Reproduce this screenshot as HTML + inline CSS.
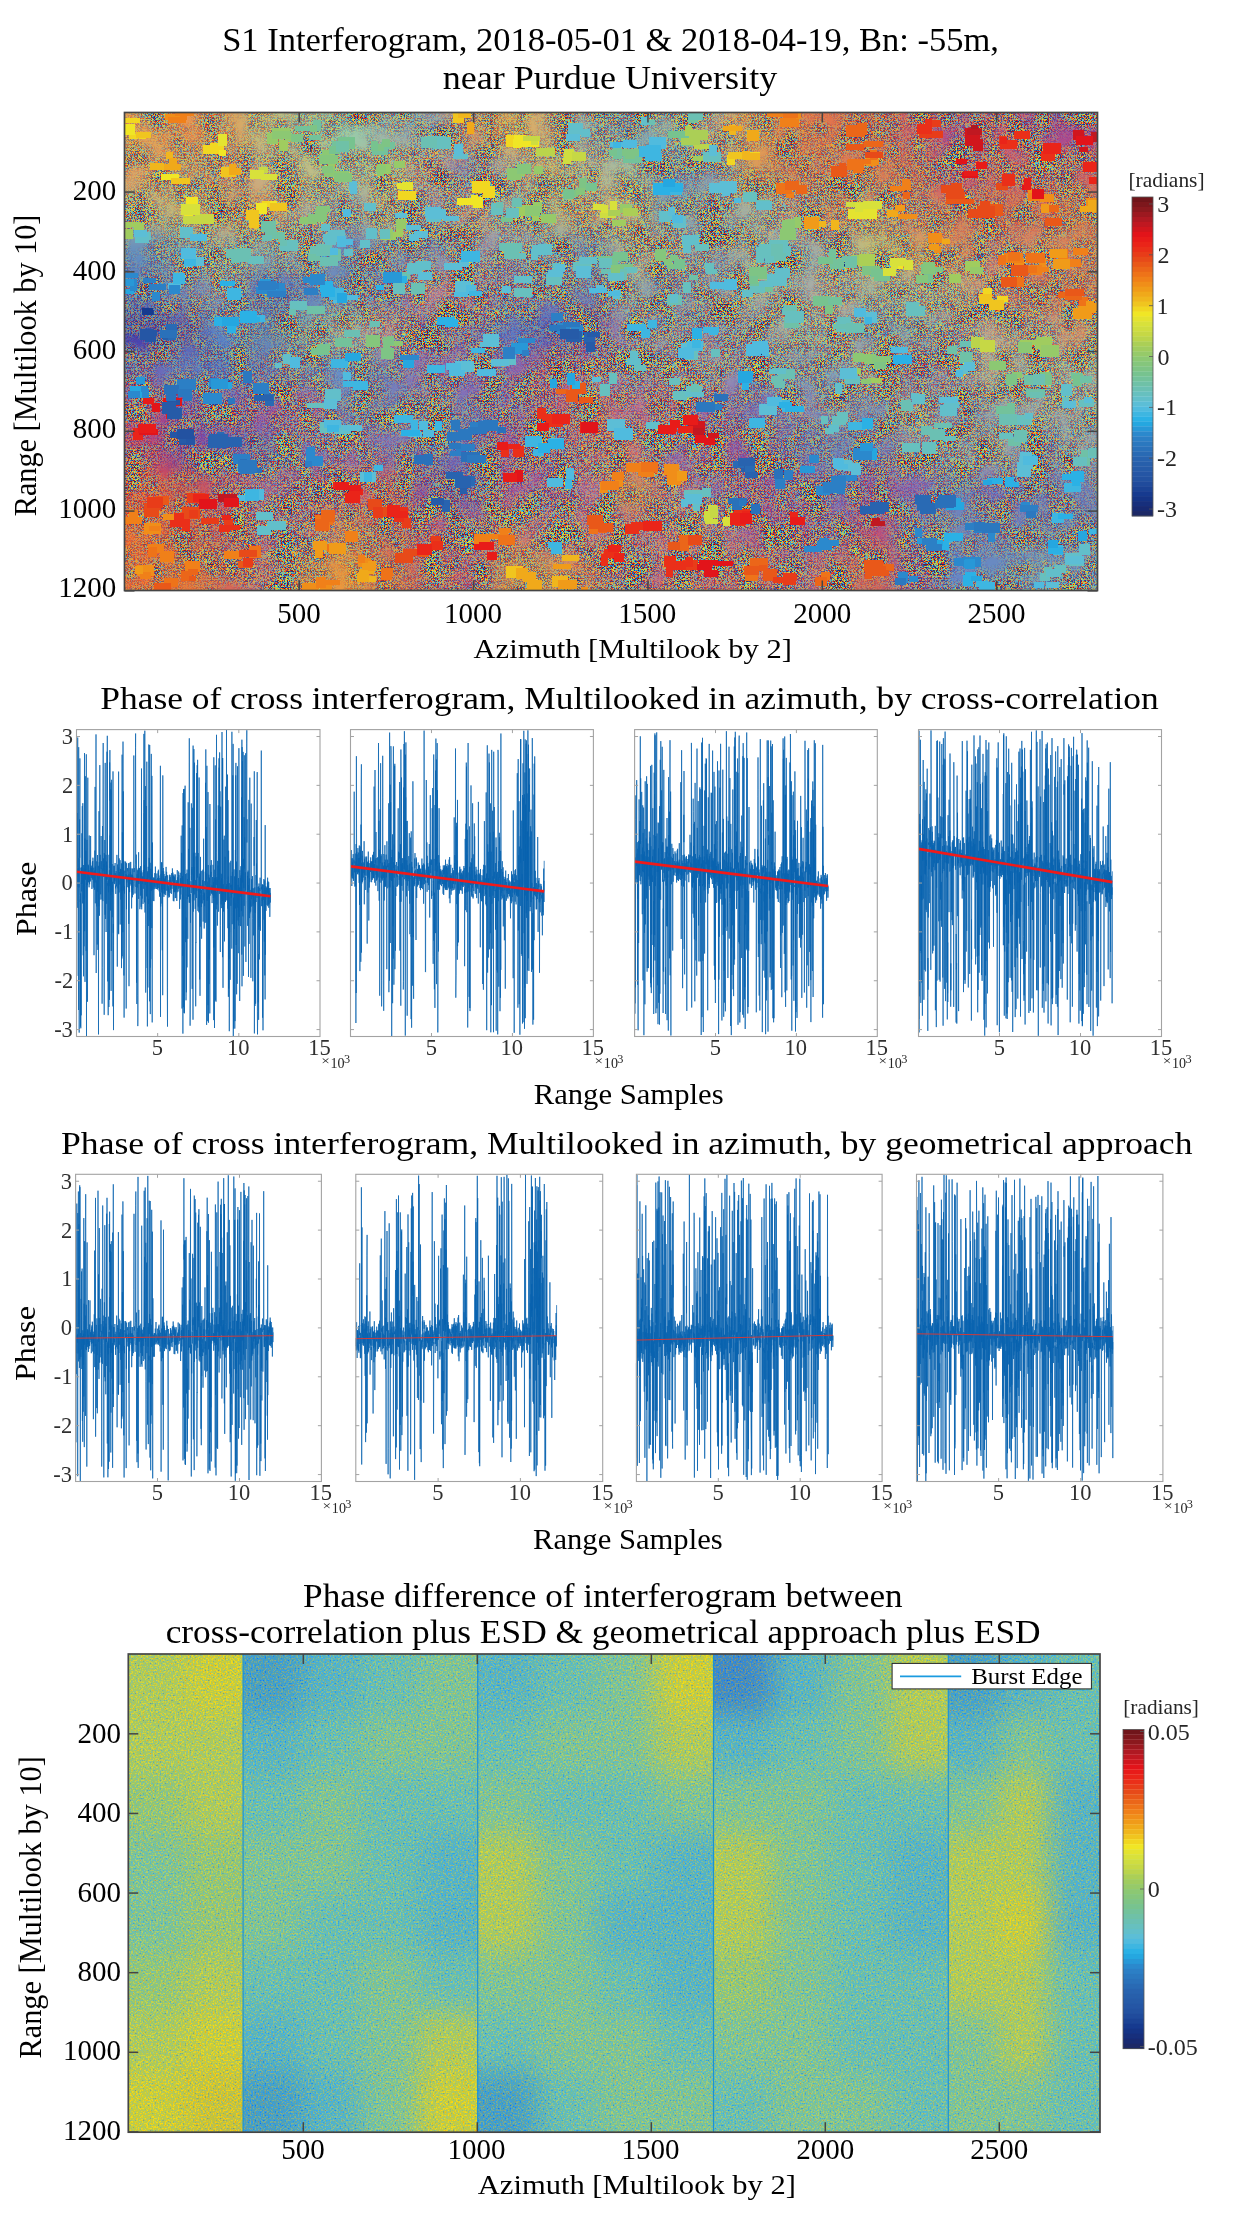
<!DOCTYPE html>
<html><head><meta charset="utf-8"><title>Interferogram figure</title>
<style>
html,body{margin:0;padding:0;background:#fff;width:1233px;height:2224px;overflow:hidden}
svg{display:block;will-change:transform}
text{font-family:"Liberation Serif",serif;font-kerning:none;white-space:pre}
</style></head><body>
<svg width="1233" height="2224" viewBox="0 0 1233 2224">
<defs>
<filter id="ftop" filterUnits="userSpaceOnUse" x="3.5" y="-6.25" width="1215.0" height="715.5" color-interpolation-filters="sRGB"><feGaussianBlur stdDeviation="11"/></filter>
<clipPath id="ftopc"><rect x="125.0" y="113.0" width="972.0" height="477.0"/></clipPath>
<filter id="ftopm" filterUnits="userSpaceOnUse" x="3.5" y="-6.25" width="1215.0" height="715.5" color-interpolation-filters="sRGB"><feGaussianBlur stdDeviation="11"/></filter>
<clipPath id="ftopmc"><rect x="125.0" y="113.0" width="972.0" height="477.0"/></clipPath>
<filter id="modTop" filterUnits="userSpaceOnUse" x="125" y="113" width="972" height="477" color-interpolation-filters="sRGB"><feTurbulence type="fractalNoise" baseFrequency="0.04" numOctaves="3" seed="4" result="t"/><feColorMatrix in="t" type="matrix" values="1 0 0 0 0  1 0 0 0 0  1 0 0 0 0  0 0 0 0 1" result="tg"/><feComposite in="SourceGraphic" in2="tg" operator="arithmetic" k1="0" k2="1" k3="1.6" k4="-0.8"/></filter>
<mask id="mTop" maskUnits="userSpaceOnUse" x="125" y="113" width="972" height="477"><g filter="url(#modTop)"><g clip-path="url(#ftopmc)"><g filter="url(#ftopm)">
<rect x="84.50" y="73.25" width="41.00" height="40.25" fill="#737373"/>
<rect x="125.00" y="73.25" width="41.00" height="40.25" fill="#737373"/>
<rect x="165.50" y="73.25" width="41.00" height="40.25" fill="#737373"/>
<rect x="206.00" y="73.25" width="41.00" height="40.25" fill="#737373"/>
<rect x="246.50" y="73.25" width="41.00" height="40.25" fill="#787878"/>
<rect x="287.00" y="73.25" width="41.00" height="40.25" fill="#777777"/>
<rect x="327.50" y="73.25" width="41.00" height="40.25" fill="#737373"/>
<rect x="368.00" y="73.25" width="41.00" height="40.25" fill="#7e7e7e"/>
<rect x="408.50" y="73.25" width="41.00" height="40.25" fill="#8f8f8f"/>
<rect x="449.00" y="73.25" width="41.00" height="40.25" fill="#8b8b8b"/>
<rect x="489.50" y="73.25" width="41.00" height="40.25" fill="#737373"/>
<rect x="530.00" y="73.25" width="41.00" height="40.25" fill="#868686"/>
<rect x="570.50" y="73.25" width="41.00" height="40.25" fill="#8e8e8e"/>
<rect x="611.00" y="73.25" width="41.00" height="40.25" fill="#878787"/>
<rect x="651.50" y="73.25" width="41.00" height="40.25" fill="#898989"/>
<rect x="692.00" y="73.25" width="41.00" height="40.25" fill="#989898"/>
<rect x="732.50" y="73.25" width="41.00" height="40.25" fill="#737373"/>
<rect x="773.00" y="73.25" width="41.00" height="40.25" fill="#737373"/>
<rect x="813.50" y="73.25" width="41.00" height="40.25" fill="#737373"/>
<rect x="854.00" y="73.25" width="41.00" height="40.25" fill="#878787"/>
<rect x="894.50" y="73.25" width="41.00" height="40.25" fill="#969696"/>
<rect x="935.00" y="73.25" width="41.00" height="40.25" fill="#b2b2b2"/>
<rect x="975.50" y="73.25" width="41.00" height="40.25" fill="#a3a3a3"/>
<rect x="1016.00" y="73.25" width="41.00" height="40.25" fill="#a8a8a8"/>
<rect x="1056.50" y="73.25" width="41.00" height="40.25" fill="#a7a7a7"/>
<rect x="1097.00" y="73.25" width="41.00" height="40.25" fill="#a7a7a7"/>
<rect x="84.50" y="113.00" width="41.00" height="40.25" fill="#737373"/>
<rect x="125.00" y="113.00" width="41.00" height="40.25" fill="#737373"/>
<rect x="165.50" y="113.00" width="41.00" height="40.25" fill="#737373"/>
<rect x="206.00" y="113.00" width="41.00" height="40.25" fill="#737373"/>
<rect x="246.50" y="113.00" width="41.00" height="40.25" fill="#787878"/>
<rect x="287.00" y="113.00" width="41.00" height="40.25" fill="#777777"/>
<rect x="327.50" y="113.00" width="41.00" height="40.25" fill="#737373"/>
<rect x="368.00" y="113.00" width="41.00" height="40.25" fill="#7e7e7e"/>
<rect x="408.50" y="113.00" width="41.00" height="40.25" fill="#8f8f8f"/>
<rect x="449.00" y="113.00" width="41.00" height="40.25" fill="#8b8b8b"/>
<rect x="489.50" y="113.00" width="41.00" height="40.25" fill="#737373"/>
<rect x="530.00" y="113.00" width="41.00" height="40.25" fill="#868686"/>
<rect x="570.50" y="113.00" width="41.00" height="40.25" fill="#8e8e8e"/>
<rect x="611.00" y="113.00" width="41.00" height="40.25" fill="#878787"/>
<rect x="651.50" y="113.00" width="41.00" height="40.25" fill="#898989"/>
<rect x="692.00" y="113.00" width="41.00" height="40.25" fill="#989898"/>
<rect x="732.50" y="113.00" width="41.00" height="40.25" fill="#737373"/>
<rect x="773.00" y="113.00" width="41.00" height="40.25" fill="#737373"/>
<rect x="813.50" y="113.00" width="41.00" height="40.25" fill="#737373"/>
<rect x="854.00" y="113.00" width="41.00" height="40.25" fill="#878787"/>
<rect x="894.50" y="113.00" width="41.00" height="40.25" fill="#969696"/>
<rect x="935.00" y="113.00" width="41.00" height="40.25" fill="#b2b2b2"/>
<rect x="975.50" y="113.00" width="41.00" height="40.25" fill="#a3a3a3"/>
<rect x="1016.00" y="113.00" width="41.00" height="40.25" fill="#a8a8a8"/>
<rect x="1056.50" y="113.00" width="41.00" height="40.25" fill="#a7a7a7"/>
<rect x="1097.00" y="113.00" width="41.00" height="40.25" fill="#a7a7a7"/>
<rect x="84.50" y="152.75" width="41.00" height="40.25" fill="#737373"/>
<rect x="125.00" y="152.75" width="41.00" height="40.25" fill="#737373"/>
<rect x="165.50" y="152.75" width="41.00" height="40.25" fill="#777777"/>
<rect x="206.00" y="152.75" width="41.00" height="40.25" fill="#898989"/>
<rect x="246.50" y="152.75" width="41.00" height="40.25" fill="#8f8f8f"/>
<rect x="287.00" y="152.75" width="41.00" height="40.25" fill="#7b7b7b"/>
<rect x="327.50" y="152.75" width="41.00" height="40.25" fill="#7e7e7e"/>
<rect x="368.00" y="152.75" width="41.00" height="40.25" fill="#818181"/>
<rect x="408.50" y="152.75" width="41.00" height="40.25" fill="#9a9a9a"/>
<rect x="449.00" y="152.75" width="41.00" height="40.25" fill="#a0a0a0"/>
<rect x="489.50" y="152.75" width="41.00" height="40.25" fill="#999999"/>
<rect x="530.00" y="152.75" width="41.00" height="40.25" fill="#7b7b7b"/>
<rect x="570.50" y="152.75" width="41.00" height="40.25" fill="#888888"/>
<rect x="611.00" y="152.75" width="41.00" height="40.25" fill="#828282"/>
<rect x="651.50" y="152.75" width="41.00" height="40.25" fill="#8f8f8f"/>
<rect x="692.00" y="152.75" width="41.00" height="40.25" fill="#9e9e9e"/>
<rect x="732.50" y="152.75" width="41.00" height="40.25" fill="#777777"/>
<rect x="773.00" y="152.75" width="41.00" height="40.25" fill="#858585"/>
<rect x="813.50" y="152.75" width="41.00" height="40.25" fill="#848484"/>
<rect x="854.00" y="152.75" width="41.00" height="40.25" fill="#7d7d7d"/>
<rect x="894.50" y="152.75" width="41.00" height="40.25" fill="#898989"/>
<rect x="935.00" y="152.75" width="41.00" height="40.25" fill="#aaaaaa"/>
<rect x="975.50" y="152.75" width="41.00" height="40.25" fill="#989898"/>
<rect x="1016.00" y="152.75" width="41.00" height="40.25" fill="#a7a7a7"/>
<rect x="1056.50" y="152.75" width="41.00" height="40.25" fill="#9a9a9a"/>
<rect x="1097.00" y="152.75" width="41.00" height="40.25" fill="#9a9a9a"/>
<rect x="84.50" y="192.50" width="41.00" height="40.25" fill="#858585"/>
<rect x="125.00" y="192.50" width="41.00" height="40.25" fill="#858585"/>
<rect x="165.50" y="192.50" width="41.00" height="40.25" fill="#828282"/>
<rect x="206.00" y="192.50" width="41.00" height="40.25" fill="#8c8c8c"/>
<rect x="246.50" y="192.50" width="41.00" height="40.25" fill="#868686"/>
<rect x="287.00" y="192.50" width="41.00" height="40.25" fill="#969696"/>
<rect x="327.50" y="192.50" width="41.00" height="40.25" fill="#979797"/>
<rect x="368.00" y="192.50" width="41.00" height="40.25" fill="#808080"/>
<rect x="408.50" y="192.50" width="41.00" height="40.25" fill="#a7a7a7"/>
<rect x="449.00" y="192.50" width="41.00" height="40.25" fill="#9d9d9d"/>
<rect x="489.50" y="192.50" width="41.00" height="40.25" fill="#969696"/>
<rect x="530.00" y="192.50" width="41.00" height="40.25" fill="#7b7b7b"/>
<rect x="570.50" y="192.50" width="41.00" height="40.25" fill="#8e8e8e"/>
<rect x="611.00" y="192.50" width="41.00" height="40.25" fill="#797979"/>
<rect x="651.50" y="192.50" width="41.00" height="40.25" fill="#8d8d8d"/>
<rect x="692.00" y="192.50" width="41.00" height="40.25" fill="#949494"/>
<rect x="732.50" y="192.50" width="41.00" height="40.25" fill="#939393"/>
<rect x="773.00" y="192.50" width="41.00" height="40.25" fill="#a4a4a4"/>
<rect x="813.50" y="192.50" width="41.00" height="40.25" fill="#8f8f8f"/>
<rect x="854.00" y="192.50" width="41.00" height="40.25" fill="#939393"/>
<rect x="894.50" y="192.50" width="41.00" height="40.25" fill="#9b9b9b"/>
<rect x="935.00" y="192.50" width="41.00" height="40.25" fill="#868686"/>
<rect x="975.50" y="192.50" width="41.00" height="40.25" fill="#7c7c7c"/>
<rect x="1016.00" y="192.50" width="41.00" height="40.25" fill="#838383"/>
<rect x="1056.50" y="192.50" width="41.00" height="40.25" fill="#7b7b7b"/>
<rect x="1097.00" y="192.50" width="41.00" height="40.25" fill="#7b7b7b"/>
<rect x="84.50" y="232.25" width="41.00" height="40.25" fill="#737373"/>
<rect x="125.00" y="232.25" width="41.00" height="40.25" fill="#737373"/>
<rect x="165.50" y="232.25" width="41.00" height="40.25" fill="#878787"/>
<rect x="206.00" y="232.25" width="41.00" height="40.25" fill="#919191"/>
<rect x="246.50" y="232.25" width="41.00" height="40.25" fill="#8c8c8c"/>
<rect x="287.00" y="232.25" width="41.00" height="40.25" fill="#929292"/>
<rect x="327.50" y="232.25" width="41.00" height="40.25" fill="#787878"/>
<rect x="368.00" y="232.25" width="41.00" height="40.25" fill="#949494"/>
<rect x="408.50" y="232.25" width="41.00" height="40.25" fill="#969696"/>
<rect x="449.00" y="232.25" width="41.00" height="40.25" fill="#a6a6a6"/>
<rect x="489.50" y="232.25" width="41.00" height="40.25" fill="#9f9f9f"/>
<rect x="530.00" y="232.25" width="41.00" height="40.25" fill="#919191"/>
<rect x="570.50" y="232.25" width="41.00" height="40.25" fill="#838383"/>
<rect x="611.00" y="232.25" width="41.00" height="40.25" fill="#8b8b8b"/>
<rect x="651.50" y="232.25" width="41.00" height="40.25" fill="#9e9e9e"/>
<rect x="692.00" y="232.25" width="41.00" height="40.25" fill="#999999"/>
<rect x="732.50" y="232.25" width="41.00" height="40.25" fill="#8a8a8a"/>
<rect x="773.00" y="232.25" width="41.00" height="40.25" fill="#8f8f8f"/>
<rect x="813.50" y="232.25" width="41.00" height="40.25" fill="#8f8f8f"/>
<rect x="854.00" y="232.25" width="41.00" height="40.25" fill="#7b7b7b"/>
<rect x="894.50" y="232.25" width="41.00" height="40.25" fill="#848484"/>
<rect x="935.00" y="232.25" width="41.00" height="40.25" fill="#8f8f8f"/>
<rect x="975.50" y="232.25" width="41.00" height="40.25" fill="#a8a8a8"/>
<rect x="1016.00" y="232.25" width="41.00" height="40.25" fill="#999999"/>
<rect x="1056.50" y="232.25" width="41.00" height="40.25" fill="#909090"/>
<rect x="1097.00" y="232.25" width="41.00" height="40.25" fill="#909090"/>
<rect x="84.50" y="272.00" width="41.00" height="40.25" fill="#737373"/>
<rect x="125.00" y="272.00" width="41.00" height="40.25" fill="#737373"/>
<rect x="165.50" y="272.00" width="41.00" height="40.25" fill="#969696"/>
<rect x="206.00" y="272.00" width="41.00" height="40.25" fill="#989898"/>
<rect x="246.50" y="272.00" width="41.00" height="40.25" fill="#737373"/>
<rect x="287.00" y="272.00" width="41.00" height="40.25" fill="#737373"/>
<rect x="327.50" y="272.00" width="41.00" height="40.25" fill="#808080"/>
<rect x="368.00" y="272.00" width="41.00" height="40.25" fill="#9b9b9b"/>
<rect x="408.50" y="272.00" width="41.00" height="40.25" fill="#ababab"/>
<rect x="449.00" y="272.00" width="41.00" height="40.25" fill="#b9b9b9"/>
<rect x="489.50" y="272.00" width="41.00" height="40.25" fill="#9a9a9a"/>
<rect x="530.00" y="272.00" width="41.00" height="40.25" fill="#929292"/>
<rect x="570.50" y="272.00" width="41.00" height="40.25" fill="#929292"/>
<rect x="611.00" y="272.00" width="41.00" height="40.25" fill="#949494"/>
<rect x="651.50" y="272.00" width="41.00" height="40.25" fill="#999999"/>
<rect x="692.00" y="272.00" width="41.00" height="40.25" fill="#a4a4a4"/>
<rect x="732.50" y="272.00" width="41.00" height="40.25" fill="#909090"/>
<rect x="773.00" y="272.00" width="41.00" height="40.25" fill="#959595"/>
<rect x="813.50" y="272.00" width="41.00" height="40.25" fill="#949494"/>
<rect x="854.00" y="272.00" width="41.00" height="40.25" fill="#8a8a8a"/>
<rect x="894.50" y="272.00" width="41.00" height="40.25" fill="#8c8c8c"/>
<rect x="935.00" y="272.00" width="41.00" height="40.25" fill="#8f8f8f"/>
<rect x="975.50" y="272.00" width="41.00" height="40.25" fill="#a2a2a2"/>
<rect x="1016.00" y="272.00" width="41.00" height="40.25" fill="#8f8f8f"/>
<rect x="1056.50" y="272.00" width="41.00" height="40.25" fill="#909090"/>
<rect x="1097.00" y="272.00" width="41.00" height="40.25" fill="#909090"/>
<rect x="84.50" y="311.75" width="41.00" height="40.25" fill="#737373"/>
<rect x="125.00" y="311.75" width="41.00" height="40.25" fill="#737373"/>
<rect x="165.50" y="311.75" width="41.00" height="40.25" fill="#737373"/>
<rect x="206.00" y="311.75" width="41.00" height="40.25" fill="#737373"/>
<rect x="246.50" y="311.75" width="41.00" height="40.25" fill="#848484"/>
<rect x="287.00" y="311.75" width="41.00" height="40.25" fill="#9a9a9a"/>
<rect x="327.50" y="311.75" width="41.00" height="40.25" fill="#989898"/>
<rect x="368.00" y="311.75" width="41.00" height="40.25" fill="#a5a5a5"/>
<rect x="408.50" y="311.75" width="41.00" height="40.25" fill="#adadad"/>
<rect x="449.00" y="311.75" width="41.00" height="40.25" fill="#a8a8a8"/>
<rect x="489.50" y="311.75" width="41.00" height="40.25" fill="#737373"/>
<rect x="530.00" y="311.75" width="41.00" height="40.25" fill="#737373"/>
<rect x="570.50" y="311.75" width="41.00" height="40.25" fill="#a2a2a2"/>
<rect x="611.00" y="311.75" width="41.00" height="40.25" fill="#a9a9a9"/>
<rect x="651.50" y="311.75" width="41.00" height="40.25" fill="#9f9f9f"/>
<rect x="692.00" y="311.75" width="41.00" height="40.25" fill="#b3b3b3"/>
<rect x="732.50" y="311.75" width="41.00" height="40.25" fill="#a2a2a2"/>
<rect x="773.00" y="311.75" width="41.00" height="40.25" fill="#919191"/>
<rect x="813.50" y="311.75" width="41.00" height="40.25" fill="#a3a3a3"/>
<rect x="854.00" y="311.75" width="41.00" height="40.25" fill="#8e8e8e"/>
<rect x="894.50" y="311.75" width="41.00" height="40.25" fill="#939393"/>
<rect x="935.00" y="311.75" width="41.00" height="40.25" fill="#a4a4a4"/>
<rect x="975.50" y="311.75" width="41.00" height="40.25" fill="#999999"/>
<rect x="1016.00" y="311.75" width="41.00" height="40.25" fill="#9c9c9c"/>
<rect x="1056.50" y="311.75" width="41.00" height="40.25" fill="#989898"/>
<rect x="1097.00" y="311.75" width="41.00" height="40.25" fill="#989898"/>
<rect x="84.50" y="351.50" width="41.00" height="40.25" fill="#888888"/>
<rect x="125.00" y="351.50" width="41.00" height="40.25" fill="#888888"/>
<rect x="165.50" y="351.50" width="41.00" height="40.25" fill="#737373"/>
<rect x="206.00" y="351.50" width="41.00" height="40.25" fill="#737373"/>
<rect x="246.50" y="351.50" width="41.00" height="40.25" fill="#757575"/>
<rect x="287.00" y="351.50" width="41.00" height="40.25" fill="#8d8d8d"/>
<rect x="327.50" y="351.50" width="41.00" height="40.25" fill="#737373"/>
<rect x="368.00" y="351.50" width="41.00" height="40.25" fill="#838383"/>
<rect x="408.50" y="351.50" width="41.00" height="40.25" fill="#a0a0a0"/>
<rect x="449.00" y="351.50" width="41.00" height="40.25" fill="#9c9c9c"/>
<rect x="489.50" y="351.50" width="41.00" height="40.25" fill="#a4a4a4"/>
<rect x="530.00" y="351.50" width="41.00" height="40.25" fill="#b1b1b1"/>
<rect x="570.50" y="351.50" width="41.00" height="40.25" fill="#b3b3b3"/>
<rect x="611.00" y="351.50" width="41.00" height="40.25" fill="#a8a8a8"/>
<rect x="651.50" y="351.50" width="41.00" height="40.25" fill="#b1b1b1"/>
<rect x="692.00" y="351.50" width="41.00" height="40.25" fill="#a6a6a6"/>
<rect x="732.50" y="351.50" width="41.00" height="40.25" fill="#959595"/>
<rect x="773.00" y="351.50" width="41.00" height="40.25" fill="#8e8e8e"/>
<rect x="813.50" y="351.50" width="41.00" height="40.25" fill="#7f7f7f"/>
<rect x="854.00" y="351.50" width="41.00" height="40.25" fill="#9f9f9f"/>
<rect x="894.50" y="351.50" width="41.00" height="40.25" fill="#adadad"/>
<rect x="935.00" y="351.50" width="41.00" height="40.25" fill="#a7a7a7"/>
<rect x="975.50" y="351.50" width="41.00" height="40.25" fill="#8a8a8a"/>
<rect x="1016.00" y="351.50" width="41.00" height="40.25" fill="#8f8f8f"/>
<rect x="1056.50" y="351.50" width="41.00" height="40.25" fill="#838383"/>
<rect x="1097.00" y="351.50" width="41.00" height="40.25" fill="#838383"/>
<rect x="84.50" y="391.25" width="41.00" height="40.25" fill="#9c9c9c"/>
<rect x="125.00" y="391.25" width="41.00" height="40.25" fill="#9c9c9c"/>
<rect x="165.50" y="391.25" width="41.00" height="40.25" fill="#919191"/>
<rect x="206.00" y="391.25" width="41.00" height="40.25" fill="#a1a1a1"/>
<rect x="246.50" y="391.25" width="41.00" height="40.25" fill="#a7a7a7"/>
<rect x="287.00" y="391.25" width="41.00" height="40.25" fill="#acacac"/>
<rect x="327.50" y="391.25" width="41.00" height="40.25" fill="#8c8c8c"/>
<rect x="368.00" y="391.25" width="41.00" height="40.25" fill="#939393"/>
<rect x="408.50" y="391.25" width="41.00" height="40.25" fill="#a6a6a6"/>
<rect x="449.00" y="391.25" width="41.00" height="40.25" fill="#8c8c8c"/>
<rect x="489.50" y="391.25" width="41.00" height="40.25" fill="#a4a4a4"/>
<rect x="530.00" y="391.25" width="41.00" height="40.25" fill="#aaaaaa"/>
<rect x="570.50" y="391.25" width="41.00" height="40.25" fill="#a1a1a1"/>
<rect x="611.00" y="391.25" width="41.00" height="40.25" fill="#b3b3b3"/>
<rect x="651.50" y="391.25" width="41.00" height="40.25" fill="#b0b0b0"/>
<rect x="692.00" y="391.25" width="41.00" height="40.25" fill="#a4a4a4"/>
<rect x="732.50" y="391.25" width="41.00" height="40.25" fill="#949494"/>
<rect x="773.00" y="391.25" width="41.00" height="40.25" fill="#a4a4a4"/>
<rect x="813.50" y="391.25" width="41.00" height="40.25" fill="#919191"/>
<rect x="854.00" y="391.25" width="41.00" height="40.25" fill="#929292"/>
<rect x="894.50" y="391.25" width="41.00" height="40.25" fill="#a2a2a2"/>
<rect x="935.00" y="391.25" width="41.00" height="40.25" fill="#a4a4a4"/>
<rect x="975.50" y="391.25" width="41.00" height="40.25" fill="#969696"/>
<rect x="1016.00" y="391.25" width="41.00" height="40.25" fill="#989898"/>
<rect x="1056.50" y="391.25" width="41.00" height="40.25" fill="#8d8d8d"/>
<rect x="1097.00" y="391.25" width="41.00" height="40.25" fill="#8d8d8d"/>
<rect x="84.50" y="431.00" width="41.00" height="40.25" fill="#8b8b8b"/>
<rect x="125.00" y="431.00" width="41.00" height="40.25" fill="#8b8b8b"/>
<rect x="165.50" y="431.00" width="41.00" height="40.25" fill="#8e8e8e"/>
<rect x="206.00" y="431.00" width="41.00" height="40.25" fill="#858585"/>
<rect x="246.50" y="431.00" width="41.00" height="40.25" fill="#838383"/>
<rect x="287.00" y="431.00" width="41.00" height="40.25" fill="#9d9d9d"/>
<rect x="327.50" y="431.00" width="41.00" height="40.25" fill="#ababab"/>
<rect x="368.00" y="431.00" width="41.00" height="40.25" fill="#9f9f9f"/>
<rect x="408.50" y="431.00" width="41.00" height="40.25" fill="#888888"/>
<rect x="449.00" y="431.00" width="41.00" height="40.25" fill="#858585"/>
<rect x="489.50" y="431.00" width="41.00" height="40.25" fill="#a4a4a4"/>
<rect x="530.00" y="431.00" width="41.00" height="40.25" fill="#adadad"/>
<rect x="570.50" y="431.00" width="41.00" height="40.25" fill="#ababab"/>
<rect x="611.00" y="431.00" width="41.00" height="40.25" fill="#aaaaaa"/>
<rect x="651.50" y="431.00" width="41.00" height="40.25" fill="#a9a9a9"/>
<rect x="692.00" y="431.00" width="41.00" height="40.25" fill="#b2b2b2"/>
<rect x="732.50" y="431.00" width="41.00" height="40.25" fill="#9d9d9d"/>
<rect x="773.00" y="431.00" width="41.00" height="40.25" fill="#8e8e8e"/>
<rect x="813.50" y="431.00" width="41.00" height="40.25" fill="#7b7b7b"/>
<rect x="854.00" y="431.00" width="41.00" height="40.25" fill="#8d8d8d"/>
<rect x="894.50" y="431.00" width="41.00" height="40.25" fill="#a8a8a8"/>
<rect x="935.00" y="431.00" width="41.00" height="40.25" fill="#9d9d9d"/>
<rect x="975.50" y="431.00" width="41.00" height="40.25" fill="#949494"/>
<rect x="1016.00" y="431.00" width="41.00" height="40.25" fill="#939393"/>
<rect x="1056.50" y="431.00" width="41.00" height="40.25" fill="#989898"/>
<rect x="1097.00" y="431.00" width="41.00" height="40.25" fill="#989898"/>
<rect x="84.50" y="470.75" width="41.00" height="40.25" fill="#737373"/>
<rect x="125.00" y="470.75" width="41.00" height="40.25" fill="#737373"/>
<rect x="165.50" y="470.75" width="41.00" height="40.25" fill="#797979"/>
<rect x="206.00" y="470.75" width="41.00" height="40.25" fill="#9d9d9d"/>
<rect x="246.50" y="470.75" width="41.00" height="40.25" fill="#c0c0c0"/>
<rect x="287.00" y="470.75" width="41.00" height="40.25" fill="#bababa"/>
<rect x="327.50" y="470.75" width="41.00" height="40.25" fill="#a9a9a9"/>
<rect x="368.00" y="470.75" width="41.00" height="40.25" fill="#999999"/>
<rect x="408.50" y="470.75" width="41.00" height="40.25" fill="#9a9a9a"/>
<rect x="449.00" y="470.75" width="41.00" height="40.25" fill="#8e8e8e"/>
<rect x="489.50" y="470.75" width="41.00" height="40.25" fill="#aeaeae"/>
<rect x="530.00" y="470.75" width="41.00" height="40.25" fill="#afafaf"/>
<rect x="570.50" y="470.75" width="41.00" height="40.25" fill="#b2b2b2"/>
<rect x="611.00" y="470.75" width="41.00" height="40.25" fill="#7c7c7c"/>
<rect x="651.50" y="470.75" width="41.00" height="40.25" fill="#b5b5b5"/>
<rect x="692.00" y="470.75" width="41.00" height="40.25" fill="#afafaf"/>
<rect x="732.50" y="470.75" width="41.00" height="40.25" fill="#a7a7a7"/>
<rect x="773.00" y="470.75" width="41.00" height="40.25" fill="#a7a7a7"/>
<rect x="813.50" y="470.75" width="41.00" height="40.25" fill="#949494"/>
<rect x="854.00" y="470.75" width="41.00" height="40.25" fill="#9b9b9b"/>
<rect x="894.50" y="470.75" width="41.00" height="40.25" fill="#949494"/>
<rect x="935.00" y="470.75" width="41.00" height="40.25" fill="#838383"/>
<rect x="975.50" y="470.75" width="41.00" height="40.25" fill="#8c8c8c"/>
<rect x="1016.00" y="470.75" width="41.00" height="40.25" fill="#848484"/>
<rect x="1056.50" y="470.75" width="41.00" height="40.25" fill="#848484"/>
<rect x="1097.00" y="470.75" width="41.00" height="40.25" fill="#848484"/>
<rect x="84.50" y="510.50" width="41.00" height="40.25" fill="#737373"/>
<rect x="125.00" y="510.50" width="41.00" height="40.25" fill="#737373"/>
<rect x="165.50" y="510.50" width="41.00" height="40.25" fill="#737373"/>
<rect x="206.00" y="510.50" width="41.00" height="40.25" fill="#969696"/>
<rect x="246.50" y="510.50" width="41.00" height="40.25" fill="#bebebe"/>
<rect x="287.00" y="510.50" width="41.00" height="40.25" fill="#bababa"/>
<rect x="327.50" y="510.50" width="41.00" height="40.25" fill="#909090"/>
<rect x="368.00" y="510.50" width="41.00" height="40.25" fill="#9d9d9d"/>
<rect x="408.50" y="510.50" width="41.00" height="40.25" fill="#b4b4b4"/>
<rect x="449.00" y="510.50" width="41.00" height="40.25" fill="#bbbbbb"/>
<rect x="489.50" y="510.50" width="41.00" height="40.25" fill="#a8a8a8"/>
<rect x="530.00" y="510.50" width="41.00" height="40.25" fill="#b6b6b6"/>
<rect x="570.50" y="510.50" width="41.00" height="40.25" fill="#b7b7b7"/>
<rect x="611.00" y="510.50" width="41.00" height="40.25" fill="#b6b6b6"/>
<rect x="651.50" y="510.50" width="41.00" height="40.25" fill="#b1b1b1"/>
<rect x="692.00" y="510.50" width="41.00" height="40.25" fill="#bcbcbc"/>
<rect x="732.50" y="510.50" width="41.00" height="40.25" fill="#b4b4b4"/>
<rect x="773.00" y="510.50" width="41.00" height="40.25" fill="#adadad"/>
<rect x="813.50" y="510.50" width="41.00" height="40.25" fill="#afafaf"/>
<rect x="854.00" y="510.50" width="41.00" height="40.25" fill="#a0a0a0"/>
<rect x="894.50" y="510.50" width="41.00" height="40.25" fill="#909090"/>
<rect x="935.00" y="510.50" width="41.00" height="40.25" fill="#848484"/>
<rect x="975.50" y="510.50" width="41.00" height="40.25" fill="#787878"/>
<rect x="1016.00" y="510.50" width="41.00" height="40.25" fill="#7f7f7f"/>
<rect x="1056.50" y="510.50" width="41.00" height="40.25" fill="#7b7b7b"/>
<rect x="1097.00" y="510.50" width="41.00" height="40.25" fill="#7b7b7b"/>
<rect x="84.50" y="550.25" width="41.00" height="40.25" fill="#737373"/>
<rect x="125.00" y="550.25" width="41.00" height="40.25" fill="#737373"/>
<rect x="165.50" y="550.25" width="41.00" height="40.25" fill="#737373"/>
<rect x="206.00" y="550.25" width="41.00" height="40.25" fill="#8c8c8c"/>
<rect x="246.50" y="550.25" width="41.00" height="40.25" fill="#b9b9b9"/>
<rect x="287.00" y="550.25" width="41.00" height="40.25" fill="#909090"/>
<rect x="327.50" y="550.25" width="41.00" height="40.25" fill="#737373"/>
<rect x="368.00" y="550.25" width="41.00" height="40.25" fill="#797979"/>
<rect x="408.50" y="550.25" width="41.00" height="40.25" fill="#9f9f9f"/>
<rect x="449.00" y="550.25" width="41.00" height="40.25" fill="#b6b6b6"/>
<rect x="489.50" y="550.25" width="41.00" height="40.25" fill="#7d7d7d"/>
<rect x="530.00" y="550.25" width="41.00" height="40.25" fill="#7e7e7e"/>
<rect x="570.50" y="550.25" width="41.00" height="40.25" fill="#999999"/>
<rect x="611.00" y="550.25" width="41.00" height="40.25" fill="#b3b3b3"/>
<rect x="651.50" y="550.25" width="41.00" height="40.25" fill="#aaaaaa"/>
<rect x="692.00" y="550.25" width="41.00" height="40.25" fill="#b3b3b3"/>
<rect x="732.50" y="550.25" width="41.00" height="40.25" fill="#a7a7a7"/>
<rect x="773.00" y="550.25" width="41.00" height="40.25" fill="#b8b8b8"/>
<rect x="813.50" y="550.25" width="41.00" height="40.25" fill="#a9a9a9"/>
<rect x="854.00" y="550.25" width="41.00" height="40.25" fill="#898989"/>
<rect x="894.50" y="550.25" width="41.00" height="40.25" fill="#a3a3a3"/>
<rect x="935.00" y="550.25" width="41.00" height="40.25" fill="#737373"/>
<rect x="975.50" y="550.25" width="41.00" height="40.25" fill="#737373"/>
<rect x="1016.00" y="550.25" width="41.00" height="40.25" fill="#828282"/>
<rect x="1056.50" y="550.25" width="41.00" height="40.25" fill="#818181"/>
<rect x="1097.00" y="550.25" width="41.00" height="40.25" fill="#818181"/>
<rect x="84.50" y="590.00" width="41.00" height="40.25" fill="#737373"/>
<rect x="125.00" y="590.00" width="41.00" height="40.25" fill="#737373"/>
<rect x="165.50" y="590.00" width="41.00" height="40.25" fill="#737373"/>
<rect x="206.00" y="590.00" width="41.00" height="40.25" fill="#8c8c8c"/>
<rect x="246.50" y="590.00" width="41.00" height="40.25" fill="#b9b9b9"/>
<rect x="287.00" y="590.00" width="41.00" height="40.25" fill="#909090"/>
<rect x="327.50" y="590.00" width="41.00" height="40.25" fill="#737373"/>
<rect x="368.00" y="590.00" width="41.00" height="40.25" fill="#797979"/>
<rect x="408.50" y="590.00" width="41.00" height="40.25" fill="#9f9f9f"/>
<rect x="449.00" y="590.00" width="41.00" height="40.25" fill="#b6b6b6"/>
<rect x="489.50" y="590.00" width="41.00" height="40.25" fill="#7d7d7d"/>
<rect x="530.00" y="590.00" width="41.00" height="40.25" fill="#7e7e7e"/>
<rect x="570.50" y="590.00" width="41.00" height="40.25" fill="#999999"/>
<rect x="611.00" y="590.00" width="41.00" height="40.25" fill="#b3b3b3"/>
<rect x="651.50" y="590.00" width="41.00" height="40.25" fill="#aaaaaa"/>
<rect x="692.00" y="590.00" width="41.00" height="40.25" fill="#b3b3b3"/>
<rect x="732.50" y="590.00" width="41.00" height="40.25" fill="#a7a7a7"/>
<rect x="773.00" y="590.00" width="41.00" height="40.25" fill="#b8b8b8"/>
<rect x="813.50" y="590.00" width="41.00" height="40.25" fill="#a9a9a9"/>
<rect x="854.00" y="590.00" width="41.00" height="40.25" fill="#898989"/>
<rect x="894.50" y="590.00" width="41.00" height="40.25" fill="#a3a3a3"/>
<rect x="935.00" y="590.00" width="41.00" height="40.25" fill="#737373"/>
<rect x="975.50" y="590.00" width="41.00" height="40.25" fill="#737373"/>
<rect x="1016.00" y="590.00" width="41.00" height="40.25" fill="#828282"/>
<rect x="1056.50" y="590.00" width="41.00" height="40.25" fill="#818181"/>
<rect x="1097.00" y="590.00" width="41.00" height="40.25" fill="#818181"/>
</g></g></g></mask>
<filter id="spkTop" filterUnits="userSpaceOnUse" x="125.0" y="113.0" width="972.0" height="477.0" color-interpolation-filters="sRGB"><feTurbulence type="fractalNoise" baseFrequency="0.7" numOctaves="1" seed="11"/><feColorMatrix type="matrix" values="1 0 0 0 0  1 0 0 0 0  1 0 0 0 0  0 0 0 0 1"/><feComponentTransfer><feFuncR type="table" tableValues="0.118 0.118 0.118 0.118 0.118 0.118 0.118 0.118 0.118 0.118 0.118 0.118 0.118 0.118 0.118 0.118 0.118 0.118 0.118 0.114 0.114 0.114 0.110 0.110 0.106 0.102 0.098 0.098 0.094 0.090 0.086 0.082 0.078 0.090 0.110 0.133 0.141 0.149 0.153 0.161 0.169 0.169 0.141 0.275 0.376 0.424 0.463 0.525 0.616 0.745 0.839 0.949 0.941 0.941 0.941 0.922 0.906 0.914 0.918 0.906 0.843 0.769 0.706 0.647 0.596 0.553 0.525 0.502 0.482 0.467 0.455 0.447 0.435 0.431 0.427 0.424 0.420 0.416 0.416 0.416 0.416 0.412 0.412 0.412 0.412 0.412 0.412 0.412 0.412 0.412 0.412 0.412 0.412 0.412 0.412 0.412"/><feFuncG type="table" tableValues="0.157 0.157 0.157 0.157 0.157 0.157 0.157 0.157 0.157 0.157 0.157 0.157 0.157 0.157 0.157 0.157 0.157 0.157 0.157 0.157 0.157 0.157 0.157 0.157 0.157 0.157 0.157 0.161 0.169 0.176 0.188 0.200 0.212 0.239 0.271 0.306 0.329 0.353 0.380 0.424 0.471 0.541 0.667 0.725 0.749 0.757 0.765 0.780 0.796 0.835 0.878 0.898 0.737 0.620 0.506 0.404 0.302 0.212 0.137 0.090 0.086 0.090 0.098 0.098 0.098 0.098 0.094 0.090 0.090 0.086 0.086 0.082 0.082 0.082 0.082 0.078 0.078 0.078 0.078 0.078 0.078 0.078 0.078 0.078 0.078 0.078 0.078 0.078 0.078 0.078 0.078 0.078 0.078 0.078 0.078 0.078"/><feFuncB type="table" tableValues="0.373 0.373 0.373 0.373 0.373 0.373 0.373 0.373 0.373 0.373 0.373 0.373 0.373 0.373 0.373 0.376 0.376 0.376 0.376 0.380 0.384 0.388 0.392 0.396 0.404 0.416 0.427 0.439 0.455 0.471 0.490 0.514 0.545 0.569 0.592 0.620 0.639 0.659 0.678 0.710 0.753 0.808 0.886 0.878 0.804 0.690 0.573 0.478 0.384 0.290 0.239 0.137 0.118 0.098 0.098 0.098 0.098 0.098 0.098 0.098 0.110 0.125 0.137 0.129 0.122 0.118 0.114 0.110 0.110 0.106 0.106 0.102 0.102 0.102 0.102 0.098 0.098 0.098 0.098 0.098 0.098 0.098 0.098 0.098 0.098 0.098 0.098 0.098 0.098 0.098 0.098 0.098 0.098 0.098 0.098 0.098"/></feComponentTransfer></filter>
<clipPath id="clipTopImg"><rect x="125" y="113" width="972" height="477"/></clipPath>
<filter id="fb0" filterUnits="userSpaceOnUse" x="-43.89999999999998" y="1474.6750000000002" width="459.19999999999993" height="836.8499999999997" color-interpolation-filters="sRGB"><feGaussianBlur stdDeviation="14"/></filter>
<clipPath id="fb0c"><rect x="128.3" y="1654.0" width="114.79999999999998" height="478.1999999999998"/></clipPath>
<filter id="fb1" filterUnits="userSpaceOnUse" x="67.15" y="1474.6750000000002" width="586.5" height="836.8499999999997" color-interpolation-filters="sRGB"><feGaussianBlur stdDeviation="14"/></filter>
<clipPath id="fb1c"><rect x="243.1" y="1654.0" width="234.6" height="478.1999999999998"/></clipPath>
<filter id="fb2" filterUnits="userSpaceOnUse" x="300.84999999999997" y="1474.6750000000002" width="589.5" height="836.8499999999997" color-interpolation-filters="sRGB"><feGaussianBlur stdDeviation="14"/></filter>
<clipPath id="fb2c"><rect x="477.7" y="1654.0" width="235.8" height="478.1999999999998"/></clipPath>
<filter id="fb3" filterUnits="userSpaceOnUse" x="537.4000000000001" y="1474.6750000000002" width="586.9999999999999" height="836.8499999999997" color-interpolation-filters="sRGB"><feGaussianBlur stdDeviation="14"/></filter>
<clipPath id="fb3c"><rect x="713.5" y="1654.0" width="234.79999999999995" height="478.1999999999998"/></clipPath>
<filter id="fb4" filterUnits="userSpaceOnUse" x="796.5999999999999" y="1474.6750000000002" width="455.10000000000014" height="836.8499999999997" color-interpolation-filters="sRGB"><feGaussianBlur stdDeviation="14"/></filter>
<clipPath id="fb4c"><rect x="948.3" y="1654.0" width="151.70000000000005" height="478.1999999999998"/></clipPath>
<filter id="spkBot" filterUnits="userSpaceOnUse" x="128.3" y="1654.0" width="971.7" height="478.1999999999998" color-interpolation-filters="sRGB"><feTurbulence type="fractalNoise" baseFrequency="0.6" numOctaves="1" seed="5"/><feColorMatrix type="matrix" values="1 0 0 0 0  1 0 0 0 0  1 0 0 0 0  0 0 0 0 1"/><feComponentTransfer><feFuncR type="table" tableValues="0.090 0.086 0.082 0.078 0.086 0.098 0.110 0.122 0.133 0.137 0.141 0.145 0.149 0.149 0.153 0.157 0.157 0.161 0.165 0.165 0.169 0.173 0.173 0.176 0.169 0.161 0.153 0.145 0.141 0.188 0.231 0.275 0.322 0.357 0.369 0.380 0.392 0.404 0.416 0.424 0.435 0.443 0.455 0.463 0.475 0.490 0.510 0.525 0.545 0.565 0.588 0.612 0.635 0.663 0.698 0.729 0.765 0.784 0.808 0.827 0.851 0.878 0.910 0.937 0.949 0.945 0.945 0.941 0.941 0.941 0.941 0.941 0.941 0.941 0.941 0.937 0.933 0.929 0.922 0.918 0.910 0.906 0.902 0.910 0.914 0.918 0.918 0.914 0.906 0.902 0.867 0.824 0.784 0.745 0.702 0.659"/><feFuncG type="table" tableValues="0.176 0.188 0.200 0.212 0.231 0.251 0.271 0.290 0.310 0.322 0.333 0.341 0.353 0.365 0.376 0.384 0.396 0.416 0.431 0.447 0.463 0.478 0.494 0.514 0.549 0.584 0.620 0.655 0.686 0.698 0.714 0.725 0.737 0.745 0.749 0.749 0.749 0.753 0.753 0.757 0.757 0.761 0.761 0.765 0.765 0.769 0.773 0.780 0.784 0.788 0.792 0.796 0.800 0.808 0.820 0.831 0.843 0.855 0.863 0.875 0.882 0.890 0.894 0.898 0.878 0.835 0.792 0.749 0.718 0.686 0.655 0.620 0.588 0.557 0.525 0.494 0.463 0.431 0.396 0.365 0.329 0.298 0.267 0.231 0.200 0.169 0.145 0.122 0.102 0.078 0.082 0.086 0.090 0.094 0.098 0.098"/><feFuncB type="table" tableValues="0.471 0.494 0.518 0.545 0.561 0.576 0.592 0.608 0.624 0.631 0.643 0.651 0.659 0.667 0.675 0.682 0.690 0.706 0.718 0.733 0.745 0.761 0.773 0.788 0.812 0.835 0.859 0.882 0.902 0.894 0.886 0.878 0.871 0.855 0.827 0.800 0.773 0.741 0.714 0.686 0.659 0.627 0.600 0.573 0.545 0.522 0.502 0.478 0.459 0.435 0.412 0.388 0.365 0.341 0.322 0.298 0.275 0.263 0.255 0.243 0.227 0.200 0.176 0.149 0.133 0.129 0.125 0.118 0.114 0.106 0.102 0.098 0.098 0.098 0.098 0.098 0.098 0.098 0.098 0.098 0.098 0.098 0.098 0.098 0.098 0.098 0.098 0.098 0.098 0.098 0.106 0.114 0.122 0.129 0.137 0.133"/></feComponentTransfer></filter>
</defs>
<rect x="0" y="0" width="1233" height="2224" fill="#fff"/>
<text x="222.19" y="50.90" font-size="33.60" textLength="776.78" lengthAdjust="spacingAndGlyphs" fill="#000">S1 Interferogram, 2018-05-01 &amp; 2018-04-19, Bn: -55m,</text>
<text x="442.67" y="89.00" font-size="33.60" textLength="334.57" lengthAdjust="spacingAndGlyphs" fill="#000">near Purdue University</text>
<g clip-path="url(#ftopc)"><g filter="url(#ftop)">
<rect x="84.50" y="73.25" width="41.00" height="40.25" fill="#e5a157"/>
<rect x="125.00" y="73.25" width="41.00" height="40.25" fill="#e5a157"/>
<rect x="165.50" y="73.25" width="41.00" height="40.25" fill="#ec9550"/>
<rect x="206.00" y="73.25" width="41.00" height="40.25" fill="#dea15d"/>
<rect x="246.50" y="73.25" width="41.00" height="40.25" fill="#c2bd80"/>
<rect x="287.00" y="73.25" width="41.00" height="40.25" fill="#adc295"/>
<rect x="327.50" y="73.25" width="41.00" height="40.25" fill="#99cbaa"/>
<rect x="368.00" y="73.25" width="41.00" height="40.25" fill="#9bb5ac"/>
<rect x="408.50" y="73.25" width="41.00" height="40.25" fill="#94a7b3"/>
<rect x="449.00" y="73.25" width="41.00" height="40.25" fill="#d8996a"/>
<rect x="489.50" y="73.25" width="41.00" height="40.25" fill="#dfae5b"/>
<rect x="530.00" y="73.25" width="41.00" height="40.25" fill="#cfad76"/>
<rect x="570.50" y="73.25" width="41.00" height="40.25" fill="#99aead"/>
<rect x="611.00" y="73.25" width="41.00" height="40.25" fill="#7ca3b7"/>
<rect x="651.50" y="73.25" width="41.00" height="40.25" fill="#9ab6a8"/>
<rect x="692.00" y="73.25" width="41.00" height="40.25" fill="#c3ac8b"/>
<rect x="732.50" y="73.25" width="41.00" height="40.25" fill="#e2a056"/>
<rect x="773.00" y="73.25" width="41.00" height="40.25" fill="#e67d4b"/>
<rect x="813.50" y="73.25" width="41.00" height="40.25" fill="#e1744e"/>
<rect x="854.00" y="73.25" width="41.00" height="40.25" fill="#d86956"/>
<rect x="894.50" y="73.25" width="41.00" height="40.25" fill="#d35d68"/>
<rect x="935.00" y="73.25" width="41.00" height="40.25" fill="#b14d8c"/>
<rect x="975.50" y="73.25" width="41.00" height="40.25" fill="#cb5b7a"/>
<rect x="1016.00" y="73.25" width="41.00" height="40.25" fill="#ab4893"/>
<rect x="1056.50" y="73.25" width="41.00" height="40.25" fill="#a54595"/>
<rect x="1097.00" y="73.25" width="41.00" height="40.25" fill="#a54595"/>
<rect x="84.50" y="113.00" width="41.00" height="40.25" fill="#e5a157"/>
<rect x="125.00" y="113.00" width="41.00" height="40.25" fill="#e5a157"/>
<rect x="165.50" y="113.00" width="41.00" height="40.25" fill="#ec9550"/>
<rect x="206.00" y="113.00" width="41.00" height="40.25" fill="#dea15d"/>
<rect x="246.50" y="113.00" width="41.00" height="40.25" fill="#c2bd80"/>
<rect x="287.00" y="113.00" width="41.00" height="40.25" fill="#adc295"/>
<rect x="327.50" y="113.00" width="41.00" height="40.25" fill="#99cbaa"/>
<rect x="368.00" y="113.00" width="41.00" height="40.25" fill="#9bb5ac"/>
<rect x="408.50" y="113.00" width="41.00" height="40.25" fill="#94a7b3"/>
<rect x="449.00" y="113.00" width="41.00" height="40.25" fill="#d8996a"/>
<rect x="489.50" y="113.00" width="41.00" height="40.25" fill="#dfae5b"/>
<rect x="530.00" y="113.00" width="41.00" height="40.25" fill="#cfad76"/>
<rect x="570.50" y="113.00" width="41.00" height="40.25" fill="#99aead"/>
<rect x="611.00" y="113.00" width="41.00" height="40.25" fill="#7ca3b7"/>
<rect x="651.50" y="113.00" width="41.00" height="40.25" fill="#9ab6a8"/>
<rect x="692.00" y="113.00" width="41.00" height="40.25" fill="#c3ac8b"/>
<rect x="732.50" y="113.00" width="41.00" height="40.25" fill="#e2a056"/>
<rect x="773.00" y="113.00" width="41.00" height="40.25" fill="#e67d4b"/>
<rect x="813.50" y="113.00" width="41.00" height="40.25" fill="#e1744e"/>
<rect x="854.00" y="113.00" width="41.00" height="40.25" fill="#d86956"/>
<rect x="894.50" y="113.00" width="41.00" height="40.25" fill="#d35d68"/>
<rect x="935.00" y="113.00" width="41.00" height="40.25" fill="#b14d8c"/>
<rect x="975.50" y="113.00" width="41.00" height="40.25" fill="#cb5b7a"/>
<rect x="1016.00" y="113.00" width="41.00" height="40.25" fill="#ab4893"/>
<rect x="1056.50" y="113.00" width="41.00" height="40.25" fill="#a54595"/>
<rect x="1097.00" y="113.00" width="41.00" height="40.25" fill="#a54595"/>
<rect x="84.50" y="152.75" width="41.00" height="40.25" fill="#e0a463"/>
<rect x="125.00" y="152.75" width="41.00" height="40.25" fill="#e0a463"/>
<rect x="165.50" y="152.75" width="41.00" height="40.25" fill="#d7a766"/>
<rect x="206.00" y="152.75" width="41.00" height="40.25" fill="#d89b6e"/>
<rect x="246.50" y="152.75" width="41.00" height="40.25" fill="#c5b186"/>
<rect x="287.00" y="152.75" width="41.00" height="40.25" fill="#c0bd85"/>
<rect x="327.50" y="152.75" width="41.00" height="40.25" fill="#abbd9c"/>
<rect x="368.00" y="152.75" width="41.00" height="40.25" fill="#bfbc86"/>
<rect x="408.50" y="152.75" width="41.00" height="40.25" fill="#c8a08e"/>
<rect x="449.00" y="152.75" width="41.00" height="40.25" fill="#8789b9"/>
<rect x="489.50" y="152.75" width="41.00" height="40.25" fill="#b1ae9e"/>
<rect x="530.00" y="152.75" width="41.00" height="40.25" fill="#c9b874"/>
<rect x="570.50" y="152.75" width="41.00" height="40.25" fill="#b6b797"/>
<rect x="611.00" y="152.75" width="41.00" height="40.25" fill="#a8bf9b"/>
<rect x="651.50" y="152.75" width="41.00" height="40.25" fill="#7594ba"/>
<rect x="692.00" y="152.75" width="41.00" height="40.25" fill="#8aa0b3"/>
<rect x="732.50" y="152.75" width="41.00" height="40.25" fill="#da9c5a"/>
<rect x="773.00" y="152.75" width="41.00" height="40.25" fill="#dc7f57"/>
<rect x="813.50" y="152.75" width="41.00" height="40.25" fill="#dd815a"/>
<rect x="854.00" y="152.75" width="41.00" height="40.25" fill="#dd8156"/>
<rect x="894.50" y="152.75" width="41.00" height="40.25" fill="#da6f57"/>
<rect x="935.00" y="152.75" width="41.00" height="40.25" fill="#bf4f7e"/>
<rect x="975.50" y="152.75" width="41.00" height="40.25" fill="#d46268"/>
<rect x="1016.00" y="152.75" width="41.00" height="40.25" fill="#d1666e"/>
<rect x="1056.50" y="152.75" width="41.00" height="40.25" fill="#d46367"/>
<rect x="1097.00" y="152.75" width="41.00" height="40.25" fill="#d46367"/>
<rect x="84.50" y="192.50" width="41.00" height="40.25" fill="#c2b885"/>
<rect x="125.00" y="192.50" width="41.00" height="40.25" fill="#c2b885"/>
<rect x="165.50" y="192.50" width="41.00" height="40.25" fill="#c8b874"/>
<rect x="206.00" y="192.50" width="41.00" height="40.25" fill="#d2a76b"/>
<rect x="246.50" y="192.50" width="41.00" height="40.25" fill="#d7a06a"/>
<rect x="287.00" y="192.50" width="41.00" height="40.25" fill="#b4b19a"/>
<rect x="327.50" y="192.50" width="41.00" height="40.25" fill="#95a7b0"/>
<rect x="368.00" y="192.50" width="41.00" height="40.25" fill="#c4b786"/>
<rect x="408.50" y="192.50" width="41.00" height="40.25" fill="#9d99af"/>
<rect x="449.00" y="192.50" width="41.00" height="40.25" fill="#c9a18a"/>
<rect x="489.50" y="192.50" width="41.00" height="40.25" fill="#a7b4a0"/>
<rect x="530.00" y="192.50" width="41.00" height="40.25" fill="#bebe85"/>
<rect x="570.50" y="192.50" width="41.00" height="40.25" fill="#cdad77"/>
<rect x="611.00" y="192.50" width="41.00" height="40.25" fill="#c3bc80"/>
<rect x="651.50" y="192.50" width="41.00" height="40.25" fill="#7b9eb8"/>
<rect x="692.00" y="192.50" width="41.00" height="40.25" fill="#92adae"/>
<rect x="732.50" y="192.50" width="41.00" height="40.25" fill="#a6b2a4"/>
<rect x="773.00" y="192.50" width="41.00" height="40.25" fill="#c2a192"/>
<rect x="813.50" y="192.50" width="41.00" height="40.25" fill="#da9064"/>
<rect x="854.00" y="192.50" width="41.00" height="40.25" fill="#d1a571"/>
<rect x="894.50" y="192.50" width="41.00" height="40.25" fill="#d88a69"/>
<rect x="935.00" y="192.50" width="41.00" height="40.25" fill="#db7956"/>
<rect x="975.50" y="192.50" width="41.00" height="40.25" fill="#da6c53"/>
<rect x="1016.00" y="192.50" width="41.00" height="40.25" fill="#db7055"/>
<rect x="1056.50" y="192.50" width="41.00" height="40.25" fill="#dc7d50"/>
<rect x="1097.00" y="192.50" width="41.00" height="40.25" fill="#dc7d50"/>
<rect x="84.50" y="232.25" width="41.00" height="40.25" fill="#648fc0"/>
<rect x="125.00" y="232.25" width="41.00" height="40.25" fill="#648fc0"/>
<rect x="165.50" y="232.25" width="41.00" height="40.25" fill="#7ca3b7"/>
<rect x="206.00" y="232.25" width="41.00" height="40.25" fill="#9fb4a6"/>
<rect x="246.50" y="232.25" width="41.00" height="40.25" fill="#8aacb2"/>
<rect x="287.00" y="232.25" width="41.00" height="40.25" fill="#92a7b2"/>
<rect x="327.50" y="232.25" width="41.00" height="40.25" fill="#6881bd"/>
<rect x="368.00" y="232.25" width="41.00" height="40.25" fill="#819bb8"/>
<rect x="408.50" y="232.25" width="41.00" height="40.25" fill="#7f90ba"/>
<rect x="449.00" y="232.25" width="41.00" height="40.25" fill="#969bb1"/>
<rect x="489.50" y="232.25" width="41.00" height="40.25" fill="#9899b4"/>
<rect x="530.00" y="232.25" width="41.00" height="40.25" fill="#86a0b7"/>
<rect x="570.50" y="232.25" width="41.00" height="40.25" fill="#7894bc"/>
<rect x="611.00" y="232.25" width="41.00" height="40.25" fill="#b8b793"/>
<rect x="651.50" y="232.25" width="41.00" height="40.25" fill="#b3a99e"/>
<rect x="692.00" y="232.25" width="41.00" height="40.25" fill="#879bb7"/>
<rect x="732.50" y="232.25" width="41.00" height="40.25" fill="#aab7a0"/>
<rect x="773.00" y="232.25" width="41.00" height="40.25" fill="#94abb0"/>
<rect x="813.50" y="232.25" width="41.00" height="40.25" fill="#a9b0a5"/>
<rect x="854.00" y="232.25" width="41.00" height="40.25" fill="#c1c077"/>
<rect x="894.50" y="232.25" width="41.00" height="40.25" fill="#d5a362"/>
<rect x="935.00" y="232.25" width="41.00" height="40.25" fill="#da8a5c"/>
<rect x="975.50" y="232.25" width="41.00" height="40.25" fill="#d38676"/>
<rect x="1016.00" y="232.25" width="41.00" height="40.25" fill="#d88c65"/>
<rect x="1056.50" y="232.25" width="41.00" height="40.25" fill="#da845c"/>
<rect x="1097.00" y="232.25" width="41.00" height="40.25" fill="#da845c"/>
<rect x="84.50" y="272.00" width="41.00" height="40.25" fill="#5775bf"/>
<rect x="125.00" y="272.00" width="41.00" height="40.25" fill="#5775bf"/>
<rect x="165.50" y="272.00" width="41.00" height="40.25" fill="#7383ba"/>
<rect x="206.00" y="272.00" width="41.00" height="40.25" fill="#8a9eb6"/>
<rect x="246.50" y="272.00" width="41.00" height="40.25" fill="#576cbe"/>
<rect x="287.00" y="272.00" width="41.00" height="40.25" fill="#6280c1"/>
<rect x="327.50" y="272.00" width="41.00" height="40.25" fill="#6d91bb"/>
<rect x="368.00" y="272.00" width="41.00" height="40.25" fill="#7b71b9"/>
<rect x="408.50" y="272.00" width="41.00" height="40.25" fill="#c08b9b"/>
<rect x="449.00" y="272.00" width="41.00" height="40.25" fill="#bb7f98"/>
<rect x="489.50" y="272.00" width="41.00" height="40.25" fill="#837ebb"/>
<rect x="530.00" y="272.00" width="41.00" height="40.25" fill="#7785bc"/>
<rect x="570.50" y="272.00" width="41.00" height="40.25" fill="#6f82ba"/>
<rect x="611.00" y="272.00" width="41.00" height="40.25" fill="#97aeac"/>
<rect x="651.50" y="272.00" width="41.00" height="40.25" fill="#8094b9"/>
<rect x="692.00" y="272.00" width="41.00" height="40.25" fill="#959fb0"/>
<rect x="732.50" y="272.00" width="41.00" height="40.25" fill="#a8b3a3"/>
<rect x="773.00" y="272.00" width="41.00" height="40.25" fill="#a0abab"/>
<rect x="813.50" y="272.00" width="41.00" height="40.25" fill="#b5af9c"/>
<rect x="854.00" y="272.00" width="41.00" height="40.25" fill="#a8b89f"/>
<rect x="894.50" y="272.00" width="41.00" height="40.25" fill="#b4b797"/>
<rect x="935.00" y="272.00" width="41.00" height="40.25" fill="#c5b284"/>
<rect x="975.50" y="272.00" width="41.00" height="40.25" fill="#d2907b"/>
<rect x="1016.00" y="272.00" width="41.00" height="40.25" fill="#da775d"/>
<rect x="1056.50" y="272.00" width="41.00" height="40.25" fill="#da7f5c"/>
<rect x="1097.00" y="272.00" width="41.00" height="40.25" fill="#da7f5c"/>
<rect x="84.50" y="311.75" width="41.00" height="40.25" fill="#423dae"/>
<rect x="125.00" y="311.75" width="41.00" height="40.25" fill="#423dae"/>
<rect x="165.50" y="311.75" width="41.00" height="40.25" fill="#5c59b2"/>
<rect x="206.00" y="311.75" width="41.00" height="40.25" fill="#5988cb"/>
<rect x="246.50" y="311.75" width="41.00" height="40.25" fill="#638ab8"/>
<rect x="287.00" y="311.75" width="41.00" height="40.25" fill="#80a8b0"/>
<rect x="327.50" y="311.75" width="41.00" height="40.25" fill="#a7b2a2"/>
<rect x="368.00" y="311.75" width="41.00" height="40.25" fill="#c19699"/>
<rect x="408.50" y="311.75" width="41.00" height="40.25" fill="#9070b3"/>
<rect x="449.00" y="311.75" width="41.00" height="40.25" fill="#816cb5"/>
<rect x="489.50" y="311.75" width="41.00" height="40.25" fill="#5a72c7"/>
<rect x="530.00" y="311.75" width="41.00" height="40.25" fill="#525dc2"/>
<rect x="570.50" y="311.75" width="41.00" height="40.25" fill="#8250a9"/>
<rect x="611.00" y="311.75" width="41.00" height="40.25" fill="#9891b2"/>
<rect x="651.50" y="311.75" width="41.00" height="40.25" fill="#939eb3"/>
<rect x="692.00" y="311.75" width="41.00" height="40.25" fill="#9587b0"/>
<rect x="732.50" y="311.75" width="41.00" height="40.25" fill="#989bb2"/>
<rect x="773.00" y="311.75" width="41.00" height="40.25" fill="#a4b3a5"/>
<rect x="813.50" y="311.75" width="41.00" height="40.25" fill="#a7a7a6"/>
<rect x="854.00" y="311.75" width="41.00" height="40.25" fill="#82a0b7"/>
<rect x="894.50" y="311.75" width="41.00" height="40.25" fill="#8aa7b3"/>
<rect x="935.00" y="311.75" width="41.00" height="40.25" fill="#a2a0ac"/>
<rect x="975.50" y="311.75" width="41.00" height="40.25" fill="#c3a98e"/>
<rect x="1016.00" y="311.75" width="41.00" height="40.25" fill="#bfa795"/>
<rect x="1056.50" y="311.75" width="41.00" height="40.25" fill="#d6986d"/>
<rect x="1097.00" y="311.75" width="41.00" height="40.25" fill="#d6986d"/>
<rect x="84.50" y="351.50" width="41.00" height="40.25" fill="#6e65b8"/>
<rect x="125.00" y="351.50" width="41.00" height="40.25" fill="#6e65b8"/>
<rect x="165.50" y="351.50" width="41.00" height="40.25" fill="#5f7cc5"/>
<rect x="206.00" y="351.50" width="41.00" height="40.25" fill="#5470c8"/>
<rect x="246.50" y="351.50" width="41.00" height="40.25" fill="#6977bd"/>
<rect x="287.00" y="351.50" width="41.00" height="40.25" fill="#7688bc"/>
<rect x="327.50" y="351.50" width="41.00" height="40.25" fill="#648fcb"/>
<rect x="368.00" y="351.50" width="41.00" height="40.25" fill="#717ebe"/>
<rect x="408.50" y="351.50" width="41.00" height="40.25" fill="#8e6ab7"/>
<rect x="449.00" y="351.50" width="41.00" height="40.25" fill="#8f62b5"/>
<rect x="489.50" y="351.50" width="41.00" height="40.25" fill="#8c66b4"/>
<rect x="530.00" y="351.50" width="41.00" height="40.25" fill="#a859a0"/>
<rect x="570.50" y="351.50" width="41.00" height="40.25" fill="#ad6da5"/>
<rect x="611.00" y="351.50" width="41.00" height="40.25" fill="#967db5"/>
<rect x="651.50" y="351.50" width="41.00" height="40.25" fill="#a48dac"/>
<rect x="692.00" y="351.50" width="41.00" height="40.25" fill="#a59cac"/>
<rect x="732.50" y="351.50" width="41.00" height="40.25" fill="#7f84bc"/>
<rect x="773.00" y="351.50" width="41.00" height="40.25" fill="#8399ba"/>
<rect x="813.50" y="351.50" width="41.00" height="40.25" fill="#819fbb"/>
<rect x="854.00" y="351.50" width="41.00" height="40.25" fill="#b9a898"/>
<rect x="894.50" y="351.50" width="41.00" height="40.25" fill="#8d7cb5"/>
<rect x="935.00" y="351.50" width="41.00" height="40.25" fill="#a79aaa"/>
<rect x="975.50" y="351.50" width="41.00" height="40.25" fill="#b9b595"/>
<rect x="1016.00" y="351.50" width="41.00" height="40.25" fill="#a5b3a5"/>
<rect x="1056.50" y="351.50" width="41.00" height="40.25" fill="#adb7a0"/>
<rect x="1097.00" y="351.50" width="41.00" height="40.25" fill="#adb7a0"/>
<rect x="84.50" y="391.25" width="41.00" height="40.25" fill="#ba4480"/>
<rect x="125.00" y="391.25" width="41.00" height="40.25" fill="#ba4480"/>
<rect x="165.50" y="391.25" width="41.00" height="40.25" fill="#804dae"/>
<rect x="206.00" y="391.25" width="41.00" height="40.25" fill="#8a58af"/>
<rect x="246.50" y="391.25" width="41.00" height="40.25" fill="#9d54a7"/>
<rect x="287.00" y="391.25" width="41.00" height="40.25" fill="#a45ea8"/>
<rect x="327.50" y="391.25" width="41.00" height="40.25" fill="#7584bd"/>
<rect x="368.00" y="391.25" width="41.00" height="40.25" fill="#7680bc"/>
<rect x="408.50" y="391.25" width="41.00" height="40.25" fill="#8a8fb6"/>
<rect x="449.00" y="391.25" width="41.00" height="40.25" fill="#7676bd"/>
<rect x="489.50" y="391.25" width="41.00" height="40.25" fill="#8d5fb2"/>
<rect x="530.00" y="391.25" width="41.00" height="40.25" fill="#c1598b"/>
<rect x="570.50" y="391.25" width="41.00" height="40.25" fill="#d56d6f"/>
<rect x="611.00" y="391.25" width="41.00" height="40.25" fill="#bc6d98"/>
<rect x="651.50" y="391.25" width="41.00" height="40.25" fill="#c66b8b"/>
<rect x="692.00" y="391.25" width="41.00" height="40.25" fill="#9464b3"/>
<rect x="732.50" y="391.25" width="41.00" height="40.25" fill="#7a70bb"/>
<rect x="773.00" y="391.25" width="41.00" height="40.25" fill="#8c86b8"/>
<rect x="813.50" y="391.25" width="41.00" height="40.25" fill="#8396ba"/>
<rect x="854.00" y="391.25" width="41.00" height="40.25" fill="#7a8bbb"/>
<rect x="894.50" y="391.25" width="41.00" height="40.25" fill="#aaa9a2"/>
<rect x="935.00" y="391.25" width="41.00" height="40.25" fill="#8a8db7"/>
<rect x="975.50" y="391.25" width="41.00" height="40.25" fill="#92a6b2"/>
<rect x="1016.00" y="391.25" width="41.00" height="40.25" fill="#a0abaa"/>
<rect x="1056.50" y="391.25" width="41.00" height="40.25" fill="#9faeac"/>
<rect x="1097.00" y="391.25" width="41.00" height="40.25" fill="#9faeac"/>
<rect x="84.50" y="431.00" width="41.00" height="40.25" fill="#be3f76"/>
<rect x="125.00" y="431.00" width="41.00" height="40.25" fill="#be3f76"/>
<rect x="165.50" y="431.00" width="41.00" height="40.25" fill="#853fa2"/>
<rect x="206.00" y="431.00" width="41.00" height="40.25" fill="#7555b3"/>
<rect x="246.50" y="431.00" width="41.00" height="40.25" fill="#6b6bba"/>
<rect x="287.00" y="431.00" width="41.00" height="40.25" fill="#8470b9"/>
<rect x="327.50" y="431.00" width="41.00" height="40.25" fill="#956bb2"/>
<rect x="368.00" y="431.00" width="41.00" height="40.25" fill="#8370b8"/>
<rect x="408.50" y="431.00" width="41.00" height="40.25" fill="#716dbb"/>
<rect x="449.00" y="431.00" width="41.00" height="40.25" fill="#706aba"/>
<rect x="489.50" y="431.00" width="41.00" height="40.25" fill="#a64e9f"/>
<rect x="530.00" y="431.00" width="41.00" height="40.25" fill="#a161aa"/>
<rect x="570.50" y="431.00" width="41.00" height="40.25" fill="#ce6d7f"/>
<rect x="611.00" y="431.00" width="41.00" height="40.25" fill="#d1757b"/>
<rect x="651.50" y="431.00" width="41.00" height="40.25" fill="#9166b2"/>
<rect x="692.00" y="431.00" width="41.00" height="40.25" fill="#af5f9e"/>
<rect x="732.50" y="431.00" width="41.00" height="40.25" fill="#8853ae"/>
<rect x="773.00" y="431.00" width="41.00" height="40.25" fill="#7673bc"/>
<rect x="813.50" y="431.00" width="41.00" height="40.25" fill="#6d80be"/>
<rect x="854.00" y="431.00" width="41.00" height="40.25" fill="#767bbd"/>
<rect x="894.50" y="431.00" width="41.00" height="40.25" fill="#9897b1"/>
<rect x="935.00" y="431.00" width="41.00" height="40.25" fill="#95a2b1"/>
<rect x="975.50" y="431.00" width="41.00" height="40.25" fill="#9fb0a8"/>
<rect x="1016.00" y="431.00" width="41.00" height="40.25" fill="#7e85bc"/>
<rect x="1056.50" y="431.00" width="41.00" height="40.25" fill="#93a4b2"/>
<rect x="1097.00" y="431.00" width="41.00" height="40.25" fill="#93a4b2"/>
<rect x="84.50" y="470.75" width="41.00" height="40.25" fill="#f14f3b"/>
<rect x="125.00" y="470.75" width="41.00" height="40.25" fill="#f14f3b"/>
<rect x="165.50" y="470.75" width="41.00" height="40.25" fill="#d25651"/>
<rect x="206.00" y="470.75" width="41.00" height="40.25" fill="#c74e73"/>
<rect x="246.50" y="470.75" width="41.00" height="40.25" fill="#ad729d"/>
<rect x="287.00" y="470.75" width="41.00" height="40.25" fill="#af6099"/>
<rect x="327.50" y="470.75" width="41.00" height="40.25" fill="#cc6078"/>
<rect x="368.00" y="470.75" width="41.00" height="40.25" fill="#d25c66"/>
<rect x="408.50" y="470.75" width="41.00" height="40.25" fill="#844aa9"/>
<rect x="449.00" y="470.75" width="41.00" height="40.25" fill="#715bb3"/>
<rect x="489.50" y="470.75" width="41.00" height="40.25" fill="#aa579f"/>
<rect x="530.00" y="470.75" width="41.00" height="40.25" fill="#a459a3"/>
<rect x="570.50" y="470.75" width="41.00" height="40.25" fill="#ba729d"/>
<rect x="611.00" y="470.75" width="41.00" height="40.25" fill="#da9052"/>
<rect x="651.50" y="470.75" width="41.00" height="40.25" fill="#c37c91"/>
<rect x="692.00" y="470.75" width="41.00" height="40.25" fill="#956bb0"/>
<rect x="732.50" y="470.75" width="41.00" height="40.25" fill="#a44fa0"/>
<rect x="773.00" y="470.75" width="41.00" height="40.25" fill="#9859ab"/>
<rect x="813.50" y="470.75" width="41.00" height="40.25" fill="#7c6ebb"/>
<rect x="854.00" y="470.75" width="41.00" height="40.25" fill="#904aa7"/>
<rect x="894.50" y="470.75" width="41.00" height="40.25" fill="#8761b7"/>
<rect x="935.00" y="470.75" width="41.00" height="40.25" fill="#6d80bd"/>
<rect x="975.50" y="470.75" width="41.00" height="40.25" fill="#7b6dbc"/>
<rect x="1016.00" y="470.75" width="41.00" height="40.25" fill="#737abe"/>
<rect x="1056.50" y="470.75" width="41.00" height="40.25" fill="#7081bd"/>
<rect x="1097.00" y="470.75" width="41.00" height="40.25" fill="#7081bd"/>
<rect x="84.50" y="510.50" width="41.00" height="40.25" fill="#f76e33"/>
<rect x="125.00" y="510.50" width="41.00" height="40.25" fill="#f76e33"/>
<rect x="165.50" y="510.50" width="41.00" height="40.25" fill="#d95d4b"/>
<rect x="206.00" y="510.50" width="41.00" height="40.25" fill="#d05861"/>
<rect x="246.50" y="510.50" width="41.00" height="40.25" fill="#b26997"/>
<rect x="287.00" y="510.50" width="41.00" height="40.25" fill="#c57486"/>
<rect x="327.50" y="510.50" width="41.00" height="40.25" fill="#da865a"/>
<rect x="368.00" y="510.50" width="41.00" height="40.25" fill="#d36560"/>
<rect x="408.50" y="510.50" width="41.00" height="40.25" fill="#c05983"/>
<rect x="449.00" y="510.50" width="41.00" height="40.25" fill="#aa629d"/>
<rect x="489.50" y="510.50" width="41.00" height="40.25" fill="#d47c71"/>
<rect x="530.00" y="510.50" width="41.00" height="40.25" fill="#bf7995"/>
<rect x="570.50" y="510.50" width="41.00" height="40.25" fill="#c67387"/>
<rect x="611.00" y="510.50" width="41.00" height="40.25" fill="#c4748c"/>
<rect x="651.50" y="510.50" width="41.00" height="40.25" fill="#ca7586"/>
<rect x="692.00" y="510.50" width="41.00" height="40.25" fill="#bd7e92"/>
<rect x="732.50" y="510.50" width="41.00" height="40.25" fill="#ac599a"/>
<rect x="773.00" y="510.50" width="41.00" height="40.25" fill="#a856a0"/>
<rect x="813.50" y="510.50" width="41.00" height="40.25" fill="#975fab"/>
<rect x="854.00" y="510.50" width="41.00" height="40.25" fill="#c14b7c"/>
<rect x="894.50" y="510.50" width="41.00" height="40.25" fill="#7b79bd"/>
<rect x="935.00" y="510.50" width="41.00" height="40.25" fill="#7188bd"/>
<rect x="975.50" y="510.50" width="41.00" height="40.25" fill="#717ec0"/>
<rect x="1016.00" y="510.50" width="41.00" height="40.25" fill="#7088be"/>
<rect x="1056.50" y="510.50" width="41.00" height="40.25" fill="#6d80be"/>
<rect x="1097.00" y="510.50" width="41.00" height="40.25" fill="#6d80be"/>
<rect x="84.50" y="550.25" width="41.00" height="40.25" fill="#f56e35"/>
<rect x="125.00" y="550.25" width="41.00" height="40.25" fill="#f56e35"/>
<rect x="165.50" y="550.25" width="41.00" height="40.25" fill="#ea7838"/>
<rect x="206.00" y="550.25" width="41.00" height="40.25" fill="#d76757"/>
<rect x="246.50" y="550.25" width="41.00" height="40.25" fill="#c8717c"/>
<rect x="287.00" y="550.25" width="41.00" height="40.25" fill="#d78d53"/>
<rect x="327.50" y="550.25" width="41.00" height="40.25" fill="#ec983c"/>
<rect x="368.00" y="550.25" width="41.00" height="40.25" fill="#db784c"/>
<rect x="408.50" y="550.25" width="41.00" height="40.25" fill="#d26267"/>
<rect x="449.00" y="550.25" width="41.00" height="40.25" fill="#c05a81"/>
<rect x="489.50" y="550.25" width="41.00" height="40.25" fill="#d99553"/>
<rect x="530.00" y="550.25" width="41.00" height="40.25" fill="#d99959"/>
<rect x="570.50" y="550.25" width="41.00" height="40.25" fill="#d97f63"/>
<rect x="611.00" y="550.25" width="41.00" height="40.25" fill="#b25d99"/>
<rect x="651.50" y="550.25" width="41.00" height="40.25" fill="#ce697b"/>
<rect x="692.00" y="550.25" width="41.00" height="40.25" fill="#c7627e"/>
<rect x="732.50" y="550.25" width="41.00" height="40.25" fill="#d36f6f"/>
<rect x="773.00" y="550.25" width="41.00" height="40.25" fill="#b56196"/>
<rect x="813.50" y="550.25" width="41.00" height="40.25" fill="#d37271"/>
<rect x="854.00" y="550.25" width="41.00" height="40.25" fill="#d76656"/>
<rect x="894.50" y="550.25" width="41.00" height="40.25" fill="#9d5aac"/>
<rect x="935.00" y="550.25" width="41.00" height="40.25" fill="#6687c9"/>
<rect x="975.50" y="550.25" width="41.00" height="40.25" fill="#688cc2"/>
<rect x="1016.00" y="550.25" width="41.00" height="40.25" fill="#7698bb"/>
<rect x="1056.50" y="550.25" width="41.00" height="40.25" fill="#7694bd"/>
<rect x="1097.00" y="550.25" width="41.00" height="40.25" fill="#7694bd"/>
<rect x="84.50" y="590.00" width="41.00" height="40.25" fill="#f56e35"/>
<rect x="125.00" y="590.00" width="41.00" height="40.25" fill="#f56e35"/>
<rect x="165.50" y="590.00" width="41.00" height="40.25" fill="#ea7838"/>
<rect x="206.00" y="590.00" width="41.00" height="40.25" fill="#d76757"/>
<rect x="246.50" y="590.00" width="41.00" height="40.25" fill="#c8717c"/>
<rect x="287.00" y="590.00" width="41.00" height="40.25" fill="#d78d53"/>
<rect x="327.50" y="590.00" width="41.00" height="40.25" fill="#ec983c"/>
<rect x="368.00" y="590.00" width="41.00" height="40.25" fill="#db784c"/>
<rect x="408.50" y="590.00" width="41.00" height="40.25" fill="#d26267"/>
<rect x="449.00" y="590.00" width="41.00" height="40.25" fill="#c05a81"/>
<rect x="489.50" y="590.00" width="41.00" height="40.25" fill="#d99553"/>
<rect x="530.00" y="590.00" width="41.00" height="40.25" fill="#d99959"/>
<rect x="570.50" y="590.00" width="41.00" height="40.25" fill="#d97f63"/>
<rect x="611.00" y="590.00" width="41.00" height="40.25" fill="#b25d99"/>
<rect x="651.50" y="590.00" width="41.00" height="40.25" fill="#ce697b"/>
<rect x="692.00" y="590.00" width="41.00" height="40.25" fill="#c7627e"/>
<rect x="732.50" y="590.00" width="41.00" height="40.25" fill="#d36f6f"/>
<rect x="773.00" y="590.00" width="41.00" height="40.25" fill="#b56196"/>
<rect x="813.50" y="590.00" width="41.00" height="40.25" fill="#d37271"/>
<rect x="854.00" y="590.00" width="41.00" height="40.25" fill="#d76656"/>
<rect x="894.50" y="590.00" width="41.00" height="40.25" fill="#9d5aac"/>
<rect x="935.00" y="590.00" width="41.00" height="40.25" fill="#6687c9"/>
<rect x="975.50" y="590.00" width="41.00" height="40.25" fill="#688cc2"/>
<rect x="1016.00" y="590.00" width="41.00" height="40.25" fill="#7698bb"/>
<rect x="1056.50" y="590.00" width="41.00" height="40.25" fill="#7694bd"/>
<rect x="1097.00" y="590.00" width="41.00" height="40.25" fill="#7694bd"/>
</g></g>
<rect x="125" y="113" width="972" height="477" fill="#000" filter="url(#spkTop)" mask="url(#mTop)"/>
<g clip-path="url(#clipTopImg)">
<path fill="#f1d721" d="M125 118h15v5h-15zM129 134h9v5h-9zM139 132h7v7h-7zM203 145h16v9h-16zM210 143h14v10h-14zM525 138h13v8h-13zM506 135h19v12h-19zM398 191h18v9h-18zM727 155h8v10h-8zM749 152h11v5h-11zM262 201h9v6h-9zM472 181h18v12h-18zM483 186h12v12h-12zM983 288h9v9h-9zM997 296h11v6h-11z"/>
<path fill="#f0e625" d="M125 124h10v11h-10zM219 150h7v6h-7zM513 139h8v9h-8zM520 141h19v6h-19zM514 135h12v9h-12zM161 174h18v6h-18zM186 197h12v11h-12zM184 211h9v8h-9zM256 203h11v11h-11zM270 201h7v6h-7zM471 195h7v9h-7zM473 197h10v11h-10zM457 198h17v7h-17zM894 261h9v8h-9z"/>
<path fill="#f0c51f" d="M136 132h15v6h-15zM453 113h11v10h-11zM171 178h19v6h-19zM221 167h15v10h-15zM728 152h17v7h-17zM249 216h10v12h-10zM246 210h13v10h-13zM270 203h17v8h-17zM989 300h15v10h-15zM979 294h13v10h-13zM521 572h12v6h-12zM506 566h17v12h-17z"/>
<path fill="#f08e19" d="M165 114h19v6h-19zM786 113h15v6h-15zM785 113h12v8h-12zM866 155h10v11h-10zM863 159h16v6h-16zM898 214h19v5h-19zM1028 189h13v12h-13zM1040 194h14v8h-14zM1094 205h3v8h-3zM1086 198h11v10h-11zM934 246h7v7h-7zM928 233h14v10h-14zM1014 258h10v9h-10zM998 257h9v5h-9zM1039 258h7v9h-7zM600 482h8v11h-8zM615 475h8v12h-8zM667 473h14v12h-14zM664 464h15v11h-15zM163 514h18v6h-18zM144 523h17v11h-17zM137 565h17v11h-17zM320 582h12v8h-12zM302 583h16v7h-16zM358 558h13v9h-13zM362 563h8v8h-8zM560 577h8v9h-8zM581 587h7v3h-7z"/>
<path fill="#f08019" d="M168 117h18v6h-18zM175 113h19v3h-19zM180 115h7v5h-7zM767 113h19v4h-19zM780 118h16v9h-16zM781 119h18v8h-18zM772 113h19v3h-19zM786 192h8v6h-8zM902 179h8v8h-8zM902 181h9v9h-9zM890 186h15v5h-15zM1028 193h12v8h-12zM1004 253h19v10h-19zM1030 265h12v10h-12zM1033 267h16v5h-16zM1059 249h9v12h-9zM1067 259h14v8h-14zM1073 248h15v7h-15zM638 471h15v5h-15zM641 468h13v9h-13zM626 463h16v9h-16zM612 472h12v8h-12zM601 481h18v9h-18zM129 510h9v7h-9zM125 517h17v7h-17zM149 526h11v5h-11zM318 525h12v5h-12zM345 531h13v11h-13zM485 534h19v5h-19zM500 530h8v12h-8zM474 534h16v10h-16zM499 528h12v5h-12zM148 544h16v9h-16zM160 551h14v11h-14zM140 572h11v7h-11zM185 561h15v11h-15zM224 551h18v8h-18zM316 577h10v11h-10zM323 580h17v5h-17zM358 555h7v8h-7z"/>
<path fill="#e4e330" d="M218 134h9v12h-9zM397 183h11v6h-11zM402 182h11v8h-11zM848 209h16v10h-16zM864 207h13v12h-13z"/>
<path fill="#a0cc5f" d="M279 140h9v11h-9zM693 156h10v5h-10zM125 222h6v6h-6zM125 222h16v5h-16zM134 223h10v7h-10zM125 229h8v10h-8zM381 232h15v8h-15zM396 229h7v8h-7zM532 209h7v12h-7zM516 205h18v11h-18zM612 220h14v6h-14zM622 205h10v7h-10zM851 255h19v10h-19zM949 274h12v9h-12zM965 261h15v10h-15zM1020 340h18v5h-18zM1040 346h11v11h-11zM1036 337h16v12h-16zM854 368h7v6h-7zM868 378h14v5h-14z"/>
<path fill="#96ca69" d="M285 135h10v6h-10zM272 128h18v8h-18zM267 133h11v11h-11zM321 154h14v10h-14zM328 159h7v10h-7zM381 164h10v10h-10zM377 164h9v6h-9zM394 161h11v7h-11zM507 170h18v6h-18zM534 166h9v8h-9zM511 170h13v5h-13zM396 219h10v10h-10zM381 229h12v10h-12zM541 214h15v9h-15zM533 202h9v11h-9zM620 204h10v9h-10zM786 219h9v10h-9zM794 217h7v11h-7zM970 267h13v7h-13zM1041 345h18v12h-18z"/>
<path fill="#8cc873" d="M272 131h19v8h-19zM322 150h8v10h-8zM324 169h11v8h-11zM335 171h14v5h-14zM376 166h10v6h-10zM377 165h7v11h-7zM507 168h14v12h-14zM300 217h17v7h-17zM382 233h9v5h-9zM525 206h15v10h-15zM782 220h13v12h-13zM786 222h7v6h-7zM780 229h16v11h-16zM389 341h14v5h-14zM1018 342h14v11h-14zM861 379h10v5h-10zM864 354h12v10h-12zM853 353h11v9h-11zM989 361h17v9h-17zM1012 372h10v6h-10z"/>
<path fill="#73c29b" d="M295 126h16v5h-16zM313 120h8v11h-8zM309 135h12v5h-12zM332 141h8v10h-8zM381 142h14v7h-14zM372 148h16v7h-16zM688 118h10v5h-10zM679 133h10v8h-10zM623 151h19v12h-19zM613 148h9v11h-9zM275 232h10v7h-10zM829 249h7v11h-7zM830 259h14v10h-14zM765 280h8v12h-8zM759 281h14v10h-14zM750 282h13v7h-13zM828 297h14v8h-14zM335 338h17v9h-17zM1071 373h12v6h-12zM996 406h18v8h-18zM1007 403h8v11h-8z"/>
<path fill="#7ec485" d="M310 125h7v7h-7zM291 134h12v8h-12zM376 144h8v7h-8zM382 139h8v8h-8zM579 178h8v12h-8zM566 190h12v7h-12zM622 149h17v7h-17zM625 149h10v10h-10zM509 212h10v5h-10zM618 264h15v7h-15zM670 255h8v6h-8zM667 264h7v5h-7zM749 267h18v12h-18zM825 305h8v9h-8zM862 266h18v9h-18zM933 267h10v5h-10zM921 264h8v10h-8zM381 348h13v11h-13zM387 336h7v9h-7zM383 337h7v11h-7zM874 360h12v9h-12zM1006 374h11v11h-11zM1040 372h11v11h-11z"/>
<path fill="#77c38f" d="M338 137h17v12h-17zM329 146h11v8h-11zM371 141h7v10h-7zM681 138h12v8h-12zM668 131h17v7h-17zM563 189h11v10h-11zM586 183h11v8h-11zM609 150h8v6h-8zM501 217h12v5h-12zM598 256h17v5h-17zM613 252h15v9h-15zM599 260h19v6h-19zM674 259h11v10h-11zM818 257h15v7h-15zM749 276h9v8h-9zM813 296h15v10h-15zM871 269h19v8h-19zM874 272h16v9h-16zM924 272h9v11h-9zM317 344h13v7h-13zM311 348h18v7h-18zM1042 375h10v10h-10zM1073 375h9v11h-9z"/>
<path fill="#6fc1a7" d="M336 141h13v11h-13zM231 256h8v7h-8zM261 221h15v11h-15zM265 230h12v9h-12zM278 232h7v10h-7zM308 253h12v8h-12zM330 249h11v12h-11zM759 244h19v10h-19zM761 251h12v7h-12zM842 256h15v5h-15zM845 256h12v12h-12zM401 272h9v7h-9zM689 275h9v5h-9zM307 306h18v8h-18zM784 317h15v11h-15zM960 352h12v11h-12zM947 346h10v8h-10zM1024 375h11v10h-11zM1080 376h12v7h-12zM1026 389h19v8h-19zM1008 437h13v9h-13zM1081 450h16v6h-16zM1080 454h10v12h-10z"/>
<path fill="#67c0bf" d="M427 136h18v12h-18zM433 137h18v12h-18zM703 152h18v10h-18zM491 203h12v12h-12zM506 208h13v10h-13zM743 192h14v10h-14zM138 232h13v8h-13zM248 256h16v8h-16zM280 240h18v11h-18zM380 229h10v10h-10zM514 253h12v6h-12zM573 262h18v9h-18zM599 258h13v10h-13zM579 267h9v7h-9zM695 244h14v7h-14zM756 257h8v6h-8zM759 244h19v9h-19zM756 247h18v11h-18zM765 257h11v6h-11zM769 240h19v8h-19zM777 246h14v10h-14zM392 274h14v7h-14zM393 282h12v12h-12zM520 276h10v6h-10zM514 288h18v9h-18zM553 263h7v10h-7zM546 274h16v11h-16zM624 267h13v6h-13zM683 282h8v11h-8zM705 263h9v9h-9zM706 269h11v5h-11zM750 286h15v7h-15zM777 277h10v8h-10zM290 301h17v9h-17zM785 311h19v12h-19zM782 308h15v7h-15zM836 322h17v10h-17zM837 317h14v7h-14zM906 306h19v10h-19zM906 302h13v12h-13zM600 384h10v12h-10zM609 373h8v11h-8zM634 365h12v6h-12zM686 386h16v10h-16zM669 378h11v7h-11zM673 391h14v9h-14zM711 349h9v8h-9zM685 350h13v10h-13zM773 368h14v5h-14zM845 376h15v8h-15zM307 403h18v5h-18zM825 428h9v6h-9zM821 416h7v8h-7zM837 412h11v10h-11zM832 416h14v9h-14zM905 402h8v9h-8zM1016 415h16v10h-16zM1062 397h7v11h-7zM1079 400h15v7h-15zM320 422h13v11h-13zM902 443h18v9h-18zM922 442h14v12h-14zM943 436h13v5h-13zM999 433h14v6h-14zM1088 448h9v10h-9zM1073 457h14v9h-14zM702 488h9v9h-9zM684 490h19v8h-19zM1055 565h11v8h-11zM1040 573h10v8h-10zM1069 558h15v8h-15z"/>
<path fill="#6bc0b3" d="M421 137h16v11h-16zM688 113h15v7h-15zM643 120h12v5h-12zM496 202h7v6h-7zM512 198h10v9h-10zM757 200h13v9h-13zM226 249h15v9h-15zM237 248h14v11h-14zM232 253h17v9h-17zM280 240h7v6h-7zM262 235h10v6h-10zM320 257h18v9h-18zM310 246h17v8h-17zM316 244h16v12h-16zM510 243h12v9h-12zM499 243h15v8h-15zM504 251h15v8h-15zM771 244h12v12h-12zM774 253h12v8h-12zM411 283h14v11h-14zM601 269h17v5h-17zM612 269h15v11h-15zM667 295h15v10h-15zM289 309h7v6h-7zM344 330h16v7h-16zM370 321h10v6h-10zM784 305h12v6h-12zM833 324h16v5h-16zM846 323h18v10h-18zM851 325h12v7h-12zM960 341h15v6h-15zM691 384h8v8h-8zM774 381h11v7h-11zM778 369h17v10h-17zM771 376h12v7h-12zM1033 374h12v11h-12zM901 400h10v11h-10zM999 414h18v11h-18zM1030 392h13v6h-13zM921 426h11v9h-11zM930 429h15v11h-15zM934 423h18v5h-18zM1014 430h13v12h-13zM1089 450h8v6h-8zM1044 567h8v9h-8z"/>
<path fill="#f0b61d" d="M458 113h13v5h-13zM463 113h8v5h-8zM729 125h7v10h-7zM166 152h7v7h-7zM150 163h14v7h-14zM742 151h8v8h-8zM743 153h17v7h-17zM807 221h19v6h-19zM831 220h8v10h-8zM363 576h13v6h-13zM562 555h17v6h-17zM552 576h16v11h-16z"/>
<path fill="#f0a91a" d="M467 122h7v12h-7zM747 130h12v11h-12zM723 126h19v5h-19zM164 164h17v6h-17zM169 158h8v6h-8zM229 164h7v11h-7zM231 168h10v7h-10zM887 210h11v7h-11zM1088 200h9v12h-9zM1080 206h10v6h-10zM942 239h8v5h-8zM357 573h12v9h-12zM359 569h15v5h-15zM523 572h13v10h-13zM516 568h12v11h-12zM527 580h15v10h-15z"/>
<path fill="#cfdd40" d="M531 137h7v8h-7zM564 149h10v11h-10zM563 159h8v5h-8zM600 212h16v6h-16zM846 202h18v5h-18zM705 519h13v5h-13zM708 505h9v9h-9zM704 511h9v10h-9z"/>
<path fill="#bad44c" d="M536 148h19v8h-19zM694 144h18v5h-18zM971 337h13v11h-13z"/>
<path fill="#c6d845" d="M523 136h17v5h-17zM259 167h9v6h-9zM572 152h14v9h-14zM195 214h19v10h-19zM183 216h12v8h-12zM980 340h15v12h-15zM710 506h8v12h-8z"/>
<path fill="#62bfca" d="M568 123h15v12h-15zM581 129h9v8h-9zM641 117h8v8h-8zM453 154h15v5h-15zM364 203h12v8h-12zM426 215h15v7h-15zM673 216h13v12h-13zM669 215h11v5h-11zM659 211h12v11h-12zM756 201h16v9h-16zM135 232h14v11h-14zM180 227h13v11h-13zM344 249h9v7h-9zM325 234h11v11h-11zM323 234h16v8h-16zM321 224h9v7h-9zM328 230h17v9h-17zM360 240h10v8h-10zM366 228h11v11h-11zM407 263h15v11h-15zM416 261h15v9h-15zM532 245h9v6h-9zM531 249h7v11h-7zM538 244h14v11h-14zM579 257h18v7h-18zM682 235h17v10h-17zM683 245h8v8h-8zM514 276h18v7h-18zM608 272h16v9h-16zM670 294h8v9h-8zM742 290h11v7h-11zM759 281h14v6h-14zM775 268h15v10h-15zM767 274h19v12h-19zM283 354h8v10h-8zM275 363h7v5h-7zM504 355h12v10h-12zM630 351h8v12h-8zM627 358h14v7h-14zM685 392h19v5h-19zM769 369h17v5h-17zM835 383h7v11h-7zM960 365h8v9h-8zM325 389h16v12h-16zM829 425h10v7h-10zM912 394h13v10h-13zM911 393h8v6h-8zM944 403h15v5h-15zM940 405h17v11h-17zM1025 413h8v6h-8zM1061 384h11v12h-11zM334 425h17v9h-17zM646 422h13v7h-13zM1019 457h8v7h-8zM693 499h7v12h-7zM256 512h17v8h-17zM267 521h19v9h-19zM257 526h14v9h-14zM1046 569h15v8h-15zM1065 553h17v12h-17zM1079 544h11v11h-11z"/>
<path fill="#5cbed6" d="M566 134h14v7h-14zM454 144h9v12h-9zM709 145h8v11h-8zM350 183h7v11h-7zM349 181h8v10h-8zM395 213h12v5h-12zM406 225h15v5h-15zM428 209h18v10h-18zM443 216h16v5h-16zM425 207h16v9h-16zM668 207h7v9h-7zM709 183h14v10h-14zM722 190h8v6h-8zM720 181h17v12h-17zM134 230h13v7h-13zM191 257h13v9h-13zM184 257h8v10h-8zM409 234h10v7h-10zM414 231h14v7h-14zM418 272h14v8h-14zM444 263h18v7h-18zM459 260h10v7h-10zM576 266h15v12h-15zM455 281h16v12h-16zM502 286h9v7h-9zM555 264h10v8h-10zM548 270h15v7h-15zM613 290h7v9h-7zM596 285h8v5h-8zM480 342h19v5h-19zM483 334h16v9h-16zM681 343h13v7h-13zM864 312h13v11h-13zM455 361h19v11h-19zM491 359h18v7h-18zM592 377h9v5h-9zM840 368h17v11h-17zM964 362h11v9h-11zM324 399h13v10h-13zM343 425h19v6h-19zM607 419h18v12h-18zM759 404h18v11h-18zM939 397h19v6h-19zM1084 397h8v6h-8zM1064 401h12v7h-12zM360 472h16v10h-16zM668 423h8v5h-8zM851 466h10v9h-10zM843 463h17v8h-17zM837 460h15v10h-15zM1017 465h14v12h-14zM1017 462h16v7h-16zM1020 452h12v11h-12zM246 489h11v11h-11zM685 494h17v10h-17zM681 499h7v8h-7zM1046 582h13v6h-13zM1066 556h18v8h-18z"/>
<path fill="#50bbde" d="M610 142h16v5h-16zM623 140h14v8h-14zM649 137h17v12h-17zM343 209h8v8h-8zM672 215h11v8h-11zM734 198h7v5h-7zM190 234h17v7h-17zM181 248h15v11h-15zM330 248h8v7h-8zM344 239h9v6h-9zM337 236h9v11h-9zM168 283h13v6h-13zM332 293h12v6h-12zM333 292h13v11h-13zM343 295h15v5h-15zM454 292h14v5h-14zM466 285h10v9h-10zM608 291h13v5h-13zM589 288h18v5h-18zM724 279h13v11h-13zM710 282h17v7h-17zM687 341h16v10h-16zM684 347h10v12h-10zM678 348h11v10h-11zM762 346h7v10h-7zM746 344h15v12h-15zM752 341h16v12h-16zM854 308h12v9h-12zM290 357h10v11h-10zM343 372h8v8h-8zM449 370h16v6h-16zM446 363h15v7h-15zM477 369h19v7h-19zM891 347h17v6h-17zM956 370h7v7h-7zM324 420h17v8h-17zM423 430h11v7h-11zM408 432h14v5h-14zM419 421h9v9h-9zM614 428h19v12h-19zM767 397h15v9h-15zM550 438h14v10h-14zM834 464h14v5h-14zM833 458h11v10h-11zM1023 456h15v9h-15zM257 489h7v6h-7zM238 495h16v6h-16zM247 493h17v7h-17zM547 478h16v9h-16zM566 468h8v12h-8zM551 542h8v7h-8zM1034 582h10v6h-10z"/>
<path fill="#3eb6e1" d="M613 142h8v6h-8zM646 145h15v9h-15zM645 153h17v8h-17zM639 146h18v11h-18zM665 183h17v12h-17zM184 259h12v7h-12zM461 251h19v11h-19zM173 273h12v11h-12zM227 288h14v12h-14zM329 288h15v12h-15zM469 291h13v5h-13zM248 315h17v7h-17zM471 348h14v5h-14zM641 329h9v9h-9zM627 324h19v7h-19zM648 320h9v8h-9zM692 340h9v8h-9zM703 327h16v6h-16zM709 327h9v8h-9zM865 317h7v7h-7zM331 359h17v9h-17zM353 381h15v9h-15zM343 381h11v6h-11zM427 365h18v8h-18zM327 425h12v7h-12zM394 415h19v8h-19zM435 421h7v10h-7zM411 420h7v12h-7zM749 418h16v10h-16zM782 407h10v5h-10zM782 400h8v7h-8zM848 422h17v8h-17zM374 465h9v6h-9zM364 472h8v10h-8zM525 436h17v11h-17zM533 449h11v7h-11zM245 489h14v12h-14zM565 479h7v10h-7zM1064 483h17v9h-17zM548 542h14v6h-14zM551 546h11v8h-11zM946 533h7v9h-7zM1053 545h10v10h-10zM1089 529h8v5h-8zM1052 513h12v10h-12zM976 581h12v6h-12zM979 582h16v8h-16z"/>
<path fill="#abcf56" d="M681 138h19v7h-19zM689 130h19v10h-19zM685 126h7v10h-7zM623 208h15v8h-15zM608 210h12v6h-12zM859 254h16v12h-16z"/>
<path fill="#ee7319" d="M783 113h15v5h-15zM776 183h16v11h-16zM853 163h10v10h-10zM848 159h16v5h-16zM870 150h7v10h-7zM857 159h14v5h-14zM847 160h17v10h-17zM1008 252h12v9h-12zM998 255h8v10h-8zM1026 253h19v10h-19zM1022 266h15v7h-15zM1009 277h15v10h-15zM1079 297h9v10h-9zM641 462h17v10h-17zM315 515h18v10h-18zM327 544h14v8h-14zM498 535h17v10h-17zM589 525h9v9h-9zM148 547h9v10h-9zM164 578h14v9h-14zM240 551h17v5h-17zM249 546h12v12h-12zM381 568h11v12h-11zM386 568h7v8h-7zM745 571h13v10h-13zM821 572h9v8h-9z"/>
<path fill="#eb6619" d="M846 125h19v12h-19zM857 123h10v12h-10zM864 141h19v6h-19zM796 185h11v9h-11zM785 181h14v9h-14zM903 192h7v7h-7zM1041 205h18v7h-18zM1058 292h11v6h-11zM1065 293h17v7h-17zM556 389h12v5h-12zM315 519h14v12h-14zM321 510h14v12h-14zM599 523h8v10h-8zM679 535h14v11h-14zM678 546h11v5h-11zM188 569h10v6h-10zM181 571h11v10h-11zM750 558h18v10h-18zM815 577h12v9h-12zM875 564h19v7h-19z"/>
<path fill="#e95819" d="M846 144h18v6h-18zM839 163h7v12h-7zM831 166h16v11h-16zM946 192h19v12h-19zM957 199h17v5h-17zM987 204h16v12h-16zM1045 218h17v8h-17zM1011 265h17v11h-17zM1001 277h16v10h-16zM1065 289h19v7h-19zM566 390h12v12h-12zM570 383h16v11h-16zM579 397h14v6h-14zM155 496h14v9h-14zM368 503h13v7h-13zM598 523h15v9h-15zM587 515h16v10h-16zM589 523h18v6h-18zM668 542h12v8h-12zM155 586h10v4h-10zM154 583h17v7h-17zM189 576h7v5h-7zM238 561h14v7h-14zM419 546h10v11h-10zM763 569h14v12h-14zM744 566h15v9h-15zM759 565h8v6h-8zM880 570h9v6h-9zM869 566h17v10h-17zM865 568h7v11h-7zM864 560h19v11h-19z"/>
<path fill="#e74a19" d="M865 152h18v6h-18zM996 183h12v7h-12zM941 185h14v8h-14zM951 183h11v12h-11zM946 189h18v10h-18zM980 201h10v6h-10zM977 206h18v12h-18zM968 209h14v9h-14zM144 503h17v7h-17zM144 508h15v9h-15zM368 499h14v11h-14zM382 507h9v10h-9zM182 507h18v12h-18zM688 535h14v10h-14zM239 550h18v7h-18zM403 549h16v7h-16zM395 553h18v10h-18z"/>
<path fill="#e83c19" d="M930 131h13v7h-13zM932 120h9v7h-9zM919 133h13v5h-13zM999 136h7v10h-7zM147 497h16v11h-16zM191 493h10v8h-10zM187 493h18v10h-18zM373 507h10v11h-10zM189 510h9v8h-9zM224 519h9v9h-9zM201 518h18v6h-18zM402 518h9v10h-9zM431 536h10v12h-10zM243 558h10v9h-10zM683 560h15v10h-15zM787 575h10v5h-10zM783 573h13v12h-13zM773 577h15v6h-15z"/>
<path fill="#ea2f19" d="M925 119h7v10h-7zM917 124h15v10h-15zM1014 131h16v8h-16zM1000 140h17v9h-17zM1041 151h14v10h-14zM1002 174h13v12h-13zM546 420h17v7h-17zM542 414h19v7h-19zM537 408h9v11h-9zM513 446h11v11h-11zM501 449h8v8h-8zM170 520h13v7h-13zM182 519h8v12h-8zM174 513h10v9h-10zM219 525h11v7h-11zM224 525h16v5h-16zM391 507h17v10h-17zM394 510h10v12h-10zM432 541h11v9h-11zM631 522h16v8h-16zM625 524h14v10h-14zM735 520h10v6h-10zM734 509h16v9h-16zM604 549h15v9h-15zM601 554h7v12h-7zM686 557h7v10h-7zM666 567h7v10h-7zM664 556h12v11h-12zM672 561h14v9h-14z"/>
<path fill="#d1161d" d="M965 128h15v11h-15zM965 137h9v9h-9zM973 139h10v12h-10zM1073 130h11v10h-11zM1079 147h9v5h-9zM165 401h7v8h-7zM689 421h16v12h-16zM708 433h11v5h-11z"/>
<path fill="#af1922" d="M971 125h7v10h-7z"/>
<path fill="#c01821" d="M967 129h15v6h-15zM1091 132h6v10h-6zM693 428h11v7h-11zM218 497h17v5h-17zM218 494h19v8h-19zM872 518h8v5h-8zM871 521h14v5h-14z"/>
<path fill="#ea2419" d="M1000 137h7v7h-7zM1043 143h18v11h-18zM1089 177h8v7h-8zM1083 162h14v10h-14zM552 414h18v10h-18zM678 426h15v7h-15zM669 425h8v7h-8zM133 428h10v12h-10zM505 444h15v5h-15zM580 422h18v11h-18zM194 495h9v7h-9zM193 494h16v8h-16zM349 489h14v6h-14zM333 482h8v7h-8zM345 493h15v10h-15zM222 515h9v5h-9zM395 511h13v7h-13zM387 505h13v12h-13zM417 544h15v11h-15zM643 521h19v10h-19zM742 511h8v7h-8zM730 513h16v12h-16zM790 512h8v8h-8zM614 553h10v9h-10zM608 545h13v7h-13z"/>
<path fill="#e2141a" d="M1076 136h17v9h-17zM956 159h11v5h-11zM962 172h16v6h-16zM1032 189h12v10h-12zM1022 185h7v5h-7zM152 403h8v9h-8zM163 398h19v8h-19zM139 429h19v6h-19zM583 422h8v8h-8zM581 422h17v11h-17zM695 435h11v8h-11zM704 438h11v7h-11zM224 498h15v9h-15zM199 499h18v10h-18zM515 470h8v12h-8zM704 570h14v7h-14zM699 560h19v5h-19zM697 564h15v6h-15zM714 561h19v5h-19z"/>
<path fill="#d8e13b" d="M250 170h14v9h-14zM261 174h16v6h-16zM181 204h19v11h-19zM601 205h7v8h-7zM593 204h11v6h-11zM610 201h7v9h-7zM855 203h8v9h-8zM863 201h19v8h-19zM890 258h16v8h-16zM891 264h7v5h-7zM904 260h9v10h-9zM883 268h13v8h-13zM723 517h7v9h-7z"/>
<path fill="#85c67c" d="M319 155h19v9h-19zM322 166h11v7h-11zM334 173h18v9h-18zM517 164h14v10h-14zM576 188h9v7h-9zM308 214h18v8h-18zM316 206h14v6h-14zM315 211h12v9h-12zM611 265h9v8h-9zM664 259h8v6h-8zM655 249h11v12h-11zM916 275h12v8h-12zM923 262h12v12h-12zM366 335h14v12h-14zM872 356h19v6h-19z"/>
<path fill="#2bb1e5" d="M653 183h17v12h-17zM665 183h18v9h-18zM220 281h15v5h-15zM320 281h13v11h-13zM321 287h14v10h-14zM391 276h16v7h-16zM376 285h8v5h-8zM214 317h19v9h-19zM227 325h9v8h-9zM249 317h11v5h-11zM246 311h7v12h-7zM240 311h17v12h-17zM437 317h18v8h-18zM445 319h13v8h-13zM692 328h10v11h-10zM572 381h8v8h-8zM742 383h7v7h-7zM893 355h19v9h-19zM401 430h19v6h-19zM779 402h13v6h-13zM785 406h19v6h-19zM862 418h11v11h-11zM548 439h16v10h-16zM538 443h12v10h-12zM995 478h8v6h-8zM1006 482h13v5h-13zM987 478h8v6h-8zM1005 477h9v10h-9zM1077 472h7v9h-7zM1062 474h9v6h-9zM1072 476h8v10h-8zM1071 471h13v11h-13zM944 533h19v8h-19zM936 541h13v9h-13zM1048 547h15v7h-15zM1058 514h15v5h-15zM963 575h10v11h-10zM965 572h11v6h-11z"/>
<path fill="#25a7e0" d="M663 179h12v8h-12zM125 289h9v5h-9zM337 293h10v10h-10zM222 317h17v9h-17zM130 386h13v12h-13zM218 382h14v7h-14zM345 353h16v8h-16zM403 357h11v11h-11zM567 373h8v12h-8zM550 379h7v9h-7zM745 371h8v8h-8zM738 371h14v12h-14zM858 448h19v12h-19zM946 502h18v8h-18zM947 498h14v9h-14zM983 480h9v5h-9zM931 540h12v6h-12zM1048 540h10v8h-10zM1078 531h9v10h-9zM971 576h11v5h-11z"/>
<path fill="#e81b19" d="M976 162h11v7h-11zM964 171h14v5h-14zM1024 178h7v12h-7zM166 409h8v10h-8zM143 398h11v6h-11zM537 423h12v8h-12zM670 420h10v8h-10zM683 415h15v10h-15zM658 425h18v9h-18zM138 424h18v9h-18zM497 442h11v8h-11zM349 485h12v6h-12zM335 482h14v8h-14zM503 473h14v9h-14zM740 513h12v11h-12zM790 517h15v8h-15zM479 542h15v8h-15zM474 544h13v6h-13zM487 552h10v8h-10z"/>
<path fill="#f09b19" d="M804 217h15v12h-15zM895 205h10v6h-10zM1041 204h8v9h-8zM929 244h10v6h-10zM1050 249h17v9h-17zM1053 259h17v10h-17zM1073 308h19v11h-19zM1078 306h18v7h-18zM1089 303h8v8h-8zM1086 301h8v8h-8zM677 471h10v10h-10zM135 566h8v8h-8zM368 561h8v10h-8zM313 541h14v9h-14zM315 547h8v11h-8zM329 543h17v11h-17zM362 563h7v7h-7zM553 564h18v5h-18zM558 580h19v9h-19z"/>
<path fill="#2b89cd" d="M125 273h13v5h-13zM130 279h7v12h-7zM152 292h8v9h-8zM169 285h11v9h-11zM268 288h18v8h-18zM275 283h10v6h-10zM256 287h15v7h-15zM310 274h15v11h-15zM303 277h16v6h-16zM518 338h17v5h-17zM557 323h13v11h-13zM571 325h12v11h-12zM128 391h12v7h-12zM141 386h7v6h-7zM142 389h7v9h-7zM209 378h10v9h-10zM400 355h19v5h-19zM203 393h19v11h-19zM306 456h17v10h-17zM306 449h7v10h-7zM307 447h8v12h-8zM809 455h10v8h-10zM853 448h19v12h-19zM816 486h14v9h-14zM838 475h19v6h-19zM1021 502h9v9h-9zM804 546h18v6h-18zM825 540h14v6h-14zM819 538h9v8h-9zM817 541h15v9h-15zM915 528h7v9h-7zM988 531h7v11h-7zM898 572h10v11h-10zM909 576h9v6h-9zM954 558h11v8h-11zM963 557h18v10h-18z"/>
<path fill="#2898d7" d="M125 279h9v7h-9zM260 279h11v6h-11zM266 281h11v9h-11zM383 272h19v11h-19zM511 343h17v11h-17zM136 377h9v7h-9zM211 379h17v10h-17zM800 466h15v7h-15zM860 443h13v8h-13zM917 538h12v6h-12zM965 559h10v10h-10zM964 560h11v8h-11z"/>
<path fill="#2c7fc5" d="M149 284h17v6h-17zM143 278h13v5h-13zM267 291h19v6h-19zM258 281h18v9h-18zM260 283h19v6h-19zM304 288h14v7h-14zM522 350h7v6h-7zM503 347h12v12h-12zM551 313h12v8h-12zM177 379h19v11h-19zM253 383h16v11h-16zM464 429h7v11h-7zM470 422h13v12h-13zM713 404h9v6h-9zM233 454h17v10h-17zM305 461h7v6h-7zM450 451h11v5h-11zM456 444h19v7h-19zM784 470h9v10h-9zM775 478h10v11h-10zM823 482h15v11h-15zM837 488h8v6h-8zM831 476h15v12h-15zM1020 505h18v7h-18zM922 538h15v7h-15zM926 544h16v7h-16zM974 525h17v8h-17zM965 523h9v7h-9z"/>
<path fill="#2556a5" d="M147 330h10v6h-10zM140 329h14v11h-14zM145 335h11v7h-11zM167 400h13v5h-13zM179 436h16v9h-16zM170 432h17v6h-17z"/>
<path fill="#275fab" d="M163 333h8v7h-8zM566 331h16v11h-16zM741 463h12v9h-12zM460 485h7v9h-7z"/>
<path fill="#1b4395" d="M146 310h8v5h-8z"/>
<path fill="#163a8f" d="M142 308h11v7h-11z"/>
<path fill="#296ab4" d="M168 329h8v11h-8zM166 324h11v11h-11zM265 394h9v12h-9zM217 432h7v8h-7zM745 464h10v9h-10zM733 461h11v7h-11zM468 476h7v10h-7zM873 503h7v10h-7zM917 503h12v7h-12zM915 495h16v9h-16zM920 503h16v11h-16z"/>
<path fill="#2a71ba" d="M160 330h17v8h-17zM166 391h10v10h-10zM164 385h15v9h-15zM497 427h9v6h-9zM703 402h9v5h-9zM714 394h14v7h-14zM250 468h12v5h-12zM240 459h7v10h-7zM417 456h12v8h-12zM414 455h18v9h-18zM424 454h9v11h-9zM461 452h19v10h-19zM732 502h10v8h-10zM751 504h9v10h-9zM728 498h19v6h-19zM734 499h7v9h-7zM774 469h9v10h-9zM938 495h18v12h-18zM935 500h19v8h-19z"/>
<path fill="#2b78bf" d="M549 325h17v6h-17zM563 322h17v5h-17zM183 389h9v12h-9zM178 389h7v8h-7zM243 371h9v12h-9zM228 398h7v6h-7zM458 429h14v11h-14zM447 432h14v9h-14zM451 420h9v10h-9zM483 420h15v11h-15zM478 421h14v7h-14zM468 427h19v7h-19zM696 402h19v10h-19zM238 460h19v12h-19zM240 463h14v11h-14zM449 443h12v6h-12zM467 455h19v8h-19zM739 500h7v6h-7zM1026 511h10v7h-10zM982 523h18v10h-18zM974 522h11v9h-11zM895 578h11v7h-11z"/>
<path fill="#2863af" d="M584 332h11v12h-11zM254 395h19v6h-19zM209 434h19v7h-19zM208 436h19v12h-19zM225 437h17v10h-17zM738 458h17v8h-17zM745 472h13v6h-13zM442 500h8v12h-8zM446 472h17v7h-17zM455 476h16v12h-16zM868 509h16v5h-16zM870 502h19v10h-19zM860 506h16v8h-16z"/>
<path fill="#265ba8" d="M560 329h19v10h-19zM586 342h9v10h-9zM587 332h13v5h-13zM162 402h14v12h-14zM167 408h15v11h-15zM179 433h7v10h-7zM431 498h13v7h-13z"/>
<path fill="#2352a1" d="M177 429h17v10h-17z"/>
</g>
<rect x="124.5" y="112.5" width="973.0" height="478.0" fill="none" stroke="#454545" stroke-width="1.7"/>
<line x1="124.5" y1="192.06" x2="134.5" y2="192.06" stroke="#454545" stroke-width="1.5"/>
<line x1="1097.5" y1="192.06" x2="1087.5" y2="192.06" stroke="#454545" stroke-width="1.5"/>
<line x1="124.5" y1="271.82" x2="134.5" y2="271.82" stroke="#454545" stroke-width="1.5"/>
<line x1="1097.5" y1="271.82" x2="1087.5" y2="271.82" stroke="#454545" stroke-width="1.5"/>
<line x1="124.5" y1="351.58" x2="134.5" y2="351.58" stroke="#454545" stroke-width="1.5"/>
<line x1="1097.5" y1="351.58" x2="1087.5" y2="351.58" stroke="#454545" stroke-width="1.5"/>
<line x1="124.5" y1="431.34" x2="134.5" y2="431.34" stroke="#454545" stroke-width="1.5"/>
<line x1="1097.5" y1="431.34" x2="1087.5" y2="431.34" stroke="#454545" stroke-width="1.5"/>
<line x1="124.5" y1="511.10" x2="134.5" y2="511.10" stroke="#454545" stroke-width="1.5"/>
<line x1="1097.5" y1="511.10" x2="1087.5" y2="511.10" stroke="#454545" stroke-width="1.5"/>
<line x1="124.5" y1="590.86" x2="134.5" y2="590.86" stroke="#454545" stroke-width="1.5"/>
<line x1="1097.5" y1="590.86" x2="1087.5" y2="590.86" stroke="#454545" stroke-width="1.5"/>
<line x1="299.25" y1="590.5" x2="299.25" y2="580.5" stroke="#454545" stroke-width="1.5"/>
<line x1="299.25" y1="112.5" x2="299.25" y2="122.5" stroke="#454545" stroke-width="1.5"/>
<line x1="473.60" y1="590.5" x2="473.60" y2="580.5" stroke="#454545" stroke-width="1.5"/>
<line x1="473.60" y1="112.5" x2="473.60" y2="122.5" stroke="#454545" stroke-width="1.5"/>
<line x1="647.95" y1="590.5" x2="647.95" y2="580.5" stroke="#454545" stroke-width="1.5"/>
<line x1="647.95" y1="112.5" x2="647.95" y2="122.5" stroke="#454545" stroke-width="1.5"/>
<line x1="822.30" y1="590.5" x2="822.30" y2="580.5" stroke="#454545" stroke-width="1.5"/>
<line x1="822.30" y1="112.5" x2="822.30" y2="122.5" stroke="#454545" stroke-width="1.5"/>
<line x1="996.65" y1="590.5" x2="996.65" y2="580.5" stroke="#454545" stroke-width="1.5"/>
<line x1="996.65" y1="112.5" x2="996.65" y2="122.5" stroke="#454545" stroke-width="1.5"/>
<text x="72.80" y="200.43" font-size="29.00" textLength="43.50" lengthAdjust="spacingAndGlyphs" fill="#000">200</text>
<text x="72.80" y="279.74" font-size="29.00" textLength="43.50" lengthAdjust="spacingAndGlyphs" fill="#000">400</text>
<text x="72.80" y="359.05" font-size="29.00" textLength="43.50" lengthAdjust="spacingAndGlyphs" fill="#000">600</text>
<text x="72.80" y="438.36" font-size="29.00" textLength="43.50" lengthAdjust="spacingAndGlyphs" fill="#000">800</text>
<text x="58.30" y="517.67" font-size="29.00" textLength="58.00" lengthAdjust="spacingAndGlyphs" fill="#000">1000</text>
<text x="58.30" y="596.98" font-size="29.00" textLength="58.00" lengthAdjust="spacingAndGlyphs" fill="#000">1200</text>
<text x="277.21" y="623.00" font-size="29.00" textLength="43.50" lengthAdjust="spacingAndGlyphs" fill="#000">500</text>
<text x="443.88" y="623.00" font-size="29.00" textLength="58.00" lengthAdjust="spacingAndGlyphs" fill="#000">1000</text>
<text x="618.23" y="623.00" font-size="29.00" textLength="58.00" lengthAdjust="spacingAndGlyphs" fill="#000">1500</text>
<text x="793.22" y="623.00" font-size="29.00" textLength="58.00" lengthAdjust="spacingAndGlyphs" fill="#000">2000</text>
<text x="967.57" y="623.00" font-size="29.00" textLength="58.00" lengthAdjust="spacingAndGlyphs" fill="#000">2500</text>
<text x="473.50" y="657.80" font-size="27.50" textLength="318.37" lengthAdjust="spacingAndGlyphs" fill="#000">Azimuth [Multilook by 2]</text>
<g transform="rotate(-90)"><text x="-516.27" y="36.40" font-size="30.50" textLength="301.72" lengthAdjust="spacingAndGlyphs" fill="#000">Range [Multilook by 10]</text></g>
<rect x="1132" y="197.00" width="21" height="5.28" fill="#70151a"/>
<rect x="1132" y="201.98" width="21" height="5.28" fill="#7d171c"/>
<rect x="1132" y="206.97" width="21" height="5.28" fill="#8b191e"/>
<rect x="1132" y="211.95" width="21" height="5.28" fill="#9d1920"/>
<rect x="1132" y="216.94" width="21" height="5.28" fill="#af1922"/>
<rect x="1132" y="221.92" width="21" height="5.28" fill="#c01821"/>
<rect x="1132" y="226.91" width="21" height="5.28" fill="#d1161d"/>
<rect x="1132" y="231.89" width="21" height="5.28" fill="#e2141a"/>
<rect x="1132" y="236.88" width="21" height="5.28" fill="#e81b19"/>
<rect x="1132" y="241.86" width="21" height="5.28" fill="#ea2419"/>
<rect x="1132" y="246.84" width="21" height="5.28" fill="#ea2f19"/>
<rect x="1132" y="251.83" width="21" height="5.28" fill="#e83c19"/>
<rect x="1132" y="256.81" width="21" height="5.28" fill="#e74a19"/>
<rect x="1132" y="261.80" width="21" height="5.28" fill="#e95819"/>
<rect x="1132" y="266.78" width="21" height="5.28" fill="#eb6619"/>
<rect x="1132" y="271.77" width="21" height="5.28" fill="#ee7319"/>
<rect x="1132" y="276.75" width="21" height="5.28" fill="#f08019"/>
<rect x="1132" y="281.73" width="21" height="5.28" fill="#f08e19"/>
<rect x="1132" y="286.72" width="21" height="5.28" fill="#f09b19"/>
<rect x="1132" y="291.70" width="21" height="5.28" fill="#f0a91a"/>
<rect x="1132" y="296.69" width="21" height="5.28" fill="#f0b61d"/>
<rect x="1132" y="301.67" width="21" height="5.28" fill="#f0c51f"/>
<rect x="1132" y="306.66" width="21" height="5.28" fill="#f1d721"/>
<rect x="1132" y="311.64" width="21" height="5.28" fill="#f0e625"/>
<rect x="1132" y="316.62" width="21" height="5.28" fill="#e4e330"/>
<rect x="1132" y="321.61" width="21" height="5.28" fill="#d8e13b"/>
<rect x="1132" y="326.59" width="21" height="5.28" fill="#cfdd40"/>
<rect x="1132" y="331.58" width="21" height="5.28" fill="#c6d845"/>
<rect x="1132" y="336.56" width="21" height="5.28" fill="#bad44c"/>
<rect x="1132" y="341.55" width="21" height="5.28" fill="#abcf56"/>
<rect x="1132" y="346.53" width="21" height="5.28" fill="#a0cc5f"/>
<rect x="1132" y="351.52" width="21" height="5.28" fill="#96ca69"/>
<rect x="1132" y="356.50" width="21" height="5.28" fill="#8cc873"/>
<rect x="1132" y="361.48" width="21" height="5.28" fill="#85c67c"/>
<rect x="1132" y="366.47" width="21" height="5.28" fill="#7ec485"/>
<rect x="1132" y="371.45" width="21" height="5.28" fill="#77c38f"/>
<rect x="1132" y="376.44" width="21" height="5.28" fill="#73c29b"/>
<rect x="1132" y="381.42" width="21" height="5.28" fill="#6fc1a7"/>
<rect x="1132" y="386.41" width="21" height="5.28" fill="#6bc0b3"/>
<rect x="1132" y="391.39" width="21" height="5.28" fill="#67c0bf"/>
<rect x="1132" y="396.38" width="21" height="5.28" fill="#62bfca"/>
<rect x="1132" y="401.36" width="21" height="5.28" fill="#5cbed6"/>
<rect x="1132" y="406.34" width="21" height="5.28" fill="#50bbde"/>
<rect x="1132" y="411.33" width="21" height="5.28" fill="#3eb6e1"/>
<rect x="1132" y="416.31" width="21" height="5.28" fill="#2bb1e5"/>
<rect x="1132" y="421.30" width="21" height="5.28" fill="#25a7e0"/>
<rect x="1132" y="426.28" width="21" height="5.28" fill="#2898d7"/>
<rect x="1132" y="431.27" width="21" height="5.28" fill="#2b89cd"/>
<rect x="1132" y="436.25" width="21" height="5.28" fill="#2c7fc5"/>
<rect x="1132" y="441.23" width="21" height="5.28" fill="#2b78bf"/>
<rect x="1132" y="446.22" width="21" height="5.28" fill="#2a71ba"/>
<rect x="1132" y="451.20" width="21" height="5.28" fill="#296ab4"/>
<rect x="1132" y="456.19" width="21" height="5.28" fill="#2863af"/>
<rect x="1132" y="461.17" width="21" height="5.28" fill="#275fab"/>
<rect x="1132" y="466.16" width="21" height="5.28" fill="#265ba8"/>
<rect x="1132" y="471.14" width="21" height="5.28" fill="#2556a5"/>
<rect x="1132" y="476.12" width="21" height="5.28" fill="#2352a1"/>
<rect x="1132" y="481.11" width="21" height="5.28" fill="#204b9c"/>
<rect x="1132" y="486.09" width="21" height="5.28" fill="#1b4395"/>
<rect x="1132" y="491.08" width="21" height="5.28" fill="#163a8f"/>
<rect x="1132" y="496.06" width="21" height="5.28" fill="#153486"/>
<rect x="1132" y="501.05" width="21" height="5.28" fill="#172f7c"/>
<rect x="1132" y="506.03" width="21" height="5.28" fill="#182a72"/>
<rect x="1132" y="511.02" width="21" height="5.28" fill="#1c2866"/>
<rect x="1132" y="197" width="21" height="319" fill="none" stroke="#555" stroke-width="0.8"/>
<line x1="1149" y1="203.95" x2="1153" y2="203.95" stroke="#555" stroke-width="0.8"/>
<text x="1157.35" y="211.95" font-size="24.00" textLength="12.00" lengthAdjust="spacingAndGlyphs" fill="#262626">3</text>
<line x1="1149" y1="254.80" x2="1153" y2="254.80" stroke="#555" stroke-width="0.8"/>
<text x="1157.45" y="262.80" font-size="24.00" textLength="12.00" lengthAdjust="spacingAndGlyphs" fill="#262626">2</text>
<line x1="1149" y1="305.65" x2="1153" y2="305.65" stroke="#555" stroke-width="0.8"/>
<text x="1156.39" y="313.65" font-size="24.00" textLength="12.00" lengthAdjust="spacingAndGlyphs" fill="#262626">1</text>
<line x1="1149" y1="356.50" x2="1153" y2="356.50" stroke="#555" stroke-width="0.8"/>
<text x="1157.59" y="364.50" font-size="24.00" textLength="12.00" lengthAdjust="spacingAndGlyphs" fill="#262626">0</text>
<line x1="1149" y1="407.35" x2="1153" y2="407.35" stroke="#555" stroke-width="0.8"/>
<text x="1157.11" y="415.35" font-size="24.00" textLength="19.99" lengthAdjust="spacingAndGlyphs" fill="#262626">-1</text>
<line x1="1149" y1="458.20" x2="1153" y2="458.20" stroke="#555" stroke-width="0.8"/>
<text x="1157.11" y="466.20" font-size="24.00" textLength="19.99" lengthAdjust="spacingAndGlyphs" fill="#262626">-2</text>
<line x1="1149" y1="509.05" x2="1153" y2="509.05" stroke="#555" stroke-width="0.8"/>
<text x="1157.11" y="517.05" font-size="24.00" textLength="19.99" lengthAdjust="spacingAndGlyphs" fill="#262626">-3</text>
<text x="1128.41" y="186.50" font-size="22.00" textLength="76.18" lengthAdjust="spacingAndGlyphs" fill="#262626">[radians]</text>
<text x="100.28" y="708.90" font-size="31.50" textLength="1058.46" lengthAdjust="spacingAndGlyphs" fill="#000">Phase of cross interferogram, Multilooked in azimuth, by cross-correlation</text>
<text x="61.07" y="1154.40" font-size="31.50" textLength="1131.39" lengthAdjust="spacingAndGlyphs" fill="#000">Phase of cross interferogram, Multilooked in azimuth, by geometrical approach</text>
<text x="533.72" y="1103.90" font-size="29.50" textLength="189.89" lengthAdjust="spacingAndGlyphs" fill="#000">Range Samples</text>
<text x="533.02" y="1548.90" font-size="29.50" textLength="189.69" lengthAdjust="spacingAndGlyphs" fill="#000">Range Samples</text>
<g transform="rotate(-90)"><text x="-936.02" y="35.70" font-size="30.00" textLength="74.42" lengthAdjust="spacingAndGlyphs" fill="#000">Phase</text></g>
<g transform="rotate(-90)"><text x="-1381.13" y="35.00" font-size="30.00" textLength="75.04" lengthAdjust="spacingAndGlyphs" fill="#000">Phase</text></g>
<rect x="76.5" y="729.6" width="243.50" height="306.90" fill="#fff"/>
<polyline points="76.5,879.3 76.6,884.1 76.8,975.9 76.9,869.2 77.0,886.8 77.1,813.0 77.3,907.8 77.4,901.6 77.5,867.8 77.7,737.5 77.8,826.4 77.9,851.8 78.1,863.3 78.2,876.6 78.3,868.3 78.4,872.6 78.6,1010.0 78.7,747.2 78.8,862.7 79.0,887.5 79.1,858.3 79.2,1032.6 79.3,895.4 79.5,870.3 79.6,819.4 79.7,857.8 79.9,758.4 80.0,869.4 80.1,884.1 80.3,902.0 80.4,899.4 80.5,1026.6 80.6,893.4 80.8,1028.3 80.9,867.7 81.0,877.6 81.2,1015.3 81.3,883.4 81.4,884.0 81.5,867.4 81.7,891.4 81.8,882.4 81.9,833.3 82.1,883.8 82.2,849.1 82.3,806.1 82.5,884.8 82.6,903.4 82.7,873.9 82.8,803.2 83.0,891.5 83.1,901.9 83.2,955.3 83.4,870.7 83.5,976.3 83.6,865.0 83.7,875.7 83.9,888.5 84.0,946.3 84.1,868.4 84.3,899.4 84.4,855.1 84.5,753.0 84.7,931.2 84.8,887.5 84.9,838.5 85.0,981.9 85.2,885.8 85.3,776.2 85.4,879.8 85.6,873.2 85.7,869.4 85.8,870.5 85.9,850.6 86.1,865.1 86.2,950.8 86.3,754.3 86.5,1036.2 86.6,883.5 86.7,883.3 86.9,884.5 87.0,839.9 87.1,872.3 87.2,885.2 87.4,874.1 87.5,1001.7 87.6,841.9 87.8,777.7 87.9,861.6 88.0,882.0 88.1,864.6 88.3,865.8 88.4,879.6 88.5,865.6 88.7,869.1 88.8,882.4 88.9,870.2 89.1,887.3 89.2,835.5 89.3,876.5 89.4,880.1 89.6,884.3 89.7,876.5 89.8,881.6 90.0,873.4 90.1,872.3 90.2,860.0 90.3,881.3 90.5,878.5 90.6,836.0 90.7,859.0 90.9,875.5 91.0,874.4 91.1,868.3 91.3,872.0 91.4,867.9 91.5,874.7 91.6,877.9 91.8,866.1 91.9,889.0 92.0,886.0 92.2,865.2 92.3,879.9 92.4,862.3 92.5,875.8 92.7,861.0 92.8,879.0 92.9,857.7 93.1,860.1 93.2,870.2 93.3,887.6 93.5,875.8 93.6,871.1 93.7,870.3 93.8,867.7 94.0,955.2 94.1,871.7 94.2,882.6 94.4,870.3 94.5,882.1 94.6,889.7 94.7,870.6 94.9,850.6 95.0,873.3 95.1,786.9 95.3,903.3 95.4,876.5 95.5,866.5 95.7,880.3 95.8,882.5 95.9,877.6 96.0,734.4 96.2,973.0 96.3,886.4 96.4,880.4 96.6,906.4 96.7,878.6 96.8,861.3 96.9,882.9 97.1,883.2 97.2,944.5 97.3,876.0 97.5,855.0 97.6,891.7 97.7,875.9 97.9,949.9 98.0,941.7 98.1,889.6 98.2,870.6 98.4,865.8 98.5,1034.4 98.6,877.1 98.8,906.2 98.9,877.3 99.0,811.2 99.1,878.6 99.3,862.0 99.4,896.6 99.5,915.7 99.7,866.6 99.8,765.1 99.9,873.1 100.1,899.6 100.2,854.8 100.3,871.7 100.4,874.1 100.6,872.9 100.7,894.3 100.8,890.7 101.0,882.9 101.1,836.0 101.2,868.9 101.3,861.2 101.5,862.1 101.6,879.9 101.7,883.2 101.9,899.5 102.0,868.1 102.1,1003.7 102.3,967.7 102.4,871.0 102.5,826.0 102.6,868.3 102.8,894.0 102.9,901.1 103.0,831.2 103.2,743.0 103.3,871.1 103.4,858.6 103.5,858.4 103.7,876.9 103.8,866.3 103.9,864.0 104.1,881.0 104.2,1014.8 104.3,853.1 104.5,867.6 104.6,874.5 104.7,873.7 104.8,840.0 105.0,904.7 105.1,914.8 105.2,762.9 105.4,853.5 105.5,859.6 105.6,919.0 105.7,896.0 105.9,882.8 106.0,854.9 106.1,932.0 106.3,865.0 106.4,861.5 106.5,882.3 106.7,903.8 106.8,865.4 106.9,879.5 107.0,751.7 107.2,879.8 107.3,735.8 107.4,873.1 107.6,879.4 107.7,981.4 107.8,882.9 107.9,885.7 108.1,880.6 108.2,1015.2 108.3,879.4 108.5,892.3 108.6,875.9 108.7,876.1 108.9,1007.0 109.0,854.8 109.1,863.5 109.2,886.1 109.4,870.2 109.5,999.8 109.6,762.4 109.8,800.5 109.9,750.1 110.0,868.0 110.1,835.5 110.3,867.8 110.4,857.6 110.5,910.5 110.7,789.3 110.8,895.1 110.9,782.6 111.1,990.9 111.2,790.5 111.3,951.0 111.4,856.0 111.6,779.8 111.7,891.2 111.8,888.7 112.0,869.9 112.1,864.1 112.2,917.2 112.3,885.1 112.5,891.7 112.6,881.8 112.7,887.2 112.9,1006.4 113.0,771.4 113.1,875.6 113.3,932.8 113.4,924.1 113.5,1030.1 113.6,945.7 113.8,872.6 113.9,865.8 114.0,883.1 114.2,865.8 114.3,866.9 114.4,884.1 114.5,878.2 114.7,880.4 114.8,877.7 114.9,881.3 115.1,863.0 115.2,876.9 115.3,873.1 115.5,877.4 115.6,888.4 115.7,885.6 115.8,893.9 116.0,879.1 116.1,871.0 116.2,877.4 116.4,875.2 116.5,886.4 116.6,882.0 116.7,875.9 116.9,854.9 117.0,877.8 117.1,886.0 117.3,966.6 117.4,871.2 117.5,864.5 117.7,867.0 117.8,868.6 117.9,879.9 118.0,888.3 118.2,868.1 118.3,867.6 118.4,933.3 118.6,771.6 118.7,934.2 118.8,894.5 118.9,879.9 119.1,892.5 119.2,858.4 119.3,866.7 119.5,876.9 119.6,872.0 119.7,880.4 119.9,884.5 120.0,872.7 120.1,860.2 120.2,924.5 120.4,884.9 120.5,868.9 120.6,872.0 120.8,875.3 120.9,899.6 121.0,869.3 121.1,880.8 121.3,890.9 121.4,863.4 121.5,968.1 121.7,884.1 121.8,901.6 121.9,958.5 122.1,754.7 122.2,956.3 122.3,871.4 122.4,832.3 122.6,847.4 122.7,888.6 122.8,932.2 123.0,741.6 123.1,788.1 123.2,890.5 123.3,791.4 123.5,886.1 123.6,860.5 123.7,867.2 123.9,975.5 124.0,872.1 124.1,1017.6 124.3,886.3 124.4,891.6 124.5,893.5 124.6,873.1 124.8,870.7 124.9,872.3 125.0,861.4 125.2,870.4 125.3,873.5 125.4,875.6 125.5,877.9 125.7,861.8 125.8,869.2 125.9,878.6 126.1,874.1 126.2,1008.5 126.3,876.9 126.5,909.2 126.6,863.2 126.7,869.6 126.8,882.5 127.0,875.2 127.1,876.8 127.2,874.9 127.4,869.5 127.5,870.3 127.6,868.0 127.7,872.3 127.9,887.1 128.0,876.1 128.1,876.0 128.3,884.5 128.4,887.7 128.5,863.2 128.7,883.3 128.8,923.9 128.9,874.2 129.0,986.2 129.2,883.2 129.3,884.4 129.4,879.3 129.6,892.1 129.7,885.5 129.8,862.7 129.9,885.8 130.1,868.1 130.2,880.3 130.3,872.1 130.5,874.0 130.6,876.7 130.7,861.9 130.9,884.2 131.0,879.8 131.1,880.4 131.2,874.5 131.4,885.0 131.5,883.3 131.6,908.4 131.8,877.8 131.9,868.4 132.0,890.1 132.1,875.5 132.3,892.5 132.4,874.7 132.5,897.3 132.7,868.7 132.8,887.7 132.9,876.5 133.1,883.8 133.2,893.1 133.3,894.6 133.4,881.6 133.6,870.1 133.7,831.0 133.8,755.5 134.0,838.7 134.1,872.1 134.2,868.0 134.3,868.3 134.5,878.9 134.6,883.2 134.7,885.9 134.9,885.9 135.0,893.5 135.1,871.0 135.3,864.6 135.4,863.9 135.5,747.4 135.6,733.5 135.8,864.8 135.9,886.9 136.0,882.2 136.2,876.1 136.3,854.6 136.4,865.4 136.5,982.7 136.7,879.9 136.8,1004.0 136.9,879.3 137.1,874.4 137.2,874.2 137.3,887.5 137.5,870.3 137.6,876.0 137.7,995.5 137.8,1026.1 138.0,1010.0 138.1,868.6 138.2,881.3 138.4,879.6 138.5,883.7 138.6,852.2 138.7,898.9 138.9,868.3 139.0,884.0 139.1,880.2 139.3,875.7 139.4,867.9 139.5,874.3 139.7,880.8 139.8,896.2 139.9,909.2 140.0,900.7 140.2,882.8 140.3,879.8 140.4,882.7 140.6,866.2 140.7,895.7 140.8,872.9 140.9,889.9 141.1,870.9 141.2,906.8 141.3,880.8 141.5,768.5 141.6,872.3 141.7,909.3 141.9,886.3 142.0,872.4 142.1,879.2 142.2,898.6 142.4,876.5 142.5,883.7 142.6,881.4 142.8,876.7 142.9,887.1 143.0,903.9 143.1,886.2 143.3,870.2 143.4,888.8 143.5,871.4 143.7,813.0 143.8,812.6 143.9,733.9 144.1,881.6 144.2,800.0 144.3,872.7 144.4,865.1 144.6,902.4 144.7,883.1 144.8,730.7 145.0,912.5 145.1,880.2 145.2,884.9 145.3,879.0 145.5,786.1 145.6,924.9 145.7,992.6 145.9,942.7 146.0,852.0 146.1,846.2 146.3,806.0 146.4,888.3 146.5,896.4 146.6,864.2 146.8,761.7 146.9,903.0 147.0,932.9 147.2,968.0 147.3,878.0 147.4,1026.4 147.5,872.4 147.7,890.2 147.8,870.9 147.9,987.5 148.1,881.2 148.2,866.8 148.3,879.7 148.5,904.0 148.6,899.3 148.7,926.0 148.8,744.5 149.0,877.7 149.1,871.3 149.2,857.9 149.4,907.5 149.5,981.8 149.6,1001.3 149.7,745.0 149.9,870.3 150.0,920.6 150.1,862.8 150.3,1014.1 150.4,877.5 150.5,967.6 150.7,903.8 150.8,959.2 150.9,868.8 151.0,885.3 151.2,890.9 151.3,753.9 151.4,890.5 151.6,875.2 151.7,874.5 151.8,928.1 151.9,775.9 152.1,863.9 152.2,1022.4 152.3,868.7 152.5,842.5 152.6,887.5 152.7,889.8 152.9,879.1 153.0,900.9 153.1,895.4 153.2,889.4 153.4,882.7 153.5,881.0 153.6,877.6 153.8,881.6 153.9,901.1 154.0,877.6 154.1,889.2 154.3,880.1 154.4,886.5 154.5,878.8 154.7,879.2 154.8,873.1 154.9,877.1 155.1,883.2 155.2,888.8 155.3,877.1 155.4,866.6 155.6,883.6 155.7,887.2 155.8,887.0 156.0,886.9 156.1,879.3 156.2,882.7 156.3,887.0 156.5,889.0 156.6,882.9 156.7,875.8 156.9,873.5 157.0,884.5 157.1,881.5 157.3,885.6 157.4,881.8 157.5,888.6 157.6,877.9 157.8,889.7 157.9,883.6 158.0,877.0 158.2,871.2 158.3,888.0 158.4,869.7 158.5,884.5 158.7,879.6 158.8,882.5 158.9,875.5 159.1,884.3 159.2,891.3 159.3,882.2 159.5,883.3 159.6,896.7 159.7,885.1 159.8,878.0 160.0,878.1 160.1,884.4 160.2,879.7 160.4,765.8 160.5,1016.9 160.6,892.9 160.7,906.5 160.9,880.1 161.0,874.9 161.1,873.9 161.3,892.5 161.4,883.5 161.5,873.2 161.7,862.3 161.8,889.7 161.9,862.4 162.0,903.6 162.2,871.0 162.3,950.3 162.4,882.8 162.6,885.8 162.7,995.2 162.8,775.4 162.9,871.8 163.1,879.4 163.2,893.5 163.3,868.0 163.5,881.6 163.6,875.7 163.7,871.4 163.9,896.9 164.0,874.0 164.1,888.9 164.2,878.3 164.4,889.9 164.5,879.4 164.6,894.3 164.8,884.1 164.9,893.2 165.0,887.1 165.1,876.2 165.3,880.9 165.4,882.9 165.5,876.4 165.7,895.1 165.8,883.2 165.9,882.5 166.1,866.9 166.2,888.3 166.3,888.9 166.4,890.6 166.6,871.8 166.7,877.4 166.8,875.5 167.0,876.8 167.1,878.2 167.2,884.1 167.3,987.7 167.5,1026.6 167.6,876.5 167.7,875.3 167.9,890.8 168.0,882.7 168.1,895.6 168.3,886.2 168.4,892.1 168.5,891.5 168.6,888.4 168.8,897.6 168.9,889.4 169.0,880.1 169.2,891.4 169.3,892.9 169.4,896.9 169.5,893.6 169.7,874.7 169.8,884.2 169.9,876.8 170.1,875.2 170.2,893.1 170.3,876.9 170.5,884.7 170.6,889.7 170.7,879.8 170.8,881.4 171.0,885.5 171.1,885.3 171.2,886.4 171.4,893.9 171.5,885.3 171.6,873.2 171.7,886.1 171.9,883.1 172.0,888.8 172.1,884.3 172.3,883.3 172.4,868.4 172.5,879.3 172.7,881.7 172.8,872.5 172.9,873.1 173.0,874.5 173.2,891.9 173.3,900.9 173.4,875.6 173.6,888.0 173.7,891.8 173.8,876.4 173.9,901.3 174.1,874.4 174.2,883.8 174.3,876.7 174.5,888.4 174.6,891.6 174.7,877.8 174.9,892.3 175.0,884.4 175.1,885.6 175.2,898.1 175.4,874.5 175.5,891.5 175.6,886.9 175.8,883.5 175.9,898.0 176.0,885.5 176.1,883.6 176.3,888.4 176.4,885.5 176.5,889.4 176.7,880.1 176.8,901.0 176.9,881.7 177.1,892.3 177.2,884.2 177.3,870.1 177.4,885.5 177.6,880.8 177.7,877.3 177.8,887.5 178.0,889.0 178.1,891.5 178.2,885.0 178.3,885.7 178.5,881.0 178.6,871.5 178.7,888.8 178.9,875.1 179.0,880.3 179.1,887.6 179.3,885.9 179.4,887.2 179.5,893.9 179.6,908.9 179.8,894.8 179.9,887.3 180.0,887.9 180.2,872.8 180.3,883.2 180.4,878.8 180.5,899.4 180.7,878.1 180.8,894.5 180.9,886.3 181.1,879.7 181.2,835.7 181.3,887.5 181.5,885.2 181.6,852.9 181.7,874.7 181.8,882.0 182.0,1008.5 182.1,992.2 182.2,825.4 182.4,886.9 182.5,876.1 182.6,955.8 182.7,894.6 182.9,1033.6 183.0,808.0 183.1,793.0 183.3,857.0 183.4,1007.2 183.5,789.0 183.7,839.0 183.8,875.2 183.9,900.9 184.0,1012.8 184.2,882.2 184.3,788.9 184.4,1013.3 184.6,941.3 184.7,910.9 184.8,887.9 184.9,884.1 185.1,785.7 185.2,865.1 185.3,904.3 185.5,942.1 185.6,874.0 185.7,896.7 185.9,974.1 186.0,1000.3 186.1,996.8 186.2,917.6 186.4,992.3 186.5,896.8 186.6,885.9 186.8,873.3 186.9,893.1 187.0,967.4 187.1,869.6 187.3,899.1 187.4,891.8 187.5,879.2 187.7,897.2 187.8,938.8 187.9,892.4 188.1,885.1 188.2,802.3 188.3,896.6 188.4,895.5 188.6,896.3 188.7,848.9 188.8,886.9 189.0,886.9 189.1,883.6 189.2,902.6 189.3,738.3 189.5,902.6 189.6,882.1 189.7,868.5 189.9,827.9 190.0,875.6 190.1,1025.7 190.3,995.0 190.4,894.1 190.5,922.8 190.6,903.4 190.8,900.4 190.9,890.9 191.0,881.2 191.2,893.0 191.3,888.0 191.4,803.4 191.5,880.3 191.7,869.2 191.8,874.6 191.9,867.0 192.1,943.6 192.2,988.9 192.3,909.9 192.5,895.0 192.6,892.4 192.7,807.8 192.8,866.6 193.0,1019.7 193.1,745.6 193.2,900.2 193.4,911.6 193.5,852.7 193.6,890.5 193.7,895.2 193.9,749.1 194.0,900.4 194.1,892.1 194.3,867.1 194.4,880.5 194.5,762.7 194.7,884.6 194.8,894.2 194.9,876.5 195.0,852.8 195.2,908.9 195.3,883.5 195.4,880.2 195.6,880.2 195.7,1006.3 195.8,952.2 195.9,942.2 196.1,942.7 196.2,856.4 196.3,880.1 196.5,898.0 196.6,773.1 196.7,885.0 196.9,890.8 197.0,856.0 197.1,871.1 197.2,765.2 197.4,869.4 197.5,877.6 197.6,759.8 197.8,893.2 197.9,910.9 198.0,885.2 198.1,853.0 198.3,906.5 198.4,888.8 198.5,891.9 198.7,889.9 198.8,912.3 198.9,883.5 199.1,777.5 199.2,883.7 199.3,907.7 199.4,876.7 199.6,894.0 199.7,979.5 199.8,873.6 200.0,995.8 200.1,894.4 200.2,915.3 200.3,926.7 200.5,856.9 200.6,893.5 200.7,875.3 200.9,871.3 201.0,902.6 201.1,902.3 201.3,900.3 201.4,907.0 201.5,890.0 201.6,938.7 201.8,885.1 201.9,885.6 202.0,870.8 202.2,892.2 202.3,903.4 202.4,894.3 202.5,880.2 202.7,885.3 202.8,889.8 202.9,869.7 203.1,877.9 203.2,921.6 203.3,897.9 203.5,894.5 203.6,838.7 203.7,900.1 203.8,899.6 204.0,892.5 204.1,902.7 204.2,928.5 204.4,901.7 204.5,893.5 204.6,906.1 204.7,881.1 204.9,888.0 205.0,922.9 205.1,891.2 205.3,871.6 205.4,885.4 205.5,782.8 205.7,881.8 205.8,749.4 205.9,908.7 206.0,922.4 206.2,826.9 206.3,853.5 206.4,886.8 206.6,1024.9 206.7,873.5 206.8,879.4 206.9,765.8 207.1,901.0 207.2,896.9 207.3,881.6 207.5,898.3 207.6,897.2 207.7,1021.2 207.9,891.3 208.0,792.1 208.1,1005.2 208.2,865.0 208.4,897.7 208.5,1022.7 208.6,953.3 208.8,874.8 208.9,961.5 209.0,984.1 209.1,897.5 209.3,891.5 209.4,959.4 209.5,877.6 209.7,893.7 209.8,1013.4 209.9,804.0 210.1,873.3 210.2,895.6 210.3,883.7 210.4,873.0 210.6,865.4 210.7,872.7 210.8,876.9 211.0,871.9 211.1,892.6 211.2,891.8 211.3,860.1 211.5,892.6 211.6,893.4 211.7,891.1 211.9,893.7 212.0,885.4 212.1,903.1 212.3,889.9 212.4,893.2 212.5,877.0 212.6,891.9 212.8,886.8 212.9,895.2 213.0,864.8 213.2,875.2 213.3,876.2 213.4,898.0 213.5,882.2 213.7,1020.1 213.8,757.3 213.9,947.5 214.1,884.6 214.2,895.6 214.3,877.7 214.5,1028.0 214.6,904.2 214.7,874.7 214.8,869.7 215.0,897.6 215.1,881.2 215.2,765.4 215.4,1000.5 215.5,819.4 215.6,884.6 215.7,877.0 215.9,902.8 216.0,1001.7 216.1,891.7 216.3,909.3 216.4,873.1 216.5,734.8 216.7,852.5 216.8,885.1 216.9,877.3 217.0,904.5 217.2,879.4 217.3,894.6 217.4,925.6 217.6,860.9 217.7,891.1 217.8,882.9 217.9,875.7 218.1,865.6 218.2,890.2 218.3,805.4 218.5,830.3 218.6,911.7 218.7,903.1 218.9,823.8 219.0,758.3 219.1,879.5 219.2,767.7 219.4,893.9 219.5,829.0 219.6,752.4 219.8,865.6 219.9,888.4 220.0,791.3 220.1,884.0 220.3,952.0 220.4,925.6 220.5,900.2 220.7,806.7 220.8,878.2 220.9,893.4 221.1,880.5 221.2,904.4 221.3,873.8 221.4,908.1 221.6,897.9 221.7,878.1 221.8,898.7 222.0,732.0 222.1,865.1 222.2,901.0 222.3,892.0 222.5,758.0 222.6,957.2 222.7,758.0 222.9,904.5 223.0,987.8 223.1,890.2 223.3,884.3 223.4,890.5 223.5,911.5 223.6,888.9 223.8,878.7 223.9,839.6 224.0,904.4 224.2,874.3 224.3,835.7 224.4,879.3 224.5,941.4 224.7,885.3 224.8,876.5 224.9,862.4 225.1,856.8 225.2,901.0 225.3,890.8 225.5,902.0 225.6,786.7 225.7,900.4 225.8,892.9 226.0,890.2 226.1,886.3 226.2,900.2 226.4,879.5 226.5,729.9 226.6,889.4 226.7,884.1 226.9,886.3 227.0,894.4 227.1,897.0 227.3,900.7 227.4,889.1 227.5,774.6 227.7,908.6 227.8,880.9 227.9,928.2 228.0,800.1 228.2,880.9 228.3,876.7 228.4,996.8 228.6,850.7 228.7,988.5 228.8,941.3 228.9,896.9 229.1,958.8 229.2,883.1 229.3,1031.2 229.5,923.2 229.6,932.1 229.7,885.4 229.9,862.5 230.0,877.9 230.1,885.4 230.2,979.8 230.4,895.6 230.5,884.9 230.6,887.2 230.8,860.8 230.9,905.9 231.0,895.7 231.1,875.9 231.3,894.6 231.4,897.7 231.5,884.8 231.7,916.1 231.8,948.6 231.9,731.8 232.1,880.4 232.2,924.2 232.3,890.9 232.4,871.9 232.6,893.9 232.7,827.5 232.8,775.3 233.0,891.9 233.1,744.5 233.2,743.9 233.3,1036.1 233.5,897.7 233.6,1028.6 233.7,995.4 233.9,891.1 234.0,921.1 234.1,869.4 234.3,903.9 234.4,929.0 234.5,890.6 234.6,876.4 234.8,1028.6 234.9,903.1 235.0,1021.1 235.2,956.4 235.3,925.1 235.4,850.0 235.5,908.4 235.7,775.4 235.8,889.2 235.9,762.9 236.1,855.8 236.2,945.0 236.3,892.5 236.5,861.6 236.6,994.3 236.7,870.2 236.8,892.8 237.0,944.7 237.1,978.8 237.2,983.8 237.4,903.3 237.5,766.3 237.6,900.4 237.7,907.5 237.9,891.1 238.0,920.5 238.1,885.0 238.3,953.2 238.4,895.9 238.5,878.0 238.7,895.2 238.8,925.6 238.9,748.2 239.0,879.3 239.2,885.7 239.3,917.0 239.4,887.4 239.6,923.4 239.7,1001.0 239.8,870.2 239.9,893.4 240.1,890.4 240.2,893.8 240.3,896.7 240.5,877.9 240.6,926.1 240.7,872.7 240.9,866.2 241.0,889.1 241.1,875.4 241.2,906.4 241.4,911.1 241.5,856.1 241.6,797.4 241.8,954.6 241.9,739.7 242.0,986.3 242.1,747.1 242.3,879.2 242.4,882.5 242.5,761.3 242.7,900.2 242.8,915.5 242.9,916.4 243.1,751.9 243.2,889.0 243.3,913.8 243.4,975.8 243.6,858.8 243.7,886.8 243.8,887.4 244.0,888.1 244.1,817.1 244.2,905.8 244.3,755.3 244.5,868.6 244.6,837.4 244.7,893.8 244.9,946.5 245.0,904.1 245.1,893.0 245.3,885.2 245.4,872.3 245.5,890.4 245.6,753.3 245.8,889.8 245.9,961.9 246.0,909.0 246.2,900.6 246.3,824.3 246.4,824.4 246.5,813.0 246.7,743.8 246.8,730.2 246.9,842.5 247.1,819.3 247.2,878.2 247.3,893.8 247.5,875.8 247.6,925.8 247.7,905.0 247.8,872.1 248.0,890.2 248.1,870.6 248.2,889.5 248.4,885.0 248.5,976.9 248.6,893.0 248.7,895.0 248.9,799.9 249.0,880.0 249.1,943.9 249.3,878.4 249.4,889.5 249.5,918.1 249.7,901.0 249.8,777.7 249.9,913.4 250.0,892.1 250.2,908.1 250.3,906.7 250.4,900.5 250.6,911.7 250.7,911.4 250.8,889.9 250.9,977.9 251.1,883.9 251.2,803.6 251.3,899.1 251.5,899.1 251.6,879.2 251.7,906.6 251.9,887.9 252.0,888.0 252.1,890.8 252.2,896.7 252.4,893.4 252.5,876.1 252.6,918.3 252.8,981.3 252.9,891.8 253.0,904.1 253.1,905.6 253.3,888.3 253.4,935.4 253.5,904.5 253.7,893.2 253.8,895.8 253.9,903.1 254.1,837.0 254.2,865.8 254.3,771.3 254.4,1033.4 254.6,908.3 254.7,893.1 254.8,887.4 255.0,1006.0 255.1,900.0 255.2,907.0 255.3,912.9 255.5,894.2 255.6,1003.7 255.7,914.9 255.9,900.7 256.0,875.0 256.1,902.0 256.3,820.0 256.4,884.8 256.5,863.5 256.6,872.9 256.8,880.8 256.9,888.0 257.0,898.0 257.2,772.1 257.3,892.4 257.4,1015.0 257.5,1034.4 257.7,1011.7 257.8,911.9 257.9,895.2 258.1,887.0 258.2,893.4 258.3,1002.3 258.5,954.0 258.6,1019.8 258.7,886.4 258.8,929.8 259.0,883.5 259.1,900.6 259.2,926.7 259.4,892.8 259.5,959.4 259.6,902.0 259.7,888.1 259.9,891.0 260.0,888.6 260.1,877.7 260.3,886.7 260.4,893.1 260.5,930.7 260.7,903.9 260.8,900.0 260.9,894.9 261.0,893.2 261.2,892.2 261.3,750.6 261.4,889.3 261.6,886.8 261.7,890.1 261.8,906.1 261.9,897.4 262.1,906.2 262.2,884.4 262.3,900.7 262.5,884.6 262.6,1017.7 262.7,962.1 262.9,896.6 263.0,1030.3 263.1,905.2 263.2,885.5 263.4,884.9 263.5,895.6 263.6,900.0 263.8,883.5 263.9,879.0 264.0,919.7 264.1,900.0 264.3,895.6 264.4,941.7 264.5,889.5 264.7,880.4 264.8,975.4 264.9,887.9 265.1,999.4 265.2,825.1 265.3,954.8 265.4,890.0 265.6,891.3 265.7,899.7 265.8,886.2 266.0,910.9 266.1,890.1 266.2,894.9 266.3,894.0 266.5,893.1 266.6,887.7 266.7,894.5 266.9,900.7 267.0,905.1 267.1,887.3 267.3,893.3 267.4,882.8 267.5,892.1 267.6,877.7 267.8,906.2 267.9,881.2 268.0,897.5 268.2,904.7 268.3,897.1 268.4,885.8 268.5,899.7 268.7,882.2 268.8,907.8 268.9,890.4 269.1,904.3 269.2,892.0 269.3,888.2 269.5,898.4 269.6,898.0 269.7,894.2 269.8,916.9 270.0,903.7 270.1,888.0 270.2,893.5 270.4,902.5 270.5,892.9" fill="none" stroke="#0a64b0" stroke-width="0.8" stroke-linejoin="miter" stroke-opacity="0.92"/>
<line x1="76.5" y1="871.8" x2="270.5" y2="896.2" stroke="#f01a1a" stroke-width="2.6"/>
<rect x="76.5" y="729.6" width="243.50" height="306.90" fill="none" stroke="#a3a3a3" stroke-width="1.1"/>
<line x1="76.5" y1="1029.58" x2="80.0" y2="1029.58" stroke="#a3a3a3" stroke-width="1"/>
<line x1="320.0" y1="1029.58" x2="316.5" y2="1029.58" stroke="#a3a3a3" stroke-width="1"/>
<line x1="76.5" y1="980.74" x2="80.0" y2="980.74" stroke="#a3a3a3" stroke-width="1"/>
<line x1="320.0" y1="980.74" x2="316.5" y2="980.74" stroke="#a3a3a3" stroke-width="1"/>
<line x1="76.5" y1="931.89" x2="80.0" y2="931.89" stroke="#a3a3a3" stroke-width="1"/>
<line x1="320.0" y1="931.89" x2="316.5" y2="931.89" stroke="#a3a3a3" stroke-width="1"/>
<line x1="76.5" y1="883.05" x2="80.0" y2="883.05" stroke="#a3a3a3" stroke-width="1"/>
<line x1="320.0" y1="883.05" x2="316.5" y2="883.05" stroke="#a3a3a3" stroke-width="1"/>
<line x1="76.5" y1="834.21" x2="80.0" y2="834.21" stroke="#a3a3a3" stroke-width="1"/>
<line x1="320.0" y1="834.21" x2="316.5" y2="834.21" stroke="#a3a3a3" stroke-width="1"/>
<line x1="76.5" y1="785.36" x2="80.0" y2="785.36" stroke="#a3a3a3" stroke-width="1"/>
<line x1="320.0" y1="785.36" x2="316.5" y2="785.36" stroke="#a3a3a3" stroke-width="1"/>
<line x1="76.5" y1="736.52" x2="80.0" y2="736.52" stroke="#a3a3a3" stroke-width="1"/>
<line x1="320.0" y1="736.52" x2="316.5" y2="736.52" stroke="#a3a3a3" stroke-width="1"/>
<line x1="157.67" y1="1036.5" x2="157.67" y2="1033.0" stroke="#a3a3a3" stroke-width="1"/>
<line x1="157.67" y1="729.6" x2="157.67" y2="733.1" stroke="#a3a3a3" stroke-width="1"/>
<line x1="238.83" y1="1036.5" x2="238.83" y2="1033.0" stroke="#a3a3a3" stroke-width="1"/>
<line x1="238.83" y1="729.6" x2="238.83" y2="733.1" stroke="#a3a3a3" stroke-width="1"/>
<text x="151.83" y="1055.30" font-size="22.50" textLength="11.25" lengthAdjust="spacingAndGlyphs" fill="#303030">5</text>
<text x="227.02" y="1055.30" font-size="22.50" textLength="22.50" lengthAdjust="spacingAndGlyphs" fill="#303030">10</text>
<text x="308.20" y="1055.30" font-size="22.50" textLength="22.50" lengthAdjust="spacingAndGlyphs" fill="#303030">15</text>
<text x="321.19" y="1065.00" font-size="13.50" textLength="8.60" lengthAdjust="spacingAndGlyphs" fill="#262626">×</text>
<text x="330.46" y="1067.50" font-size="14.00" textLength="14.07" lengthAdjust="spacingAndGlyphs" fill="#262626">10</text>
<text x="343.91" y="1063.30" font-size="11.50" textLength="6.17" lengthAdjust="spacingAndGlyphs" fill="#262626">3</text>
<text x="54.14" y="1036.98" font-size="22.50" textLength="18.74" lengthAdjust="spacingAndGlyphs" fill="#303030">-3</text>
<text x="54.50" y="988.14" font-size="22.50" textLength="18.74" lengthAdjust="spacingAndGlyphs" fill="#303030">-2</text>
<text x="54.61" y="939.29" font-size="22.50" textLength="18.74" lengthAdjust="spacingAndGlyphs" fill="#303030">-1</text>
<text x="61.61" y="890.45" font-size="22.50" textLength="11.25" lengthAdjust="spacingAndGlyphs" fill="#303030">0</text>
<text x="62.10" y="841.61" font-size="22.50" textLength="11.25" lengthAdjust="spacingAndGlyphs" fill="#303030">1</text>
<text x="61.99" y="792.76" font-size="22.50" textLength="11.25" lengthAdjust="spacingAndGlyphs" fill="#303030">2</text>
<text x="61.63" y="743.92" font-size="22.50" textLength="11.25" lengthAdjust="spacingAndGlyphs" fill="#303030">3</text>
<rect x="75.6" y="1174.3" width="245.80" height="307.20" fill="#fff"/>
<polyline points="75.6,1345.6 75.7,1350.4 75.9,1442.3 76.0,1335.5 76.1,1353.1 76.3,1279.2 76.4,1374.1 76.5,1367.9 76.7,1334.0 76.8,1203.6 76.9,1292.5 77.0,1318.0 77.2,1329.5 77.3,1342.7 77.4,1334.4 77.6,1338.7 77.7,1476.2 77.8,1213.1 78.0,1328.7 78.1,1353.5 78.2,1324.3 78.4,1191.5 78.5,1361.4 78.6,1336.2 78.8,1285.3 78.9,1323.7 79.0,1224.1 79.2,1335.3 79.3,1350.0 79.4,1367.9 79.6,1365.2 79.7,1185.3 79.8,1359.2 79.9,1187.1 80.1,1333.4 80.2,1343.4 80.3,1481.1 80.5,1349.1 80.6,1349.6 80.7,1333.0 80.9,1357.1 81.0,1348.0 81.1,1298.9 81.3,1349.4 81.4,1314.6 81.5,1271.5 81.7,1350.4 81.8,1369.0 81.9,1339.4 82.1,1268.6 82.2,1357.0 82.3,1367.4 82.4,1420.8 82.6,1336.1 82.7,1441.8 82.8,1330.3 83.0,1341.0 83.1,1353.9 83.2,1411.7 83.4,1333.7 83.5,1364.7 83.6,1320.3 83.8,1218.1 83.9,1396.5 84.0,1352.7 84.2,1303.7 84.3,1447.1 84.4,1351.0 84.6,1241.2 84.7,1344.9 84.8,1338.3 85.0,1334.5 85.1,1335.6 85.2,1315.6 85.3,1330.2 85.5,1415.9 85.6,1219.2 85.7,1194.2 85.9,1348.4 86.0,1348.2 86.1,1349.4 86.3,1304.8 86.4,1337.2 86.5,1350.1 86.7,1338.9 86.8,1466.6 86.9,1306.7 87.1,1242.4 87.2,1326.4 87.3,1346.7 87.5,1329.3 87.6,1330.5 87.7,1344.3 87.9,1330.3 88.0,1333.7 88.1,1347.1 88.2,1334.8 88.4,1351.9 88.5,1300.1 88.6,1341.1 88.8,1344.7 88.9,1348.8 89.0,1341.1 89.2,1346.2 89.3,1337.9 89.4,1336.8 89.6,1324.5 89.7,1345.7 89.8,1342.9 90.0,1300.4 90.1,1323.4 90.2,1339.9 90.4,1338.7 90.5,1332.7 90.6,1336.4 90.7,1332.2 90.9,1339.0 91.0,1342.2 91.1,1330.3 91.3,1353.2 91.4,1350.2 91.5,1329.3 91.7,1344.0 91.8,1326.5 91.9,1339.9 92.1,1325.1 92.2,1343.0 92.3,1321.7 92.5,1324.1 92.6,1334.2 92.7,1351.6 92.9,1339.9 93.0,1335.1 93.1,1334.3 93.3,1331.7 93.4,1419.2 93.5,1335.6 93.6,1346.5 93.8,1334.2 93.9,1346.0 94.0,1353.6 94.2,1334.5 94.3,1314.3 94.4,1337.1 94.6,1250.6 94.7,1367.1 94.8,1340.2 95.0,1330.2 95.1,1344.1 95.2,1346.2 95.4,1341.2 95.5,1197.9 95.6,1436.7 95.8,1350.0 95.9,1344.0 96.0,1370.0 96.1,1342.1 96.3,1324.9 96.4,1346.4 96.5,1346.7 96.7,1408.1 96.8,1339.4 96.9,1318.4 97.1,1355.1 97.2,1339.3 97.3,1413.3 97.5,1405.1 97.6,1353.0 97.7,1333.9 97.9,1329.1 98.0,1190.7 98.1,1340.4 98.3,1369.5 98.4,1340.6 98.5,1274.4 98.7,1341.8 98.8,1325.2 98.9,1359.8 99.0,1378.9 99.2,1329.8 99.3,1228.1 99.4,1336.2 99.6,1362.7 99.7,1317.9 99.8,1334.8 100.0,1337.1 100.1,1335.9 100.2,1357.3 100.4,1353.7 100.5,1345.9 100.6,1298.9 100.8,1331.8 100.9,1324.1 101.0,1325.0 101.2,1342.8 101.3,1346.0 101.4,1362.4 101.6,1330.9 101.7,1466.6 101.8,1430.6 101.9,1333.7 102.1,1288.7 102.2,1331.1 102.3,1356.7 102.5,1363.8 102.6,1293.8 102.7,1205.5 102.9,1333.7 103.0,1321.2 103.1,1321.0 103.3,1339.5 103.4,1328.8 103.5,1326.5 103.7,1343.5 103.8,1477.4 103.9,1315.6 104.1,1330.0 104.2,1337.0 104.3,1336.2 104.4,1302.3 104.6,1367.1 104.7,1377.2 104.8,1225.2 105.0,1315.8 105.1,1322.0 105.2,1381.3 105.4,1358.3 105.5,1345.1 105.6,1317.1 105.8,1394.3 105.9,1327.2 106.0,1323.7 106.2,1344.5 106.3,1366.0 106.4,1327.5 106.6,1341.6 106.7,1213.7 106.8,1341.9 107.0,1197.8 107.1,1335.2 107.2,1341.4 107.3,1443.5 107.5,1344.9 107.6,1347.8 107.7,1342.5 107.9,1477.3 108.0,1341.3 108.1,1354.3 108.3,1337.8 108.4,1338.0 108.5,1469.0 108.7,1316.7 108.8,1325.3 108.9,1348.0 109.1,1332.0 109.2,1461.7 109.3,1224.0 109.5,1262.1 109.6,1211.7 109.7,1329.7 109.8,1297.2 110.0,1329.4 110.1,1319.3 110.2,1372.2 110.4,1250.8 110.5,1356.7 110.6,1244.1 110.8,1452.5 110.9,1251.9 111.0,1412.6 111.2,1317.5 111.3,1241.2 111.4,1352.7 111.6,1350.2 111.7,1331.3 111.8,1325.5 112.0,1378.6 112.1,1346.5 112.2,1353.1 112.4,1343.1 112.5,1348.6 112.6,1467.8 112.7,1232.6 112.9,1336.9 113.0,1394.1 113.1,1385.4 113.3,1184.3 113.4,1407.0 113.5,1333.8 113.7,1327.0 113.8,1344.3 113.9,1327.0 114.1,1328.0 114.2,1345.2 114.3,1339.3 114.5,1341.5 114.6,1338.8 114.7,1342.3 114.9,1324.0 115.0,1337.9 115.1,1334.1 115.2,1338.3 115.4,1349.3 115.5,1346.5 115.6,1354.9 115.8,1340.0 115.9,1331.8 116.0,1338.3 116.2,1336.1 116.3,1347.2 116.4,1342.8 116.6,1336.7 116.7,1315.6 116.8,1338.6 117.0,1346.8 117.1,1427.3 117.2,1331.9 117.4,1325.2 117.5,1327.6 117.6,1329.3 117.8,1340.5 117.9,1348.9 118.0,1328.7 118.1,1328.2 118.3,1393.9 118.4,1232.1 118.5,1394.8 118.7,1355.0 118.8,1340.4 118.9,1353.0 119.1,1318.8 119.2,1327.1 119.3,1337.3 119.5,1332.4 119.6,1340.8 119.7,1344.8 119.9,1333.1 120.0,1320.5 120.1,1384.8 120.3,1345.2 120.4,1329.1 120.5,1332.2 120.7,1335.5 120.8,1359.8 120.9,1329.5 121.0,1340.9 121.2,1351.1 121.3,1323.5 121.4,1428.3 121.6,1344.2 121.7,1361.7 121.8,1418.7 122.0,1214.6 122.1,1416.4 122.2,1331.4 122.4,1292.2 122.5,1307.4 122.6,1348.6 122.8,1392.1 122.9,1201.4 123.0,1247.9 123.2,1350.4 123.3,1251.2 123.4,1346.0 123.5,1320.3 123.7,1327.0 123.8,1435.4 123.9,1331.9 124.1,1477.5 124.2,1346.0 124.3,1351.3 124.5,1353.2 124.6,1332.7 124.7,1330.3 124.9,1331.9 125.0,1321.1 125.1,1330.0 125.3,1333.1 125.4,1335.1 125.5,1337.5 125.7,1321.3 125.8,1328.7 125.9,1338.1 126.1,1333.6 126.2,1468.1 126.3,1336.3 126.4,1368.7 126.6,1322.6 126.7,1329.0 126.8,1341.9 127.0,1334.6 127.1,1336.2 127.2,1334.2 127.4,1328.8 127.5,1329.6 127.6,1327.2 127.8,1331.5 127.9,1346.3 128.0,1335.3 128.2,1335.2 128.3,1343.6 128.4,1346.9 128.6,1322.4 128.7,1342.4 128.8,1383.0 128.9,1333.3 129.1,1445.4 129.2,1342.3 129.3,1343.5 129.5,1338.3 129.6,1351.2 129.7,1344.5 129.9,1321.7 130.0,1344.8 130.1,1327.0 130.3,1339.2 130.4,1331.0 130.5,1332.8 130.7,1335.5 130.8,1320.8 130.9,1343.0 131.1,1338.6 131.2,1339.2 131.3,1333.3 131.5,1343.8 131.6,1342.1 131.7,1367.2 131.8,1336.5 132.0,1327.0 132.1,1348.8 132.2,1334.1 132.4,1351.1 132.5,1333.3 132.6,1355.9 132.8,1327.2 132.9,1346.3 133.0,1335.0 133.2,1342.3 133.3,1351.6 133.4,1353.1 133.6,1340.0 133.7,1328.6 133.8,1289.4 134.0,1213.8 134.1,1297.0 134.2,1330.5 134.4,1326.4 134.5,1326.6 134.6,1337.2 134.7,1341.5 134.9,1344.2 135.0,1344.2 135.1,1351.8 135.3,1329.3 135.4,1322.8 135.5,1322.1 135.7,1205.4 135.8,1191.5 135.9,1322.9 136.1,1345.0 136.2,1340.3 136.3,1334.2 136.5,1312.6 136.6,1323.5 136.7,1440.8 136.9,1337.9 137.0,1462.2 137.1,1337.3 137.2,1332.4 137.4,1332.1 137.5,1345.4 137.6,1328.2 137.8,1333.9 137.9,1453.5 138.0,1176.9 138.2,1467.9 138.3,1326.4 138.4,1339.1 138.6,1337.4 138.7,1341.5 138.8,1309.9 139.0,1356.6 139.1,1326.0 139.2,1341.7 139.4,1337.9 139.5,1333.4 139.6,1325.5 139.8,1331.9 139.9,1338.4 140.0,1353.8 140.1,1366.8 140.3,1358.2 140.4,1340.4 140.5,1337.3 140.7,1340.2 140.8,1323.7 140.9,1353.1 141.1,1330.4 141.2,1347.3 141.3,1328.3 141.5,1364.2 141.6,1338.2 141.7,1225.7 141.9,1329.6 142.0,1366.7 142.1,1343.6 142.3,1329.7 142.4,1336.5 142.5,1355.9 142.6,1333.7 142.8,1340.9 142.9,1338.6 143.0,1333.9 143.2,1344.2 143.3,1361.0 143.4,1343.4 143.6,1327.3 143.7,1345.9 143.8,1328.5 144.0,1270.0 144.1,1269.6 144.2,1190.8 144.4,1338.6 144.5,1256.9 144.6,1329.6 144.8,1322.0 144.9,1359.3 145.0,1340.0 145.2,1187.5 145.3,1369.4 145.4,1337.1 145.5,1341.8 145.7,1335.9 145.8,1242.8 145.9,1381.7 146.1,1449.5 146.2,1399.5 146.3,1308.7 146.5,1302.8 146.6,1262.6 146.7,1345.0 146.9,1353.1 147.0,1320.8 147.1,1218.2 147.3,1359.6 147.4,1389.5 147.5,1424.6 147.7,1334.5 147.8,1175.9 147.9,1328.9 148.1,1346.7 148.2,1327.3 148.3,1444.1 148.4,1337.6 148.6,1323.2 148.7,1336.1 148.8,1360.4 149.0,1355.7 149.1,1382.4 149.2,1200.7 149.4,1334.0 149.5,1327.6 149.6,1314.2 149.8,1363.8 149.9,1438.2 150.0,1457.6 150.2,1201.0 150.3,1326.5 150.4,1376.8 150.6,1318.9 150.7,1470.3 150.8,1333.6 150.9,1423.7 151.1,1359.9 151.2,1415.3 151.3,1324.8 151.5,1341.3 151.6,1346.9 151.7,1209.8 151.9,1346.5 152.0,1331.1 152.1,1330.4 152.3,1384.1 152.4,1231.7 152.5,1319.7 152.7,1478.4 152.8,1324.5 152.9,1298.3 153.1,1343.4 153.2,1345.6 153.3,1334.9 153.5,1356.7 153.6,1351.2 153.7,1345.2 153.8,1338.4 154.0,1336.7 154.1,1333.3 154.2,1337.3 154.4,1356.7 154.5,1333.2 154.6,1344.8 154.8,1335.7 154.9,1342.1 155.0,1334.3 155.2,1334.8 155.3,1328.6 155.4,1332.6 155.6,1338.7 155.7,1344.3 155.8,1332.5 156.0,1322.0 156.1,1339.0 156.2,1342.6 156.3,1342.4 156.5,1342.3 156.6,1334.6 156.7,1338.1 156.9,1342.3 157.0,1344.3 157.1,1338.2 157.3,1331.0 157.4,1328.7 157.5,1339.7 157.7,1336.7 157.8,1340.8 157.9,1336.9 158.1,1343.8 158.2,1333.0 158.3,1344.8 158.5,1338.7 158.6,1332.1 158.7,1326.3 158.9,1343.0 159.0,1324.7 159.1,1339.5 159.2,1334.6 159.4,1337.4 159.5,1330.4 159.6,1339.2 159.8,1346.2 159.9,1337.1 160.0,1338.2 160.2,1351.5 160.3,1340.0 160.4,1332.8 160.6,1332.9 160.7,1339.2 160.8,1334.5 161.0,1220.4 161.1,1471.7 161.2,1347.6 161.4,1361.2 161.5,1334.8 161.6,1329.5 161.7,1328.5 161.9,1347.2 162.0,1338.1 162.1,1327.8 162.3,1316.8 162.4,1344.2 162.5,1316.9 162.7,1358.1 162.8,1325.5 162.9,1404.8 163.1,1337.3 163.2,1340.2 163.3,1449.7 163.5,1229.7 163.6,1326.2 163.7,1333.8 163.9,1347.8 164.0,1322.4 164.1,1335.9 164.3,1330.0 164.4,1325.7 164.5,1351.1 164.6,1328.2 164.8,1343.1 164.9,1332.5 165.0,1344.1 165.2,1333.6 165.3,1348.5 165.4,1338.2 165.6,1347.3 165.7,1341.2 165.8,1330.2 166.0,1334.9 166.1,1337.0 166.2,1330.4 166.4,1349.1 166.5,1337.2 166.6,1336.5 166.8,1320.8 166.9,1342.3 167.0,1342.8 167.2,1344.5 167.3,1325.7 167.4,1331.3 167.5,1329.3 167.7,1330.6 167.8,1332.0 167.9,1337.9 168.1,1441.6 168.2,1480.4 168.3,1330.2 168.5,1329.0 168.6,1344.5 168.7,1336.3 168.9,1349.3 169.0,1339.8 169.1,1345.7 169.3,1345.2 169.4,1342.0 169.5,1351.1 169.7,1343.0 169.8,1333.7 169.9,1344.9 170.0,1346.4 170.2,1350.4 170.3,1347.1 170.4,1328.2 170.6,1337.6 170.7,1330.2 170.8,1328.6 171.0,1346.5 171.1,1330.3 171.2,1338.1 171.4,1343.0 171.5,1333.1 171.6,1334.7 171.8,1338.7 171.9,1338.5 172.0,1339.7 172.2,1347.1 172.3,1338.5 172.4,1326.4 172.6,1339.3 172.7,1336.2 172.8,1341.9 172.9,1337.4 173.1,1336.4 173.2,1321.5 173.3,1332.4 173.5,1334.7 173.6,1325.5 173.7,1326.1 173.9,1327.5 174.0,1344.9 174.1,1353.9 174.3,1328.5 174.4,1341.0 174.5,1344.7 174.7,1329.2 174.8,1354.2 174.9,1327.2 175.1,1336.6 175.2,1329.5 175.3,1341.2 175.4,1344.3 175.6,1330.5 175.7,1345.1 175.8,1337.1 176.0,1338.3 176.1,1350.8 176.2,1327.2 176.4,1344.1 176.5,1339.5 176.6,1336.1 176.8,1350.6 176.9,1338.0 177.0,1336.1 177.2,1341.0 177.3,1338.0 177.4,1341.9 177.6,1332.6 177.7,1353.5 177.8,1334.1 178.0,1344.7 178.1,1336.6 178.2,1322.5 178.3,1337.9 178.5,1333.2 178.6,1329.6 178.7,1339.9 178.9,1341.3 179.0,1343.8 179.1,1337.3 179.3,1338.0 179.4,1333.3 179.5,1323.7 179.7,1341.0 179.8,1327.3 179.9,1332.5 180.1,1339.7 180.2,1338.0 180.3,1339.3 180.5,1346.0 180.6,1361.0 180.7,1346.8 180.9,1339.4 181.0,1339.9 181.1,1324.8 181.2,1335.2 181.4,1330.8 181.5,1351.4 181.6,1330.0 181.8,1346.4 181.9,1338.2 182.0,1331.6 182.2,1287.5 182.3,1339.4 182.4,1337.0 182.6,1304.7 182.7,1326.5 182.8,1333.7 183.0,1460.4 183.1,1444.0 183.2,1277.1 183.4,1338.6 183.5,1327.8 183.6,1407.5 183.7,1346.3 183.9,1178.2 184.0,1259.5 184.1,1244.5 184.3,1308.5 184.4,1458.8 184.5,1240.5 184.7,1290.5 184.8,1326.7 184.9,1352.4 185.1,1464.4 185.2,1333.6 185.3,1240.2 185.5,1464.8 185.6,1392.8 185.7,1362.3 185.9,1339.3 186.0,1335.5 186.1,1236.9 186.3,1316.4 186.4,1355.6 186.5,1393.4 186.6,1325.2 186.8,1347.9 186.9,1425.4 187.0,1451.6 187.2,1448.1 187.3,1368.8 187.4,1443.5 187.6,1347.9 187.7,1337.0 187.8,1324.4 188.0,1344.1 188.1,1418.6 188.2,1320.6 188.4,1350.1 188.5,1342.8 188.6,1330.1 188.8,1348.2 188.9,1389.8 189.0,1343.3 189.1,1336.0 189.3,1253.1 189.4,1347.5 189.5,1346.4 189.7,1347.2 189.8,1299.7 189.9,1337.7 190.1,1337.7 190.2,1334.4 190.3,1353.4 190.5,1188.9 190.6,1353.3 190.7,1332.8 190.9,1319.1 191.0,1278.5 191.1,1326.3 191.3,1476.5 191.4,1445.7 191.5,1344.7 191.7,1373.4 191.8,1353.9 191.9,1350.9 192.0,1341.4 192.2,1331.7 192.3,1343.5 192.4,1338.5 192.6,1253.8 192.7,1330.7 192.8,1319.6 193.0,1324.9 193.1,1317.3 193.2,1394.0 193.4,1439.3 193.5,1360.3 193.6,1345.3 193.8,1342.7 193.9,1257.9 194.0,1316.8 194.2,1470.1 194.3,1195.6 194.4,1350.4 194.5,1361.8 194.7,1302.8 194.8,1340.7 194.9,1345.4 195.1,1199.1 195.2,1350.5 195.3,1342.2 195.5,1317.1 195.6,1330.5 195.7,1212.6 195.9,1334.6 196.0,1344.1 196.1,1326.5 196.3,1302.7 196.4,1358.8 196.5,1333.4 196.7,1330.1 196.8,1330.0 196.9,1456.3 197.1,1402.0 197.2,1392.0 197.3,1392.5 197.4,1306.1 197.6,1329.9 197.7,1347.8 197.8,1222.7 198.0,1334.7 198.1,1340.5 198.2,1305.7 198.4,1320.7 198.5,1214.8 198.6,1319.0 198.8,1327.2 198.9,1209.2 199.0,1342.7 199.2,1360.5 199.3,1334.7 199.4,1302.5 199.6,1356.0 199.7,1338.3 199.8,1341.4 200.0,1339.3 200.1,1361.7 200.2,1332.8 200.3,1226.8 200.5,1333.1 200.6,1357.1 200.7,1326.0 200.9,1343.3 201.0,1428.8 201.1,1322.9 201.3,1445.2 201.4,1343.6 201.5,1364.5 201.7,1376.0 201.8,1306.1 201.9,1342.7 202.1,1324.4 202.2,1320.4 202.3,1351.7 202.5,1351.4 202.6,1349.4 202.7,1356.0 202.8,1339.1 203.0,1387.7 203.1,1334.1 203.2,1334.6 203.4,1319.7 203.5,1341.1 203.6,1352.4 203.8,1343.2 203.9,1329.1 204.0,1334.2 204.2,1338.7 204.3,1318.5 204.4,1326.7 204.6,1370.5 204.7,1346.7 204.8,1343.3 205.0,1287.4 205.1,1348.8 205.2,1348.4 205.4,1341.2 205.5,1351.4 205.6,1377.2 205.7,1350.3 205.9,1342.1 206.0,1354.7 206.1,1329.7 206.3,1336.5 206.4,1371.5 206.5,1339.7 206.7,1320.1 206.8,1333.9 206.9,1231.2 207.1,1330.3 207.2,1197.7 207.3,1357.2 207.5,1370.9 207.6,1275.2 207.7,1301.8 207.9,1335.1 208.0,1473.3 208.1,1321.8 208.2,1327.7 208.4,1214.0 208.5,1349.3 208.6,1345.1 208.8,1329.8 208.9,1346.6 209.0,1345.4 209.2,1469.5 209.3,1339.5 209.4,1240.2 209.6,1453.4 209.7,1313.1 209.8,1345.8 210.0,1470.9 210.1,1401.4 210.2,1322.8 210.4,1409.6 210.5,1432.2 210.6,1345.5 210.8,1339.4 210.9,1407.4 211.0,1325.5 211.1,1341.6 211.3,1461.4 211.4,1251.8 211.5,1321.1 211.7,1343.5 211.8,1331.5 211.9,1320.8 212.1,1313.2 212.2,1320.5 212.3,1324.6 212.5,1319.6 212.6,1340.3 212.7,1339.5 212.9,1307.8 213.0,1340.3 213.1,1341.0 213.3,1338.8 213.4,1341.3 213.5,1333.0 213.7,1350.7 213.8,1337.4 213.9,1340.8 214.0,1324.6 214.2,1339.4 214.3,1334.3 214.4,1342.7 214.6,1312.2 214.7,1322.6 214.8,1323.6 215.0,1345.4 215.1,1329.6 215.2,1467.6 215.4,1204.5 215.5,1394.9 215.6,1331.9 215.8,1342.9 215.9,1324.9 216.0,1475.4 216.2,1351.5 216.3,1321.9 216.4,1316.8 216.5,1344.8 216.7,1328.4 216.8,1212.4 216.9,1447.8 217.1,1266.5 217.2,1331.7 217.3,1324.1 217.5,1349.9 217.6,1448.9 217.7,1338.7 217.9,1356.3 218.0,1320.0 218.1,1181.6 218.3,1299.4 218.4,1332.1 218.5,1324.2 218.7,1351.4 218.8,1326.3 218.9,1341.5 219.1,1372.5 219.2,1307.7 219.3,1337.9 219.4,1329.7 219.6,1322.5 219.7,1312.3 219.8,1336.9 220.0,1252.0 220.1,1277.0 220.2,1358.4 220.4,1349.8 220.5,1270.4 220.6,1204.8 220.8,1326.1 220.9,1214.2 221.0,1340.5 221.2,1275.5 221.3,1198.8 221.4,1312.1 221.6,1334.9 221.7,1237.7 221.8,1330.5 221.9,1398.5 222.1,1372.0 222.2,1346.6 222.3,1253.0 222.5,1324.6 222.6,1339.7 222.7,1326.8 222.9,1350.7 223.0,1320.1 223.1,1354.4 223.3,1344.2 223.4,1324.3 223.5,1344.9 223.7,1178.1 223.8,1311.3 223.9,1347.2 224.1,1338.1 224.2,1204.1 224.3,1403.4 224.5,1204.0 224.6,1350.6 224.7,1433.9 224.8,1336.3 225.0,1330.4 225.1,1336.5 225.2,1357.5 225.4,1334.8 225.5,1324.6 225.6,1285.5 225.8,1350.4 225.9,1320.2 226.0,1281.5 226.2,1325.2 226.3,1387.3 226.4,1331.2 226.6,1322.3 226.7,1308.1 226.8,1302.6 227.0,1346.8 227.1,1336.6 227.2,1347.7 227.3,1232.3 227.5,1346.1 227.6,1338.6 227.7,1335.9 227.9,1331.9 228.0,1345.8 228.1,1325.1 228.3,1175.3 228.4,1334.9 228.5,1329.6 228.7,1331.9 228.8,1339.9 228.9,1342.5 229.1,1346.2 229.2,1334.6 229.3,1219.9 229.5,1354.0 229.6,1326.3 229.7,1373.6 229.9,1245.4 230.0,1326.3 230.1,1322.0 230.2,1442.2 230.4,1295.9 230.5,1433.9 230.6,1386.6 230.8,1342.2 230.9,1404.1 231.0,1328.3 231.2,1476.5 231.3,1368.4 231.4,1377.3 231.6,1330.5 231.7,1307.6 231.8,1323.0 232.0,1330.5 232.1,1424.9 232.2,1340.6 232.4,1329.9 232.5,1332.2 232.6,1305.8 232.8,1350.9 232.9,1340.6 233.0,1320.8 233.1,1339.5 233.3,1342.6 233.4,1329.7 233.5,1360.9 233.7,1393.5 233.8,1176.5 233.9,1325.2 234.1,1369.1 234.2,1335.6 234.3,1316.6 234.5,1338.6 234.6,1272.1 234.7,1219.9 234.9,1336.6 235.0,1189.0 235.1,1188.4 235.3,1480.8 235.4,1342.3 235.5,1473.3 235.6,1440.0 235.8,1335.6 235.9,1365.7 236.0,1313.9 236.2,1348.5 236.3,1373.5 236.4,1335.1 236.6,1320.9 236.7,1473.2 236.8,1347.5 237.0,1465.6 237.1,1400.8 237.2,1369.5 237.4,1294.3 237.5,1352.8 237.6,1219.6 237.8,1333.5 237.9,1207.0 238.0,1300.0 238.2,1389.2 238.3,1336.7 238.4,1305.7 238.5,1438.6 238.7,1314.3 238.8,1337.0 238.9,1388.9 239.1,1423.0 239.2,1428.0 239.3,1347.4 239.5,1210.2 239.6,1344.5 239.7,1351.5 239.9,1335.1 240.0,1364.5 240.1,1329.0 240.3,1397.2 240.4,1339.8 240.5,1321.9 240.7,1339.1 240.8,1369.5 240.9,1191.9 241.0,1323.1 241.2,1329.5 241.3,1360.8 241.4,1331.2 241.6,1367.2 241.7,1444.9 241.8,1313.9 242.0,1337.1 242.1,1334.1 242.2,1337.5 242.4,1340.4 242.5,1321.5 242.6,1369.7 242.8,1316.2 242.9,1309.8 243.0,1332.6 243.2,1318.9 243.3,1350.0 243.4,1354.6 243.6,1299.5 243.7,1240.8 243.8,1398.1 243.9,1183.0 244.1,1429.8 244.2,1190.4 244.3,1322.6 244.5,1325.8 244.6,1204.5 244.7,1343.5 244.9,1358.8 245.0,1359.8 245.1,1195.0 245.3,1332.2 245.4,1357.1 245.5,1419.1 245.7,1302.0 245.8,1330.0 245.9,1330.6 246.1,1331.3 246.2,1260.2 246.3,1349.0 246.5,1198.3 246.6,1311.7 246.7,1280.4 246.8,1336.8 247.0,1389.6 247.1,1347.1 247.2,1336.0 247.4,1328.1 247.5,1315.3 247.6,1333.3 247.8,1196.1 247.9,1332.7 248.0,1404.9 248.2,1351.9 248.3,1343.5 248.4,1267.0 248.6,1267.2 248.7,1255.7 248.8,1186.5 249.0,1480.0 249.1,1285.2 249.2,1262.0 249.3,1320.9 249.5,1336.5 249.6,1318.5 249.7,1368.5 249.9,1347.7 250.0,1314.7 250.1,1332.8 250.3,1313.1 250.4,1332.1 250.5,1327.5 250.7,1419.5 250.8,1335.6 250.9,1337.4 251.1,1242.2 251.2,1322.4 251.3,1386.4 251.5,1320.8 251.6,1331.9 251.7,1360.5 251.9,1343.4 252.0,1219.9 252.1,1355.7 252.2,1334.5 252.4,1350.4 252.5,1349.0 252.6,1342.8 252.8,1353.9 252.9,1353.7 253.0,1332.1 253.2,1420.2 253.3,1326.0 253.4,1245.7 253.6,1341.3 253.7,1341.3 253.8,1321.3 254.0,1348.7 254.1,1330.0 254.2,1330.0 254.4,1332.9 254.5,1338.7 254.6,1335.4 254.7,1318.0 254.9,1360.3 255.0,1423.3 255.1,1333.8 255.3,1346.0 255.4,1347.5 255.5,1330.2 255.7,1377.3 255.8,1346.3 255.9,1335.0 256.1,1337.6 256.2,1344.9 256.3,1278.7 256.5,1307.5 256.6,1212.9 256.7,1475.2 256.9,1350.0 257.0,1334.8 257.1,1329.1 257.3,1447.8 257.4,1341.6 257.5,1348.7 257.6,1354.5 257.8,1335.7 257.9,1445.3 258.0,1356.5 258.2,1342.2 258.3,1316.5 258.4,1343.5 258.6,1261.4 258.7,1326.2 258.8,1304.9 259.0,1314.2 259.1,1322.2 259.2,1329.4 259.4,1339.3 259.5,1213.4 259.6,1333.7 259.8,1456.4 259.9,1475.8 260.0,1453.1 260.2,1353.1 260.3,1336.5 260.4,1328.2 260.5,1334.5 260.7,1443.6 260.8,1395.2 260.9,1461.1 261.1,1327.5 261.2,1371.0 261.3,1324.5 261.5,1341.6 261.6,1367.8 261.7,1333.9 261.9,1400.5 262.0,1343.0 262.1,1329.0 262.3,1331.9 262.4,1329.5 262.5,1318.6 262.7,1327.6 262.8,1333.9 262.9,1371.6 263.0,1344.8 263.2,1340.8 263.3,1335.7 263.4,1334.0 263.6,1333.0 263.7,1191.2 263.8,1330.0 264.0,1327.5 264.1,1330.8 264.2,1346.8 264.4,1338.1 264.5,1346.8 264.6,1325.1 264.8,1341.3 264.9,1325.2 265.0,1458.4 265.2,1402.8 265.3,1337.1 265.4,1471.0 265.6,1345.7 265.7,1326.0 265.8,1325.4 265.9,1336.0 266.1,1340.4 266.2,1323.9 266.3,1319.3 266.5,1360.2 266.6,1340.4 266.7,1336.0 266.9,1382.0 267.0,1329.8 267.1,1320.7 267.3,1415.7 267.4,1328.2 267.5,1439.7 267.7,1265.3 267.8,1395.1 267.9,1330.2 268.1,1331.5 268.2,1339.9 268.3,1326.4 268.4,1351.0 268.6,1330.2 268.7,1334.9 268.8,1334.1 269.0,1333.2 269.1,1327.7 269.2,1334.5 269.4,1340.7 269.5,1345.1 269.6,1327.3 269.8,1333.2 269.9,1322.7 270.0,1332.0 270.2,1317.6 270.3,1346.0 270.4,1321.0 270.6,1337.3 270.7,1344.5 270.8,1336.9 271.0,1325.5 271.1,1339.5 271.2,1322.0 271.3,1347.6 271.5,1330.1 271.6,1344.0 271.7,1331.6 271.9,1327.8 272.0,1338.0 272.1,1337.6 272.3,1333.8 272.4,1356.5 272.5,1343.2 272.7,1327.5 272.8,1333.1 272.9,1342.1 273.1,1332.3" fill="none" stroke="#0a64b0" stroke-width="0.8" stroke-linejoin="miter" stroke-opacity="0.92"/>
<line x1="75.6" y1="1338.2" x2="273.1" y2="1335.7" stroke="#d03b3b" stroke-width="1.0"/>
<rect x="75.6" y="1174.3" width="245.80" height="307.20" fill="none" stroke="#a3a3a3" stroke-width="1.1"/>
<line x1="75.6" y1="1474.58" x2="79.1" y2="1474.58" stroke="#a3a3a3" stroke-width="1"/>
<line x1="321.4" y1="1474.58" x2="317.9" y2="1474.58" stroke="#a3a3a3" stroke-width="1"/>
<line x1="75.6" y1="1425.68" x2="79.1" y2="1425.68" stroke="#a3a3a3" stroke-width="1"/>
<line x1="321.4" y1="1425.68" x2="317.9" y2="1425.68" stroke="#a3a3a3" stroke-width="1"/>
<line x1="75.6" y1="1376.79" x2="79.1" y2="1376.79" stroke="#a3a3a3" stroke-width="1"/>
<line x1="321.4" y1="1376.79" x2="317.9" y2="1376.79" stroke="#a3a3a3" stroke-width="1"/>
<line x1="75.6" y1="1327.90" x2="79.1" y2="1327.90" stroke="#a3a3a3" stroke-width="1"/>
<line x1="321.4" y1="1327.90" x2="317.9" y2="1327.90" stroke="#a3a3a3" stroke-width="1"/>
<line x1="75.6" y1="1279.01" x2="79.1" y2="1279.01" stroke="#a3a3a3" stroke-width="1"/>
<line x1="321.4" y1="1279.01" x2="317.9" y2="1279.01" stroke="#a3a3a3" stroke-width="1"/>
<line x1="75.6" y1="1230.12" x2="79.1" y2="1230.12" stroke="#a3a3a3" stroke-width="1"/>
<line x1="321.4" y1="1230.12" x2="317.9" y2="1230.12" stroke="#a3a3a3" stroke-width="1"/>
<line x1="75.6" y1="1181.22" x2="79.1" y2="1181.22" stroke="#a3a3a3" stroke-width="1"/>
<line x1="321.4" y1="1181.22" x2="317.9" y2="1181.22" stroke="#a3a3a3" stroke-width="1"/>
<line x1="157.53" y1="1481.5" x2="157.53" y2="1478.0" stroke="#a3a3a3" stroke-width="1"/>
<line x1="157.53" y1="1174.3" x2="157.53" y2="1177.8" stroke="#a3a3a3" stroke-width="1"/>
<line x1="239.47" y1="1481.5" x2="239.47" y2="1478.0" stroke="#a3a3a3" stroke-width="1"/>
<line x1="239.47" y1="1174.3" x2="239.47" y2="1177.8" stroke="#a3a3a3" stroke-width="1"/>
<text x="151.69" y="1500.30" font-size="22.50" textLength="11.25" lengthAdjust="spacingAndGlyphs" fill="#303030">5</text>
<text x="227.66" y="1500.30" font-size="22.50" textLength="22.50" lengthAdjust="spacingAndGlyphs" fill="#303030">10</text>
<text x="309.60" y="1500.30" font-size="22.50" textLength="22.50" lengthAdjust="spacingAndGlyphs" fill="#303030">15</text>
<text x="322.59" y="1510.00" font-size="13.50" textLength="8.60" lengthAdjust="spacingAndGlyphs" fill="#262626">×</text>
<text x="331.86" y="1512.50" font-size="14.00" textLength="14.07" lengthAdjust="spacingAndGlyphs" fill="#262626">10</text>
<text x="345.31" y="1508.30" font-size="11.50" textLength="6.17" lengthAdjust="spacingAndGlyphs" fill="#262626">3</text>
<text x="53.24" y="1481.98" font-size="22.50" textLength="18.74" lengthAdjust="spacingAndGlyphs" fill="#303030">-3</text>
<text x="53.60" y="1433.08" font-size="22.50" textLength="18.74" lengthAdjust="spacingAndGlyphs" fill="#303030">-2</text>
<text x="53.71" y="1384.19" font-size="22.50" textLength="18.74" lengthAdjust="spacingAndGlyphs" fill="#303030">-1</text>
<text x="60.71" y="1335.30" font-size="22.50" textLength="11.25" lengthAdjust="spacingAndGlyphs" fill="#303030">0</text>
<text x="61.20" y="1286.41" font-size="22.50" textLength="11.25" lengthAdjust="spacingAndGlyphs" fill="#303030">1</text>
<text x="61.09" y="1237.52" font-size="22.50" textLength="11.25" lengthAdjust="spacingAndGlyphs" fill="#303030">2</text>
<text x="60.73" y="1188.62" font-size="22.50" textLength="11.25" lengthAdjust="spacingAndGlyphs" fill="#303030">3</text>
<rect x="350.5" y="729.6" width="242.90" height="306.90" fill="#fff"/>
<polyline points="350.5,873.9 350.6,872.2 350.8,866.1 350.9,876.8 351.0,878.3 351.1,855.2 351.3,850.1 351.4,860.3 351.5,876.5 351.7,870.2 351.8,886.0 351.9,858.4 352.1,866.6 352.2,858.2 352.3,867.1 352.4,875.3 352.6,862.5 352.7,878.0 352.8,873.4 353.0,875.8 353.1,879.0 353.2,854.1 353.3,865.9 353.5,880.9 353.6,874.1 353.7,865.7 353.9,859.7 354.0,860.8 354.1,863.4 354.2,791.7 354.4,872.4 354.5,865.3 354.6,867.0 354.8,878.7 354.9,886.6 355.0,861.3 355.2,868.8 355.3,879.9 355.4,886.1 355.5,874.2 355.7,853.6 355.8,854.0 355.9,1023.0 356.1,844.1 356.2,993.0 356.3,887.7 356.4,756.2 356.6,863.1 356.7,871.8 356.8,851.9 357.0,865.3 357.1,859.7 357.2,854.4 357.3,867.0 357.5,873.9 357.6,864.9 357.7,868.6 357.9,848.1 358.0,874.5 358.1,864.1 358.3,871.4 358.4,858.0 358.5,872.5 358.6,852.6 358.8,859.0 358.9,865.7 359.0,872.8 359.2,882.9 359.3,845.5 359.4,867.0 359.5,905.0 359.7,857.7 359.8,864.0 359.9,971.1 360.1,846.4 360.2,866.6 360.3,850.2 360.4,868.1 360.6,867.6 360.7,853.9 360.8,961.8 361.0,824.6 361.1,860.3 361.2,784.7 361.4,764.3 361.5,952.6 361.6,879.9 361.7,862.8 361.9,883.4 362.0,864.5 362.1,881.3 362.3,855.5 362.4,881.9 362.5,850.9 362.6,855.7 362.8,880.5 362.9,867.3 363.0,871.8 363.2,875.4 363.3,877.5 363.4,865.8 363.5,863.4 363.7,862.4 363.8,871.0 363.9,873.3 364.1,841.2 364.2,860.7 364.3,904.3 364.5,858.8 364.6,867.9 364.7,868.2 364.8,875.2 365.0,873.2 365.1,856.6 365.2,879.9 365.4,878.4 365.5,877.0 365.6,877.8 365.7,890.0 365.9,869.2 366.0,867.1 366.1,875.7 366.3,857.6 366.4,869.1 366.5,864.9 366.7,856.5 366.8,869.9 366.9,864.5 367.0,868.4 367.2,943.6 367.3,881.4 367.4,878.2 367.6,861.7 367.7,878.3 367.8,862.7 367.9,892.5 368.1,863.5 368.2,877.3 368.3,851.6 368.5,874.7 368.6,865.8 368.7,860.5 368.8,920.5 369.0,867.0 369.1,863.3 369.2,887.6 369.4,879.6 369.5,871.9 369.6,879.3 369.8,866.8 369.9,882.1 370.0,870.5 370.1,863.1 370.3,871.1 370.4,870.7 370.5,872.0 370.7,857.4 370.8,872.0 370.9,869.3 371.0,861.4 371.2,866.9 371.3,861.3 371.4,874.0 371.6,882.2 371.7,867.3 371.8,864.0 371.9,862.0 372.1,873.8 372.2,868.6 372.3,879.9 372.5,861.2 372.6,868.5 372.7,854.8 372.9,878.3 373.0,855.6 373.1,874.8 373.2,873.5 373.4,877.8 373.5,851.9 373.6,876.8 373.8,864.0 373.9,878.1 374.0,869.8 374.1,786.6 374.3,871.3 374.4,864.0 374.5,876.4 374.7,882.7 374.8,850.9 374.9,849.9 375.0,770.0 375.2,860.8 375.3,863.0 375.4,859.7 375.6,875.5 375.7,878.2 375.8,885.7 376.0,832.0 376.1,874.6 376.2,858.0 376.3,871.7 376.5,880.6 376.6,871.2 376.7,877.2 376.9,871.3 377.0,865.3 377.1,869.5 377.2,879.6 377.4,860.9 377.5,857.4 377.6,875.6 377.8,873.5 377.9,891.1 378.0,866.9 378.1,877.5 378.3,874.7 378.4,802.7 378.5,743.0 378.7,869.4 378.8,848.5 378.9,820.8 379.1,851.6 379.2,900.7 379.3,849.8 379.4,881.6 379.6,878.9 379.7,995.7 379.8,896.3 380.0,809.3 380.1,858.9 380.2,863.2 380.3,860.8 380.5,853.8 380.6,763.2 380.7,866.1 380.9,882.7 381.0,856.1 381.1,877.7 381.2,854.3 381.4,878.4 381.5,875.6 381.6,1006.4 381.8,980.7 381.9,877.5 382.0,878.6 382.2,862.9 382.3,862.6 382.4,880.5 382.5,879.4 382.7,755.8 382.8,797.6 382.9,874.9 383.1,877.8 383.2,874.4 383.3,877.6 383.4,870.9 383.6,865.6 383.7,1010.8 383.8,854.1 384.0,855.5 384.1,864.9 384.2,900.5 384.4,862.0 384.5,884.5 384.6,887.0 384.7,861.5 384.9,845.2 385.0,871.2 385.1,886.5 385.3,859.7 385.4,862.7 385.5,867.7 385.6,886.5 385.8,865.5 385.9,872.3 386.0,862.9 386.2,854.6 386.3,874.0 386.4,877.4 386.5,866.4 386.7,902.1 386.8,969.2 386.9,841.3 387.1,859.4 387.2,888.3 387.3,859.6 387.5,861.0 387.6,867.1 387.7,866.5 387.8,867.1 388.0,864.7 388.1,868.8 388.2,871.0 388.4,869.0 388.5,862.3 388.6,845.5 388.7,803.3 388.9,992.2 389.0,862.9 389.1,887.3 389.3,871.1 389.4,876.4 389.5,980.7 389.6,732.6 389.8,786.9 389.9,855.9 390.0,887.4 390.2,784.7 390.3,943.0 390.4,867.0 390.6,802.1 390.7,879.9 390.8,879.4 390.9,746.1 391.1,750.9 391.2,801.9 391.3,856.7 391.5,880.5 391.6,857.2 391.7,1036.3 391.8,871.6 392.0,880.8 392.1,861.5 392.2,849.8 392.4,890.2 392.5,834.4 392.6,1003.2 392.7,899.6 392.9,873.9 393.0,926.3 393.1,885.7 393.3,958.6 393.4,746.4 393.5,867.7 393.7,862.0 393.8,877.2 393.9,984.7 394.0,863.6 394.2,877.8 394.3,844.4 394.4,872.2 394.6,765.8 394.7,865.2 394.8,763.8 394.9,969.2 395.1,888.1 395.2,865.7 395.3,864.9 395.5,950.7 395.6,887.7 395.7,892.4 395.8,896.0 396.0,881.2 396.1,878.9 396.2,869.6 396.4,873.6 396.5,875.3 396.6,862.0 396.8,886.9 396.9,878.6 397.0,873.7 397.1,877.2 397.3,875.1 397.4,876.8 397.5,886.1 397.7,885.3 397.8,877.6 397.9,866.2 398.0,873.5 398.2,808.3 398.3,870.5 398.4,865.2 398.6,851.7 398.7,873.6 398.8,859.9 399.0,884.8 399.1,876.8 399.2,875.9 399.3,879.9 399.5,852.8 399.6,858.5 399.7,782.0 399.9,950.6 400.0,873.3 400.1,891.7 400.2,902.0 400.4,844.2 400.5,885.9 400.6,917.8 400.8,1005.7 400.9,749.5 401.0,881.3 401.1,901.7 401.3,864.2 401.4,870.9 401.5,777.5 401.7,856.1 401.8,885.9 401.9,858.5 402.1,870.4 402.2,871.3 402.3,865.2 402.4,877.2 402.6,863.1 402.7,874.0 402.8,858.1 403.0,890.7 403.1,880.3 403.2,870.0 403.3,989.5 403.5,981.5 403.6,885.4 403.7,787.5 403.9,870.1 404.0,744.0 404.1,779.0 404.2,868.8 404.4,731.2 404.5,877.9 404.6,879.2 404.8,877.8 404.9,860.0 405.0,868.4 405.2,885.6 405.3,1035.6 405.4,754.7 405.5,831.6 405.7,797.4 405.8,877.9 405.9,742.4 406.1,880.7 406.2,821.0 406.3,830.5 406.4,889.1 406.6,896.4 406.7,867.8 406.8,860.4 407.0,875.2 407.1,870.4 407.2,1015.7 407.3,820.9 407.5,862.9 407.6,885.7 407.7,865.2 407.9,874.9 408.0,871.3 408.1,881.2 408.3,874.4 408.4,870.1 408.5,878.9 408.6,878.3 408.8,856.1 408.9,890.8 409.0,875.5 409.2,873.6 409.3,833.2 409.4,887.6 409.5,870.0 409.7,903.7 409.8,863.6 409.9,934.2 410.1,878.1 410.2,878.2 410.3,878.7 410.4,870.2 410.6,837.6 410.7,887.8 410.8,936.3 411.0,935.6 411.1,1019.1 411.2,831.3 411.4,860.7 411.5,866.4 411.6,1027.7 411.7,862.0 411.9,877.7 412.0,866.8 412.1,869.8 412.3,912.3 412.4,878.1 412.5,875.3 412.6,985.7 412.8,853.6 412.9,781.3 413.0,810.8 413.2,937.2 413.3,880.9 413.4,934.7 413.6,998.8 413.7,876.8 413.8,877.2 413.9,881.2 414.1,877.5 414.2,882.9 414.3,886.2 414.5,871.4 414.6,884.4 414.7,858.5 414.8,868.3 415.0,853.1 415.1,878.7 415.2,875.0 415.4,869.7 415.5,877.5 415.6,877.9 415.7,881.5 415.9,890.5 416.0,940.0 416.1,866.8 416.3,857.5 416.4,866.0 416.5,859.4 416.7,898.0 416.8,876.4 416.9,874.2 417.0,879.1 417.2,870.6 417.3,886.6 417.4,868.9 417.6,883.3 417.7,869.3 417.8,885.4 417.9,884.2 418.1,873.1 418.2,862.5 418.3,865.1 418.5,871.1 418.6,884.7 418.7,865.7 418.8,869.0 419.0,878.3 419.1,864.9 419.2,868.0 419.4,879.0 419.5,865.3 419.6,873.8 419.8,880.9 419.9,873.5 420.0,888.1 420.1,878.5 420.3,876.4 420.4,869.1 420.5,890.1 420.7,868.6 420.8,868.8 420.9,869.1 421.0,885.2 421.2,878.4 421.3,888.0 421.4,881.5 421.6,872.6 421.7,888.0 421.8,870.6 421.9,858.6 422.1,874.1 422.2,879.1 422.3,867.7 422.5,865.2 422.6,889.1 422.7,872.0 422.9,866.0 423.0,872.4 423.1,884.5 423.2,879.8 423.4,863.5 423.5,881.7 423.6,903.7 423.8,887.6 423.9,882.6 424.0,871.0 424.1,730.6 424.3,881.2 424.4,884.2 424.5,864.6 424.7,881.3 424.8,868.6 424.9,879.0 425.0,870.1 425.2,877.3 425.3,887.9 425.4,971.7 425.6,972.1 425.7,880.5 425.8,882.8 426.0,872.8 426.1,877.7 426.2,874.5 426.3,780.0 426.5,869.3 426.6,873.2 426.7,856.9 426.9,842.4 427.0,872.7 427.1,891.8 427.2,855.8 427.4,876.6 427.5,882.7 427.6,876.1 427.8,863.1 427.9,871.8 428.0,880.0 428.1,879.5 428.3,872.7 428.4,885.2 428.5,866.7 428.7,878.9 428.8,869.8 428.9,890.0 429.1,884.0 429.2,880.9 429.3,844.0 429.4,876.6 429.6,874.4 429.7,917.5 429.8,881.6 430.0,861.5 430.1,878.9 430.2,855.2 430.3,795.2 430.5,865.8 430.6,868.5 430.7,873.2 430.9,859.0 431.0,862.6 431.1,865.0 431.3,864.4 431.4,860.1 431.5,898.8 431.6,890.7 431.8,896.0 431.9,873.2 432.0,867.5 432.2,808.2 432.3,820.0 432.4,870.3 432.5,876.1 432.7,788.0 432.8,877.4 432.9,883.4 433.1,956.5 433.2,963.8 433.3,889.0 433.4,880.9 433.6,895.0 433.7,754.5 433.8,940.7 434.0,861.0 434.1,858.9 434.2,942.4 434.4,989.3 434.5,892.7 434.6,932.9 434.7,910.8 434.9,1007.9 435.0,805.0 435.1,870.8 435.3,867.5 435.4,864.5 435.5,770.6 435.6,933.1 435.8,874.4 435.9,738.6 436.0,865.1 436.2,856.2 436.3,876.0 436.4,759.5 436.5,984.1 436.7,900.8 436.8,875.2 436.9,847.8 437.1,864.1 437.2,743.1 437.3,871.8 437.5,790.1 437.6,889.7 437.7,865.8 437.8,1032.4 438.0,955.8 438.1,921.8 438.2,880.9 438.4,887.9 438.5,951.5 438.6,890.3 438.7,855.1 438.9,883.8 439.0,875.5 439.1,808.2 439.3,882.3 439.4,862.7 439.5,883.8 439.6,889.7 439.8,865.8 439.9,883.9 440.0,869.0 440.2,882.2 440.3,871.0 440.4,884.8 440.6,881.0 440.7,876.9 440.8,874.9 440.9,869.6 441.1,873.7 441.2,871.2 441.3,871.3 441.5,886.1 441.6,879.9 441.7,876.2 441.8,873.4 442.0,877.6 442.1,881.6 442.2,874.8 442.4,869.8 442.5,878.6 442.6,884.0 442.7,875.0 442.9,884.0 443.0,882.8 443.1,893.8 443.3,865.4 443.4,874.6 443.5,868.3 443.7,895.0 443.8,880.2 443.9,884.0 444.0,888.0 444.2,869.7 444.3,873.7 444.4,866.2 444.6,877.7 444.7,886.6 444.8,865.1 444.9,884.4 445.1,880.7 445.2,877.6 445.3,889.4 445.5,859.7 445.6,886.6 445.7,889.8 445.9,867.7 446.0,880.1 446.1,877.0 446.2,875.7 446.4,887.9 446.5,866.3 446.6,886.0 446.8,889.9 446.9,866.1 447.0,890.1 447.1,863.9 447.3,881.5 447.4,875.4 447.5,872.5 447.7,873.7 447.8,867.8 447.9,884.4 448.0,884.3 448.2,888.4 448.3,884.4 448.4,865.3 448.6,866.8 448.7,886.9 448.8,876.9 449.0,876.7 449.1,859.6 449.2,870.0 449.3,898.4 449.5,882.1 449.6,857.1 449.7,864.4 449.9,875.6 450.0,903.2 450.1,879.7 450.2,888.9 450.4,875.1 450.5,882.3 450.6,872.8 450.8,864.8 450.9,888.4 451.0,876.8 451.1,894.7 451.3,873.2 451.4,877.8 451.5,877.2 451.7,875.6 451.8,877.3 451.9,890.8 452.1,881.4 452.2,882.9 452.3,887.7 452.4,880.0 452.6,867.9 452.7,888.2 452.8,886.8 453.0,890.2 453.1,872.2 453.2,876.3 453.3,884.0 453.5,870.3 453.6,882.3 453.7,882.1 453.9,887.3 454.0,889.9 454.1,882.3 454.2,817.4 454.4,869.0 454.5,863.0 454.6,875.7 454.8,888.5 454.9,855.1 455.0,868.1 455.2,883.3 455.3,884.3 455.4,880.3 455.5,748.5 455.7,903.0 455.8,997.7 455.9,986.1 456.1,975.7 456.2,826.4 456.3,869.2 456.4,874.6 456.6,822.8 456.7,856.7 456.8,904.1 457.0,872.9 457.1,860.6 457.2,874.5 457.3,959.7 457.5,799.9 457.6,946.1 457.7,884.6 457.9,873.1 458.0,877.8 458.1,882.8 458.3,895.2 458.4,881.0 458.5,942.4 458.6,883.7 458.8,891.1 458.9,882.2 459.0,881.9 459.2,872.3 459.3,882.0 459.4,893.6 459.5,885.1 459.7,869.1 459.8,866.7 459.9,875.6 460.1,870.2 460.2,883.2 460.3,889.9 460.5,874.8 460.6,880.2 460.7,890.0 460.8,868.9 461.0,872.3 461.1,877.2 461.2,890.6 461.4,873.3 461.5,879.7 461.6,880.5 461.7,885.4 461.9,872.5 462.0,881.1 462.1,877.3 462.3,893.8 462.4,874.6 462.5,877.6 462.6,886.8 462.8,870.9 462.9,885.2 463.0,878.5 463.2,887.0 463.3,884.0 463.4,870.3 463.6,870.6 463.7,873.8 463.8,880.7 463.9,866.0 464.1,885.4 464.2,870.3 464.3,868.1 464.5,886.4 464.6,966.2 464.7,923.1 464.8,898.6 465.0,888.8 465.1,892.9 465.2,838.9 465.4,869.5 465.5,887.3 465.6,910.2 465.7,870.4 465.9,823.7 466.0,880.4 466.1,892.2 466.3,762.6 466.4,877.4 466.5,766.7 466.7,905.8 466.8,912.2 466.9,854.8 467.0,857.6 467.2,892.3 467.3,888.0 467.4,829.7 467.6,890.9 467.7,1027.5 467.8,885.4 467.9,866.2 468.1,743.0 468.2,891.5 468.3,886.9 468.5,881.9 468.6,884.8 468.7,887.7 468.8,872.5 469.0,883.9 469.1,996.9 469.2,884.5 469.4,826.4 469.5,883.8 469.6,866.7 469.8,1008.0 469.9,867.0 470.0,1011.1 470.1,874.4 470.3,877.5 470.4,881.7 470.5,885.0 470.7,862.3 470.8,883.5 470.9,878.3 471.0,785.4 471.2,891.7 471.3,880.3 471.4,878.7 471.6,863.0 471.7,896.6 471.8,858.3 471.9,895.2 472.1,883.2 472.2,870.4 472.3,875.7 472.5,887.8 472.6,803.3 472.7,870.2 472.9,897.2 473.0,894.2 473.1,898.5 473.2,854.3 473.4,869.4 473.5,884.7 473.6,879.6 473.8,891.0 473.9,889.0 474.0,883.5 474.1,881.4 474.3,823.4 474.4,883.7 474.5,880.2 474.7,836.3 474.8,877.7 474.9,871.4 475.0,892.3 475.2,893.4 475.3,893.7 475.4,874.9 475.6,886.8 475.7,879.1 475.8,887.6 476.0,866.8 476.1,880.1 476.2,893.9 476.3,886.8 476.5,873.8 476.6,889.6 476.7,898.1 476.9,869.7 477.0,870.1 477.1,879.3 477.2,884.9 477.4,886.7 477.5,883.4 477.6,888.6 477.8,884.0 477.9,882.5 478.0,874.5 478.2,883.3 478.3,903.6 478.4,801.9 478.5,871.3 478.7,870.4 478.8,884.0 478.9,872.8 479.1,889.0 479.2,882.6 479.3,882.0 479.4,874.2 479.6,881.8 479.7,881.0 479.8,892.7 480.0,889.0 480.1,893.1 480.2,888.5 480.3,947.3 480.5,869.1 480.6,898.4 480.7,885.9 480.9,895.4 481.0,875.1 481.1,880.6 481.3,887.5 481.4,901.0 481.5,881.7 481.6,885.2 481.8,884.2 481.9,880.5 482.0,880.1 482.2,901.6 482.3,894.0 482.4,884.8 482.5,882.4 482.7,984.0 482.8,875.4 482.9,893.5 483.1,890.3 483.2,869.5 483.3,875.9 483.4,989.7 483.6,873.6 483.7,864.8 483.8,887.6 484.0,882.0 484.1,889.1 484.2,896.1 484.4,821.1 484.5,874.1 484.6,885.7 484.7,865.2 484.9,884.2 485.0,865.5 485.1,889.5 485.3,885.4 485.4,878.4 485.5,894.4 485.6,887.7 485.8,904.4 485.9,886.2 486.0,877.6 486.2,792.4 486.3,887.2 486.4,906.2 486.5,874.1 486.7,1030.2 486.8,910.2 486.9,879.9 487.1,873.0 487.2,887.4 487.3,745.3 487.5,903.9 487.6,972.6 487.7,844.3 487.8,851.1 488.0,881.9 488.1,868.6 488.2,851.8 488.4,957.5 488.5,881.7 488.6,878.2 488.7,883.8 488.9,807.1 489.0,753.6 489.1,819.9 489.3,889.3 489.4,762.5 489.5,949.3 489.6,887.3 489.8,896.8 489.9,879.5 490.0,832.6 490.2,877.3 490.3,879.2 490.4,933.2 490.6,803.4 490.7,899.8 490.8,1032.3 490.9,881.7 491.1,854.6 491.2,851.7 491.3,887.5 491.5,1005.2 491.6,871.9 491.7,749.9 491.8,903.8 492.0,901.7 492.1,896.7 492.2,882.0 492.4,876.0 492.5,868.1 492.6,810.8 492.8,948.7 492.9,876.3 493.0,895.5 493.1,879.7 493.3,831.8 493.4,868.7 493.5,1032.2 493.7,751.7 493.8,888.1 493.9,890.9 494.0,886.6 494.2,888.6 494.3,807.0 494.4,878.5 494.6,871.8 494.7,891.5 494.8,898.0 494.9,880.0 495.1,886.4 495.2,891.4 495.3,889.8 495.5,929.6 495.6,863.1 495.7,883.7 495.9,875.1 496.0,837.5 496.1,895.8 496.2,1030.7 496.4,847.2 496.5,914.1 496.6,873.7 496.8,892.0 496.9,897.6 497.0,970.3 497.1,879.8 497.3,893.1 497.4,972.5 497.5,871.9 497.7,1034.4 497.8,928.8 497.9,867.4 498.0,749.9 498.2,753.2 498.3,805.7 498.4,901.2 498.6,873.5 498.7,861.3 498.8,986.7 499.0,877.3 499.1,884.0 499.2,889.5 499.3,832.8 499.5,877.8 499.6,837.3 499.7,840.4 499.9,890.4 500.0,1011.2 500.1,871.4 500.2,932.9 500.4,997.8 500.5,995.9 500.6,850.9 500.8,969.9 500.9,733.5 501.0,896.0 501.1,886.8 501.3,869.0 501.4,892.9 501.5,887.5 501.7,897.3 501.8,899.4 501.9,898.9 502.1,888.1 502.2,877.5 502.3,861.2 502.4,897.9 502.6,897.8 502.7,872.0 502.8,891.0 503.0,881.1 503.1,867.3 503.2,881.3 503.3,926.4 503.5,898.9 503.6,886.3 503.7,876.6 503.9,877.9 504.0,888.8 504.1,909.9 504.2,894.7 504.4,940.3 504.5,888.2 504.6,879.1 504.8,881.4 504.9,890.3 505.0,882.9 505.2,877.0 505.3,988.7 505.4,901.9 505.5,880.5 505.7,870.6 505.8,884.0 505.9,879.6 506.1,879.9 506.2,886.8 506.3,886.6 506.4,900.7 506.6,882.0 506.7,885.9 506.8,890.9 507.0,889.4 507.1,893.3 507.2,878.1 507.3,896.9 507.5,896.2 507.6,893.1 507.7,887.4 507.9,898.5 508.0,894.1 508.1,888.9 508.3,888.5 508.4,874.0 508.5,894.0 508.6,892.4 508.8,884.0 508.9,884.0 509.0,882.3 509.2,889.8 509.3,880.5 509.4,896.4 509.5,892.2 509.7,888.1 509.8,893.6 509.9,884.2 510.1,882.5 510.2,882.4 510.3,897.7 510.5,918.3 510.6,889.9 510.7,899.1 510.8,900.8 511.0,881.4 511.1,896.2 511.2,901.2 511.4,903.2 511.5,871.3 511.6,886.5 511.7,883.9 511.9,897.0 512.0,901.5 512.1,875.5 512.3,897.1 512.4,877.4 512.5,888.1 512.6,874.4 512.8,881.8 512.9,892.7 513.0,878.1 513.2,978.2 513.3,810.4 513.4,879.1 513.6,879.0 513.7,886.5 513.8,881.9 513.9,888.5 514.1,886.0 514.2,1032.8 514.3,882.1 514.5,882.5 514.6,894.5 514.7,873.9 514.8,880.4 515.0,870.3 515.1,884.0 515.2,901.7 515.4,872.5 515.5,869.3 515.6,883.4 515.7,886.4 515.9,892.5 516.0,879.2 516.1,904.4 516.3,888.6 516.4,875.3 516.5,895.7 516.7,888.4 516.8,894.3 516.9,894.6 517.0,884.1 517.2,822.2 517.3,773.2 517.4,896.7 517.6,886.4 517.7,882.7 517.8,880.0 517.9,1007.7 518.1,921.7 518.2,759.1 518.3,930.5 518.5,884.5 518.6,896.0 518.7,855.1 518.8,891.6 519.0,801.2 519.1,882.7 519.2,1004.2 519.4,846.6 519.5,889.0 519.6,886.1 519.8,878.7 519.9,1034.7 520.0,869.2 520.1,868.9 520.3,836.1 520.4,905.9 520.5,739.1 520.7,862.6 520.8,739.2 520.9,886.5 521.0,885.8 521.2,884.3 521.3,848.7 521.4,954.0 521.6,828.5 521.7,820.7 521.8,881.3 521.9,955.9 522.1,910.6 522.2,899.9 522.3,874.3 522.5,1023.5 522.6,795.0 522.7,885.6 522.9,882.1 523.0,763.3 523.1,1022.2 523.2,867.3 523.4,797.8 523.5,840.0 523.6,861.0 523.8,730.8 523.9,882.1 524.0,896.6 524.1,933.2 524.3,881.9 524.4,794.3 524.5,1028.8 524.7,888.8 524.8,987.7 524.9,772.5 525.1,895.2 525.2,739.4 525.3,1018.2 525.4,892.3 525.6,804.7 525.7,869.6 525.8,858.6 526.0,883.2 526.1,895.9 526.2,743.7 526.3,913.1 526.5,740.4 526.6,917.9 526.7,850.6 526.9,884.6 527.0,983.9 527.1,793.5 527.2,900.9 527.4,831.5 527.5,875.8 527.6,970.4 527.8,894.5 527.9,730.3 528.0,883.1 528.2,892.3 528.3,754.0 528.4,958.3 528.5,744.7 528.7,881.3 528.8,937.1 528.9,970.9 529.1,878.2 529.2,876.3 529.3,784.7 529.4,811.7 529.6,768.5 529.7,825.2 529.8,889.7 530.0,911.2 530.1,836.6 530.2,878.4 530.3,907.0 530.5,902.4 530.6,826.3 530.7,897.6 530.9,892.2 531.0,809.6 531.1,902.3 531.3,875.8 531.4,831.5 531.5,971.9 531.6,894.0 531.8,883.3 531.9,882.9 532.0,886.5 532.2,889.5 532.3,738.1 532.4,768.6 532.5,969.5 532.7,924.5 532.8,913.1 532.9,1024.6 533.1,917.0 533.2,897.4 533.3,899.1 533.4,887.2 533.6,1019.7 533.7,889.1 533.8,886.1 534.0,794.6 534.1,940.2 534.2,763.7 534.4,878.3 534.5,893.5 534.6,895.2 534.7,756.4 534.9,891.4 535.0,887.6 535.1,894.1 535.3,870.8 535.4,884.0 535.5,896.3 535.6,895.1 535.8,891.2 535.9,877.8 536.0,892.6 536.2,909.4 536.3,895.6 536.4,899.8 536.5,883.1 536.7,909.1 536.8,902.0 536.9,896.4 537.1,895.6 537.2,891.1 537.3,899.0 537.5,888.4 537.6,889.7 537.7,837.0 537.8,894.1 538.0,884.5 538.1,931.9 538.2,896.7 538.4,888.2 538.5,880.7 538.6,883.5 538.7,885.3 538.9,887.3 539.0,878.0 539.1,898.2 539.3,902.3 539.4,893.6 539.5,972.8 539.7,891.4 539.8,902.2 539.9,895.2 540.0,883.7 540.2,912.3 540.3,905.4 540.4,901.8 540.6,892.1 540.7,895.1 540.8,887.3 540.9,886.6 541.1,884.2 541.2,892.2 541.3,886.2 541.5,886.8 541.6,898.4 541.7,895.0 541.8,915.7 542.0,896.3 542.1,891.5 542.2,892.3 542.4,935.3 542.5,891.7 542.6,895.8 542.8,912.2 542.9,891.8 543.0,901.7 543.1,891.9 543.3,915.3 543.4,887.3 543.5,886.1 543.7,868.6 543.8,890.1 543.9,880.9 544.0,902.0 544.2,860.8" fill="none" stroke="#0a64b0" stroke-width="0.8" stroke-linejoin="miter" stroke-opacity="0.92"/>
<line x1="350.5" y1="866.4" x2="544.2" y2="891.4" stroke="#f01a1a" stroke-width="2.6"/>
<rect x="350.5" y="729.6" width="242.90" height="306.90" fill="none" stroke="#a3a3a3" stroke-width="1.1"/>
<line x1="350.5" y1="1029.58" x2="354.0" y2="1029.58" stroke="#a3a3a3" stroke-width="1"/>
<line x1="593.4" y1="1029.58" x2="589.9" y2="1029.58" stroke="#a3a3a3" stroke-width="1"/>
<line x1="350.5" y1="980.74" x2="354.0" y2="980.74" stroke="#a3a3a3" stroke-width="1"/>
<line x1="593.4" y1="980.74" x2="589.9" y2="980.74" stroke="#a3a3a3" stroke-width="1"/>
<line x1="350.5" y1="931.89" x2="354.0" y2="931.89" stroke="#a3a3a3" stroke-width="1"/>
<line x1="593.4" y1="931.89" x2="589.9" y2="931.89" stroke="#a3a3a3" stroke-width="1"/>
<line x1="350.5" y1="883.05" x2="354.0" y2="883.05" stroke="#a3a3a3" stroke-width="1"/>
<line x1="593.4" y1="883.05" x2="589.9" y2="883.05" stroke="#a3a3a3" stroke-width="1"/>
<line x1="350.5" y1="834.21" x2="354.0" y2="834.21" stroke="#a3a3a3" stroke-width="1"/>
<line x1="593.4" y1="834.21" x2="589.9" y2="834.21" stroke="#a3a3a3" stroke-width="1"/>
<line x1="350.5" y1="785.36" x2="354.0" y2="785.36" stroke="#a3a3a3" stroke-width="1"/>
<line x1="593.4" y1="785.36" x2="589.9" y2="785.36" stroke="#a3a3a3" stroke-width="1"/>
<line x1="350.5" y1="736.52" x2="354.0" y2="736.52" stroke="#a3a3a3" stroke-width="1"/>
<line x1="593.4" y1="736.52" x2="589.9" y2="736.52" stroke="#a3a3a3" stroke-width="1"/>
<line x1="431.47" y1="1036.5" x2="431.47" y2="1033.0" stroke="#a3a3a3" stroke-width="1"/>
<line x1="431.47" y1="729.6" x2="431.47" y2="733.1" stroke="#a3a3a3" stroke-width="1"/>
<line x1="512.43" y1="1036.5" x2="512.43" y2="1033.0" stroke="#a3a3a3" stroke-width="1"/>
<line x1="512.43" y1="729.6" x2="512.43" y2="733.1" stroke="#a3a3a3" stroke-width="1"/>
<text x="425.63" y="1055.30" font-size="22.50" textLength="11.25" lengthAdjust="spacingAndGlyphs" fill="#303030">5</text>
<text x="500.62" y="1055.30" font-size="22.50" textLength="22.50" lengthAdjust="spacingAndGlyphs" fill="#303030">10</text>
<text x="581.60" y="1055.30" font-size="22.50" textLength="22.50" lengthAdjust="spacingAndGlyphs" fill="#303030">15</text>
<text x="594.59" y="1065.00" font-size="13.50" textLength="8.60" lengthAdjust="spacingAndGlyphs" fill="#262626">×</text>
<text x="603.86" y="1067.50" font-size="14.00" textLength="14.07" lengthAdjust="spacingAndGlyphs" fill="#262626">10</text>
<text x="617.31" y="1063.30" font-size="11.50" textLength="6.17" lengthAdjust="spacingAndGlyphs" fill="#262626">3</text>
<rect x="355.8" y="1174.3" width="246.90" height="307.20" fill="#fff"/>
<polyline points="355.8,1346.1 355.9,1344.4 356.1,1338.3 356.2,1349.0 356.3,1350.4 356.5,1327.3 356.6,1322.2 356.7,1332.3 356.9,1348.6 357.0,1342.2 357.1,1358.0 357.3,1330.4 357.4,1338.6 357.5,1330.2 357.7,1339.0 357.8,1347.3 357.9,1334.4 358.1,1349.9 358.2,1345.3 358.3,1347.7 358.5,1350.8 358.6,1325.9 358.7,1337.7 358.9,1352.7 359.0,1345.9 359.1,1337.5 359.3,1331.4 359.4,1332.5 359.6,1335.1 359.7,1263.3 359.8,1344.0 360.0,1337.0 360.1,1338.7 360.2,1350.3 360.4,1358.2 360.5,1332.9 360.6,1340.3 360.8,1351.5 360.9,1357.6 361.0,1345.7 361.2,1325.0 361.3,1325.4 361.4,1187.3 361.6,1315.5 361.7,1464.5 361.8,1359.1 362.0,1227.4 362.1,1334.4 362.2,1343.2 362.4,1323.2 362.5,1336.6 362.6,1331.0 362.8,1325.7 362.9,1338.2 363.0,1345.2 363.2,1336.1 363.3,1339.8 363.4,1319.3 363.6,1345.7 363.7,1335.2 363.8,1342.5 364.0,1329.1 364.1,1343.6 364.2,1323.7 364.4,1330.0 364.5,1336.7 364.6,1343.8 364.8,1353.9 364.9,1316.4 365.0,1337.9 365.2,1375.9 365.3,1328.6 365.4,1334.8 365.6,1442.1 365.7,1317.2 365.8,1337.4 366.0,1321.0 366.1,1338.9 366.2,1338.3 366.4,1324.7 366.5,1432.6 366.7,1295.3 366.8,1331.0 366.9,1255.3 367.1,1234.9 367.2,1423.3 367.3,1350.5 367.5,1333.4 367.6,1354.0 367.7,1335.0 367.9,1351.8 368.0,1326.0 368.1,1352.4 368.3,1321.4 368.4,1326.2 368.5,1350.9 368.7,1337.7 368.8,1342.3 368.9,1345.8 369.1,1347.9 369.2,1336.2 369.3,1333.7 369.5,1332.7 369.6,1341.3 369.7,1343.5 369.9,1311.5 370.0,1330.9 370.1,1374.6 370.3,1329.0 370.4,1338.1 370.5,1338.4 370.7,1345.4 370.8,1343.3 370.9,1326.7 371.1,1350.0 371.2,1348.5 371.3,1347.0 371.5,1347.9 371.6,1360.1 371.7,1339.2 371.9,1337.1 372.0,1345.7 372.1,1327.5 372.3,1339.0 372.4,1334.8 372.5,1326.4 372.7,1339.7 372.8,1334.3 372.9,1338.2 373.1,1413.5 373.2,1351.2 373.3,1348.0 373.5,1331.5 373.6,1348.1 373.8,1332.4 373.9,1362.2 374.0,1333.2 374.2,1347.0 374.3,1321.2 374.4,1344.4 374.6,1335.4 374.7,1330.1 374.8,1390.1 375.0,1336.6 375.1,1332.8 375.2,1357.1 375.4,1349.1 375.5,1341.4 375.6,1348.8 375.8,1336.3 375.9,1351.5 376.0,1339.9 376.2,1332.5 376.3,1340.5 376.4,1340.1 376.6,1341.3 376.7,1326.7 376.8,1341.3 377.0,1338.6 377.1,1330.7 377.2,1336.1 377.4,1330.5 377.5,1343.2 377.6,1351.4 377.8,1336.4 377.9,1333.2 378.0,1331.1 378.2,1342.9 378.3,1337.7 378.4,1349.0 378.6,1330.3 378.7,1337.5 378.8,1323.8 379.0,1347.3 379.1,1324.6 379.2,1343.7 379.4,1342.4 379.5,1346.8 379.6,1320.7 379.8,1345.7 379.9,1332.9 380.0,1346.9 380.2,1338.7 380.3,1255.4 380.4,1340.0 380.6,1332.8 380.7,1345.2 380.9,1351.4 381.0,1319.6 381.1,1318.6 381.3,1238.6 381.4,1329.4 381.5,1331.6 381.7,1328.3 381.8,1344.1 381.9,1346.8 382.1,1354.3 382.2,1300.5 382.3,1343.1 382.5,1326.5 382.6,1340.2 382.7,1349.0 382.9,1339.7 383.0,1345.7 383.1,1339.8 383.3,1333.7 383.4,1337.9 383.5,1348.0 383.7,1329.3 383.8,1325.7 383.9,1343.9 384.1,1341.8 384.2,1359.4 384.3,1335.2 384.5,1345.8 384.6,1342.9 384.7,1270.8 384.9,1211.1 385.0,1337.6 385.1,1316.7 385.3,1288.9 385.4,1319.7 385.5,1368.8 385.7,1317.8 385.8,1349.7 385.9,1346.9 386.1,1463.9 386.2,1364.3 386.3,1277.2 386.5,1326.8 386.6,1331.1 386.7,1328.7 386.9,1321.6 387.0,1231.0 387.1,1334.0 387.3,1350.6 387.4,1323.9 387.5,1345.5 387.7,1322.1 387.8,1346.2 388.0,1343.3 388.1,1474.3 388.2,1448.5 388.4,1345.2 388.5,1346.3 388.6,1330.5 388.8,1330.2 388.9,1348.2 389.0,1347.1 389.2,1223.3 389.3,1265.1 389.4,1342.4 389.6,1345.3 389.7,1341.9 389.8,1345.1 390.0,1338.4 390.1,1333.1 390.2,1478.4 390.4,1321.5 390.5,1322.9 390.6,1332.2 390.8,1367.9 390.9,1329.4 391.0,1351.8 391.2,1354.3 391.3,1328.8 391.4,1312.5 391.6,1338.5 391.7,1353.7 391.8,1326.9 392.0,1329.9 392.1,1334.9 392.2,1353.7 392.4,1332.6 392.5,1339.5 392.6,1330.0 392.8,1321.6 392.9,1341.0 393.0,1344.5 393.2,1333.4 393.3,1369.2 393.4,1436.3 393.6,1308.2 393.7,1326.4 393.8,1355.3 394.0,1326.5 394.1,1327.9 394.2,1334.0 394.4,1333.3 394.5,1334.0 394.6,1331.5 394.8,1335.6 394.9,1337.8 395.1,1335.8 395.2,1329.1 395.3,1312.2 395.5,1270.0 395.6,1459.1 395.7,1329.5 395.9,1353.9 396.0,1337.7 396.1,1343.0 396.3,1447.4 396.4,1199.1 396.5,1253.4 396.7,1322.4 396.8,1354.0 396.9,1251.1 397.1,1409.6 397.2,1333.5 397.3,1268.4 397.5,1346.3 397.6,1345.8 397.7,1212.4 397.9,1217.1 398.0,1268.2 398.1,1323.1 398.3,1346.8 398.4,1323.4 398.5,1195.5 398.7,1337.9 398.8,1347.1 398.9,1327.7 399.1,1316.0 399.2,1356.4 399.3,1300.6 399.5,1469.5 399.6,1365.8 399.7,1340.0 399.9,1392.5 400.0,1351.8 400.1,1424.8 400.3,1212.4 400.4,1333.7 400.5,1328.0 400.7,1343.2 400.8,1450.8 400.9,1329.5 401.1,1343.7 401.2,1310.3 401.3,1338.1 401.5,1231.6 401.6,1331.0 401.7,1229.5 401.9,1435.1 402.0,1353.9 402.2,1331.5 402.3,1330.6 402.4,1416.6 402.6,1353.4 402.7,1358.1 402.8,1361.7 403.0,1346.9 403.1,1344.5 403.2,1335.2 403.4,1339.2 403.5,1340.9 403.6,1327.6 403.8,1352.5 403.9,1344.2 404.0,1339.3 404.2,1342.7 404.3,1340.6 404.4,1342.3 404.6,1351.5 404.7,1350.8 404.8,1343.0 405.0,1331.6 405.1,1338.9 405.2,1273.6 405.4,1335.8 405.5,1330.5 405.6,1317.0 405.8,1338.9 405.9,1325.1 406.0,1350.1 406.2,1342.0 406.3,1341.1 406.4,1345.1 406.6,1318.0 406.7,1323.6 406.8,1247.0 407.0,1415.8 407.1,1338.4 407.2,1356.8 407.4,1367.1 407.5,1309.3 407.6,1351.0 407.8,1382.9 407.9,1470.8 408.0,1214.4 408.2,1346.3 408.3,1366.6 408.4,1329.1 408.6,1335.8 408.7,1242.3 408.8,1320.9 409.0,1350.7 409.1,1323.3 409.3,1335.2 409.4,1336.1 409.5,1330.0 409.7,1341.9 409.8,1327.8 409.9,1338.7 410.1,1322.8 410.2,1355.4 410.3,1344.9 410.5,1334.6 410.6,1454.3 410.7,1446.2 410.9,1350.0 411.0,1251.9 411.1,1334.6 411.3,1208.4 411.4,1243.5 411.5,1333.3 411.7,1195.5 411.8,1342.4 411.9,1343.7 412.1,1342.2 412.2,1324.4 412.3,1332.8 412.5,1349.9 412.6,1192.9 412.7,1218.9 412.9,1295.8 413.0,1261.6 413.1,1342.2 413.3,1206.5 413.4,1344.9 413.5,1285.1 413.7,1294.7 413.8,1353.3 413.9,1360.6 414.1,1331.9 414.2,1324.5 414.3,1339.3 414.5,1334.5 414.6,1479.9 414.7,1284.9 414.9,1326.9 415.0,1349.7 415.1,1329.2 415.3,1338.8 415.4,1335.2 415.5,1345.2 415.7,1338.3 415.8,1334.0 415.9,1342.8 416.1,1342.2 416.2,1319.9 416.4,1354.6 416.5,1339.3 416.6,1337.4 416.8,1297.0 416.9,1351.3 417.0,1333.7 417.2,1367.4 417.3,1327.2 417.4,1397.9 417.6,1341.8 417.7,1341.9 417.8,1342.3 418.0,1333.8 418.1,1301.1 418.2,1351.4 418.4,1399.9 418.5,1399.2 418.6,1175.6 418.8,1294.8 418.9,1324.2 419.0,1329.9 419.2,1184.1 419.3,1325.3 419.4,1341.1 419.6,1330.2 419.7,1333.1 419.8,1375.7 420.0,1341.5 420.1,1338.5 420.2,1449.1 420.4,1316.8 420.5,1244.5 420.6,1273.9 420.8,1400.5 420.9,1344.1 421.0,1397.9 421.2,1462.1 421.3,1339.9 421.4,1340.3 421.6,1344.3 421.7,1340.6 421.8,1345.9 422.0,1349.2 422.1,1334.4 422.2,1347.5 422.4,1321.4 422.5,1331.3 422.6,1316.0 422.8,1341.6 422.9,1338.0 423.0,1332.6 423.2,1340.4 423.3,1340.8 423.5,1344.3 423.6,1353.3 423.7,1402.8 423.9,1329.5 424.0,1320.3 424.1,1328.8 424.3,1322.1 424.4,1360.7 424.5,1339.1 424.7,1336.9 424.8,1341.7 424.9,1333.3 425.1,1349.3 425.2,1331.5 425.3,1345.9 425.5,1331.8 425.6,1347.9 425.7,1346.7 425.9,1335.6 426.0,1324.9 426.1,1327.6 426.3,1333.6 426.4,1347.1 426.5,1328.1 426.7,1331.4 426.8,1340.7 426.9,1327.2 427.1,1330.3 427.2,1341.3 427.3,1327.6 427.5,1336.1 427.6,1343.2 427.7,1335.8 427.9,1350.3 428.0,1340.7 428.1,1338.6 428.3,1331.2 428.4,1352.2 428.5,1330.7 428.7,1330.9 428.8,1331.2 428.9,1347.3 429.1,1340.5 429.2,1350.0 429.3,1343.5 429.5,1334.6 429.6,1350.0 429.7,1332.6 429.9,1320.5 430.0,1336.1 430.2,1341.0 430.3,1329.6 430.4,1327.0 430.6,1350.9 430.7,1333.8 430.8,1327.8 431.0,1334.2 431.1,1346.3 431.2,1341.5 431.4,1325.2 431.5,1343.5 431.6,1365.4 431.8,1349.3 431.9,1344.3 432.0,1332.6 432.2,1192.1 432.3,1342.8 432.4,1345.8 432.6,1326.1 432.7,1342.8 432.8,1330.1 433.0,1340.5 433.1,1331.6 433.2,1338.7 433.4,1349.3 433.5,1433.2 433.6,1433.6 433.8,1341.9 433.9,1344.2 434.0,1334.1 434.2,1339.1 434.3,1335.8 434.4,1241.2 434.6,1330.6 434.7,1334.5 434.8,1318.1 435.0,1303.6 435.1,1333.9 435.2,1353.0 435.4,1317.0 435.5,1337.7 435.6,1343.9 435.8,1337.3 435.9,1324.2 436.0,1332.8 436.2,1341.1 436.3,1340.6 436.4,1333.7 436.6,1346.2 436.7,1327.7 436.8,1339.9 437.0,1330.7 437.1,1351.0 437.3,1345.0 437.4,1341.8 437.5,1304.8 437.7,1337.5 437.8,1335.3 437.9,1378.3 438.1,1342.4 438.2,1322.3 438.3,1339.7 438.5,1315.9 438.6,1255.8 438.7,1326.5 438.9,1329.2 439.0,1333.9 439.1,1319.7 439.3,1323.3 439.4,1325.6 439.5,1325.0 439.7,1320.7 439.8,1359.4 439.9,1351.3 440.1,1356.6 440.2,1333.7 440.3,1327.9 440.5,1268.6 440.6,1280.4 440.7,1330.7 440.9,1336.5 441.0,1248.3 441.1,1337.8 441.3,1343.7 441.4,1416.9 441.5,1424.2 441.7,1349.4 441.8,1341.2 441.9,1355.3 442.1,1214.6 442.2,1401.0 442.3,1321.2 442.5,1319.0 442.6,1402.6 442.7,1449.5 442.9,1352.9 443.0,1393.1 443.1,1371.0 443.3,1468.1 443.4,1265.0 443.5,1330.9 443.7,1327.6 443.8,1324.5 443.9,1230.5 444.1,1393.2 444.2,1334.4 444.4,1198.4 444.5,1325.0 444.6,1316.1 444.8,1335.9 444.9,1219.2 445.0,1444.1 445.2,1360.7 445.3,1335.0 445.4,1307.6 445.6,1323.8 445.7,1202.7 445.8,1331.6 446.0,1249.7 446.1,1349.4 446.2,1325.4 446.4,1185.0 446.5,1415.6 446.6,1381.5 446.8,1340.5 446.9,1347.5 447.0,1411.1 447.2,1349.8 447.3,1314.6 447.4,1343.3 447.6,1335.0 447.7,1267.6 447.8,1341.7 448.0,1322.1 448.1,1343.2 448.2,1349.1 448.4,1325.1 448.5,1343.2 448.6,1328.4 448.8,1341.5 448.9,1330.3 449.0,1344.0 449.2,1340.3 449.3,1336.2 449.4,1334.1 449.6,1328.8 449.7,1332.9 449.8,1330.4 450.0,1330.5 450.1,1345.3 450.2,1339.0 450.4,1335.3 450.5,1332.5 450.6,1336.6 450.8,1340.7 450.9,1333.8 451.0,1328.8 451.2,1337.6 451.3,1343.0 451.5,1334.0 451.6,1342.9 451.7,1341.8 451.9,1352.7 452.0,1324.2 452.1,1333.5 452.3,1327.1 452.4,1353.9 452.5,1339.0 452.7,1342.8 452.8,1346.8 452.9,1328.4 453.1,1332.4 453.2,1324.9 453.3,1336.4 453.5,1345.3 453.6,1323.8 453.7,1343.0 453.9,1339.3 454.0,1336.2 454.1,1348.0 454.3,1318.2 454.4,1345.1 454.5,1348.3 454.7,1326.2 454.8,1338.6 454.9,1335.5 455.1,1334.2 455.2,1346.3 455.3,1324.7 455.5,1344.4 455.6,1348.3 455.7,1324.4 455.9,1348.5 456.0,1322.2 456.1,1339.8 456.3,1333.7 456.4,1330.7 456.5,1331.9 456.7,1326.0 456.8,1342.6 456.9,1342.5 457.1,1346.6 457.2,1342.5 457.3,1323.4 457.5,1324.9 457.6,1345.0 457.7,1335.0 457.9,1334.8 458.0,1317.6 458.1,1328.0 458.3,1356.4 458.4,1340.1 458.6,1315.0 458.7,1322.3 458.8,1333.6 459.0,1361.2 459.1,1337.6 459.2,1346.8 459.4,1333.0 459.5,1340.1 459.6,1330.7 459.8,1322.6 459.9,1346.2 460.0,1334.5 460.2,1352.4 460.3,1330.9 460.4,1335.5 460.6,1334.9 460.7,1333.3 460.8,1334.9 461.0,1348.4 461.1,1339.0 461.2,1340.5 461.4,1345.3 461.5,1337.5 461.6,1325.5 461.8,1345.7 461.9,1344.3 462.0,1347.7 462.2,1329.6 462.3,1333.8 462.4,1341.4 462.6,1327.7 462.7,1339.7 462.8,1339.4 463.0,1344.7 463.1,1347.2 463.2,1339.6 463.4,1274.7 463.5,1326.3 463.6,1320.3 463.8,1333.0 463.9,1345.7 464.0,1312.3 464.2,1325.3 464.3,1340.5 464.4,1341.4 464.6,1337.4 464.7,1205.5 464.8,1360.1 465.0,1454.9 465.1,1443.2 465.2,1432.9 465.4,1283.3 465.5,1326.2 465.7,1331.6 465.8,1279.7 465.9,1313.6 466.1,1361.0 466.2,1329.8 466.3,1317.5 466.5,1331.3 466.6,1416.7 466.7,1256.7 466.9,1403.0 467.0,1341.4 467.1,1329.8 467.3,1334.6 467.4,1339.6 467.5,1352.0 467.7,1337.7 467.8,1399.2 467.9,1340.4 468.1,1347.7 468.2,1338.8 468.3,1338.5 468.5,1328.9 468.6,1338.5 468.7,1350.2 468.9,1341.6 469.0,1325.6 469.1,1323.2 469.3,1332.1 469.4,1326.6 469.5,1339.7 469.7,1346.3 469.8,1331.2 469.9,1336.6 470.1,1346.3 470.2,1325.2 470.3,1328.6 470.5,1333.5 470.6,1346.9 470.7,1329.5 470.9,1336.0 471.0,1336.7 471.1,1341.6 471.3,1328.7 471.4,1337.3 471.5,1333.5 471.7,1349.9 471.8,1330.7 471.9,1333.7 472.1,1342.8 472.2,1326.9 472.3,1341.3 472.5,1334.5 472.6,1343.0 472.8,1340.0 472.9,1326.3 473.0,1326.6 473.2,1329.7 473.3,1336.6 473.4,1321.9 473.6,1341.3 473.7,1326.1 473.8,1323.9 474.0,1342.2 474.1,1422.1 474.2,1378.9 474.4,1354.4 474.5,1344.6 474.6,1348.7 474.8,1294.6 474.9,1325.1 475.0,1342.9 475.2,1365.9 475.3,1326.0 475.4,1279.2 475.6,1336.0 475.7,1347.8 475.8,1218.1 476.0,1332.9 476.1,1222.1 476.2,1361.3 476.4,1367.8 476.5,1310.2 476.6,1313.0 476.8,1347.8 476.9,1343.4 477.0,1285.1 477.2,1346.3 477.3,1175.8 477.4,1340.7 477.6,1321.5 477.7,1198.1 477.8,1346.8 478.0,1342.2 478.1,1337.1 478.2,1340.0 478.4,1342.9 478.5,1327.6 478.6,1339.1 478.8,1452.1 478.9,1339.7 479.0,1281.4 479.2,1338.9 479.3,1321.8 479.4,1463.2 479.6,1322.0 479.7,1466.2 479.9,1329.4 480.0,1332.5 480.1,1336.7 480.3,1340.0 480.4,1317.2 480.5,1338.4 480.7,1333.2 480.8,1240.2 480.9,1346.6 481.1,1335.2 481.2,1333.5 481.3,1317.8 481.5,1351.4 481.6,1313.1 481.7,1350.0 481.9,1337.9 482.0,1325.1 482.1,1330.4 482.3,1342.5 482.4,1257.9 482.5,1324.8 482.7,1351.8 482.8,1348.8 482.9,1353.1 483.1,1308.8 483.2,1324.0 483.3,1339.2 483.5,1334.1 483.6,1345.5 483.7,1343.5 483.9,1338.0 484.0,1335.8 484.1,1277.8 484.3,1338.1 484.4,1334.6 484.5,1290.6 484.7,1332.0 484.8,1325.7 484.9,1346.6 485.1,1347.7 485.2,1348.0 485.3,1329.2 485.5,1341.1 485.6,1333.4 485.7,1341.8 485.9,1321.0 486.0,1334.3 486.1,1348.1 486.3,1340.9 486.4,1327.9 486.5,1343.7 486.7,1352.1 486.8,1323.8 487.0,1324.2 487.1,1333.3 487.2,1338.9 487.4,1340.7 487.5,1337.4 487.6,1342.5 487.8,1337.9 487.9,1336.4 488.0,1328.4 488.2,1337.2 488.3,1357.4 488.4,1255.7 488.6,1325.1 488.7,1324.1 488.8,1337.8 489.0,1326.6 489.1,1342.8 489.2,1336.3 489.4,1335.7 489.5,1327.9 489.6,1335.4 489.8,1334.6 489.9,1346.3 490.0,1342.6 490.2,1346.7 490.3,1342.0 490.4,1400.9 490.6,1322.6 490.7,1352.0 490.8,1339.4 491.0,1348.9 491.1,1328.6 491.2,1334.0 491.4,1340.9 491.5,1354.4 491.6,1335.0 491.8,1338.5 491.9,1337.6 492.0,1333.9 492.2,1333.4 492.3,1354.9 492.4,1347.2 492.6,1338.0 492.7,1335.6 492.8,1437.4 493.0,1328.6 493.1,1346.7 493.2,1343.4 493.4,1322.6 493.5,1329.0 493.6,1442.9 493.8,1326.7 493.9,1317.9 494.1,1340.6 494.2,1335.0 494.3,1342.1 494.5,1349.1 494.6,1274.0 494.7,1327.1 494.9,1338.6 495.0,1318.1 495.1,1337.1 495.3,1318.3 495.4,1342.4 495.5,1338.2 495.7,1331.2 495.8,1347.2 495.9,1340.5 496.1,1357.2 496.2,1338.9 496.3,1330.3 496.5,1245.0 496.6,1339.9 496.7,1358.9 496.9,1326.8 497.0,1175.8 497.1,1362.9 497.3,1332.5 497.4,1325.6 497.5,1339.9 497.7,1197.7 497.8,1356.4 497.9,1425.2 498.1,1296.8 498.2,1303.6 498.3,1334.3 498.5,1321.0 498.6,1304.2 498.7,1410.0 498.9,1334.0 499.0,1330.5 499.1,1336.1 499.3,1259.3 499.4,1205.8 499.5,1272.1 499.7,1341.5 499.8,1214.6 499.9,1401.6 500.1,1339.6 500.2,1349.0 500.3,1331.6 500.5,1284.7 500.6,1329.5 500.7,1331.3 500.9,1385.3 501.0,1255.4 501.2,1351.9 501.3,1177.2 501.4,1333.7 501.6,1306.5 501.7,1303.6 501.8,1339.5 502.0,1457.3 502.1,1323.8 502.2,1201.7 502.4,1355.7 502.5,1353.6 502.6,1348.5 502.8,1333.8 502.9,1327.9 503.0,1319.9 503.2,1262.5 503.3,1400.5 503.4,1328.1 503.6,1347.2 503.7,1331.4 503.8,1283.5 504.0,1320.4 504.1,1176.8 504.2,1203.2 504.4,1339.7 504.5,1342.5 504.6,1338.2 504.8,1340.1 504.9,1258.5 505.0,1330.0 505.2,1323.2 505.3,1343.0 505.4,1349.5 505.6,1331.4 505.7,1337.8 505.8,1342.8 506.0,1341.2 506.1,1381.0 506.2,1314.4 506.4,1335.0 506.5,1326.4 506.6,1288.8 506.8,1347.1 506.9,1174.9 507.0,1298.4 507.2,1365.4 507.3,1324.9 507.4,1343.2 507.6,1348.7 507.7,1421.5 507.8,1330.9 508.0,1344.2 508.1,1423.7 508.3,1322.9 508.4,1178.4 508.5,1379.9 508.7,1318.4 508.8,1200.8 508.9,1204.1 509.1,1256.6 509.2,1352.1 509.3,1324.4 509.5,1312.2 509.6,1437.7 509.7,1328.2 509.9,1334.8 510.0,1340.4 510.1,1283.5 510.3,1328.6 510.4,1288.1 510.5,1291.1 510.7,1341.1 510.8,1462.0 510.9,1322.0 511.1,1383.7 511.2,1448.6 511.3,1446.7 511.5,1301.5 511.6,1420.6 511.7,1183.9 511.9,1346.6 512.0,1337.4 512.1,1319.5 512.3,1343.5 512.4,1338.0 512.5,1347.8 512.7,1349.9 512.8,1349.3 512.9,1338.5 513.1,1327.9 513.2,1311.6 513.3,1348.3 513.5,1348.2 513.6,1322.3 513.7,1341.3 513.9,1331.3 514.0,1317.6 514.1,1331.6 514.3,1376.7 514.4,1349.2 514.5,1336.5 514.7,1326.8 514.8,1328.1 514.9,1339.0 515.1,1360.0 515.2,1344.8 515.4,1390.4 515.5,1338.2 515.6,1329.2 515.8,1331.4 515.9,1340.3 516.0,1332.9 516.2,1327.0 516.3,1438.8 516.4,1351.8 516.6,1330.4 516.7,1320.5 516.8,1333.9 517.0,1329.5 517.1,1329.8 517.2,1336.6 517.4,1336.4 517.5,1350.5 517.6,1331.8 517.8,1335.7 517.9,1340.7 518.0,1339.1 518.2,1343.0 518.3,1327.8 518.4,1346.5 518.6,1345.8 518.7,1342.8 518.8,1337.0 519.0,1348.1 519.1,1343.7 519.2,1338.4 519.4,1338.0 519.5,1323.5 519.6,1343.5 519.8,1341.9 519.9,1333.5 520.0,1333.4 520.2,1331.7 520.3,1339.2 520.4,1329.8 520.6,1345.8 520.7,1341.5 520.8,1337.4 521.0,1343.0 521.1,1333.5 521.2,1331.7 521.4,1331.6 521.5,1347.0 521.6,1367.5 521.8,1339.1 521.9,1348.3 522.0,1349.9 522.2,1330.6 522.3,1345.3 522.5,1350.3 522.6,1352.3 522.7,1320.3 522.9,1335.6 523.0,1332.9 523.1,1346.0 523.3,1350.5 523.4,1324.5 523.5,1346.1 523.7,1326.3 523.8,1337.0 523.9,1323.3 524.1,1330.6 524.2,1341.6 524.3,1326.9 524.5,1427.2 524.6,1259.1 524.7,1327.8 524.9,1327.8 525.0,1335.3 525.1,1330.7 525.3,1337.2 525.4,1334.7 525.5,1174.4 525.7,1330.8 525.8,1331.2 525.9,1343.2 526.1,1322.5 526.2,1329.0 526.3,1318.9 526.5,1332.5 526.6,1350.2 526.7,1321.0 526.9,1317.8 527.0,1331.9 527.1,1334.9 527.3,1341.0 527.4,1327.6 527.5,1352.8 527.7,1337.0 527.8,1323.7 527.9,1344.0 528.1,1336.7 528.2,1342.6 528.3,1342.9 528.5,1332.4 528.6,1270.3 528.7,1221.3 528.9,1344.9 529.0,1334.6 529.1,1330.9 529.3,1328.1 529.4,1456.0 529.6,1369.9 529.7,1207.1 529.8,1378.6 530.0,1332.6 530.1,1344.1 530.2,1303.1 530.4,1339.7 530.5,1249.1 530.6,1330.6 530.8,1452.3 530.9,1294.5 531.0,1336.9 531.2,1334.0 531.3,1326.6 531.4,1175.5 531.6,1317.0 531.7,1316.7 531.8,1283.9 532.0,1353.7 532.1,1186.7 532.2,1310.3 532.4,1186.7 532.5,1334.3 532.6,1333.5 532.8,1331.9 532.9,1296.3 533.0,1401.7 533.2,1276.1 533.3,1268.2 533.4,1328.9 533.6,1403.6 533.7,1358.2 533.8,1347.5 534.0,1321.8 534.1,1471.2 534.2,1242.4 534.4,1333.0 534.5,1329.5 534.6,1210.6 534.8,1469.7 534.9,1314.6 535.0,1245.0 535.2,1287.3 535.3,1308.3 535.4,1178.0 535.6,1329.3 535.7,1343.9 535.8,1380.5 536.0,1329.2 536.1,1241.5 536.2,1476.1 536.4,1335.9 536.5,1434.9 536.7,1219.5 536.8,1342.3 536.9,1186.3 537.1,1465.4 537.2,1339.4 537.3,1251.7 537.5,1316.6 537.6,1305.6 537.7,1330.2 537.9,1342.8 538.0,1190.5 538.1,1360.1 538.3,1187.1 538.4,1364.8 538.5,1297.4 538.7,1331.4 538.8,1430.8 538.9,1240.2 539.1,1347.7 539.2,1278.2 539.3,1322.6 539.5,1417.2 539.6,1341.3 539.7,1176.8 539.9,1329.8 540.0,1339.0 540.1,1200.5 540.3,1405.0 540.4,1191.2 540.5,1327.9 540.7,1383.7 540.8,1417.5 540.9,1324.8 541.1,1322.8 541.2,1231.1 541.3,1258.1 541.5,1214.8 541.6,1271.6 541.7,1336.2 541.9,1357.7 542.0,1283.0 542.1,1324.8 542.3,1353.3 542.4,1348.7 542.5,1272.6 542.7,1343.9 542.8,1338.5 542.9,1255.8 543.1,1348.6 543.2,1322.1 543.3,1277.7 543.5,1418.2 543.6,1340.2 543.8,1329.5 543.9,1329.0 544.0,1332.6 544.2,1335.6 544.3,1184.0 544.4,1214.6 544.6,1415.6 544.7,1370.5 544.8,1359.2 545.0,1470.7 545.1,1363.0 545.2,1343.3 545.4,1345.1 545.5,1333.1 545.6,1465.7 545.8,1334.9 545.9,1332.0 546.0,1240.3 546.2,1386.1 546.3,1209.3 546.4,1324.1 546.6,1339.3 546.7,1341.0 546.8,1202.0 547.0,1337.1 547.1,1333.3 547.2,1339.8 547.4,1316.5 547.5,1329.6 547.6,1341.9 547.8,1340.7 547.9,1336.7 548.0,1323.3 548.2,1338.2 548.3,1354.9 548.4,1341.1 548.6,1345.3 548.7,1328.5 548.8,1354.5 549.0,1347.4 549.1,1341.8 549.2,1341.0 549.4,1336.5 549.5,1344.4 549.6,1333.7 549.8,1335.0 549.9,1282.3 550.0,1339.4 550.2,1329.7 550.3,1377.2 550.4,1342.0 550.6,1333.4 550.7,1325.9 550.9,1328.7 551.0,1330.5 551.1,1332.4 551.3,1323.1 551.4,1343.3 551.5,1347.4 551.7,1338.7 551.8,1417.9 551.9,1336.5 552.1,1347.2 552.2,1340.2 552.3,1328.6 552.5,1357.3 552.6,1350.4 552.7,1346.7 552.9,1336.9 553.0,1340.0 553.1,1332.2 553.3,1331.4 553.4,1329.0 553.5,1337.0 553.7,1331.0 553.8,1331.5 553.9,1343.1 554.1,1339.8 554.2,1360.4 554.3,1341.0 554.5,1336.2 554.6,1336.9 554.7,1380.0 554.9,1336.3 555.0,1340.4 555.1,1356.8 555.3,1336.4 555.4,1346.2 555.5,1336.4 555.7,1359.8 555.8,1331.8 555.9,1330.6 556.1,1313.0 556.2,1334.6 556.3,1325.3 556.5,1346.4 556.6,1305.1" fill="none" stroke="#0a64b0" stroke-width="0.8" stroke-linejoin="miter" stroke-opacity="0.92"/>
<line x1="355.8" y1="1338.7" x2="556.6" y2="1335.7" stroke="#d03b3b" stroke-width="1.0"/>
<rect x="355.8" y="1174.3" width="246.90" height="307.20" fill="none" stroke="#a3a3a3" stroke-width="1.1"/>
<line x1="355.8" y1="1474.58" x2="359.3" y2="1474.58" stroke="#a3a3a3" stroke-width="1"/>
<line x1="602.7" y1="1474.58" x2="599.2" y2="1474.58" stroke="#a3a3a3" stroke-width="1"/>
<line x1="355.8" y1="1425.68" x2="359.3" y2="1425.68" stroke="#a3a3a3" stroke-width="1"/>
<line x1="602.7" y1="1425.68" x2="599.2" y2="1425.68" stroke="#a3a3a3" stroke-width="1"/>
<line x1="355.8" y1="1376.79" x2="359.3" y2="1376.79" stroke="#a3a3a3" stroke-width="1"/>
<line x1="602.7" y1="1376.79" x2="599.2" y2="1376.79" stroke="#a3a3a3" stroke-width="1"/>
<line x1="355.8" y1="1327.90" x2="359.3" y2="1327.90" stroke="#a3a3a3" stroke-width="1"/>
<line x1="602.7" y1="1327.90" x2="599.2" y2="1327.90" stroke="#a3a3a3" stroke-width="1"/>
<line x1="355.8" y1="1279.01" x2="359.3" y2="1279.01" stroke="#a3a3a3" stroke-width="1"/>
<line x1="602.7" y1="1279.01" x2="599.2" y2="1279.01" stroke="#a3a3a3" stroke-width="1"/>
<line x1="355.8" y1="1230.12" x2="359.3" y2="1230.12" stroke="#a3a3a3" stroke-width="1"/>
<line x1="602.7" y1="1230.12" x2="599.2" y2="1230.12" stroke="#a3a3a3" stroke-width="1"/>
<line x1="355.8" y1="1181.22" x2="359.3" y2="1181.22" stroke="#a3a3a3" stroke-width="1"/>
<line x1="602.7" y1="1181.22" x2="599.2" y2="1181.22" stroke="#a3a3a3" stroke-width="1"/>
<line x1="438.10" y1="1481.5" x2="438.10" y2="1478.0" stroke="#a3a3a3" stroke-width="1"/>
<line x1="438.10" y1="1174.3" x2="438.10" y2="1177.8" stroke="#a3a3a3" stroke-width="1"/>
<line x1="520.40" y1="1481.5" x2="520.40" y2="1478.0" stroke="#a3a3a3" stroke-width="1"/>
<line x1="520.40" y1="1174.3" x2="520.40" y2="1177.8" stroke="#a3a3a3" stroke-width="1"/>
<text x="432.26" y="1500.30" font-size="22.50" textLength="11.25" lengthAdjust="spacingAndGlyphs" fill="#303030">5</text>
<text x="508.59" y="1500.30" font-size="22.50" textLength="22.50" lengthAdjust="spacingAndGlyphs" fill="#303030">10</text>
<text x="590.90" y="1500.30" font-size="22.50" textLength="22.50" lengthAdjust="spacingAndGlyphs" fill="#303030">15</text>
<text x="603.89" y="1510.00" font-size="13.50" textLength="8.60" lengthAdjust="spacingAndGlyphs" fill="#262626">×</text>
<text x="613.16" y="1512.50" font-size="14.00" textLength="14.07" lengthAdjust="spacingAndGlyphs" fill="#262626">10</text>
<text x="626.61" y="1508.30" font-size="11.50" textLength="6.17" lengthAdjust="spacingAndGlyphs" fill="#262626">3</text>
<rect x="634.6" y="729.6" width="242.70" height="306.90" fill="#fff"/>
<polyline points="634.6,884.6 634.7,978.9 634.9,1013.7 635.0,863.0 635.1,1003.4 635.2,897.2 635.4,857.5 635.5,987.3 635.6,819.7 635.8,795.4 635.9,848.4 636.0,879.2 636.1,878.6 636.3,860.7 636.4,865.9 636.5,827.0 636.7,780.1 636.8,882.5 636.9,855.2 637.1,853.4 637.2,863.2 637.3,842.2 637.4,848.8 637.6,984.8 637.7,848.7 637.8,899.0 638.0,864.0 638.1,1030.3 638.2,878.3 638.3,870.3 638.5,840.9 638.6,943.0 638.7,853.0 638.9,846.4 639.0,870.5 639.1,799.4 639.2,853.8 639.4,867.0 639.5,875.2 639.6,829.6 639.8,873.1 639.9,821.1 640.0,872.2 640.2,880.9 640.3,736.3 640.4,836.8 640.5,843.8 640.7,778.3 640.8,854.5 640.9,884.3 641.1,870.7 641.2,854.3 641.3,876.6 641.4,861.5 641.6,840.7 641.7,791.9 641.8,855.4 642.0,861.8 642.1,872.7 642.2,884.5 642.3,914.2 642.5,847.6 642.6,871.1 642.7,805.3 642.9,887.1 643.0,980.4 643.1,832.9 643.2,872.2 643.4,854.7 643.5,860.0 643.6,807.6 643.8,827.8 643.9,1035.2 644.0,869.3 644.2,855.3 644.3,909.2 644.4,851.6 644.5,932.8 644.7,876.3 644.8,829.1 644.9,1004.3 645.1,880.7 645.2,781.3 645.3,836.2 645.4,924.4 645.6,860.0 645.7,865.7 645.8,857.2 646.0,856.2 646.1,869.2 646.2,859.6 646.3,838.6 646.5,898.5 646.6,776.3 646.7,886.4 646.9,861.3 647.0,869.6 647.1,971.7 647.3,783.9 647.4,968.0 647.5,848.2 647.6,853.5 647.8,843.5 647.9,875.0 648.0,876.3 648.2,856.8 648.3,858.8 648.4,965.8 648.5,968.1 648.7,907.2 648.8,872.6 648.9,850.0 649.1,866.7 649.2,879.5 649.3,831.6 649.4,885.9 649.6,884.7 649.7,850.8 649.8,877.4 650.0,837.4 650.1,856.5 650.2,860.7 650.3,889.9 650.5,765.9 650.6,983.2 650.7,877.8 650.9,846.2 651.0,987.3 651.1,866.0 651.3,993.1 651.4,871.8 651.5,865.1 651.6,934.4 651.8,764.8 651.9,863.9 652.0,881.6 652.2,875.5 652.3,882.0 652.4,876.1 652.5,856.4 652.7,867.6 652.8,808.2 652.9,945.0 653.1,856.6 653.2,849.5 653.3,870.4 653.4,977.3 653.6,901.0 653.7,1014.0 653.8,847.1 654.0,834.9 654.1,946.9 654.2,772.7 654.4,838.2 654.5,794.0 654.6,929.1 654.7,935.1 654.9,733.4 655.0,960.5 655.1,735.3 655.3,779.3 655.4,886.1 655.5,868.0 655.6,862.3 655.8,836.1 655.9,1013.2 656.0,891.2 656.2,877.4 656.3,876.3 656.4,866.1 656.5,780.1 656.7,732.4 656.8,867.1 656.9,1008.4 657.1,833.5 657.2,871.8 657.3,862.4 657.4,985.2 657.6,942.6 657.7,883.6 657.8,861.2 658.0,1024.2 658.1,822.5 658.2,871.7 658.4,859.3 658.5,848.3 658.6,1002.7 658.7,851.0 658.9,823.2 659.0,856.0 659.1,869.7 659.3,898.0 659.4,863.5 659.5,1024.6 659.6,806.2 659.8,847.0 659.9,993.7 660.0,854.7 660.2,843.3 660.3,759.8 660.4,854.7 660.5,878.1 660.7,899.8 660.8,741.1 660.9,787.9 661.1,857.2 661.2,858.5 661.3,860.6 661.5,869.6 661.6,790.4 661.7,869.2 661.8,861.0 662.0,845.3 662.1,868.0 662.2,746.8 662.4,856.0 662.5,881.7 662.6,842.2 662.7,866.7 662.9,842.7 663.0,924.0 663.1,1013.0 663.3,908.5 663.4,970.8 663.5,879.8 663.6,971.8 663.8,769.9 663.9,872.8 664.0,859.2 664.2,865.1 664.3,881.4 664.4,880.6 664.5,858.3 664.7,862.3 664.8,875.1 664.9,877.9 665.1,852.1 665.2,859.7 665.3,984.3 665.5,967.2 665.6,1014.0 665.7,880.3 665.8,838.5 666.0,878.9 666.1,885.6 666.2,857.9 666.4,857.4 666.5,846.8 666.6,926.2 666.7,846.8 666.9,853.5 667.0,818.0 667.1,1020.2 667.3,897.2 667.4,846.7 667.5,926.4 667.6,874.4 667.8,877.5 667.9,856.7 668.0,871.8 668.2,878.6 668.3,1030.6 668.4,870.2 668.6,777.1 668.7,871.1 668.8,857.8 668.9,835.1 669.1,869.5 669.2,853.2 669.3,855.6 669.5,811.7 669.6,958.3 669.7,928.3 669.8,921.8 670.0,740.2 670.1,970.1 670.2,975.3 670.4,867.7 670.5,871.3 670.6,791.6 670.7,824.3 670.9,1035.5 671.0,868.6 671.1,856.7 671.3,860.6 671.4,862.5 671.5,884.2 671.7,880.1 671.8,843.8 671.9,859.0 672.0,858.9 672.2,869.5 672.3,865.8 672.4,861.1 672.6,858.0 672.7,950.6 672.8,873.4 672.9,848.1 673.1,864.5 673.2,881.7 673.3,872.0 673.5,862.3 673.6,854.1 673.7,864.7 673.8,875.1 674.0,865.7 674.1,875.4 674.2,865.3 674.4,861.0 674.5,864.6 674.6,865.3 674.7,867.3 674.9,865.8 675.0,851.4 675.1,872.6 675.3,870.1 675.4,863.2 675.5,865.1 675.7,863.8 675.8,866.4 675.9,853.4 676.0,876.0 676.2,865.1 676.3,861.4 676.4,868.1 676.6,882.5 676.7,878.4 676.8,864.7 676.9,879.5 677.1,865.6 677.2,850.4 677.3,856.4 677.5,874.5 677.6,848.8 677.7,880.1 677.8,859.7 678.0,872.1 678.1,861.5 678.2,875.9 678.4,867.7 678.5,881.0 678.6,868.7 678.8,862.9 678.9,864.5 679.0,873.4 679.1,861.7 679.3,843.2 679.4,879.2 679.5,874.1 679.7,859.7 679.8,871.6 679.9,864.6 680.0,869.3 680.2,874.0 680.3,875.1 680.4,880.0 680.6,877.1 680.7,856.7 680.8,782.2 680.9,875.0 681.1,869.7 681.2,939.0 681.3,867.0 681.5,885.7 681.6,750.2 681.7,859.5 681.8,870.3 682.0,878.5 682.1,860.6 682.2,865.0 682.4,872.6 682.5,879.6 682.6,988.2 682.8,862.9 682.9,875.6 683.0,855.2 683.1,862.5 683.3,868.6 683.4,880.2 683.5,886.5 683.7,862.7 683.8,814.8 683.9,842.2 684.0,771.0 684.2,948.9 684.3,854.7 684.4,871.2 684.6,974.4 684.7,882.7 684.8,858.7 684.9,878.7 685.1,880.5 685.2,865.6 685.3,863.5 685.5,871.9 685.6,864.5 685.7,862.4 685.9,859.7 686.0,856.7 686.1,867.7 686.2,858.5 686.4,868.9 686.5,856.2 686.6,879.9 686.8,1010.9 686.9,865.2 687.0,872.2 687.1,874.7 687.3,861.5 687.4,866.9 687.5,867.2 687.7,866.2 687.8,862.6 687.9,859.0 688.0,862.8 688.2,873.8 688.3,868.3 688.4,858.9 688.6,863.1 688.7,854.5 688.8,882.2 688.9,858.8 689.1,862.3 689.2,855.5 689.3,872.2 689.5,870.2 689.6,869.6 689.7,864.7 689.9,849.8 690.0,834.8 690.1,857.5 690.2,854.9 690.4,856.2 690.5,872.6 690.6,862.5 690.8,864.6 690.9,867.5 691.0,842.5 691.1,864.0 691.3,870.3 691.4,742.9 691.5,752.8 691.7,1007.5 691.8,863.8 691.9,864.2 692.0,882.2 692.2,886.5 692.3,858.4 692.4,856.4 692.6,887.6 692.7,881.4 692.8,876.4 693.0,913.6 693.1,811.2 693.2,798.7 693.3,811.7 693.5,882.6 693.6,868.7 693.7,845.9 693.9,917.7 694.0,823.8 694.1,863.1 694.2,865.0 694.4,939.3 694.5,821.9 694.6,856.0 694.8,1001.3 694.9,856.6 695.0,868.3 695.1,782.9 695.3,890.2 695.4,875.0 695.5,854.0 695.7,871.4 695.8,864.1 695.9,960.4 696.0,863.5 696.2,897.5 696.3,940.4 696.4,858.5 696.6,871.9 696.7,975.6 696.8,861.9 697.0,748.6 697.1,876.7 697.2,877.6 697.3,827.9 697.5,877.5 697.6,876.1 697.7,876.0 697.9,863.3 698.0,859.9 698.1,866.0 698.2,801.1 698.4,873.7 698.5,859.7 698.6,925.5 698.8,879.2 698.9,961.4 699.0,872.3 699.1,857.1 699.3,863.8 699.4,866.2 699.5,855.3 699.7,886.1 699.8,787.4 699.9,837.4 700.1,882.7 700.2,789.2 700.3,961.4 700.4,869.3 700.6,879.2 700.7,902.9 700.8,857.2 701.0,869.5 701.1,878.1 701.2,1035.0 701.3,863.7 701.5,868.4 701.6,742.6 701.7,775.0 701.9,990.1 702.0,1017.1 702.1,863.6 702.2,789.5 702.4,867.5 702.5,737.8 702.6,886.2 702.8,884.0 702.9,960.8 703.0,872.0 703.1,845.9 703.3,1032.0 703.4,860.4 703.5,874.7 703.7,884.7 703.8,870.5 703.9,878.0 704.1,825.8 704.2,890.4 704.3,856.5 704.4,864.6 704.6,953.5 704.7,790.5 704.8,851.2 705.0,887.1 705.1,884.2 705.2,861.0 705.3,763.7 705.5,796.0 705.6,902.4 705.7,862.5 705.9,863.9 706.0,841.0 706.1,758.3 706.2,849.6 706.4,864.3 706.5,759.0 706.6,858.9 706.8,873.2 706.9,854.4 707.0,868.6 707.2,860.1 707.3,875.4 707.4,889.5 707.5,849.6 707.7,1010.3 707.8,858.6 707.9,873.3 708.1,893.6 708.2,879.9 708.3,797.3 708.4,869.7 708.6,879.8 708.7,860.2 708.8,873.6 709.0,866.1 709.1,884.2 709.2,743.9 709.3,888.0 709.5,875.2 709.6,856.2 709.7,867.1 709.9,853.7 710.0,877.8 710.1,876.6 710.2,871.6 710.4,871.1 710.5,874.8 710.6,871.4 710.8,851.9 710.9,867.4 711.0,877.4 711.2,792.7 711.3,849.1 711.4,863.5 711.5,879.2 711.7,809.3 711.8,793.1 711.9,860.2 712.1,867.2 712.2,861.0 712.3,879.2 712.4,884.0 712.6,750.6 712.7,873.8 712.8,860.2 713.0,877.0 713.1,858.2 713.2,870.9 713.3,878.2 713.5,861.4 713.6,887.7 713.7,862.0 713.9,875.6 714.0,771.9 714.1,877.5 714.3,965.7 714.4,844.1 714.5,893.8 714.6,859.6 714.8,979.8 714.9,786.6 715.0,851.6 715.2,979.3 715.3,886.0 715.4,1003.0 715.5,824.3 715.7,883.9 715.8,848.8 715.9,876.8 716.1,866.0 716.2,870.9 716.3,862.4 716.4,821.1 716.6,903.0 716.7,867.9 716.8,866.3 717.0,882.1 717.1,877.5 717.2,878.5 717.3,870.9 717.5,761.3 717.6,840.7 717.7,885.7 717.9,861.6 718.0,866.1 718.1,869.6 718.3,902.1 718.4,863.9 718.5,987.7 718.6,1034.1 718.8,889.3 718.9,979.6 719.0,770.5 719.2,936.8 719.3,872.1 719.4,900.7 719.5,889.5 719.7,870.4 719.8,893.4 719.9,787.7 720.1,846.6 720.2,874.7 720.3,862.5 720.4,888.9 720.6,743.8 720.7,820.1 720.8,899.2 721.0,886.9 721.1,893.6 721.2,869.2 721.4,888.8 721.5,876.3 721.6,869.6 721.7,881.7 721.9,1020.5 722.0,871.2 722.1,904.6 722.3,863.9 722.4,832.5 722.5,881.4 722.6,884.2 722.8,769.7 722.9,882.8 723.0,856.4 723.2,934.9 723.3,838.5 723.4,818.9 723.5,839.1 723.7,1016.8 723.8,883.3 723.9,882.7 724.1,901.1 724.2,970.7 724.3,859.7 724.4,1002.6 724.6,852.7 724.7,867.9 724.8,904.1 725.0,927.6 725.1,898.5 725.2,958.3 725.4,1011.3 725.5,920.9 725.6,851.6 725.7,875.8 725.9,867.4 726.0,878.2 726.1,861.3 726.3,888.5 726.4,731.2 726.5,866.2 726.6,866.0 726.8,816.5 726.9,930.9 727.0,865.9 727.2,887.8 727.3,881.9 727.4,874.9 727.5,926.4 727.7,867.5 727.8,853.7 727.9,978.0 728.1,862.5 728.2,883.4 728.3,820.9 728.5,870.6 728.6,869.8 728.7,847.3 728.8,870.6 729.0,746.7 729.1,884.7 729.2,938.6 729.4,909.1 729.5,902.3 729.6,871.5 729.7,874.8 729.9,778.1 730.0,857.7 730.1,898.0 730.3,866.4 730.4,887.8 730.5,862.5 730.6,1026.0 730.8,823.9 730.9,866.9 731.0,870.6 731.2,867.3 731.3,1035.1 731.4,871.5 731.6,947.7 731.7,849.2 731.8,974.9 731.9,879.0 732.1,910.6 732.2,883.5 732.3,879.3 732.5,852.8 732.6,860.6 732.7,925.3 732.8,789.5 733.0,968.4 733.1,989.3 733.2,869.0 733.4,896.1 733.5,969.7 733.6,996.1 733.7,868.5 733.9,891.6 734.0,878.4 734.1,964.7 734.3,746.5 734.4,779.6 734.5,949.1 734.6,959.4 734.8,737.5 734.9,890.8 735.0,868.4 735.2,860.4 735.3,731.8 735.4,869.1 735.6,854.3 735.7,858.3 735.8,845.9 735.9,877.2 736.1,859.1 736.2,771.8 736.3,819.9 736.5,908.9 736.6,831.6 736.7,864.7 736.8,864.5 737.0,880.5 737.1,861.0 737.2,890.9 737.4,867.0 737.5,865.1 737.6,758.5 737.7,867.5 737.9,772.8 738.0,1024.8 738.1,876.5 738.3,871.7 738.4,889.8 738.5,862.5 738.7,879.5 738.8,868.5 738.9,942.1 739.0,743.1 739.2,735.6 739.3,881.7 739.4,943.7 739.6,870.7 739.7,889.9 739.8,1022.5 739.9,856.2 740.1,867.2 740.2,1012.1 740.3,926.5 740.5,853.0 740.6,873.6 740.7,885.6 740.8,841.7 741.0,868.6 741.1,880.1 741.2,870.2 741.4,958.0 741.5,869.1 741.6,858.2 741.7,815.6 741.9,858.8 742.0,897.7 742.1,846.9 742.3,876.9 742.4,849.5 742.5,889.6 742.7,1014.7 742.8,887.5 742.9,756.2 743.0,884.7 743.2,743.1 743.3,799.3 743.4,881.5 743.6,889.7 743.7,1017.6 743.8,964.0 743.9,783.2 744.1,757.9 744.2,868.0 744.3,872.6 744.5,873.8 744.6,999.2 744.7,868.5 744.8,987.2 745.0,915.3 745.1,915.2 745.2,1029.0 745.4,860.1 745.5,924.4 745.6,856.1 745.8,863.9 745.9,864.1 746.0,912.5 746.1,889.3 746.3,891.0 746.4,948.9 746.5,853.3 746.7,732.5 746.8,865.2 746.9,862.8 747.0,950.3 747.2,875.9 747.3,758.2 747.4,854.9 747.6,966.4 747.7,980.0 747.8,1013.5 747.9,873.7 748.1,1007.0 748.2,905.5 748.3,897.3 748.5,930.7 748.6,891.1 748.7,950.6 748.8,905.5 749.0,807.0 749.1,874.3 749.2,876.6 749.4,867.7 749.5,862.4 749.6,883.3 749.8,877.7 749.9,880.7 750.0,884.3 750.1,884.1 750.3,879.6 750.4,868.8 750.5,873.7 750.7,876.1 750.8,870.9 750.9,860.7 751.0,873.8 751.2,865.6 751.3,879.6 751.4,888.0 751.6,872.1 751.7,863.1 751.8,874.1 751.9,886.0 752.1,871.1 752.2,864.6 752.3,879.7 752.5,871.5 752.6,865.3 752.7,869.9 752.9,877.8 753.0,881.9 753.1,877.5 753.2,885.2 753.4,884.6 753.5,869.2 753.6,871.3 753.8,902.5 753.9,874.9 754.0,881.4 754.1,873.5 754.3,859.0 754.4,877.4 754.5,876.2 754.7,862.5 754.8,877.7 754.9,848.9 755.0,879.8 755.2,875.5 755.3,871.4 755.4,863.5 755.6,889.7 755.7,875.8 755.8,882.7 755.9,879.9 756.1,872.5 756.2,881.8 756.3,1012.3 756.5,867.5 756.6,871.3 756.7,885.6 756.9,887.4 757.0,879.3 757.1,882.9 757.2,866.0 757.4,875.0 757.5,874.6 757.6,849.4 757.8,872.2 757.9,796.8 758.0,757.4 758.1,789.3 758.3,957.0 758.4,877.9 758.5,856.6 758.7,934.8 758.8,943.5 758.9,879.1 759.0,869.5 759.2,995.6 759.3,872.5 759.4,885.6 759.6,891.6 759.7,889.1 759.8,1010.5 760.0,888.6 760.1,889.9 760.2,866.4 760.3,739.1 760.5,875.4 760.6,884.3 760.7,919.9 760.9,890.7 761.0,893.5 761.1,879.4 761.2,944.2 761.4,889.5 761.5,805.8 761.6,933.9 761.8,933.9 761.9,865.1 762.0,879.8 762.1,868.0 762.3,1032.1 762.4,1015.5 762.5,876.2 762.7,866.6 762.8,884.2 762.9,878.7 763.0,920.3 763.2,884.0 763.3,885.3 763.4,800.3 763.6,872.6 763.7,783.2 763.8,970.6 764.0,891.6 764.1,901.4 764.2,865.8 764.3,879.1 764.5,942.4 764.6,889.0 764.7,874.3 764.9,977.6 765.0,866.1 765.1,882.1 765.2,943.5 765.4,838.5 765.5,982.1 765.6,1034.2 765.8,819.2 765.9,883.4 766.0,872.6 766.1,867.9 766.3,872.5 766.4,1000.4 766.5,885.1 766.7,871.8 766.8,990.3 766.9,904.2 767.1,846.6 767.2,740.4 767.3,931.4 767.4,877.6 767.6,893.9 767.7,859.8 767.8,887.0 768.0,1031.6 768.1,777.2 768.2,831.2 768.3,740.4 768.5,754.7 768.6,844.9 768.7,835.3 768.9,881.4 769.0,871.7 769.1,877.4 769.2,910.6 769.4,786.0 769.5,891.0 769.6,877.7 769.8,898.6 769.9,885.3 770.0,977.3 770.1,871.8 770.3,886.9 770.4,972.7 770.5,880.7 770.7,740.6 770.8,879.8 770.9,883.2 771.1,873.2 771.2,746.4 771.3,989.9 771.4,955.9 771.6,862.0 771.7,864.7 771.8,812.7 772.0,848.8 772.1,876.4 772.2,888.2 772.3,989.0 772.5,744.0 772.6,898.0 772.7,869.3 772.9,1018.2 773.0,912.2 773.1,890.2 773.2,800.3 773.4,868.0 773.5,876.0 773.6,1022.3 773.8,882.4 773.9,869.6 774.0,1018.2 774.2,877.1 774.3,865.1 774.4,862.5 774.5,878.4 774.7,868.2 774.8,866.5 774.9,879.8 775.1,831.7 775.2,879.6 775.3,871.1 775.4,879.8 775.6,881.7 775.7,887.7 775.8,877.4 776.0,890.1 776.1,881.9 776.2,875.3 776.3,889.5 776.5,881.4 776.6,880.5 776.7,890.7 776.9,888.0 777.0,886.0 777.1,879.3 777.2,881.5 777.4,898.7 777.5,871.5 777.6,890.6 777.8,882.5 777.9,877.4 778.0,882.9 778.2,871.7 778.3,902.0 778.4,871.4 778.5,885.7 778.7,869.6 778.8,874.2 778.9,881.1 779.1,879.9 779.2,877.1 779.3,872.5 779.4,870.4 779.6,872.8 779.7,889.3 779.8,870.1 780.0,867.0 780.1,902.9 780.2,888.2 780.3,888.9 780.5,968.0 780.6,879.4 780.7,935.4 780.9,870.5 781.0,886.6 781.1,864.1 781.3,871.7 781.4,872.2 781.5,877.6 781.6,862.5 781.8,997.2 781.9,884.1 782.0,889.1 782.2,856.3 782.3,932.8 782.4,890.5 782.5,882.5 782.7,878.5 782.8,873.4 782.9,883.3 783.1,738.3 783.2,870.6 783.3,925.5 783.4,758.8 783.6,875.3 783.7,749.8 783.8,790.7 784.0,872.8 784.1,878.4 784.2,874.4 784.3,953.9 784.5,930.1 784.6,900.1 784.7,736.5 784.9,893.7 785.0,873.0 785.1,992.3 785.3,794.8 785.4,891.9 785.5,986.8 785.6,1006.9 785.8,785.5 785.9,905.0 786.0,883.1 786.2,877.3 786.3,757.9 786.4,899.4 786.5,872.6 786.7,859.0 786.8,990.4 786.9,878.7 787.1,856.9 787.2,876.4 787.3,877.6 787.4,891.4 787.6,873.5 787.7,898.0 787.8,870.6 788.0,903.1 788.1,893.6 788.2,874.9 788.4,874.0 788.5,901.4 788.6,875.5 788.7,869.7 788.9,869.5 789.0,901.1 789.1,872.2 789.3,870.2 789.4,884.3 789.5,890.7 789.6,880.8 789.8,892.4 789.9,762.5 790.0,867.0 790.2,882.3 790.3,870.2 790.4,734.0 790.5,737.2 790.7,882.0 790.8,884.9 790.9,872.9 791.1,830.0 791.2,979.1 791.3,979.5 791.4,781.3 791.6,976.0 791.7,856.6 791.8,1030.7 792.0,795.2 792.1,892.7 792.2,887.7 792.4,887.6 792.5,859.6 792.6,876.7 792.7,874.0 792.9,899.8 793.0,876.5 793.1,965.5 793.3,833.7 793.4,791.7 793.5,940.1 793.6,835.4 793.8,988.0 793.9,1000.8 794.0,948.5 794.2,885.0 794.3,887.0 794.4,867.9 794.5,820.4 794.7,872.1 794.8,872.0 794.9,771.4 795.1,878.8 795.2,848.5 795.3,875.2 795.5,1031.5 795.6,830.1 795.7,1006.9 795.8,863.6 796.0,1012.1 796.1,870.7 796.2,889.8 796.4,858.8 796.5,876.0 796.6,872.4 796.7,894.7 796.9,877.6 797.0,1017.9 797.1,1001.6 797.3,868.7 797.4,913.9 797.5,820.8 797.6,861.5 797.8,862.4 797.9,880.8 798.0,868.1 798.2,881.3 798.3,877.1 798.4,877.0 798.6,887.6 798.7,875.5 798.8,903.9 798.9,863.0 799.1,884.8 799.2,913.9 799.3,937.9 799.5,894.3 799.6,875.9 799.7,894.4 799.8,936.8 800.0,887.0 800.1,882.8 800.2,883.7 800.4,903.4 800.5,866.7 800.6,947.5 800.7,795.9 800.9,862.6 801.0,882.0 801.1,910.8 801.3,939.2 801.4,827.2 801.5,883.2 801.6,898.8 801.8,997.9 801.9,876.2 802.0,864.5 802.2,881.8 802.3,872.4 802.4,887.7 802.6,934.7 802.7,891.8 802.8,861.1 802.9,868.3 803.1,837.8 803.2,883.8 803.3,862.3 803.5,883.6 803.6,877.3 803.7,896.3 803.8,902.1 804.0,888.5 804.1,882.0 804.2,882.2 804.4,992.5 804.5,907.3 804.6,884.4 804.7,871.5 804.9,890.6 805.0,740.8 805.1,800.6 805.3,827.4 805.4,897.9 805.5,867.4 805.7,872.3 805.8,869.9 805.9,866.6 806.0,872.1 806.2,861.9 806.3,869.3 806.4,809.6 806.6,894.7 806.7,1007.7 806.8,912.5 806.9,883.7 807.1,892.4 807.2,965.3 807.3,826.3 807.5,820.9 807.6,882.7 807.7,887.7 807.8,750.0 808.0,886.9 808.1,892.1 808.2,896.2 808.4,778.6 808.5,887.3 808.6,748.3 808.7,986.1 808.9,890.8 809.0,872.2 809.1,865.1 809.3,874.5 809.4,864.2 809.5,880.3 809.7,951.9 809.8,896.8 809.9,895.2 810.0,870.6 810.2,831.8 810.3,882.2 810.4,886.1 810.6,867.0 810.7,980.1 810.8,818.1 810.9,1022.1 811.1,908.2 811.2,907.4 811.3,879.8 811.5,800.6 811.6,872.8 811.7,902.4 811.8,804.0 812.0,864.2 812.1,877.5 812.2,965.5 812.4,971.0 812.5,875.8 812.6,876.3 812.8,781.5 812.9,905.9 813.0,789.9 813.1,997.0 813.3,909.2 813.4,901.9 813.5,828.9 813.7,918.4 813.8,896.1 813.9,806.3 814.0,834.9 814.2,893.0 814.3,740.3 814.4,897.3 814.6,885.1 814.7,875.4 814.8,882.1 814.9,857.5 815.1,891.3 815.2,890.8 815.3,743.3 815.5,871.1 815.6,902.8 815.7,824.7 815.8,896.0 816.0,892.0 816.1,898.9 816.2,881.2 816.4,882.2 816.5,881.1 816.6,900.3 816.8,889.0 816.9,885.5 817.0,880.4 817.1,890.4 817.3,893.7 817.4,891.2 817.5,892.2 817.7,881.1 817.8,876.5 817.9,895.3 818.0,887.1 818.2,883.6 818.3,883.5 818.4,871.4 818.6,881.7 818.7,883.1 818.8,882.7 818.9,883.7 819.1,894.0 819.2,885.6 819.3,886.2 819.5,896.7 819.6,895.6 819.7,882.5 819.9,888.4 820.0,885.9 820.1,878.3 820.2,888.0 820.4,883.9 820.5,889.3 820.6,908.6 820.8,883.5 820.9,899.7 821.0,885.0 821.1,874.9 821.3,899.0 821.4,882.1 821.5,876.8 821.7,890.7 821.8,893.8 821.9,903.6 822.0,892.6 822.2,879.9 822.3,889.4 822.4,968.2 822.6,1017.7 822.7,744.9 822.8,874.7 822.9,826.8 823.1,883.2 823.2,890.6 823.3,865.8 823.5,1004.2 823.6,889.8 823.7,895.0 823.9,892.5 824.0,888.7 824.1,890.2 824.2,879.2 824.4,875.1 824.5,881.3 824.6,893.8 824.8,878.7 824.9,883.0 825.0,880.8 825.1,882.3 825.3,888.9 825.4,873.0 825.5,879.7 825.7,881.8 825.8,891.4 825.9,888.5 826.0,887.4 826.2,891.2 826.3,878.1 826.4,887.5 826.6,900.8 826.7,879.7 826.8,897.7 827.0,875.5 827.1,881.0 827.2,884.4 827.3,874.3 827.5,883.6 827.6,883.9 827.7,891.1 827.9,885.8 828.0,897.6 828.1,886.7" fill="none" stroke="#0a64b0" stroke-width="0.8" stroke-linejoin="miter" stroke-opacity="0.92"/>
<line x1="634.6" y1="861.6" x2="828.1" y2="886.0" stroke="#f01a1a" stroke-width="2.6"/>
<rect x="634.6" y="729.6" width="242.70" height="306.90" fill="none" stroke="#a3a3a3" stroke-width="1.1"/>
<line x1="634.6" y1="1029.58" x2="638.1" y2="1029.58" stroke="#a3a3a3" stroke-width="1"/>
<line x1="877.3" y1="1029.58" x2="873.8" y2="1029.58" stroke="#a3a3a3" stroke-width="1"/>
<line x1="634.6" y1="980.74" x2="638.1" y2="980.74" stroke="#a3a3a3" stroke-width="1"/>
<line x1="877.3" y1="980.74" x2="873.8" y2="980.74" stroke="#a3a3a3" stroke-width="1"/>
<line x1="634.6" y1="931.89" x2="638.1" y2="931.89" stroke="#a3a3a3" stroke-width="1"/>
<line x1="877.3" y1="931.89" x2="873.8" y2="931.89" stroke="#a3a3a3" stroke-width="1"/>
<line x1="634.6" y1="883.05" x2="638.1" y2="883.05" stroke="#a3a3a3" stroke-width="1"/>
<line x1="877.3" y1="883.05" x2="873.8" y2="883.05" stroke="#a3a3a3" stroke-width="1"/>
<line x1="634.6" y1="834.21" x2="638.1" y2="834.21" stroke="#a3a3a3" stroke-width="1"/>
<line x1="877.3" y1="834.21" x2="873.8" y2="834.21" stroke="#a3a3a3" stroke-width="1"/>
<line x1="634.6" y1="785.36" x2="638.1" y2="785.36" stroke="#a3a3a3" stroke-width="1"/>
<line x1="877.3" y1="785.36" x2="873.8" y2="785.36" stroke="#a3a3a3" stroke-width="1"/>
<line x1="634.6" y1="736.52" x2="638.1" y2="736.52" stroke="#a3a3a3" stroke-width="1"/>
<line x1="877.3" y1="736.52" x2="873.8" y2="736.52" stroke="#a3a3a3" stroke-width="1"/>
<line x1="715.50" y1="1036.5" x2="715.50" y2="1033.0" stroke="#a3a3a3" stroke-width="1"/>
<line x1="715.50" y1="729.6" x2="715.50" y2="733.1" stroke="#a3a3a3" stroke-width="1"/>
<line x1="796.40" y1="1036.5" x2="796.40" y2="1033.0" stroke="#a3a3a3" stroke-width="1"/>
<line x1="796.40" y1="729.6" x2="796.40" y2="733.1" stroke="#a3a3a3" stroke-width="1"/>
<text x="709.66" y="1055.30" font-size="22.50" textLength="11.25" lengthAdjust="spacingAndGlyphs" fill="#303030">5</text>
<text x="784.59" y="1055.30" font-size="22.50" textLength="22.50" lengthAdjust="spacingAndGlyphs" fill="#303030">10</text>
<text x="865.50" y="1055.30" font-size="22.50" textLength="22.50" lengthAdjust="spacingAndGlyphs" fill="#303030">15</text>
<text x="878.49" y="1065.00" font-size="13.50" textLength="8.60" lengthAdjust="spacingAndGlyphs" fill="#262626">×</text>
<text x="887.76" y="1067.50" font-size="14.00" textLength="14.07" lengthAdjust="spacingAndGlyphs" fill="#262626">10</text>
<text x="901.21" y="1063.30" font-size="11.50" textLength="6.17" lengthAdjust="spacingAndGlyphs" fill="#262626">3</text>
<rect x="636.4" y="1174.3" width="245.70" height="307.20" fill="#fff"/>
<polyline points="636.4,1363.2 636.5,1457.6 636.7,1185.2 636.8,1341.5 636.9,1174.9 637.1,1375.7 637.2,1335.9 637.3,1465.8 637.4,1298.0 637.6,1273.7 637.7,1326.8 637.8,1357.6 638.0,1357.0 638.1,1339.0 638.2,1344.2 638.4,1305.2 638.5,1258.2 638.6,1360.8 638.8,1333.4 638.9,1331.6 639.0,1341.4 639.2,1320.3 639.3,1326.9 639.4,1463.0 639.5,1326.8 639.7,1377.1 639.8,1342.1 639.9,1201.3 640.1,1356.4 640.2,1348.3 640.3,1318.8 640.5,1421.1 640.6,1330.9 640.7,1324.3 640.9,1348.4 641.0,1277.2 641.1,1331.6 641.3,1344.9 641.4,1353.0 641.5,1307.4 641.6,1350.9 641.8,1298.8 641.9,1349.9 642.0,1358.6 642.2,1213.8 642.3,1314.4 642.4,1321.4 642.6,1255.9 642.7,1332.1 642.8,1361.9 643.0,1348.3 643.1,1331.9 643.2,1354.1 643.3,1339.0 643.5,1318.2 643.6,1269.3 643.7,1332.8 643.9,1339.3 644.0,1350.2 644.1,1361.9 644.3,1391.7 644.4,1324.9 644.5,1348.4 644.7,1282.5 644.8,1364.4 644.9,1457.8 645.1,1310.2 645.2,1349.4 645.3,1331.9 645.4,1337.3 645.6,1284.8 645.7,1304.9 645.8,1205.3 646.0,1346.5 646.1,1332.4 646.2,1386.3 646.4,1328.6 646.5,1409.9 646.6,1353.4 646.8,1306.1 646.9,1481.5 647.0,1357.7 647.2,1258.2 647.3,1313.1 647.4,1401.3 647.5,1336.9 647.7,1342.6 647.8,1334.0 647.9,1333.1 648.1,1346.0 648.2,1336.4 648.3,1315.3 648.5,1375.3 648.6,1252.9 648.7,1363.2 648.9,1338.0 649.0,1346.3 649.1,1448.5 649.3,1260.5 649.4,1444.7 649.5,1324.8 649.6,1330.1 649.8,1320.1 649.9,1351.6 650.0,1352.8 650.2,1333.3 650.3,1335.3 650.4,1442.4 650.6,1444.7 650.7,1383.6 650.8,1349.0 651.0,1326.3 651.1,1343.1 651.2,1355.9 651.3,1307.9 651.5,1362.2 651.6,1361.0 651.7,1327.0 651.9,1353.7 652.0,1313.6 652.1,1332.7 652.3,1336.9 652.4,1366.1 652.5,1242.0 652.7,1459.5 652.8,1353.9 652.9,1322.2 653.1,1463.5 653.2,1342.1 653.3,1469.3 653.4,1347.9 653.6,1341.1 653.7,1410.4 653.8,1240.7 654.0,1339.9 654.1,1357.5 654.2,1351.4 654.4,1357.9 654.5,1351.9 654.6,1332.3 654.8,1343.5 654.9,1284.0 655.0,1420.8 655.2,1332.4 655.3,1325.2 655.4,1346.2 655.5,1453.1 655.7,1376.7 655.8,1182.6 655.9,1322.7 656.1,1310.5 656.2,1422.6 656.3,1248.2 656.5,1313.8 656.6,1269.5 656.7,1404.7 656.9,1410.7 657.0,1208.8 657.1,1436.1 657.2,1210.6 657.4,1254.7 657.5,1361.6 657.6,1343.4 657.8,1337.6 657.9,1311.5 658.0,1181.4 658.2,1366.5 658.3,1352.7 658.4,1351.6 658.6,1341.4 658.7,1255.2 658.8,1207.5 659.0,1342.3 659.1,1176.5 659.2,1308.6 659.3,1347.0 659.5,1337.6 659.6,1460.4 659.7,1417.8 659.9,1358.7 660.0,1336.2 660.1,1192.2 660.3,1297.5 660.4,1346.7 660.5,1334.2 660.7,1323.2 660.8,1477.8 660.9,1325.9 661.1,1298.1 661.2,1330.8 661.3,1344.6 661.4,1372.9 661.6,1338.4 661.7,1192.4 661.8,1280.9 662.0,1321.7 662.1,1468.5 662.2,1329.4 662.4,1318.0 662.5,1234.3 662.6,1329.3 662.8,1352.7 662.9,1374.4 663.0,1215.5 663.1,1262.4 663.3,1331.8 663.4,1333.0 663.5,1335.1 663.7,1344.1 663.8,1264.8 663.9,1343.6 664.1,1335.5 664.2,1319.7 664.3,1342.4 664.5,1221.0 664.6,1330.3 664.7,1356.0 664.9,1316.5 665.0,1341.0 665.1,1317.0 665.2,1398.3 665.4,1180.2 665.5,1382.8 665.6,1445.1 665.8,1354.0 665.9,1446.1 666.0,1244.0 666.2,1346.9 666.3,1333.3 666.4,1339.2 666.6,1355.5 666.7,1354.6 666.8,1332.3 667.0,1336.3 667.1,1349.1 667.2,1351.9 667.3,1326.1 667.5,1333.6 667.6,1458.4 667.7,1441.2 667.9,1180.8 668.0,1354.1 668.1,1312.3 668.3,1352.7 668.4,1359.4 668.5,1331.6 668.7,1331.1 668.8,1320.5 668.9,1399.9 669.1,1320.4 669.2,1327.2 669.3,1291.6 669.4,1186.8 669.6,1370.9 669.7,1320.3 669.8,1400.1 670.0,1347.9 670.1,1351.0 670.2,1330.2 670.4,1345.3 670.5,1352.1 670.6,1197.0 670.8,1343.6 670.9,1250.4 671.0,1344.5 671.1,1331.1 671.3,1308.4 671.4,1342.9 671.5,1326.5 671.7,1328.9 671.8,1285.0 671.9,1431.6 672.1,1401.6 672.2,1395.1 672.3,1213.3 672.5,1443.4 672.6,1448.6 672.7,1340.9 672.9,1344.5 673.0,1264.6 673.1,1297.4 673.2,1201.5 673.4,1341.6 673.5,1329.8 673.6,1333.6 673.8,1335.4 673.9,1357.1 674.0,1353.1 674.2,1316.7 674.3,1331.9 674.4,1331.8 674.6,1342.4 674.7,1338.7 674.8,1334.0 675.0,1330.8 675.1,1423.5 675.2,1346.2 675.3,1320.8 675.5,1337.3 675.6,1354.4 675.7,1344.7 675.9,1334.9 676.0,1326.7 676.1,1337.4 676.3,1347.7 676.4,1338.3 676.5,1348.0 676.7,1337.8 676.8,1333.5 676.9,1337.1 677.0,1337.8 677.2,1339.8 677.3,1338.2 677.4,1323.8 677.6,1345.0 677.7,1342.5 677.8,1335.5 678.0,1337.4 678.1,1336.1 678.2,1338.7 678.4,1325.7 678.5,1348.3 678.6,1337.4 678.8,1333.7 678.9,1340.3 679.0,1354.7 679.1,1350.6 679.3,1336.8 679.4,1351.6 679.5,1337.7 679.7,1322.5 679.8,1328.5 679.9,1346.6 680.1,1320.8 680.2,1352.2 680.3,1331.7 680.5,1344.1 680.6,1333.5 680.7,1347.9 680.9,1339.7 681.0,1352.9 681.1,1340.6 681.2,1334.8 681.4,1336.4 681.5,1345.2 681.6,1333.5 681.8,1315.0 681.9,1350.9 682.0,1345.8 682.2,1331.4 682.3,1343.3 682.4,1336.3 682.6,1341.0 682.7,1345.7 682.8,1346.7 683.0,1351.7 683.1,1348.7 683.2,1328.2 683.3,1253.7 683.5,1346.5 683.6,1341.2 683.7,1410.5 683.9,1338.5 684.0,1357.1 684.1,1221.5 684.3,1330.9 684.4,1341.7 684.5,1349.9 684.7,1331.9 684.8,1336.3 684.9,1343.9 685.0,1350.9 685.2,1459.6 685.3,1334.2 685.4,1346.9 685.6,1326.4 685.7,1333.7 685.8,1339.8 686.0,1351.3 686.1,1357.7 686.2,1333.8 686.4,1285.9 686.5,1313.3 686.6,1242.0 686.8,1420.0 686.9,1325.7 687.0,1342.2 687.1,1445.5 687.3,1353.7 687.4,1329.6 687.5,1349.6 687.7,1351.4 687.8,1336.5 687.9,1334.4 688.1,1342.8 688.2,1335.4 688.3,1333.2 688.5,1330.5 688.6,1327.5 688.7,1338.5 688.9,1329.3 689.0,1339.6 689.1,1326.8 689.2,1350.6 689.4,1174.5 689.5,1335.8 689.6,1342.8 689.8,1345.3 689.9,1332.1 690.0,1337.4 690.2,1337.7 690.3,1336.8 690.4,1333.1 690.6,1329.5 690.7,1333.3 690.8,1344.2 690.9,1338.7 691.1,1329.3 691.2,1333.5 691.3,1324.8 691.5,1352.6 691.6,1329.2 691.7,1332.6 691.9,1325.8 692.0,1342.5 692.1,1340.5 692.3,1339.9 692.4,1335.0 692.5,1320.0 692.7,1305.0 692.8,1327.6 692.9,1325.0 693.0,1326.3 693.2,1342.7 693.3,1332.5 693.4,1334.7 693.6,1337.5 693.7,1312.5 693.8,1333.9 694.0,1340.3 694.1,1212.8 694.2,1222.6 694.4,1477.6 694.5,1333.7 694.6,1334.1 694.8,1352.0 694.9,1356.4 695.0,1328.2 695.1,1326.2 695.3,1357.4 695.4,1351.2 695.5,1346.2 695.7,1383.3 695.8,1280.8 695.9,1268.3 696.1,1281.3 696.2,1352.3 696.3,1338.3 696.5,1315.4 696.6,1387.4 696.7,1293.4 696.8,1332.6 697.0,1334.5 697.1,1408.8 697.2,1291.3 697.4,1325.4 697.5,1470.9 697.6,1326.0 697.8,1337.7 697.9,1252.2 698.0,1359.5 698.2,1344.3 698.3,1323.3 698.4,1340.7 698.6,1333.3 698.7,1429.8 698.8,1332.7 698.9,1366.8 699.1,1409.7 699.2,1327.7 699.3,1341.1 699.5,1444.8 699.6,1331.0 699.7,1217.6 699.9,1345.8 700.0,1346.7 700.1,1296.9 700.3,1346.6 700.4,1345.2 700.5,1345.0 700.7,1332.3 700.8,1328.8 700.9,1334.9 701.0,1270.0 701.2,1342.6 701.3,1328.6 701.4,1394.4 701.6,1348.0 701.7,1430.3 701.8,1341.1 702.0,1325.9 702.1,1332.6 702.2,1334.9 702.4,1324.0 702.5,1354.9 702.6,1256.1 702.8,1306.0 702.9,1351.4 703.0,1257.8 703.1,1430.1 703.3,1337.9 703.4,1347.8 703.5,1371.5 703.7,1325.7 703.8,1338.1 703.9,1346.6 704.1,1196.4 704.2,1332.1 704.3,1336.9 704.5,1210.9 704.6,1243.3 704.7,1458.6 704.8,1178.4 705.0,1332.0 705.1,1257.8 705.2,1335.8 705.4,1206.0 705.5,1354.5 705.6,1352.3 705.8,1429.1 705.9,1340.2 706.0,1314.0 706.2,1193.1 706.3,1328.5 706.4,1342.8 706.6,1352.9 706.7,1338.6 706.8,1346.1 706.9,1293.8 707.1,1358.5 707.2,1324.5 707.3,1332.5 707.5,1421.6 707.6,1258.4 707.7,1319.1 707.9,1355.0 708.0,1352.1 708.1,1328.8 708.3,1231.4 708.4,1263.8 708.5,1370.3 708.7,1330.3 708.8,1331.7 708.9,1308.7 709.0,1225.9 709.2,1317.3 709.3,1332.0 709.4,1226.6 709.6,1326.6 709.7,1340.8 709.8,1322.0 710.0,1336.2 710.1,1327.6 710.2,1343.0 710.4,1357.0 710.5,1317.1 710.6,1478.0 710.7,1326.1 710.9,1340.8 711.0,1361.1 711.1,1347.3 711.3,1264.6 711.4,1337.1 711.5,1347.2 711.7,1327.6 711.8,1340.9 711.9,1333.4 712.1,1351.5 712.2,1211.1 712.3,1355.2 712.5,1342.5 712.6,1323.4 712.7,1334.3 712.8,1320.8 713.0,1344.9 713.1,1343.8 713.2,1338.7 713.4,1338.2 713.5,1341.9 713.6,1338.4 713.8,1318.9 713.9,1334.4 714.0,1344.4 714.2,1259.6 714.3,1316.0 714.4,1330.5 714.6,1346.1 714.7,1276.2 714.8,1259.9 714.9,1327.1 715.1,1334.0 715.2,1327.8 715.3,1346.0 715.5,1350.8 715.6,1217.2 715.7,1340.6 715.9,1326.9 716.0,1343.7 716.1,1324.9 716.3,1337.5 716.4,1344.9 716.5,1328.0 716.6,1354.3 716.8,1328.6 716.9,1342.2 717.0,1238.3 717.2,1344.1 717.3,1432.3 717.4,1310.6 717.6,1360.3 717.7,1326.1 717.8,1446.4 718.0,1252.9 718.1,1318.0 718.2,1445.8 718.4,1352.4 718.5,1469.4 718.6,1290.6 718.7,1350.2 718.9,1315.0 719.0,1343.1 719.1,1332.2 719.3,1337.1 719.4,1328.6 719.5,1287.2 719.7,1369.2 719.8,1334.1 719.9,1332.4 720.1,1348.2 720.2,1343.6 720.3,1344.6 720.5,1336.9 720.6,1227.2 720.7,1306.6 720.8,1351.7 721.0,1327.6 721.1,1332.0 721.2,1335.5 721.4,1368.1 721.5,1329.8 721.6,1453.7 721.8,1192.9 721.9,1355.2 722.0,1445.5 722.2,1236.2 722.3,1402.6 722.4,1337.8 722.6,1366.4 722.7,1355.3 722.8,1336.0 722.9,1359.1 723.1,1253.3 723.2,1312.2 723.3,1340.3 723.5,1328.1 723.6,1354.5 723.7,1209.2 723.9,1285.5 724.0,1364.8 724.1,1352.4 724.3,1359.0 724.4,1334.7 724.5,1354.2 724.6,1341.7 724.8,1335.0 724.9,1347.1 725.0,1178.8 725.2,1336.5 725.3,1369.9 725.4,1329.2 725.6,1297.7 725.7,1346.6 725.8,1349.4 726.0,1234.9 726.1,1348.0 726.2,1321.6 726.4,1400.1 726.5,1303.6 726.6,1283.9 726.7,1304.2 726.9,1174.8 727.0,1348.4 727.1,1347.7 727.3,1366.2 727.4,1435.8 727.5,1324.7 727.7,1467.7 727.8,1317.6 727.9,1332.8 728.1,1369.0 728.2,1392.5 728.3,1363.4 728.5,1423.2 728.6,1476.2 728.7,1385.7 728.8,1316.4 729.0,1340.6 729.1,1332.2 729.2,1342.9 729.4,1326.0 729.5,1353.2 729.6,1195.7 729.8,1330.9 729.9,1330.6 730.0,1281.0 730.2,1395.6 730.3,1330.5 730.4,1352.4 730.5,1346.4 730.7,1339.4 730.8,1391.0 730.9,1332.0 731.1,1318.1 731.2,1442.5 731.3,1326.9 731.5,1347.8 731.6,1285.2 731.7,1334.9 731.9,1334.1 732.0,1311.6 732.1,1334.9 732.3,1210.8 732.4,1349.0 732.5,1402.9 732.6,1373.3 732.8,1366.5 732.9,1335.6 733.0,1338.9 733.2,1242.1 733.3,1321.8 733.4,1362.1 733.6,1330.4 733.7,1351.8 733.8,1326.5 734.0,1183.0 734.1,1287.9 734.2,1330.9 734.4,1334.6 734.5,1331.2 734.6,1191.9 734.7,1335.4 734.9,1411.7 735.0,1313.1 735.1,1438.8 735.3,1342.8 735.4,1374.4 735.5,1347.3 735.7,1343.1 735.8,1316.5 735.9,1324.3 736.1,1389.0 736.2,1253.1 736.3,1432.2 736.5,1453.1 736.6,1332.6 736.7,1359.8 736.8,1433.4 737.0,1459.8 737.1,1332.1 737.2,1355.1 737.4,1342.0 737.5,1428.3 737.6,1209.9 737.8,1242.9 737.9,1412.6 738.0,1422.9 738.2,1200.8 738.3,1354.2 738.4,1331.8 738.5,1323.7 738.7,1195.0 738.8,1332.4 738.9,1317.5 739.1,1321.5 739.2,1309.1 739.3,1340.4 739.5,1322.3 739.6,1234.9 739.7,1283.0 739.9,1372.1 740.0,1294.6 740.1,1327.8 740.3,1327.6 740.4,1343.6 740.5,1324.0 740.6,1354.0 740.8,1330.0 740.9,1328.1 741.0,1221.3 741.2,1330.5 741.3,1235.6 741.4,1180.6 741.6,1339.3 741.7,1334.6 741.8,1352.7 742.0,1325.3 742.1,1342.3 742.2,1331.3 742.4,1404.9 742.5,1205.7 742.6,1198.2 742.7,1344.4 742.9,1406.4 743.0,1333.4 743.1,1352.5 743.3,1178.0 743.4,1318.8 743.5,1329.8 743.7,1474.8 743.8,1389.1 743.9,1315.5 744.1,1336.1 744.2,1348.1 744.3,1304.2 744.4,1331.1 744.6,1342.5 744.7,1332.6 744.8,1420.4 745.0,1331.4 745.1,1320.6 745.2,1277.9 745.4,1321.1 745.5,1360.0 745.6,1309.2 745.8,1339.2 745.9,1311.7 746.0,1351.8 746.2,1477.0 746.3,1349.7 746.4,1218.3 746.5,1346.8 746.7,1205.0 746.8,1261.3 746.9,1343.6 747.1,1351.8 747.2,1479.8 747.3,1426.1 747.5,1245.1 747.6,1219.7 747.7,1329.9 747.9,1334.5 748.0,1335.7 748.1,1461.3 748.3,1330.4 748.4,1449.2 748.5,1377.2 748.6,1377.1 748.8,1183.7 748.9,1321.9 749.0,1386.2 749.2,1317.8 749.3,1325.6 749.4,1325.8 749.6,1374.3 749.7,1351.0 749.8,1352.6 750.0,1410.6 750.1,1314.9 750.2,1193.9 750.3,1326.8 750.5,1324.4 750.6,1411.9 750.7,1337.4 750.9,1219.6 751.0,1316.3 751.1,1427.9 751.3,1441.5 751.4,1475.1 751.5,1335.1 751.7,1468.5 751.8,1366.9 751.9,1358.7 752.1,1392.1 752.2,1352.4 752.3,1411.9 752.4,1366.8 752.6,1268.2 752.7,1335.5 752.8,1337.8 753.0,1328.9 753.1,1323.5 753.2,1344.5 753.4,1338.8 753.5,1341.8 753.6,1345.4 753.8,1345.1 753.9,1340.7 754.0,1329.8 754.2,1334.7 754.3,1337.0 754.4,1331.8 754.5,1321.6 754.7,1334.7 754.8,1326.5 754.9,1340.5 755.1,1348.9 755.2,1332.9 755.3,1324.0 755.5,1334.9 755.6,1346.8 755.7,1331.8 755.9,1325.3 756.0,1340.5 756.1,1332.2 756.3,1326.0 756.4,1330.6 756.5,1338.4 756.6,1342.5 756.8,1338.1 756.9,1345.8 757.0,1345.2 757.2,1329.8 757.3,1331.8 757.4,1363.0 757.6,1335.4 757.7,1341.9 757.8,1333.9 758.0,1319.4 758.1,1337.8 758.2,1336.6 758.3,1322.9 758.5,1338.0 758.6,1309.2 758.7,1340.2 758.9,1335.8 759.0,1331.6 759.1,1323.7 759.3,1350.0 759.4,1336.0 759.5,1342.9 759.7,1340.1 759.8,1332.6 759.9,1341.9 760.1,1472.6 760.2,1327.6 760.3,1331.4 760.4,1345.6 760.6,1347.5 760.7,1339.3 760.8,1342.9 761.0,1325.9 761.1,1334.9 761.2,1334.5 761.4,1309.3 761.5,1332.1 761.6,1256.6 761.8,1217.1 761.9,1249.1 762.0,1416.9 762.2,1337.8 762.3,1316.4 762.4,1394.7 762.5,1403.3 762.7,1338.8 762.8,1329.2 762.9,1455.4 763.1,1332.2 763.2,1345.3 763.3,1351.3 763.5,1348.7 763.6,1470.3 763.7,1348.2 763.9,1349.5 764.0,1325.9 764.1,1198.5 764.2,1334.9 764.4,1343.8 764.5,1379.4 764.6,1350.1 764.8,1352.9 764.9,1338.8 765.0,1403.7 765.2,1348.9 765.3,1265.1 765.4,1393.2 765.6,1393.3 765.7,1324.4 765.8,1339.1 766.0,1327.2 766.1,1184.3 766.2,1474.8 766.3,1335.4 766.5,1325.7 766.6,1343.3 766.7,1337.8 766.9,1379.5 767.0,1343.1 767.1,1344.4 767.3,1259.3 767.4,1331.6 767.5,1242.1 767.7,1429.7 767.8,1350.6 767.9,1360.4 768.1,1324.8 768.2,1338.0 768.3,1401.3 768.4,1347.9 768.6,1333.1 768.7,1436.6 768.8,1324.9 769.0,1340.9 769.1,1402.4 769.2,1297.2 769.4,1441.0 769.5,1185.8 769.6,1277.9 769.8,1342.0 769.9,1331.2 770.0,1326.6 770.1,1331.2 770.3,1459.1 770.4,1343.7 770.5,1330.3 770.7,1449.0 770.8,1362.8 770.9,1305.1 771.1,1198.8 771.2,1389.9 771.3,1336.1 771.5,1352.3 771.6,1318.2 771.7,1345.4 771.9,1182.9 772.0,1235.4 772.1,1289.5 772.2,1198.6 772.4,1212.9 772.5,1303.1 772.6,1293.5 772.8,1339.6 772.9,1329.9 773.0,1335.6 773.2,1368.8 773.3,1244.1 773.4,1349.1 773.6,1335.9 773.7,1356.7 773.8,1343.4 774.0,1435.5 774.1,1329.8 774.2,1344.9 774.3,1430.8 774.5,1338.7 774.6,1198.4 774.7,1337.8 774.9,1341.1 775.0,1331.1 775.1,1204.2 775.3,1447.8 775.4,1413.9 775.5,1319.8 775.7,1322.5 775.8,1270.4 775.9,1306.5 776.1,1334.1 776.2,1346.0 776.3,1446.8 776.4,1201.5 776.6,1355.6 776.7,1327.0 776.8,1476.0 777.0,1369.9 777.1,1347.8 777.2,1257.8 777.4,1325.6 777.5,1333.5 777.6,1479.9 777.8,1339.9 777.9,1327.1 778.0,1475.8 778.1,1334.5 778.3,1322.5 778.4,1319.8 778.5,1335.8 778.7,1325.5 778.8,1323.8 778.9,1337.1 779.1,1288.9 779.2,1336.8 779.3,1328.3 779.5,1337.1 779.6,1338.9 779.7,1344.9 779.9,1334.6 780.0,1347.3 780.1,1339.0 780.2,1332.4 780.4,1346.6 780.5,1338.5 780.6,1337.6 780.8,1347.7 780.9,1345.1 781.0,1343.0 781.2,1336.3 781.3,1338.4 781.4,1355.7 781.6,1328.4 781.7,1347.5 781.8,1339.4 782.0,1334.3 782.1,1339.7 782.2,1328.5 782.3,1358.9 782.5,1328.2 782.6,1342.5 782.7,1326.4 782.9,1330.9 783.0,1337.8 783.1,1336.6 783.3,1333.8 783.4,1329.2 783.5,1327.0 783.7,1329.4 783.8,1345.8 783.9,1326.6 784.0,1323.6 784.2,1359.5 784.3,1344.7 784.4,1345.4 784.6,1424.5 784.7,1335.9 784.8,1391.9 785.0,1326.9 785.1,1343.0 785.2,1320.5 785.4,1328.1 785.5,1328.6 785.6,1333.9 785.8,1318.8 785.9,1453.5 786.0,1340.4 786.1,1345.3 786.3,1312.5 786.4,1389.0 786.5,1346.7 786.7,1338.7 786.8,1334.6 786.9,1329.5 787.1,1339.4 787.2,1194.2 787.3,1326.6 787.5,1381.6 787.6,1214.7 787.7,1331.3 787.9,1205.6 788.0,1246.5 788.1,1328.8 788.2,1334.3 788.4,1330.3 788.5,1409.8 788.6,1386.0 788.8,1355.9 788.9,1192.2 789.0,1349.5 789.2,1328.8 789.3,1448.2 789.4,1250.4 789.6,1347.6 789.7,1442.7 789.8,1462.8 790.0,1241.1 790.1,1360.7 790.2,1338.7 790.3,1332.9 790.5,1213.3 790.6,1355.0 790.7,1328.2 790.9,1314.5 791.0,1446.0 791.1,1334.2 791.3,1312.3 791.4,1331.8 791.5,1333.0 791.7,1346.9 791.8,1328.9 791.9,1353.4 792.0,1326.0 792.2,1358.4 792.3,1348.9 792.4,1330.2 792.6,1329.2 792.7,1356.6 792.8,1330.8 793.0,1324.9 793.1,1324.6 793.2,1356.3 793.4,1327.4 793.5,1325.3 793.6,1339.4 793.8,1345.8 793.9,1335.9 794.0,1347.5 794.1,1217.4 794.3,1322.0 794.4,1337.3 794.5,1325.1 794.7,1188.8 794.8,1192.0 794.9,1336.9 795.1,1339.8 795.2,1327.8 795.3,1284.8 795.5,1434.1 795.6,1434.4 795.7,1236.0 795.9,1430.8 796.0,1311.4 796.1,1178.4 796.2,1249.8 796.4,1347.4 796.5,1342.4 796.6,1342.3 796.8,1314.3 796.9,1331.4 797.0,1328.6 797.2,1354.4 797.3,1331.0 797.4,1420.2 797.6,1288.2 797.7,1246.1 797.8,1394.7 797.9,1289.8 798.1,1442.6 798.2,1455.3 798.3,1403.0 798.5,1339.4 798.6,1341.4 798.7,1322.3 798.9,1274.6 799.0,1326.4 799.1,1326.3 799.3,1225.6 799.4,1333.0 799.5,1302.7 799.7,1329.4 799.8,1178.7 799.9,1284.2 800.0,1461.1 800.2,1317.7 800.3,1466.3 800.4,1324.8 800.6,1343.9 800.7,1312.8 800.8,1330.0 801.0,1326.4 801.1,1348.7 801.2,1331.6 801.4,1472.0 801.5,1455.7 801.6,1322.6 801.8,1367.8 801.9,1274.6 802.0,1315.3 802.1,1316.2 802.3,1334.6 802.4,1321.9 802.5,1335.1 802.7,1330.9 802.8,1330.7 802.9,1341.4 803.1,1329.2 803.2,1357.6 803.3,1316.7 803.5,1338.5 803.6,1367.6 803.7,1391.6 803.8,1347.9 804.0,1329.5 804.1,1348.0 804.2,1390.4 804.4,1340.6 804.5,1336.3 804.6,1337.1 804.8,1356.8 804.9,1320.2 805.0,1401.0 805.2,1249.2 805.3,1316.0 805.4,1335.3 805.6,1364.2 805.7,1392.6 805.8,1280.5 805.9,1336.5 806.1,1352.1 806.2,1451.2 806.3,1329.4 806.5,1317.7 806.6,1335.0 806.7,1325.6 806.9,1340.9 807.0,1387.9 807.1,1344.9 807.3,1314.2 807.4,1321.4 807.5,1290.8 807.7,1336.8 807.8,1315.3 807.9,1336.6 808.0,1330.3 808.2,1349.3 808.3,1355.0 808.4,1341.4 808.6,1334.9 808.7,1335.0 808.8,1445.4 809.0,1360.1 809.1,1337.2 809.2,1324.3 809.4,1343.4 809.5,1193.4 809.6,1253.2 809.8,1280.1 809.9,1350.6 810.0,1320.1 810.1,1325.0 810.3,1322.5 810.4,1319.2 810.5,1324.7 810.7,1314.4 810.8,1321.9 810.9,1262.1 811.1,1347.3 811.2,1460.4 811.3,1365.1 811.5,1336.1 811.6,1344.9 811.7,1417.8 811.8,1278.7 812.0,1273.2 812.1,1335.1 812.2,1340.1 812.4,1202.1 812.5,1339.2 812.6,1344.4 812.8,1348.5 812.9,1230.7 813.0,1339.5 813.2,1200.3 813.3,1438.4 813.4,1343.0 813.6,1324.3 813.7,1317.2 813.8,1326.6 813.9,1316.2 814.1,1332.4 814.2,1404.1 814.3,1348.9 814.5,1347.2 814.6,1322.6 814.7,1283.7 814.9,1334.1 815.0,1338.1 815.1,1318.9 815.3,1432.1 815.4,1269.9 815.5,1474.1 815.7,1360.0 815.8,1359.2 815.9,1331.6 816.0,1252.3 816.2,1324.5 816.3,1354.2 816.4,1255.6 816.6,1315.9 816.7,1329.1 816.8,1417.2 817.0,1422.7 817.1,1327.4 817.2,1327.9 817.4,1233.0 817.5,1357.5 817.6,1241.4 817.7,1448.7 817.9,1360.8 818.0,1353.4 818.1,1280.3 818.3,1369.9 818.4,1347.5 818.5,1257.6 818.7,1286.2 818.8,1344.4 818.9,1191.5 819.1,1348.6 819.2,1336.4 819.3,1326.7 819.5,1333.4 819.6,1308.7 819.7,1342.5 819.8,1342.0 820.0,1194.3 820.1,1322.3 820.2,1353.9 820.4,1275.8 820.5,1347.1 820.6,1343.1 820.8,1350.0 820.9,1332.3 821.0,1333.3 821.2,1332.1 821.3,1351.3 821.4,1340.0 821.6,1336.4 821.7,1331.3 821.8,1341.3 821.9,1344.6 822.1,1342.1 822.2,1343.0 822.3,1331.9 822.5,1327.3 822.6,1346.1 822.7,1337.9 822.9,1334.3 823.0,1334.2 823.1,1322.1 823.3,1332.4 823.4,1333.8 823.5,1333.4 823.6,1334.3 823.8,1344.6 823.9,1336.2 824.0,1336.8 824.2,1347.3 824.3,1346.1 824.4,1333.0 824.6,1338.9 824.7,1336.4 824.8,1328.8 825.0,1338.4 825.1,1334.3 825.2,1339.7 825.4,1359.0 825.5,1333.9 825.6,1350.1 825.7,1335.3 825.9,1325.2 826.0,1349.3 826.1,1332.4 826.3,1327.1 826.4,1340.9 826.5,1344.0 826.7,1353.8 826.8,1342.7 826.9,1330.0 827.1,1339.5 827.2,1418.4 827.3,1468.0 827.5,1194.8 827.6,1324.7 827.7,1276.8 827.8,1333.2 828.0,1340.6 828.1,1315.8 828.2,1454.2 828.4,1339.7 828.5,1344.9 828.6,1342.4 828.8,1338.6 828.9,1340.1 829.0,1329.1 829.2,1324.9 829.3,1331.1 829.4,1343.6 829.6,1328.4 829.7,1332.7 829.8,1330.5 829.9,1332.0 830.1,1338.6 830.2,1322.6 830.3,1329.4 830.5,1331.4 830.6,1341.0 830.7,1338.1 830.9,1337.0 831.0,1340.8 831.1,1327.7 831.3,1337.0 831.4,1350.3 831.5,1329.2 831.6,1347.1 831.8,1324.9 831.9,1330.4 832.0,1333.8 832.2,1323.7 832.3,1332.9 832.4,1333.2 832.6,1340.4 832.7,1335.1 832.8,1346.9 833.0,1336.0" fill="none" stroke="#0a64b0" stroke-width="0.8" stroke-linejoin="miter" stroke-opacity="0.92"/>
<line x1="636.4" y1="1340.1" x2="833.0" y2="1335.2" stroke="#d03b3b" stroke-width="1.0"/>
<rect x="636.4" y="1174.3" width="245.70" height="307.20" fill="none" stroke="#a3a3a3" stroke-width="1.1"/>
<line x1="636.4" y1="1474.58" x2="639.9" y2="1474.58" stroke="#a3a3a3" stroke-width="1"/>
<line x1="882.1" y1="1474.58" x2="878.6" y2="1474.58" stroke="#a3a3a3" stroke-width="1"/>
<line x1="636.4" y1="1425.68" x2="639.9" y2="1425.68" stroke="#a3a3a3" stroke-width="1"/>
<line x1="882.1" y1="1425.68" x2="878.6" y2="1425.68" stroke="#a3a3a3" stroke-width="1"/>
<line x1="636.4" y1="1376.79" x2="639.9" y2="1376.79" stroke="#a3a3a3" stroke-width="1"/>
<line x1="882.1" y1="1376.79" x2="878.6" y2="1376.79" stroke="#a3a3a3" stroke-width="1"/>
<line x1="636.4" y1="1327.90" x2="639.9" y2="1327.90" stroke="#a3a3a3" stroke-width="1"/>
<line x1="882.1" y1="1327.90" x2="878.6" y2="1327.90" stroke="#a3a3a3" stroke-width="1"/>
<line x1="636.4" y1="1279.01" x2="639.9" y2="1279.01" stroke="#a3a3a3" stroke-width="1"/>
<line x1="882.1" y1="1279.01" x2="878.6" y2="1279.01" stroke="#a3a3a3" stroke-width="1"/>
<line x1="636.4" y1="1230.12" x2="639.9" y2="1230.12" stroke="#a3a3a3" stroke-width="1"/>
<line x1="882.1" y1="1230.12" x2="878.6" y2="1230.12" stroke="#a3a3a3" stroke-width="1"/>
<line x1="636.4" y1="1181.22" x2="639.9" y2="1181.22" stroke="#a3a3a3" stroke-width="1"/>
<line x1="882.1" y1="1181.22" x2="878.6" y2="1181.22" stroke="#a3a3a3" stroke-width="1"/>
<line x1="718.30" y1="1481.5" x2="718.30" y2="1478.0" stroke="#a3a3a3" stroke-width="1"/>
<line x1="718.30" y1="1174.3" x2="718.30" y2="1177.8" stroke="#a3a3a3" stroke-width="1"/>
<line x1="800.20" y1="1481.5" x2="800.20" y2="1478.0" stroke="#a3a3a3" stroke-width="1"/>
<line x1="800.20" y1="1174.3" x2="800.20" y2="1177.8" stroke="#a3a3a3" stroke-width="1"/>
<text x="712.46" y="1500.30" font-size="22.50" textLength="11.25" lengthAdjust="spacingAndGlyphs" fill="#303030">5</text>
<text x="788.39" y="1500.30" font-size="22.50" textLength="22.50" lengthAdjust="spacingAndGlyphs" fill="#303030">10</text>
<text x="870.30" y="1500.30" font-size="22.50" textLength="22.50" lengthAdjust="spacingAndGlyphs" fill="#303030">15</text>
<text x="883.29" y="1510.00" font-size="13.50" textLength="8.60" lengthAdjust="spacingAndGlyphs" fill="#262626">×</text>
<text x="892.56" y="1512.50" font-size="14.00" textLength="14.07" lengthAdjust="spacingAndGlyphs" fill="#262626">10</text>
<text x="906.01" y="1508.30" font-size="11.50" textLength="6.17" lengthAdjust="spacingAndGlyphs" fill="#262626">3</text>
<rect x="918.5" y="729.6" width="243.00" height="306.90" fill="#fff"/>
<polyline points="918.5,887.3 918.6,966.8 918.8,1019.0 918.9,844.7 919.0,730.7 919.1,1032.4 919.3,813.9 919.4,996.3 919.5,923.9 919.7,869.6 919.8,842.7 919.9,824.1 920.1,836.3 920.2,951.0 920.3,880.1 920.4,739.8 920.6,789.3 920.7,951.2 920.8,1002.9 921.0,960.3 921.1,845.2 921.2,953.1 921.3,875.7 921.5,960.3 921.6,982.5 921.7,842.5 921.9,847.0 922.0,900.1 922.1,840.3 922.2,879.5 922.4,1015.7 922.5,819.2 922.6,842.6 922.8,860.7 922.9,857.7 923.0,855.5 923.2,760.0 923.3,898.6 923.4,846.6 923.5,852.9 923.7,834.3 923.8,837.4 923.9,999.8 924.1,806.6 924.2,781.9 924.3,969.8 924.4,848.5 924.6,816.7 924.7,842.9 924.8,846.5 925.0,873.9 925.1,800.3 925.2,813.3 925.4,874.5 925.5,841.3 925.6,971.4 925.7,964.1 925.9,789.3 926.0,909.7 926.1,860.9 926.3,860.0 926.4,865.8 926.5,793.5 926.6,845.5 926.8,912.1 926.9,838.5 927.0,849.8 927.2,768.7 927.3,851.5 927.4,875.9 927.5,879.1 927.7,997.5 927.8,1030.9 927.9,958.0 928.1,989.7 928.2,853.0 928.3,917.5 928.5,842.6 928.6,844.8 928.7,828.1 928.8,841.4 929.0,845.7 929.1,869.3 929.2,851.6 929.4,903.1 929.5,893.8 929.6,840.6 929.7,830.2 929.9,856.7 930.0,793.6 930.1,844.3 930.3,843.0 930.4,847.1 930.5,827.1 930.6,843.5 930.8,969.9 930.9,839.9 931.0,730.4 931.2,769.7 931.3,818.8 931.4,871.9 931.6,840.6 931.7,855.4 931.8,854.8 931.9,876.3 932.1,826.3 932.2,859.0 932.3,831.8 932.5,844.6 932.6,953.4 932.7,845.0 932.8,869.8 933.0,942.0 933.1,950.8 933.2,848.1 933.4,843.1 933.5,844.2 933.6,867.0 933.8,847.6 933.9,845.3 934.0,945.6 934.1,840.7 934.3,863.3 934.4,857.2 934.5,841.5 934.7,859.3 934.8,863.9 934.9,870.3 935.0,846.4 935.2,845.0 935.3,825.9 935.4,1010.2 935.6,934.5 935.7,859.6 935.8,849.8 935.9,857.1 936.1,869.7 936.2,855.4 936.3,1027.1 936.5,851.1 936.6,887.8 936.7,836.4 936.9,741.0 937.0,980.6 937.1,852.7 937.2,840.3 937.4,740.4 937.5,863.2 937.6,849.9 937.8,828.2 937.9,797.6 938.0,844.7 938.1,855.0 938.3,842.8 938.4,852.1 938.5,862.9 938.7,837.3 938.8,921.3 938.9,833.3 939.1,836.4 939.2,979.7 939.3,842.7 939.4,840.9 939.6,859.8 939.7,741.6 939.8,856.2 940.0,858.9 940.1,981.6 940.2,842.1 940.3,857.7 940.5,833.9 940.6,899.5 940.7,816.3 940.9,858.4 941.0,863.1 941.1,920.6 941.2,893.8 941.4,881.9 941.5,926.7 941.6,859.7 941.8,744.0 941.9,838.2 942.0,817.2 942.2,850.2 942.3,861.9 942.4,865.4 942.5,873.2 942.7,846.0 942.8,977.5 942.9,870.0 943.1,1025.7 943.2,764.7 943.3,869.2 943.4,738.2 943.6,839.4 943.7,839.5 943.8,758.5 944.0,843.1 944.1,870.8 944.2,862.1 944.4,845.0 944.5,870.9 944.6,988.8 944.7,788.2 944.9,759.3 945.0,862.3 945.1,731.6 945.3,794.6 945.4,852.1 945.5,860.7 945.6,1001.1 945.8,853.3 945.9,849.5 946.0,841.1 946.2,844.2 946.3,863.3 946.4,859.7 946.5,851.3 946.7,967.7 946.8,982.6 946.9,852.6 947.1,877.4 947.2,845.6 947.3,1019.4 947.5,853.7 947.6,993.3 947.7,942.5 947.8,1002.0 948.0,818.9 948.1,815.2 948.2,835.3 948.4,854.6 948.5,852.7 948.6,863.5 948.7,836.2 948.9,857.8 949.0,912.1 949.1,799.7 949.3,853.1 949.4,854.7 949.5,856.4 949.7,844.0 949.8,830.5 949.9,871.6 950.0,753.5 950.2,857.6 950.3,847.8 950.4,846.7 950.6,871.8 950.7,1006.7 950.8,963.4 950.9,990.3 951.1,853.9 951.2,856.7 951.3,912.1 951.5,858.3 951.6,862.6 951.7,859.7 951.8,851.1 952.0,920.1 952.1,916.9 952.2,842.3 952.4,925.1 952.5,857.0 952.6,868.2 952.8,840.4 952.9,862.8 953.0,857.7 953.1,867.6 953.3,849.9 953.4,840.5 953.5,864.0 953.7,1006.9 953.8,762.2 953.9,779.1 954.0,854.7 954.2,836.0 954.3,848.4 954.4,855.9 954.6,856.0 954.7,848.9 954.8,854.4 954.9,847.3 955.1,855.7 955.2,865.7 955.3,854.3 955.5,846.9 955.6,853.7 955.7,869.7 955.9,851.6 956.0,995.8 956.1,1022.5 956.2,934.0 956.4,969.3 956.5,966.6 956.6,963.2 956.8,1023.6 956.9,837.6 957.0,855.7 957.1,775.6 957.3,893.0 957.4,916.1 957.5,812.7 957.7,863.9 957.8,865.7 957.9,859.1 958.1,856.1 958.2,854.8 958.3,863.2 958.4,858.6 958.6,1011.1 958.7,852.8 958.8,839.0 959.0,854.7 959.1,856.9 959.2,849.5 959.3,854.1 959.5,851.3 959.6,857.3 959.7,861.6 959.9,867.7 960.0,849.2 960.1,843.1 960.2,875.2 960.4,846.5 960.5,840.6 960.6,856.5 960.8,856.1 960.9,861.5 961.0,856.6 961.2,866.5 961.3,853.1 961.4,862.8 961.5,854.1 961.7,854.1 961.8,854.9 961.9,849.7 962.1,858.1 962.2,898.5 962.3,741.1 962.4,878.5 962.6,866.3 962.7,890.3 962.8,838.1 963.0,850.1 963.1,884.1 963.2,874.4 963.4,864.6 963.5,992.1 963.6,837.4 963.7,851.4 963.9,891.5 964.0,876.8 964.1,879.9 964.3,868.1 964.4,843.1 964.5,855.5 964.6,957.8 964.8,980.1 964.9,877.1 965.0,983.8 965.2,978.2 965.3,854.5 965.4,860.6 965.5,865.6 965.7,860.8 965.8,856.7 965.9,853.9 966.1,790.7 966.2,951.6 966.3,871.3 966.5,843.9 966.6,839.7 966.7,930.9 966.8,802.5 967.0,740.7 967.1,798.5 967.2,875.1 967.4,835.3 967.5,751.3 967.6,830.8 967.7,874.4 967.9,837.3 968.0,866.2 968.1,813.6 968.3,987.5 968.4,868.8 968.5,853.4 968.7,842.5 968.8,848.6 968.9,874.3 969.0,851.0 969.2,799.0 969.3,849.4 969.4,854.2 969.6,873.8 969.7,973.9 969.8,861.4 969.9,836.7 970.1,865.9 970.2,789.9 970.3,855.9 970.5,798.6 970.6,864.5 970.7,809.7 970.8,827.8 971.0,855.4 971.1,841.3 971.2,877.5 971.4,1020.6 971.5,919.4 971.6,959.4 971.8,764.7 971.9,844.0 972.0,864.0 972.1,846.4 972.3,857.4 972.4,865.2 972.5,826.7 972.7,849.5 972.8,858.4 972.9,871.8 973.0,877.7 973.2,868.8 973.3,842.8 973.4,876.4 973.6,838.8 973.7,846.7 973.8,861.5 974.0,735.4 974.1,830.2 974.2,871.8 974.3,831.3 974.5,858.7 974.6,858.0 974.7,854.3 974.9,844.1 975.0,948.7 975.1,913.1 975.2,869.2 975.4,756.4 975.5,875.4 975.6,964.4 975.8,948.1 975.9,817.7 976.0,763.6 976.1,866.3 976.3,867.1 976.4,806.5 976.5,882.2 976.7,874.0 976.8,866.3 976.9,889.9 977.1,856.7 977.2,956.6 977.3,782.2 977.4,793.8 977.6,973.7 977.7,1012.3 977.8,749.3 978.0,907.5 978.1,989.9 978.2,874.2 978.3,861.5 978.5,850.8 978.6,935.5 978.7,955.7 978.9,747.3 979.0,881.1 979.1,972.7 979.2,872.8 979.4,840.9 979.5,855.4 979.6,867.9 979.8,935.0 979.9,811.6 980.0,735.5 980.2,844.0 980.3,874.0 980.4,870.9 980.5,784.0 980.7,927.5 980.8,808.3 980.9,862.9 981.1,847.3 981.2,885.7 981.3,925.3 981.4,808.3 981.6,975.1 981.7,912.4 981.8,857.1 982.0,849.6 982.1,980.9 982.2,968.4 982.4,782.5 982.5,830.9 982.6,867.2 982.7,841.7 982.9,884.5 983.0,753.9 983.1,850.5 983.3,866.5 983.4,846.9 983.5,869.1 983.6,873.4 983.8,849.5 983.9,1019.7 984.0,995.8 984.2,849.0 984.3,871.4 984.4,865.3 984.5,917.8 984.7,1035.6 984.8,854.6 984.9,1003.9 985.1,775.8 985.2,935.0 985.3,772.2 985.5,873.7 985.6,975.4 985.7,822.8 985.8,960.8 986.0,740.0 986.1,1027.4 986.2,965.1 986.4,798.0 986.5,829.2 986.6,775.7 986.7,822.8 986.9,875.4 987.0,800.4 987.1,749.7 987.3,802.6 987.4,993.4 987.5,833.8 987.7,811.1 987.8,862.1 987.9,869.4 988.0,887.5 988.2,862.2 988.3,942.4 988.4,850.1 988.6,863.6 988.7,865.1 988.8,742.5 988.9,854.9 989.1,916.3 989.2,861.6 989.3,863.3 989.5,948.4 989.6,861.0 989.7,835.8 989.8,891.9 990.0,869.4 990.1,867.0 990.2,872.6 990.4,859.8 990.5,886.6 990.6,865.2 990.8,834.5 990.9,864.2 991.0,881.0 991.1,879.7 991.3,841.0 991.4,863.6 991.5,865.2 991.7,838.4 991.8,847.3 991.9,863.5 992.0,866.2 992.2,871.2 992.3,852.0 992.4,860.8 992.6,847.5 992.7,888.3 992.8,860.5 993.0,872.3 993.1,872.3 993.2,851.4 993.3,875.0 993.5,946.8 993.6,873.8 993.7,849.6 993.9,865.0 994.0,858.3 994.1,847.7 994.2,856.5 994.4,862.7 994.5,867.6 994.6,885.1 994.8,861.7 994.9,867.3 995.0,868.7 995.1,859.2 995.3,866.2 995.4,863.9 995.5,860.8 995.7,844.9 995.8,895.7 995.9,862.7 996.1,894.2 996.2,877.0 996.3,871.9 996.4,839.9 996.6,858.5 996.7,873.3 996.8,758.3 997.0,912.8 997.1,767.6 997.2,1025.2 997.3,873.6 997.5,870.6 997.6,843.7 997.7,840.5 997.9,866.5 998.0,870.4 998.1,875.9 998.2,742.4 998.4,865.4 998.5,852.3 998.6,854.3 998.8,854.5 998.9,854.8 999.0,864.0 999.2,862.2 999.3,875.6 999.4,1032.2 999.5,842.8 999.7,863.3 999.8,863.7 999.9,878.8 1000.1,869.1 1000.2,876.1 1000.3,859.1 1000.4,864.2 1000.6,859.9 1000.7,873.2 1000.8,863.7 1001.0,864.3 1001.1,875.9 1001.2,840.6 1001.4,867.2 1001.5,864.7 1001.6,877.1 1001.7,872.8 1001.9,853.4 1002.0,870.7 1002.1,863.7 1002.3,846.7 1002.4,859.1 1002.5,871.5 1002.6,875.0 1002.8,858.7 1002.9,872.6 1003.0,849.2 1003.2,860.8 1003.3,794.0 1003.4,945.2 1003.5,735.0 1003.7,924.4 1003.8,733.3 1003.9,927.1 1004.1,860.7 1004.2,866.1 1004.3,1015.7 1004.5,887.2 1004.6,851.1 1004.7,951.5 1004.8,870.6 1005.0,901.0 1005.1,865.8 1005.2,877.9 1005.4,904.4 1005.5,871.4 1005.6,862.2 1005.7,872.6 1005.9,783.1 1006.0,1018.3 1006.1,850.4 1006.3,736.3 1006.4,932.6 1006.5,879.7 1006.7,993.0 1006.8,998.1 1006.9,1013.5 1007.0,946.9 1007.2,1019.0 1007.3,859.6 1007.4,875.3 1007.6,772.0 1007.7,974.6 1007.8,1007.2 1007.9,868.4 1008.1,846.2 1008.2,982.2 1008.3,853.6 1008.5,904.5 1008.6,943.4 1008.7,748.7 1008.8,852.0 1009.0,847.9 1009.1,858.0 1009.2,860.7 1009.4,893.6 1009.5,774.5 1009.6,872.1 1009.8,884.3 1009.9,805.5 1010.0,855.8 1010.1,977.8 1010.3,856.9 1010.4,911.0 1010.5,921.9 1010.7,871.2 1010.8,894.0 1010.9,916.3 1011.0,877.2 1011.2,870.5 1011.3,858.6 1011.4,834.0 1011.6,980.4 1011.7,762.8 1011.8,867.2 1012.0,851.4 1012.1,991.9 1012.2,876.7 1012.3,871.6 1012.5,914.5 1012.6,834.7 1012.7,1032.0 1012.9,968.4 1013.0,945.8 1013.1,903.3 1013.2,859.1 1013.4,867.4 1013.5,864.7 1013.6,849.7 1013.8,843.5 1013.9,872.7 1014.0,865.7 1014.1,889.1 1014.3,863.0 1014.4,857.9 1014.5,885.3 1014.7,799.6 1014.8,862.9 1014.9,967.1 1015.1,873.1 1015.2,1017.1 1015.3,881.5 1015.4,867.0 1015.6,852.2 1015.7,873.3 1015.8,852.4 1016.0,1009.2 1016.1,946.6 1016.2,848.3 1016.3,867.3 1016.5,784.3 1016.6,948.1 1016.7,901.6 1016.9,927.4 1017.0,880.4 1017.1,870.5 1017.3,957.6 1017.4,850.6 1017.5,877.4 1017.6,869.9 1017.8,998.6 1017.9,821.2 1018.0,882.8 1018.2,855.0 1018.3,858.9 1018.4,804.4 1018.5,918.4 1018.7,854.4 1018.8,853.5 1018.9,751.7 1019.1,847.9 1019.2,910.2 1019.3,873.7 1019.4,926.8 1019.6,872.1 1019.7,943.7 1019.8,860.3 1020.0,748.5 1020.1,882.1 1020.2,866.0 1020.4,777.8 1020.5,1016.6 1020.6,876.2 1020.7,860.2 1020.9,901.9 1021.0,851.9 1021.1,802.7 1021.3,864.9 1021.4,766.6 1021.5,861.5 1021.6,879.7 1021.8,740.9 1021.9,887.1 1022.0,959.0 1022.2,940.7 1022.3,826.9 1022.4,749.5 1022.5,826.9 1022.7,863.5 1022.8,771.7 1022.9,865.8 1023.1,868.0 1023.2,863.8 1023.3,858.4 1023.5,922.9 1023.6,936.6 1023.7,974.2 1023.8,940.9 1024.0,1000.8 1024.1,884.8 1024.2,995.3 1024.4,856.6 1024.5,908.6 1024.6,747.9 1024.7,942.1 1024.9,964.0 1025.0,882.7 1025.1,1024.5 1025.3,810.9 1025.4,877.3 1025.5,769.3 1025.7,863.4 1025.8,847.0 1025.9,864.9 1026.0,873.0 1026.2,864.3 1026.3,853.6 1026.4,871.6 1026.6,951.6 1026.7,880.9 1026.8,856.6 1026.9,800.5 1027.1,853.0 1027.2,852.3 1027.3,872.7 1027.5,855.3 1027.6,858.3 1027.7,824.9 1027.8,875.8 1028.0,854.2 1028.1,869.9 1028.2,864.1 1028.4,906.0 1028.5,843.9 1028.6,899.5 1028.8,867.6 1028.9,1013.0 1029.0,860.9 1029.1,864.7 1029.3,840.1 1029.4,864.3 1029.5,872.3 1029.7,836.0 1029.8,853.6 1029.9,860.4 1030.0,863.6 1030.2,929.3 1030.3,1010.9 1030.4,749.9 1030.6,958.4 1030.7,875.3 1030.8,868.0 1031.0,875.4 1031.1,871.6 1031.2,822.9 1031.3,881.2 1031.5,731.8 1031.6,901.8 1031.7,807.6 1031.9,849.6 1032.0,998.3 1032.1,801.4 1032.2,832.9 1032.4,920.0 1032.5,872.4 1032.6,870.6 1032.8,859.4 1032.9,868.1 1033.0,876.0 1033.1,866.0 1033.3,885.3 1033.4,1012.5 1033.5,892.1 1033.7,882.6 1033.8,959.9 1033.9,876.1 1034.1,861.8 1034.2,852.6 1034.3,872.5 1034.4,866.8 1034.6,865.5 1034.7,888.2 1034.8,863.5 1035.0,868.4 1035.1,878.8 1035.2,871.7 1035.3,865.1 1035.5,881.0 1035.6,872.5 1035.7,880.7 1035.9,857.3 1036.0,882.0 1036.1,886.8 1036.3,730.4 1036.4,819.3 1036.5,990.2 1036.6,903.1 1036.8,856.0 1036.9,862.1 1037.0,741.9 1037.2,855.1 1037.3,881.0 1037.4,873.4 1037.5,869.6 1037.7,876.3 1037.8,990.3 1037.9,873.1 1038.1,786.4 1038.2,787.4 1038.3,1035.8 1038.4,884.4 1038.6,867.4 1038.7,872.7 1038.8,872.7 1039.0,869.8 1039.1,869.9 1039.2,874.7 1039.4,857.4 1039.5,858.1 1039.6,876.9 1039.7,813.9 1039.9,793.7 1040.0,739.2 1040.1,872.9 1040.3,967.5 1040.4,893.6 1040.5,892.5 1040.6,796.6 1040.8,869.8 1040.9,855.0 1041.0,861.2 1041.2,854.9 1041.3,854.8 1041.4,886.4 1041.5,866.1 1041.7,864.2 1041.8,860.6 1041.9,885.3 1042.1,730.9 1042.2,867.9 1042.3,1007.8 1042.5,951.0 1042.6,880.4 1042.7,862.7 1042.8,861.4 1043.0,937.2 1043.1,983.9 1043.2,863.1 1043.4,990.8 1043.5,869.5 1043.6,802.0 1043.7,852.7 1043.9,957.5 1044.0,1012.6 1044.1,879.3 1044.3,843.3 1044.4,789.5 1044.5,876.3 1044.7,966.4 1044.8,855.5 1044.9,868.3 1045.0,869.3 1045.2,890.3 1045.3,775.6 1045.4,889.7 1045.6,924.6 1045.7,748.5 1045.8,864.7 1045.9,1001.3 1046.1,865.1 1046.2,744.2 1046.3,863.7 1046.5,763.4 1046.6,880.0 1046.7,862.5 1046.8,865.7 1047.0,864.0 1047.1,983.2 1047.2,866.6 1047.4,742.6 1047.5,861.7 1047.6,876.9 1047.8,869.5 1047.9,882.0 1048.0,860.3 1048.1,1023.5 1048.3,919.4 1048.4,768.6 1048.5,984.5 1048.7,867.5 1048.8,784.7 1048.9,871.9 1049.0,880.5 1049.2,887.2 1049.3,868.0 1049.4,875.0 1049.6,885.3 1049.7,884.7 1049.8,870.2 1050.0,862.6 1050.1,886.5 1050.2,843.1 1050.3,893.6 1050.5,882.7 1050.6,941.7 1050.7,755.0 1050.9,869.2 1051.0,972.2 1051.1,1025.4 1051.2,908.7 1051.4,845.8 1051.5,869.6 1051.6,822.3 1051.8,867.8 1051.9,998.6 1052.0,738.1 1052.1,865.5 1052.3,863.5 1052.4,1004.1 1052.5,830.9 1052.7,997.7 1052.8,857.5 1052.9,861.5 1053.1,835.5 1053.2,855.7 1053.3,863.1 1053.4,884.2 1053.6,865.1 1053.7,899.2 1053.8,878.6 1054.0,864.6 1054.1,859.3 1054.2,878.6 1054.3,867.0 1054.5,859.9 1054.6,776.9 1054.7,799.7 1054.9,934.0 1055.0,898.5 1055.1,882.0 1055.3,892.5 1055.4,857.7 1055.5,870.3 1055.6,751.5 1055.8,878.5 1055.9,820.4 1056.0,1004.0 1056.2,883.6 1056.3,994.9 1056.4,983.1 1056.5,904.5 1056.7,880.4 1056.8,870.6 1056.9,875.1 1057.1,787.1 1057.2,876.6 1057.3,850.5 1057.4,1006.7 1057.6,781.6 1057.7,885.4 1057.8,746.1 1058.0,860.1 1058.1,1035.1 1058.2,899.5 1058.4,850.7 1058.5,870.0 1058.6,987.8 1058.7,865.4 1058.9,867.2 1059.0,859.5 1059.1,859.5 1059.3,909.8 1059.4,971.0 1059.5,862.6 1059.6,882.1 1059.8,767.1 1059.9,839.6 1060.0,905.9 1060.2,868.5 1060.3,880.5 1060.4,874.2 1060.6,881.5 1060.7,916.0 1060.8,966.2 1060.9,979.1 1061.1,783.4 1061.2,759.1 1061.3,956.3 1061.5,875.5 1061.6,888.3 1061.7,865.9 1061.8,929.2 1062.0,930.4 1062.1,888.2 1062.2,987.7 1062.4,887.0 1062.5,891.9 1062.6,874.1 1062.7,881.9 1062.9,886.5 1063.0,943.2 1063.1,855.4 1063.3,963.5 1063.4,885.8 1063.5,870.8 1063.7,856.8 1063.8,868.4 1063.9,738.1 1064.0,794.7 1064.2,784.3 1064.3,880.9 1064.4,863.6 1064.6,893.0 1064.7,884.7 1064.8,780.3 1064.9,884.3 1065.1,879.6 1065.2,880.9 1065.3,886.5 1065.5,872.9 1065.6,864.9 1065.7,864.0 1065.8,878.8 1066.0,876.4 1066.1,875.6 1066.2,858.6 1066.4,871.8 1066.5,886.5 1066.6,879.8 1066.8,882.6 1066.9,872.3 1067.0,875.2 1067.1,870.3 1067.3,999.6 1067.4,881.3 1067.5,776.3 1067.7,886.1 1067.8,867.5 1067.9,867.4 1068.0,893.9 1068.2,871.0 1068.3,765.2 1068.4,871.1 1068.6,744.4 1068.7,792.4 1068.8,877.4 1069.0,757.0 1069.1,860.0 1069.2,866.9 1069.3,746.4 1069.5,924.3 1069.6,891.2 1069.7,855.2 1069.9,868.4 1070.0,936.1 1070.1,875.9 1070.2,1022.3 1070.4,863.4 1070.5,883.7 1070.6,854.8 1070.8,876.4 1070.9,874.5 1071.0,867.7 1071.1,765.8 1071.3,830.6 1071.4,747.9 1071.5,819.7 1071.7,943.3 1071.8,871.9 1071.9,864.8 1072.1,882.5 1072.2,879.8 1072.3,885.5 1072.4,1006.7 1072.6,889.7 1072.7,923.7 1072.8,894.1 1073.0,840.5 1073.1,756.1 1073.2,885.1 1073.3,888.1 1073.5,756.1 1073.6,736.8 1073.7,874.9 1073.9,844.0 1074.0,884.7 1074.1,884.6 1074.3,889.4 1074.4,870.6 1074.5,858.6 1074.6,865.8 1074.8,881.6 1074.9,859.5 1075.0,790.7 1075.2,862.8 1075.3,930.7 1075.4,890.4 1075.5,865.1 1075.7,779.0 1075.8,925.0 1075.9,886.7 1076.1,858.1 1076.2,876.7 1076.3,754.7 1076.4,872.0 1076.6,871.0 1076.7,749.7 1076.8,789.8 1077.0,874.4 1077.1,951.6 1077.2,877.7 1077.4,759.5 1077.5,754.7 1077.6,871.9 1077.7,894.2 1077.9,866.7 1078.0,867.7 1078.1,870.1 1078.3,901.1 1078.4,874.9 1078.5,764.8 1078.6,906.0 1078.8,880.5 1078.9,1023.6 1079.0,860.7 1079.2,974.1 1079.3,876.4 1079.4,863.9 1079.6,866.6 1079.7,884.4 1079.8,990.4 1079.9,875.6 1080.1,881.6 1080.2,1010.7 1080.3,913.5 1080.5,874.3 1080.6,888.7 1080.7,867.6 1080.8,854.2 1081.0,895.3 1081.1,911.2 1081.2,897.8 1081.4,882.8 1081.5,859.5 1081.6,815.9 1081.7,798.6 1081.9,1021.1 1082.0,733.1 1082.1,881.6 1082.3,1026.2 1082.4,810.1 1082.5,1025.3 1082.7,865.0 1082.8,878.3 1082.9,812.6 1083.0,847.7 1083.2,865.3 1083.3,1013.8 1083.4,903.6 1083.6,808.9 1083.7,862.7 1083.8,860.5 1083.9,878.1 1084.1,868.5 1084.2,880.2 1084.3,987.1 1084.5,882.4 1084.6,972.6 1084.7,852.2 1084.9,808.4 1085.0,879.4 1085.1,911.1 1085.2,822.7 1085.4,927.3 1085.5,944.3 1085.6,777.4 1085.8,895.0 1085.9,861.1 1086.0,873.7 1086.1,891.2 1086.3,780.8 1086.4,864.4 1086.5,869.5 1086.7,946.8 1086.8,974.8 1086.9,901.3 1087.0,1004.2 1087.2,740.4 1087.3,880.5 1087.4,762.7 1087.6,874.1 1087.7,884.3 1087.8,878.0 1088.0,878.9 1088.1,889.5 1088.2,879.0 1088.3,875.9 1088.5,816.8 1088.6,748.0 1088.7,747.7 1088.9,1007.0 1089.0,876.9 1089.1,883.1 1089.2,895.4 1089.4,903.8 1089.5,895.6 1089.6,851.2 1089.8,897.3 1089.9,835.2 1090.0,890.6 1090.1,884.6 1090.3,899.2 1090.4,895.7 1090.5,838.0 1090.7,1030.9 1090.8,884.3 1090.9,940.4 1091.1,901.8 1091.2,878.9 1091.3,891.9 1091.4,914.5 1091.6,907.5 1091.7,990.6 1091.8,912.1 1092.0,885.0 1092.1,890.2 1092.2,878.1 1092.3,761.2 1092.5,854.7 1092.6,873.9 1092.7,936.3 1092.9,848.6 1093.0,874.4 1093.1,1035.7 1093.3,882.7 1093.4,857.1 1093.5,876.0 1093.6,901.8 1093.8,888.1 1093.9,892.0 1094.0,846.1 1094.2,887.7 1094.3,877.1 1094.4,878.4 1094.5,869.2 1094.7,870.3 1094.8,884.0 1094.9,881.7 1095.1,873.0 1095.2,899.9 1095.3,868.6 1095.4,883.2 1095.6,870.4 1095.7,901.2 1095.8,863.9 1096.0,892.6 1096.1,861.7 1096.2,874.2 1096.4,1007.6 1096.5,878.0 1096.6,893.7 1096.7,885.0 1096.9,880.1 1097.0,805.7 1097.1,971.8 1097.3,876.5 1097.4,1026.1 1097.5,880.3 1097.6,869.1 1097.8,883.2 1097.9,934.9 1098.0,785.0 1098.2,901.1 1098.3,941.1 1098.4,870.9 1098.6,1016.4 1098.7,767.0 1098.8,838.8 1098.9,882.9 1099.1,871.3 1099.2,892.7 1099.3,879.1 1099.5,869.4 1099.6,875.7 1099.7,874.8 1099.8,871.8 1100.0,892.1 1100.1,879.5 1100.2,883.7 1100.4,861.2 1100.5,880.8 1100.6,886.8 1100.7,1000.6 1100.9,937.0 1101.0,893.9 1101.1,881.0 1101.3,882.3 1101.4,874.2 1101.5,864.9 1101.7,882.5 1101.8,884.6 1101.9,894.4 1102.0,875.5 1102.2,873.6 1102.3,893.7 1102.4,889.9 1102.6,874.1 1102.7,860.8 1102.8,882.5 1102.9,881.2 1103.1,889.5 1103.2,826.5 1103.3,867.4 1103.5,865.6 1103.6,874.1 1103.7,871.7 1103.9,879.6 1104.0,986.1 1104.1,873.7 1104.2,878.1 1104.4,869.4 1104.5,887.7 1104.6,865.6 1104.8,864.5 1104.9,871.6 1105.0,881.1 1105.1,886.1 1105.3,870.3 1105.4,877.5 1105.5,878.6 1105.7,896.9 1105.8,836.1 1105.9,907.0 1106.0,876.0 1106.2,874.9 1106.3,878.3 1106.4,901.2 1106.6,870.3 1106.7,888.5 1106.8,901.6 1107.0,852.8 1107.1,874.2 1107.2,903.1 1107.3,880.3 1107.5,857.8 1107.6,866.6 1107.7,901.9 1107.9,824.9 1108.0,865.0 1108.1,871.9 1108.2,969.4 1108.4,896.7 1108.5,866.9 1108.6,892.2 1108.8,788.7 1108.9,874.1 1109.0,892.9 1109.1,879.3 1109.3,900.7 1109.4,911.4 1109.5,872.2 1109.7,896.8 1109.8,872.3 1109.9,882.5 1110.1,894.1 1110.2,978.1 1110.3,762.2 1110.4,886.4 1110.6,951.9 1110.7,873.9 1110.8,859.6 1111.0,888.1 1111.1,894.2 1111.2,890.3 1111.3,875.9 1111.5,899.0 1111.6,883.1 1111.7,882.8 1111.9,894.8 1112.0,887.4 1112.1,1003.3 1112.3,871.3" fill="none" stroke="#0a64b0" stroke-width="0.8" stroke-linejoin="miter" stroke-opacity="0.92"/>
<line x1="918.5" y1="848.9" x2="1112.3" y2="882.1" stroke="#f01a1a" stroke-width="2.6"/>
<rect x="918.5" y="729.6" width="243.00" height="306.90" fill="none" stroke="#a3a3a3" stroke-width="1.1"/>
<line x1="918.5" y1="1029.58" x2="922.0" y2="1029.58" stroke="#a3a3a3" stroke-width="1"/>
<line x1="1161.5" y1="1029.58" x2="1158.0" y2="1029.58" stroke="#a3a3a3" stroke-width="1"/>
<line x1="918.5" y1="980.74" x2="922.0" y2="980.74" stroke="#a3a3a3" stroke-width="1"/>
<line x1="1161.5" y1="980.74" x2="1158.0" y2="980.74" stroke="#a3a3a3" stroke-width="1"/>
<line x1="918.5" y1="931.89" x2="922.0" y2="931.89" stroke="#a3a3a3" stroke-width="1"/>
<line x1="1161.5" y1="931.89" x2="1158.0" y2="931.89" stroke="#a3a3a3" stroke-width="1"/>
<line x1="918.5" y1="883.05" x2="922.0" y2="883.05" stroke="#a3a3a3" stroke-width="1"/>
<line x1="1161.5" y1="883.05" x2="1158.0" y2="883.05" stroke="#a3a3a3" stroke-width="1"/>
<line x1="918.5" y1="834.21" x2="922.0" y2="834.21" stroke="#a3a3a3" stroke-width="1"/>
<line x1="1161.5" y1="834.21" x2="1158.0" y2="834.21" stroke="#a3a3a3" stroke-width="1"/>
<line x1="918.5" y1="785.36" x2="922.0" y2="785.36" stroke="#a3a3a3" stroke-width="1"/>
<line x1="1161.5" y1="785.36" x2="1158.0" y2="785.36" stroke="#a3a3a3" stroke-width="1"/>
<line x1="918.5" y1="736.52" x2="922.0" y2="736.52" stroke="#a3a3a3" stroke-width="1"/>
<line x1="1161.5" y1="736.52" x2="1158.0" y2="736.52" stroke="#a3a3a3" stroke-width="1"/>
<line x1="999.50" y1="1036.5" x2="999.50" y2="1033.0" stroke="#a3a3a3" stroke-width="1"/>
<line x1="999.50" y1="729.6" x2="999.50" y2="733.1" stroke="#a3a3a3" stroke-width="1"/>
<line x1="1080.50" y1="1036.5" x2="1080.50" y2="1033.0" stroke="#a3a3a3" stroke-width="1"/>
<line x1="1080.50" y1="729.6" x2="1080.50" y2="733.1" stroke="#a3a3a3" stroke-width="1"/>
<text x="993.66" y="1055.30" font-size="22.50" textLength="11.25" lengthAdjust="spacingAndGlyphs" fill="#303030">5</text>
<text x="1068.69" y="1055.30" font-size="22.50" textLength="22.50" lengthAdjust="spacingAndGlyphs" fill="#303030">10</text>
<text x="1149.70" y="1055.30" font-size="22.50" textLength="22.50" lengthAdjust="spacingAndGlyphs" fill="#303030">15</text>
<text x="1162.69" y="1065.00" font-size="13.50" textLength="8.60" lengthAdjust="spacingAndGlyphs" fill="#262626">×</text>
<text x="1171.96" y="1067.50" font-size="14.00" textLength="14.07" lengthAdjust="spacingAndGlyphs" fill="#262626">10</text>
<text x="1185.41" y="1063.30" font-size="11.50" textLength="6.17" lengthAdjust="spacingAndGlyphs" fill="#262626">3</text>
<rect x="916.5" y="1174.3" width="246.40" height="307.20" fill="#fff"/>
<polyline points="916.5,1372.3 916.6,1451.8 916.8,1196.9 916.9,1329.6 917.0,1215.4 917.2,1210.2 917.3,1298.7 917.4,1481.3 917.5,1408.8 917.7,1354.4 917.8,1327.4 917.9,1308.7 918.1,1321.0 918.2,1435.7 918.3,1364.8 918.5,1224.3 918.6,1273.9 918.7,1435.9 918.9,1180.3 919.0,1445.0 919.1,1329.7 919.3,1437.7 919.4,1360.2 919.5,1444.9 919.6,1467.0 919.8,1326.9 919.9,1331.4 920.0,1384.5 920.2,1324.6 920.3,1363.9 920.4,1193.0 920.6,1303.4 920.7,1326.8 920.8,1345.0 921.0,1341.9 921.1,1339.7 921.2,1244.0 921.3,1382.8 921.5,1330.7 921.6,1337.1 921.7,1318.4 921.9,1321.5 922.0,1176.8 922.1,1290.6 922.3,1265.9 922.4,1453.9 922.5,1332.5 922.7,1300.6 922.8,1326.8 922.9,1330.4 923.1,1357.8 923.2,1284.2 923.3,1297.2 923.4,1358.3 923.6,1325.1 923.7,1455.4 923.8,1448.0 924.0,1273.0 924.1,1393.5 924.2,1344.6 924.4,1343.7 924.5,1349.5 924.6,1277.1 924.8,1329.2 924.9,1395.7 925.0,1322.0 925.2,1333.3 925.3,1252.2 925.4,1335.0 925.5,1359.4 925.7,1362.6 925.8,1481.1 925.9,1207.3 926.1,1441.5 926.2,1473.3 926.3,1336.4 926.5,1400.9 926.6,1325.9 926.7,1328.1 926.9,1311.4 927.0,1324.7 927.1,1329.0 927.2,1352.5 927.4,1334.8 927.5,1386.3 927.6,1377.1 927.8,1323.8 927.9,1313.4 928.0,1339.8 928.2,1276.7 928.3,1327.4 928.4,1326.1 928.6,1330.1 928.7,1310.1 928.8,1326.5 929.0,1453.0 929.1,1322.8 929.2,1213.2 929.3,1252.5 929.5,1301.7 929.6,1354.8 929.7,1323.4 929.9,1338.2 930.0,1337.6 930.1,1359.1 930.3,1309.0 930.4,1341.8 930.5,1314.6 930.7,1327.3 930.8,1436.2 930.9,1327.7 931.0,1352.4 931.2,1424.7 931.3,1433.5 931.4,1330.7 931.6,1325.7 931.7,1326.7 931.8,1349.6 932.0,1330.1 932.1,1327.8 932.2,1428.2 932.4,1323.1 932.5,1345.8 932.6,1339.6 932.8,1323.9 932.9,1341.7 933.0,1346.3 933.1,1352.6 933.3,1328.7 933.4,1327.3 933.5,1308.2 933.7,1185.4 933.8,1416.9 933.9,1341.8 934.1,1332.0 934.2,1339.3 934.3,1351.9 934.5,1337.6 934.6,1202.2 934.7,1333.2 934.8,1369.9 935.0,1318.5 935.1,1223.0 935.2,1462.7 935.4,1334.7 935.5,1322.3 935.6,1222.3 935.8,1345.1 935.9,1331.9 936.0,1310.1 936.2,1279.5 936.3,1326.5 936.4,1336.8 936.6,1324.6 936.7,1333.9 936.8,1344.7 936.9,1319.1 937.1,1403.1 937.2,1315.0 937.3,1318.1 937.5,1461.5 937.6,1324.3 937.7,1322.5 937.9,1341.4 938.0,1223.1 938.1,1337.8 938.3,1340.5 938.4,1463.3 938.5,1323.6 938.6,1339.2 938.8,1315.4 938.9,1381.0 939.0,1297.7 939.2,1339.8 939.3,1344.5 939.4,1402.1 939.6,1375.2 939.7,1363.3 939.8,1408.0 940.0,1341.0 940.1,1225.2 940.2,1319.5 940.4,1298.4 940.5,1331.4 940.6,1343.1 940.7,1346.6 940.9,1354.4 941.0,1327.1 941.1,1458.7 941.3,1351.1 941.4,1199.7 941.5,1245.7 941.7,1350.2 941.8,1219.1 941.9,1320.4 942.1,1320.4 942.2,1239.3 942.3,1324.0 942.5,1351.7 942.6,1343.0 942.7,1325.8 942.8,1351.8 943.0,1469.8 943.1,1269.0 943.2,1240.0 943.4,1343.1 943.5,1212.2 943.6,1275.3 943.8,1332.8 943.9,1341.4 944.0,1174.7 944.2,1334.0 944.3,1330.1 944.4,1321.7 944.5,1324.8 944.7,1343.8 944.8,1340.2 944.9,1331.8 945.1,1448.4 945.2,1463.2 945.3,1333.0 945.5,1357.9 945.6,1326.1 945.7,1192.7 945.9,1334.1 946.0,1473.8 946.1,1422.9 946.3,1175.3 946.4,1299.2 946.5,1295.4 946.6,1315.6 946.8,1334.8 946.9,1332.9 947.0,1343.7 947.2,1316.4 947.3,1337.9 947.4,1392.3 947.6,1279.8 947.7,1333.2 947.8,1334.8 948.0,1336.4 948.1,1324.0 948.2,1310.5 948.3,1351.6 948.5,1233.4 948.6,1337.6 948.7,1327.8 948.9,1326.6 949.0,1351.8 949.1,1179.5 949.3,1443.3 949.4,1470.3 949.5,1333.7 949.7,1336.5 949.8,1391.9 949.9,1338.0 950.1,1342.4 950.2,1339.4 950.3,1330.8 950.4,1399.9 950.6,1396.7 950.7,1321.9 950.8,1404.8 951.0,1336.6 951.1,1347.8 951.2,1319.9 951.4,1342.3 951.5,1337.2 951.6,1347.1 951.8,1329.4 951.9,1320.0 952.0,1343.5 952.1,1179.3 952.3,1241.5 952.4,1258.4 952.5,1334.1 952.7,1315.3 952.8,1327.7 952.9,1335.2 953.1,1335.3 953.2,1328.2 953.3,1333.7 953.5,1326.5 953.6,1334.9 953.7,1344.9 953.9,1333.4 954.0,1326.0 954.1,1332.8 954.2,1348.8 954.4,1330.7 954.5,1475.0 954.6,1194.5 954.8,1413.1 954.9,1448.4 955.0,1445.6 955.2,1442.3 955.3,1195.5 955.4,1316.5 955.6,1334.6 955.7,1254.4 955.8,1371.9 955.9,1394.9 956.1,1291.5 956.2,1342.7 956.3,1344.5 956.5,1337.9 956.6,1334.8 956.7,1333.5 956.9,1341.9 957.0,1337.2 957.1,1182.7 957.3,1331.4 957.4,1317.6 957.5,1333.3 957.7,1335.5 957.8,1328.1 957.9,1332.6 958.0,1329.8 958.2,1335.7 958.3,1340.1 958.4,1346.1 958.6,1327.6 958.7,1321.5 958.8,1353.7 959.0,1324.9 959.1,1318.9 959.2,1334.8 959.4,1334.4 959.5,1339.8 959.6,1334.9 959.8,1344.7 959.9,1331.3 960.0,1341.0 960.1,1332.3 960.3,1332.3 960.4,1333.0 960.5,1327.8 960.7,1336.2 960.8,1376.6 960.9,1219.1 961.1,1356.6 961.2,1344.4 961.3,1368.4 961.5,1316.1 961.6,1328.0 961.7,1362.1 961.8,1352.3 962.0,1342.5 962.1,1470.1 962.2,1315.3 962.4,1329.2 962.5,1369.3 962.6,1354.6 962.8,1357.7 962.9,1345.9 963.0,1320.8 963.2,1333.2 963.3,1435.6 963.4,1457.9 963.6,1354.8 963.7,1461.5 963.8,1456.0 963.9,1332.1 964.1,1338.2 964.2,1343.2 964.3,1338.3 964.5,1334.2 964.6,1331.4 964.7,1268.1 964.9,1429.1 965.0,1348.7 965.1,1321.3 965.3,1317.1 965.4,1408.3 965.5,1279.8 965.6,1218.0 965.8,1275.8 965.9,1352.4 966.0,1312.6 966.2,1228.5 966.3,1308.0 966.4,1351.6 966.6,1314.4 966.7,1343.4 966.8,1290.7 967.0,1464.8 967.1,1346.0 967.2,1330.5 967.4,1319.5 967.5,1325.6 967.6,1351.3 967.7,1328.0 967.9,1276.0 968.0,1326.3 968.1,1331.2 968.3,1350.7 968.4,1450.9 968.5,1338.2 968.7,1313.6 968.8,1342.8 968.9,1266.7 969.1,1332.7 969.2,1275.3 969.3,1341.3 969.4,1286.4 969.6,1304.5 969.7,1332.1 969.8,1318.0 970.0,1354.2 970.1,1190.2 970.2,1396.1 970.4,1436.1 970.5,1241.2 970.6,1320.6 970.8,1340.5 970.9,1322.9 971.0,1333.9 971.2,1341.7 971.3,1303.1 971.4,1325.9 971.5,1334.8 971.7,1348.2 971.8,1354.1 971.9,1345.1 972.1,1319.2 972.2,1352.7 972.3,1315.0 972.5,1322.9 972.6,1337.8 972.7,1211.6 972.9,1306.4 973.0,1348.0 973.1,1307.4 973.3,1334.9 973.4,1334.2 973.5,1330.4 973.6,1320.2 973.8,1424.8 973.9,1389.2 974.0,1345.3 974.2,1232.3 974.3,1351.4 974.4,1440.5 974.6,1424.1 974.7,1293.6 974.8,1239.4 975.0,1342.2 975.1,1343.0 975.2,1282.3 975.3,1358.1 975.5,1349.9 975.6,1342.2 975.7,1365.7 975.9,1332.4 976.0,1432.4 976.1,1257.8 976.3,1269.4 976.4,1449.5 976.5,1180.9 976.7,1224.8 976.8,1383.2 976.9,1465.6 977.1,1349.7 977.2,1337.1 977.3,1326.3 977.4,1411.1 977.6,1431.3 977.7,1222.7 977.8,1356.6 978.0,1448.3 978.1,1348.2 978.2,1316.3 978.4,1330.8 978.5,1343.2 978.6,1410.4 978.8,1286.9 978.9,1210.7 979.0,1319.3 979.1,1349.3 979.3,1346.2 979.4,1259.1 979.5,1402.7 979.7,1283.5 979.8,1338.0 979.9,1322.4 980.1,1360.8 980.2,1400.5 980.3,1283.3 980.5,1450.3 980.6,1387.5 980.7,1332.1 980.9,1324.6 981.0,1456.0 981.1,1443.5 981.2,1257.4 981.4,1305.8 981.5,1342.1 981.6,1316.6 981.8,1359.4 981.9,1228.6 982.0,1325.3 982.2,1341.2 982.3,1321.7 982.4,1343.8 982.6,1348.1 982.7,1324.2 982.8,1187.4 982.9,1470.6 983.1,1323.7 983.2,1346.0 983.3,1339.9 983.5,1392.4 983.6,1203.2 983.7,1329.1 983.9,1478.6 984.0,1250.2 984.1,1409.6 984.3,1246.5 984.4,1348.2 984.5,1449.9 984.7,1297.2 984.8,1435.3 984.9,1214.2 985.0,1194.7 985.2,1439.6 985.3,1272.3 985.4,1303.5 985.6,1249.9 985.7,1297.0 985.8,1349.6 986.0,1274.6 986.1,1223.8 986.2,1276.7 986.4,1467.7 986.5,1307.9 986.6,1285.1 986.7,1336.2 986.9,1343.4 987.0,1361.6 987.1,1336.2 987.3,1416.5 987.4,1324.1 987.5,1337.5 987.7,1339.0 987.8,1216.3 987.9,1328.8 988.1,1390.3 988.2,1335.5 988.3,1337.1 988.5,1422.3 988.6,1334.8 988.7,1309.6 988.8,1365.7 989.0,1343.2 989.1,1340.7 989.2,1346.3 989.4,1333.4 989.5,1360.3 989.6,1338.8 989.8,1308.1 989.9,1337.8 990.0,1354.6 990.2,1353.3 990.3,1314.6 990.4,1337.1 990.6,1338.7 990.7,1311.9 990.8,1320.8 990.9,1337.0 991.1,1339.7 991.2,1344.6 991.3,1325.4 991.5,1334.2 991.6,1320.8 991.7,1361.6 991.9,1333.8 992.0,1345.6 992.1,1345.6 992.3,1324.6 992.4,1348.2 992.5,1420.0 992.6,1347.0 992.8,1322.7 992.9,1338.2 993.0,1331.4 993.2,1320.8 993.3,1329.5 993.4,1335.8 993.6,1340.6 993.7,1358.1 993.8,1334.7 994.0,1340.2 994.1,1341.6 994.2,1332.1 994.4,1339.1 994.5,1336.8 994.6,1333.6 994.7,1317.8 994.9,1368.6 995.0,1335.5 995.1,1367.0 995.3,1349.8 995.4,1344.6 995.5,1312.6 995.7,1331.2 995.8,1346.0 995.9,1230.9 996.1,1385.5 996.2,1240.2 996.3,1190.7 996.4,1346.2 996.6,1343.2 996.7,1316.2 996.8,1313.0 997.0,1339.0 997.1,1342.9 997.2,1348.4 997.4,1214.7 997.5,1337.9 997.6,1324.7 997.8,1326.7 997.9,1326.9 998.0,1327.2 998.2,1336.3 998.3,1334.5 998.4,1347.9 998.5,1197.5 998.7,1315.0 998.8,1335.6 998.9,1335.9 999.1,1351.0 999.2,1341.3 999.3,1348.2 999.5,1331.2 999.6,1336.3 999.7,1332.0 999.9,1345.3 1000.0,1335.7 1000.1,1336.4 1000.2,1347.9 1000.4,1312.5 1000.5,1339.2 1000.6,1336.7 1000.8,1349.0 1000.9,1344.7 1001.0,1325.2 1001.2,1342.5 1001.3,1335.5 1001.4,1318.5 1001.6,1330.9 1001.7,1343.2 1001.8,1346.7 1002.0,1330.5 1002.1,1344.4 1002.2,1320.9 1002.3,1332.4 1002.5,1265.6 1002.6,1416.9 1002.7,1206.5 1002.9,1396.1 1003.0,1204.7 1003.1,1398.7 1003.3,1332.3 1003.4,1337.7 1003.5,1180.1 1003.7,1358.7 1003.8,1322.5 1003.9,1423.1 1004.0,1342.0 1004.2,1372.4 1004.3,1337.2 1004.4,1349.2 1004.6,1375.7 1004.7,1342.7 1004.8,1333.5 1005.0,1343.8 1005.1,1254.3 1005.2,1182.5 1005.4,1321.6 1005.5,1207.4 1005.6,1403.8 1005.8,1350.9 1005.9,1464.3 1006.0,1469.3 1006.1,1177.5 1006.3,1418.0 1006.4,1183.0 1006.5,1330.6 1006.7,1346.3 1006.8,1242.9 1006.9,1445.7 1007.1,1478.3 1007.2,1339.3 1007.3,1317.1 1007.5,1453.2 1007.6,1324.4 1007.7,1375.4 1007.9,1414.3 1008.0,1219.4 1008.1,1322.8 1008.2,1318.6 1008.4,1328.8 1008.5,1331.4 1008.6,1364.4 1008.8,1245.1 1008.9,1342.7 1009.0,1355.0 1009.2,1276.0 1009.3,1326.4 1009.4,1448.5 1009.6,1327.4 1009.7,1381.5 1009.8,1392.5 1009.9,1341.8 1010.1,1364.5 1010.2,1386.8 1010.3,1347.7 1010.5,1340.9 1010.6,1329.0 1010.7,1304.3 1010.9,1450.9 1011.0,1233.1 1011.1,1337.6 1011.3,1321.7 1011.4,1462.3 1011.5,1347.0 1011.7,1341.8 1011.8,1384.8 1011.9,1304.8 1012.0,1195.1 1012.2,1438.7 1012.3,1416.0 1012.4,1373.5 1012.6,1329.2 1012.7,1337.4 1012.8,1334.7 1013.0,1319.8 1013.1,1313.5 1013.2,1342.7 1013.4,1335.7 1013.5,1359.0 1013.6,1332.9 1013.7,1327.8 1013.9,1355.2 1014.0,1269.4 1014.1,1332.7 1014.3,1437.0 1014.4,1342.9 1014.5,1179.8 1014.7,1351.3 1014.8,1336.7 1014.9,1321.9 1015.1,1343.1 1015.2,1322.1 1015.3,1479.0 1015.5,1416.3 1015.6,1317.9 1015.7,1336.9 1015.8,1253.8 1016.0,1417.8 1016.1,1371.2 1016.2,1397.0 1016.4,1349.9 1016.5,1340.0 1016.6,1427.2 1016.8,1320.1 1016.9,1346.8 1017.0,1339.3 1017.2,1468.1 1017.3,1290.5 1017.4,1352.1 1017.5,1324.3 1017.7,1328.2 1017.8,1273.7 1017.9,1387.7 1018.1,1323.7 1018.2,1322.8 1018.3,1220.8 1018.5,1317.1 1018.6,1379.4 1018.7,1342.8 1018.9,1396.0 1019.0,1341.2 1019.1,1412.8 1019.3,1329.4 1019.4,1217.4 1019.5,1351.1 1019.6,1335.0 1019.8,1246.7 1019.9,1178.5 1020.0,1345.2 1020.2,1329.1 1020.3,1370.9 1020.4,1320.8 1020.6,1271.5 1020.7,1333.7 1020.8,1235.3 1021.0,1330.3 1021.1,1348.5 1021.2,1209.6 1021.4,1355.8 1021.5,1427.8 1021.6,1409.4 1021.7,1295.6 1021.9,1218.0 1022.0,1295.5 1022.1,1332.1 1022.3,1240.2 1022.4,1334.4 1022.5,1336.6 1022.7,1332.4 1022.8,1327.0 1022.9,1391.4 1023.1,1405.1 1023.2,1442.8 1023.3,1409.4 1023.4,1469.3 1023.6,1353.2 1023.7,1463.9 1023.8,1324.9 1024.0,1377.0 1024.1,1216.1 1024.2,1410.5 1024.4,1432.4 1024.5,1351.0 1024.6,1185.7 1024.8,1279.0 1024.9,1345.5 1025.0,1237.4 1025.2,1331.6 1025.3,1315.2 1025.4,1333.0 1025.5,1341.1 1025.7,1332.4 1025.8,1321.6 1025.9,1339.6 1026.1,1419.7 1026.2,1348.9 1026.3,1324.6 1026.5,1268.4 1026.6,1321.0 1026.7,1320.2 1026.9,1340.6 1027.0,1323.2 1027.1,1326.2 1027.2,1292.7 1027.4,1343.6 1027.5,1322.0 1027.6,1337.6 1027.8,1331.9 1027.9,1373.8 1028.0,1311.6 1028.2,1367.2 1028.3,1335.3 1028.4,1480.8 1028.6,1328.5 1028.7,1332.3 1028.8,1307.7 1029.0,1331.8 1029.1,1339.9 1029.2,1303.5 1029.3,1321.1 1029.5,1327.9 1029.6,1331.1 1029.7,1396.8 1029.9,1478.5 1030.0,1217.2 1030.1,1425.8 1030.3,1342.6 1030.4,1335.3 1030.5,1342.7 1030.7,1338.9 1030.8,1290.1 1030.9,1348.5 1031.0,1198.9 1031.2,1369.1 1031.3,1274.7 1031.4,1316.8 1031.6,1465.5 1031.7,1268.5 1031.8,1300.0 1032.0,1387.1 1032.1,1339.5 1032.2,1337.7 1032.4,1326.5 1032.5,1335.2 1032.6,1343.1 1032.8,1333.0 1032.9,1352.3 1033.0,1479.6 1033.1,1359.1 1033.3,1349.5 1033.4,1426.9 1033.5,1343.0 1033.7,1328.6 1033.8,1319.4 1033.9,1339.3 1034.1,1333.6 1034.2,1332.2 1034.3,1355.0 1034.5,1330.2 1034.6,1335.1 1034.7,1345.5 1034.8,1338.4 1035.0,1331.8 1035.1,1347.7 1035.2,1339.1 1035.4,1347.3 1035.5,1323.9 1035.6,1348.6 1035.8,1353.3 1035.9,1196.8 1036.0,1285.7 1036.2,1456.8 1036.3,1369.6 1036.4,1322.4 1036.6,1328.5 1036.7,1208.2 1036.8,1321.4 1036.9,1347.4 1037.1,1339.7 1037.2,1335.9 1037.3,1342.6 1037.5,1456.7 1037.6,1339.4 1037.7,1252.5 1037.9,1253.5 1038.0,1194.9 1038.1,1350.6 1038.3,1333.5 1038.4,1338.9 1038.5,1338.8 1038.7,1335.9 1038.8,1336.0 1038.9,1340.8 1039.0,1323.4 1039.2,1324.1 1039.3,1342.8 1039.4,1279.8 1039.6,1259.6 1039.7,1205.0 1039.8,1338.8 1040.0,1433.5 1040.1,1359.5 1040.2,1358.4 1040.4,1262.3 1040.5,1335.6 1040.6,1320.8 1040.7,1326.9 1040.9,1320.7 1041.0,1320.5 1041.1,1352.1 1041.3,1331.8 1041.4,1329.8 1041.5,1326.3 1041.7,1351.0 1041.8,1196.3 1041.9,1333.5 1042.1,1473.5 1042.2,1416.6 1042.3,1345.9 1042.5,1328.2 1042.6,1326.9 1042.7,1402.7 1042.8,1449.5 1043.0,1328.5 1043.1,1456.3 1043.2,1334.8 1043.4,1267.2 1043.5,1318.0 1043.6,1422.9 1043.8,1478.0 1043.9,1344.6 1044.0,1308.5 1044.2,1254.6 1044.3,1341.5 1044.4,1431.7 1044.5,1320.6 1044.7,1333.4 1044.8,1334.5 1044.9,1355.4 1045.1,1240.6 1045.2,1354.8 1045.3,1389.7 1045.5,1213.4 1045.6,1329.7 1045.7,1466.4 1045.9,1330.0 1046.0,1209.1 1046.1,1328.7 1046.3,1228.2 1046.4,1344.9 1046.5,1327.4 1046.6,1330.5 1046.8,1328.9 1046.9,1448.2 1047.0,1331.4 1047.2,1207.3 1047.3,1326.4 1047.4,1341.6 1047.6,1334.2 1047.7,1346.7 1047.8,1325.0 1048.0,1181.1 1048.1,1384.1 1048.2,1233.1 1048.3,1449.2 1048.5,1332.1 1048.6,1249.2 1048.7,1336.5 1048.9,1345.0 1049.0,1351.7 1049.1,1332.5 1049.3,1339.5 1049.4,1349.7 1049.5,1349.1 1049.7,1334.6 1049.8,1326.9 1049.9,1350.9 1050.1,1307.4 1050.2,1357.9 1050.3,1347.0 1050.4,1406.0 1050.6,1219.2 1050.7,1333.4 1050.8,1436.5 1051.0,1182.6 1051.1,1372.9 1051.2,1309.9 1051.4,1333.8 1051.5,1286.3 1051.6,1331.9 1051.8,1462.8 1051.9,1202.0 1052.0,1329.5 1052.1,1327.5 1052.3,1468.2 1052.4,1294.9 1052.5,1461.8 1052.7,1321.4 1052.8,1325.4 1052.9,1299.4 1053.1,1319.6 1053.2,1326.9 1053.3,1348.0 1053.5,1328.9 1053.6,1363.0 1053.7,1342.3 1053.9,1328.4 1054.0,1323.0 1054.1,1342.3 1054.2,1330.7 1054.4,1323.6 1054.5,1240.5 1054.6,1263.2 1054.8,1397.7 1054.9,1362.1 1055.0,1345.6 1055.2,1356.1 1055.3,1321.2 1055.4,1333.8 1055.6,1214.9 1055.7,1342.0 1055.8,1283.8 1056.0,1467.6 1056.1,1347.0 1056.2,1458.4 1056.3,1446.5 1056.5,1367.9 1056.6,1343.7 1056.7,1333.9 1056.9,1338.4 1057.0,1250.2 1057.1,1339.8 1057.3,1313.7 1057.4,1470.0 1057.5,1244.7 1057.7,1348.5 1057.8,1209.1 1057.9,1323.2 1058.0,1191.2 1058.2,1362.6 1058.3,1313.7 1058.4,1333.0 1058.6,1450.9 1058.7,1328.4 1058.8,1330.1 1059.0,1322.4 1059.1,1322.5 1059.2,1372.8 1059.4,1433.9 1059.5,1325.5 1059.6,1345.0 1059.8,1229.8 1059.9,1302.3 1060.0,1368.7 1060.1,1331.3 1060.3,1343.3 1060.4,1337.0 1060.5,1344.3 1060.7,1378.8 1060.8,1429.0 1060.9,1441.8 1061.1,1246.0 1061.2,1221.6 1061.3,1419.0 1061.5,1338.0 1061.6,1350.9 1061.7,1328.4 1061.8,1391.7 1062.0,1393.0 1062.1,1350.6 1062.2,1450.3 1062.4,1349.4 1062.5,1354.3 1062.6,1336.4 1062.8,1344.3 1062.9,1348.8 1063.0,1405.6 1063.2,1317.7 1063.3,1425.9 1063.4,1348.0 1063.6,1333.1 1063.7,1319.0 1063.8,1330.6 1063.9,1200.1 1064.1,1256.8 1064.2,1246.3 1064.3,1343.0 1064.5,1325.7 1064.6,1355.1 1064.7,1346.8 1064.9,1242.3 1065.0,1346.3 1065.1,1341.6 1065.3,1342.9 1065.4,1348.5 1065.5,1334.8 1065.6,1326.8 1065.8,1325.9 1065.9,1340.7 1066.0,1338.2 1066.2,1337.5 1066.3,1320.4 1066.4,1333.6 1066.6,1348.3 1066.7,1341.6 1066.8,1344.3 1067.0,1334.0 1067.1,1336.9 1067.2,1331.9 1067.4,1461.4 1067.5,1343.0 1067.6,1237.8 1067.7,1347.7 1067.9,1329.0 1068.0,1328.9 1068.1,1355.5 1068.3,1332.5 1068.4,1226.6 1068.5,1332.6 1068.7,1205.7 1068.8,1253.8 1068.9,1338.8 1069.1,1218.3 1069.2,1321.3 1069.3,1328.2 1069.5,1207.6 1069.6,1385.7 1069.7,1352.5 1069.8,1316.4 1070.0,1329.7 1070.1,1397.4 1070.2,1337.1 1070.4,1176.4 1070.5,1324.5 1070.6,1344.9 1070.8,1315.9 1070.9,1337.5 1071.0,1335.6 1071.2,1328.8 1071.3,1226.7 1071.4,1291.6 1071.5,1208.8 1071.7,1280.6 1071.8,1404.4 1071.9,1332.9 1072.1,1325.7 1072.2,1343.4 1072.3,1340.7 1072.5,1346.4 1072.6,1467.6 1072.7,1350.6 1072.9,1384.6 1073.0,1354.9 1073.1,1301.2 1073.3,1216.8 1073.4,1345.8 1073.5,1348.8 1073.6,1216.7 1073.8,1197.3 1073.9,1335.5 1074.0,1304.6 1074.2,1345.3 1074.3,1345.2 1074.4,1350.0 1074.6,1331.1 1074.7,1319.1 1074.8,1326.3 1075.0,1342.1 1075.1,1319.9 1075.2,1251.1 1075.3,1323.2 1075.5,1391.1 1075.6,1350.8 1075.7,1325.5 1075.9,1239.2 1076.0,1385.4 1076.1,1347.0 1076.3,1318.4 1076.4,1337.0 1076.5,1214.9 1076.7,1332.2 1076.8,1331.2 1076.9,1209.8 1077.1,1249.9 1077.2,1334.5 1077.3,1411.8 1077.4,1337.8 1077.6,1219.5 1077.7,1214.7 1077.8,1332.0 1078.0,1354.2 1078.1,1326.7 1078.2,1327.7 1078.4,1330.0 1078.5,1361.0 1078.6,1334.8 1078.8,1224.6 1078.9,1365.9 1079.0,1340.3 1079.1,1176.4 1079.3,1320.5 1079.4,1434.0 1079.5,1336.2 1079.7,1323.6 1079.8,1326.3 1079.9,1344.1 1080.1,1450.2 1080.2,1335.3 1080.3,1341.2 1080.5,1470.4 1080.6,1373.2 1080.7,1333.9 1080.9,1348.3 1081.0,1327.1 1081.1,1313.7 1081.2,1354.9 1081.4,1370.8 1081.5,1357.3 1081.6,1342.2 1081.8,1318.9 1081.9,1275.2 1082.0,1257.9 1082.2,1480.6 1082.3,1192.3 1082.4,1340.9 1082.6,1178.5 1082.7,1269.4 1082.8,1177.5 1082.9,1324.2 1083.1,1337.5 1083.2,1271.7 1083.3,1306.8 1083.5,1324.5 1083.6,1473.1 1083.7,1362.8 1083.9,1267.9 1084.0,1321.8 1084.1,1319.6 1084.3,1337.1 1084.4,1327.5 1084.5,1339.3 1084.7,1446.2 1084.8,1341.4 1084.9,1431.6 1085.0,1311.1 1085.2,1267.3 1085.3,1338.2 1085.4,1370.0 1085.6,1281.5 1085.7,1386.2 1085.8,1403.1 1086.0,1236.1 1086.1,1353.8 1086.2,1319.8 1086.4,1332.4 1086.5,1349.9 1086.6,1239.4 1086.8,1323.1 1086.9,1328.2 1087.0,1405.5 1087.1,1433.5 1087.3,1359.9 1087.4,1462.9 1087.5,1198.8 1087.7,1339.0 1087.8,1221.1 1087.9,1332.6 1088.1,1342.8 1088.2,1336.5 1088.3,1337.3 1088.5,1347.9 1088.6,1337.4 1088.7,1334.2 1088.8,1275.1 1089.0,1206.2 1089.1,1205.9 1089.2,1465.4 1089.4,1335.2 1089.5,1341.4 1089.6,1353.6 1089.8,1362.0 1089.9,1353.8 1090.0,1309.3 1090.2,1355.5 1090.3,1293.3 1090.4,1348.7 1090.6,1342.7 1090.7,1357.3 1090.8,1353.8 1090.9,1296.0 1091.1,1181.9 1091.2,1342.3 1091.3,1398.4 1091.5,1359.8 1091.6,1336.8 1091.7,1349.8 1091.9,1372.4 1092.0,1365.4 1092.1,1448.6 1092.3,1370.0 1092.4,1342.8 1092.5,1348.0 1092.6,1335.9 1092.8,1218.9 1092.9,1312.4 1093.0,1331.6 1093.2,1394.0 1093.3,1306.2 1093.4,1332.0 1093.6,1186.3 1093.7,1340.3 1093.8,1314.7 1094.0,1333.5 1094.1,1359.3 1094.2,1345.6 1094.4,1349.5 1094.5,1303.5 1094.6,1345.2 1094.7,1334.6 1094.9,1335.8 1095.0,1326.6 1095.1,1327.7 1095.3,1341.4 1095.4,1339.0 1095.5,1330.3 1095.7,1357.2 1095.8,1325.8 1095.9,1340.5 1096.1,1327.7 1096.2,1358.5 1096.3,1321.0 1096.4,1349.8 1096.6,1318.8 1096.7,1331.3 1096.8,1464.8 1097.0,1335.1 1097.1,1350.8 1097.2,1342.0 1097.4,1337.2 1097.5,1262.6 1097.6,1428.9 1097.8,1333.5 1097.9,1176.0 1098.0,1337.3 1098.2,1326.0 1098.3,1340.1 1098.4,1391.8 1098.5,1241.8 1098.7,1358.0 1098.8,1397.9 1098.9,1327.7 1099.1,1473.3 1099.2,1223.7 1099.3,1295.4 1099.5,1339.6 1099.6,1327.9 1099.7,1349.4 1099.9,1335.7 1100.0,1326.0 1100.1,1332.3 1100.2,1331.4 1100.4,1328.4 1100.5,1348.7 1100.6,1336.1 1100.8,1340.2 1100.9,1317.7 1101.0,1337.3 1101.2,1343.3 1101.3,1457.1 1101.4,1393.5 1101.6,1350.3 1101.7,1337.4 1101.8,1338.6 1102.0,1330.5 1102.1,1321.2 1102.2,1338.8 1102.3,1340.8 1102.5,1350.7 1102.6,1331.7 1102.7,1329.8 1102.9,1349.9 1103.0,1346.1 1103.1,1330.2 1103.3,1316.9 1103.4,1338.6 1103.5,1337.2 1103.7,1345.5 1103.8,1282.4 1103.9,1323.4 1104.1,1321.6 1104.2,1330.0 1104.3,1327.6 1104.4,1335.6 1104.6,1442.1 1104.7,1329.6 1104.8,1334.0 1105.0,1325.3 1105.1,1343.5 1105.2,1321.4 1105.4,1320.3 1105.5,1327.4 1105.6,1336.8 1105.8,1341.9 1105.9,1326.0 1106.0,1333.1 1106.1,1334.2 1106.3,1352.5 1106.4,1291.7 1106.5,1362.7 1106.7,1331.6 1106.8,1330.5 1106.9,1333.8 1107.1,1356.8 1107.2,1325.8 1107.3,1344.0 1107.5,1357.1 1107.6,1308.2 1107.7,1329.6 1107.9,1358.5 1108.0,1335.7 1108.1,1313.2 1108.2,1321.9 1108.4,1357.2 1108.5,1280.2 1108.6,1320.3 1108.8,1327.2 1108.9,1424.8 1109.0,1352.0 1109.2,1322.1 1109.3,1347.4 1109.4,1243.8 1109.6,1329.3 1109.7,1348.1 1109.8,1334.4 1109.9,1355.8 1110.1,1366.5 1110.2,1327.2 1110.3,1351.8 1110.5,1327.3 1110.6,1337.5 1110.7,1349.1 1110.9,1433.1 1111.0,1217.1 1111.1,1341.4 1111.3,1406.9 1111.4,1328.8 1111.5,1314.4 1111.7,1342.9 1111.8,1349.0 1111.9,1345.1 1112.0,1330.6 1112.2,1353.8 1112.3,1337.8 1112.4,1337.5 1112.6,1349.5 1112.7,1342.0 1112.8,1458.1 1113.0,1326.0" fill="none" stroke="#0a64b0" stroke-width="0.8" stroke-linejoin="miter" stroke-opacity="0.92"/>
<line x1="916.5" y1="1333.8" x2="1113.0" y2="1336.7" stroke="#d03b3b" stroke-width="1.0"/>
<rect x="916.5" y="1174.3" width="246.40" height="307.20" fill="none" stroke="#a3a3a3" stroke-width="1.1"/>
<line x1="916.5" y1="1474.58" x2="920.0" y2="1474.58" stroke="#a3a3a3" stroke-width="1"/>
<line x1="1162.9" y1="1474.58" x2="1159.4" y2="1474.58" stroke="#a3a3a3" stroke-width="1"/>
<line x1="916.5" y1="1425.68" x2="920.0" y2="1425.68" stroke="#a3a3a3" stroke-width="1"/>
<line x1="1162.9" y1="1425.68" x2="1159.4" y2="1425.68" stroke="#a3a3a3" stroke-width="1"/>
<line x1="916.5" y1="1376.79" x2="920.0" y2="1376.79" stroke="#a3a3a3" stroke-width="1"/>
<line x1="1162.9" y1="1376.79" x2="1159.4" y2="1376.79" stroke="#a3a3a3" stroke-width="1"/>
<line x1="916.5" y1="1327.90" x2="920.0" y2="1327.90" stroke="#a3a3a3" stroke-width="1"/>
<line x1="1162.9" y1="1327.90" x2="1159.4" y2="1327.90" stroke="#a3a3a3" stroke-width="1"/>
<line x1="916.5" y1="1279.01" x2="920.0" y2="1279.01" stroke="#a3a3a3" stroke-width="1"/>
<line x1="1162.9" y1="1279.01" x2="1159.4" y2="1279.01" stroke="#a3a3a3" stroke-width="1"/>
<line x1="916.5" y1="1230.12" x2="920.0" y2="1230.12" stroke="#a3a3a3" stroke-width="1"/>
<line x1="1162.9" y1="1230.12" x2="1159.4" y2="1230.12" stroke="#a3a3a3" stroke-width="1"/>
<line x1="916.5" y1="1181.22" x2="920.0" y2="1181.22" stroke="#a3a3a3" stroke-width="1"/>
<line x1="1162.9" y1="1181.22" x2="1159.4" y2="1181.22" stroke="#a3a3a3" stroke-width="1"/>
<line x1="998.63" y1="1481.5" x2="998.63" y2="1478.0" stroke="#a3a3a3" stroke-width="1"/>
<line x1="998.63" y1="1174.3" x2="998.63" y2="1177.8" stroke="#a3a3a3" stroke-width="1"/>
<line x1="1080.77" y1="1481.5" x2="1080.77" y2="1478.0" stroke="#a3a3a3" stroke-width="1"/>
<line x1="1080.77" y1="1174.3" x2="1080.77" y2="1177.8" stroke="#a3a3a3" stroke-width="1"/>
<text x="992.79" y="1500.30" font-size="22.50" textLength="11.25" lengthAdjust="spacingAndGlyphs" fill="#303030">5</text>
<text x="1068.96" y="1500.30" font-size="22.50" textLength="22.50" lengthAdjust="spacingAndGlyphs" fill="#303030">10</text>
<text x="1151.10" y="1500.30" font-size="22.50" textLength="22.50" lengthAdjust="spacingAndGlyphs" fill="#303030">15</text>
<text x="1164.09" y="1510.00" font-size="13.50" textLength="8.60" lengthAdjust="spacingAndGlyphs" fill="#262626">×</text>
<text x="1173.36" y="1512.50" font-size="14.00" textLength="14.07" lengthAdjust="spacingAndGlyphs" fill="#262626">10</text>
<text x="1186.81" y="1508.30" font-size="11.50" textLength="6.17" lengthAdjust="spacingAndGlyphs" fill="#262626">3</text>
<text x="303.09" y="1607.30" font-size="33.60" textLength="599.55" lengthAdjust="spacingAndGlyphs" fill="#000">Phase difference of interferogram between</text>
<text x="165.65" y="1643.00" font-size="33.60" textLength="874.96" lengthAdjust="spacingAndGlyphs" fill="#000">cross-correlation plus ESD &amp; geometrical approach plus ESD</text>
<g clip-path="url(#fb0c)"><g filter="url(#fb0)">
<rect x="70.90" y="1594.22" width="57.90" height="60.27" fill="#cccd43"/>
<rect x="128.30" y="1594.22" width="57.90" height="60.27" fill="#cccd43"/>
<rect x="185.70" y="1594.22" width="57.90" height="60.27" fill="#ffd307"/>
<rect x="243.10" y="1594.22" width="57.90" height="60.27" fill="#ffd307"/>
<rect x="70.90" y="1654.00" width="57.90" height="60.27" fill="#cccd43"/>
<rect x="128.30" y="1654.00" width="57.90" height="60.27" fill="#cccd43"/>
<rect x="185.70" y="1654.00" width="57.90" height="60.27" fill="#ffd307"/>
<rect x="243.10" y="1654.00" width="57.90" height="60.27" fill="#ffd307"/>
<rect x="70.90" y="1713.78" width="57.90" height="60.27" fill="#cccd43"/>
<rect x="128.30" y="1713.78" width="57.90" height="60.27" fill="#cccd43"/>
<rect x="185.70" y="1713.78" width="57.90" height="60.27" fill="#cccd43"/>
<rect x="243.10" y="1713.78" width="57.90" height="60.27" fill="#cccd43"/>
<rect x="70.90" y="1773.55" width="57.90" height="60.27" fill="#9ac575"/>
<rect x="128.30" y="1773.55" width="57.90" height="60.27" fill="#9ac575"/>
<rect x="185.70" y="1773.55" width="57.90" height="60.27" fill="#cccd43"/>
<rect x="243.10" y="1773.55" width="57.90" height="60.27" fill="#cccd43"/>
<rect x="70.90" y="1833.32" width="57.90" height="60.27" fill="#72bfb1"/>
<rect x="128.30" y="1833.32" width="57.90" height="60.27" fill="#72bfb1"/>
<rect x="185.70" y="1833.32" width="57.90" height="60.27" fill="#9ac575"/>
<rect x="243.10" y="1833.32" width="57.90" height="60.27" fill="#9ac575"/>
<rect x="70.90" y="1893.10" width="57.90" height="60.27" fill="#72bfb1"/>
<rect x="128.30" y="1893.10" width="57.90" height="60.27" fill="#72bfb1"/>
<rect x="185.70" y="1893.10" width="57.90" height="60.27" fill="#9ac575"/>
<rect x="243.10" y="1893.10" width="57.90" height="60.27" fill="#9ac575"/>
<rect x="70.90" y="1952.88" width="57.90" height="60.27" fill="#9ac575"/>
<rect x="128.30" y="1952.88" width="57.90" height="60.27" fill="#9ac575"/>
<rect x="185.70" y="1952.88" width="57.90" height="60.27" fill="#cccd43"/>
<rect x="243.10" y="1952.88" width="57.90" height="60.27" fill="#cccd43"/>
<rect x="70.90" y="2012.65" width="57.90" height="60.27" fill="#cccd43"/>
<rect x="128.30" y="2012.65" width="57.90" height="60.27" fill="#cccd43"/>
<rect x="185.70" y="2012.65" width="57.90" height="60.27" fill="#ffd307"/>
<rect x="243.10" y="2012.65" width="57.90" height="60.27" fill="#ffd307"/>
<rect x="70.90" y="2072.42" width="57.90" height="60.27" fill="#ffd307"/>
<rect x="128.30" y="2072.42" width="57.90" height="60.27" fill="#ffd307"/>
<rect x="185.70" y="2072.42" width="57.90" height="60.27" fill="#ffbf00"/>
<rect x="243.10" y="2072.42" width="57.90" height="60.27" fill="#ffbf00"/>
<rect x="70.90" y="2132.20" width="57.90" height="60.27" fill="#ffd307"/>
<rect x="128.30" y="2132.20" width="57.90" height="60.27" fill="#ffd307"/>
<rect x="185.70" y="2132.20" width="57.90" height="60.27" fill="#ffbf00"/>
<rect x="243.10" y="2132.20" width="57.90" height="60.27" fill="#ffbf00"/>
</g></g>
<g clip-path="url(#fb1c)"><g filter="url(#fb1)">
<rect x="184.45" y="1594.22" width="59.15" height="60.27" fill="#0e79ff"/>
<rect x="243.10" y="1594.22" width="59.15" height="60.27" fill="#0e79ff"/>
<rect x="301.75" y="1594.22" width="59.15" height="60.27" fill="#2ca1ff"/>
<rect x="360.40" y="1594.22" width="59.15" height="60.27" fill="#4ab5e3"/>
<rect x="419.05" y="1594.22" width="59.15" height="60.27" fill="#72bfb1"/>
<rect x="477.70" y="1594.22" width="59.15" height="60.27" fill="#72bfb1"/>
<rect x="184.45" y="1654.00" width="59.15" height="60.27" fill="#0e79ff"/>
<rect x="243.10" y="1654.00" width="59.15" height="60.27" fill="#0e79ff"/>
<rect x="301.75" y="1654.00" width="59.15" height="60.27" fill="#2ca1ff"/>
<rect x="360.40" y="1654.00" width="59.15" height="60.27" fill="#4ab5e3"/>
<rect x="419.05" y="1654.00" width="59.15" height="60.27" fill="#72bfb1"/>
<rect x="477.70" y="1654.00" width="59.15" height="60.27" fill="#72bfb1"/>
<rect x="184.45" y="1713.78" width="59.15" height="60.27" fill="#2ca1ff"/>
<rect x="243.10" y="1713.78" width="59.15" height="60.27" fill="#2ca1ff"/>
<rect x="301.75" y="1713.78" width="59.15" height="60.27" fill="#4ab5e3"/>
<rect x="360.40" y="1713.78" width="59.15" height="60.27" fill="#72bfb1"/>
<rect x="419.05" y="1713.78" width="59.15" height="60.27" fill="#72bfb1"/>
<rect x="477.70" y="1713.78" width="59.15" height="60.27" fill="#72bfb1"/>
<rect x="184.45" y="1773.55" width="59.15" height="60.27" fill="#4ab5e3"/>
<rect x="243.10" y="1773.55" width="59.15" height="60.27" fill="#4ab5e3"/>
<rect x="301.75" y="1773.55" width="59.15" height="60.27" fill="#72bfb1"/>
<rect x="360.40" y="1773.55" width="59.15" height="60.27" fill="#4ab5e3"/>
<rect x="419.05" y="1773.55" width="59.15" height="60.27" fill="#4ab5e3"/>
<rect x="477.70" y="1773.55" width="59.15" height="60.27" fill="#4ab5e3"/>
<rect x="184.45" y="1833.32" width="59.15" height="60.27" fill="#72bfb1"/>
<rect x="243.10" y="1833.32" width="59.15" height="60.27" fill="#72bfb1"/>
<rect x="301.75" y="1833.32" width="59.15" height="60.27" fill="#72bfb1"/>
<rect x="360.40" y="1833.32" width="59.15" height="60.27" fill="#4ab5e3"/>
<rect x="419.05" y="1833.32" width="59.15" height="60.27" fill="#2ca1ff"/>
<rect x="477.70" y="1833.32" width="59.15" height="60.27" fill="#2ca1ff"/>
<rect x="184.45" y="1893.10" width="59.15" height="60.27" fill="#72bfb1"/>
<rect x="243.10" y="1893.10" width="59.15" height="60.27" fill="#72bfb1"/>
<rect x="301.75" y="1893.10" width="59.15" height="60.27" fill="#4ab5e3"/>
<rect x="360.40" y="1893.10" width="59.15" height="60.27" fill="#4ab5e3"/>
<rect x="419.05" y="1893.10" width="59.15" height="60.27" fill="#2ca1ff"/>
<rect x="477.70" y="1893.10" width="59.15" height="60.27" fill="#2ca1ff"/>
<rect x="184.45" y="1952.88" width="59.15" height="60.27" fill="#4ab5e3"/>
<rect x="243.10" y="1952.88" width="59.15" height="60.27" fill="#4ab5e3"/>
<rect x="301.75" y="1952.88" width="59.15" height="60.27" fill="#4ab5e3"/>
<rect x="360.40" y="1952.88" width="59.15" height="60.27" fill="#72bfb1"/>
<rect x="419.05" y="1952.88" width="59.15" height="60.27" fill="#4ab5e3"/>
<rect x="477.70" y="1952.88" width="59.15" height="60.27" fill="#4ab5e3"/>
<rect x="184.45" y="2012.65" width="59.15" height="60.27" fill="#2ca1ff"/>
<rect x="243.10" y="2012.65" width="59.15" height="60.27" fill="#2ca1ff"/>
<rect x="301.75" y="2012.65" width="59.15" height="60.27" fill="#4ab5e3"/>
<rect x="360.40" y="2012.65" width="59.15" height="60.27" fill="#72bfb1"/>
<rect x="419.05" y="2012.65" width="59.15" height="60.27" fill="#cccd43"/>
<rect x="477.70" y="2012.65" width="59.15" height="60.27" fill="#cccd43"/>
<rect x="184.45" y="2072.42" width="59.15" height="60.27" fill="#0e79ff"/>
<rect x="243.10" y="2072.42" width="59.15" height="60.27" fill="#0e79ff"/>
<rect x="301.75" y="2072.42" width="59.15" height="60.27" fill="#2ca1ff"/>
<rect x="360.40" y="2072.42" width="59.15" height="60.27" fill="#72bfb1"/>
<rect x="419.05" y="2072.42" width="59.15" height="60.27" fill="#ffd307"/>
<rect x="477.70" y="2072.42" width="59.15" height="60.27" fill="#ffd307"/>
<rect x="184.45" y="2132.20" width="59.15" height="60.27" fill="#0e79ff"/>
<rect x="243.10" y="2132.20" width="59.15" height="60.27" fill="#0e79ff"/>
<rect x="301.75" y="2132.20" width="59.15" height="60.27" fill="#2ca1ff"/>
<rect x="360.40" y="2132.20" width="59.15" height="60.27" fill="#72bfb1"/>
<rect x="419.05" y="2132.20" width="59.15" height="60.27" fill="#ffd307"/>
<rect x="477.70" y="2132.20" width="59.15" height="60.27" fill="#ffd307"/>
</g></g>
<g clip-path="url(#fb2c)"><g filter="url(#fb2)">
<rect x="418.75" y="1594.22" width="59.45" height="60.27" fill="#2ca1ff"/>
<rect x="477.70" y="1594.22" width="59.45" height="60.27" fill="#2ca1ff"/>
<rect x="536.65" y="1594.22" width="59.45" height="60.27" fill="#4ab5e3"/>
<rect x="595.60" y="1594.22" width="59.45" height="60.27" fill="#72bfb1"/>
<rect x="654.55" y="1594.22" width="59.45" height="60.27" fill="#ffd307"/>
<rect x="713.50" y="1594.22" width="59.45" height="60.27" fill="#ffd307"/>
<rect x="418.75" y="1654.00" width="59.45" height="60.27" fill="#2ca1ff"/>
<rect x="477.70" y="1654.00" width="59.45" height="60.27" fill="#2ca1ff"/>
<rect x="536.65" y="1654.00" width="59.45" height="60.27" fill="#4ab5e3"/>
<rect x="595.60" y="1654.00" width="59.45" height="60.27" fill="#72bfb1"/>
<rect x="654.55" y="1654.00" width="59.45" height="60.27" fill="#ffd307"/>
<rect x="713.50" y="1654.00" width="59.45" height="60.27" fill="#ffd307"/>
<rect x="418.75" y="1713.78" width="59.45" height="60.27" fill="#4ab5e3"/>
<rect x="477.70" y="1713.78" width="59.45" height="60.27" fill="#4ab5e3"/>
<rect x="536.65" y="1713.78" width="59.45" height="60.27" fill="#72bfb1"/>
<rect x="595.60" y="1713.78" width="59.45" height="60.27" fill="#72bfb1"/>
<rect x="654.55" y="1713.78" width="59.45" height="60.27" fill="#cccd43"/>
<rect x="713.50" y="1713.78" width="59.45" height="60.27" fill="#cccd43"/>
<rect x="418.75" y="1773.55" width="59.45" height="60.27" fill="#72bfb1"/>
<rect x="477.70" y="1773.55" width="59.45" height="60.27" fill="#72bfb1"/>
<rect x="536.65" y="1773.55" width="59.45" height="60.27" fill="#4ab5e3"/>
<rect x="595.60" y="1773.55" width="59.45" height="60.27" fill="#4ab5e3"/>
<rect x="654.55" y="1773.55" width="59.45" height="60.27" fill="#72bfb1"/>
<rect x="713.50" y="1773.55" width="59.45" height="60.27" fill="#72bfb1"/>
<rect x="418.75" y="1833.32" width="59.45" height="60.27" fill="#cccd43"/>
<rect x="477.70" y="1833.32" width="59.45" height="60.27" fill="#cccd43"/>
<rect x="536.65" y="1833.32" width="59.45" height="60.27" fill="#72bfb1"/>
<rect x="595.60" y="1833.32" width="59.45" height="60.27" fill="#4ab5e3"/>
<rect x="654.55" y="1833.32" width="59.45" height="60.27" fill="#2ca1ff"/>
<rect x="713.50" y="1833.32" width="59.45" height="60.27" fill="#2ca1ff"/>
<rect x="418.75" y="1893.10" width="59.45" height="60.27" fill="#cccd43"/>
<rect x="477.70" y="1893.10" width="59.45" height="60.27" fill="#cccd43"/>
<rect x="536.65" y="1893.10" width="59.45" height="60.27" fill="#72bfb1"/>
<rect x="595.60" y="1893.10" width="59.45" height="60.27" fill="#2ca1ff"/>
<rect x="654.55" y="1893.10" width="59.45" height="60.27" fill="#2ca1ff"/>
<rect x="713.50" y="1893.10" width="59.45" height="60.27" fill="#2ca1ff"/>
<rect x="418.75" y="1952.88" width="59.45" height="60.27" fill="#72bfb1"/>
<rect x="477.70" y="1952.88" width="59.45" height="60.27" fill="#72bfb1"/>
<rect x="536.65" y="1952.88" width="59.45" height="60.27" fill="#72bfb1"/>
<rect x="595.60" y="1952.88" width="59.45" height="60.27" fill="#4ab5e3"/>
<rect x="654.55" y="1952.88" width="59.45" height="60.27" fill="#2ca1ff"/>
<rect x="713.50" y="1952.88" width="59.45" height="60.27" fill="#2ca1ff"/>
<rect x="418.75" y="2012.65" width="59.45" height="60.27" fill="#4ab5e3"/>
<rect x="477.70" y="2012.65" width="59.45" height="60.27" fill="#4ab5e3"/>
<rect x="536.65" y="2012.65" width="59.45" height="60.27" fill="#72bfb1"/>
<rect x="595.60" y="2012.65" width="59.45" height="60.27" fill="#72bfb1"/>
<rect x="654.55" y="2012.65" width="59.45" height="60.27" fill="#4ab5e3"/>
<rect x="713.50" y="2012.65" width="59.45" height="60.27" fill="#4ab5e3"/>
<rect x="418.75" y="2072.42" width="59.45" height="60.27" fill="#0e79ff"/>
<rect x="477.70" y="2072.42" width="59.45" height="60.27" fill="#0e79ff"/>
<rect x="536.65" y="2072.42" width="59.45" height="60.27" fill="#4ab5e3"/>
<rect x="595.60" y="2072.42" width="59.45" height="60.27" fill="#72bfb1"/>
<rect x="654.55" y="2072.42" width="59.45" height="60.27" fill="#72bfb1"/>
<rect x="713.50" y="2072.42" width="59.45" height="60.27" fill="#72bfb1"/>
<rect x="418.75" y="2132.20" width="59.45" height="60.27" fill="#0e79ff"/>
<rect x="477.70" y="2132.20" width="59.45" height="60.27" fill="#0e79ff"/>
<rect x="536.65" y="2132.20" width="59.45" height="60.27" fill="#4ab5e3"/>
<rect x="595.60" y="2132.20" width="59.45" height="60.27" fill="#72bfb1"/>
<rect x="654.55" y="2132.20" width="59.45" height="60.27" fill="#72bfb1"/>
<rect x="713.50" y="2132.20" width="59.45" height="60.27" fill="#72bfb1"/>
</g></g>
<g clip-path="url(#fb3c)"><g filter="url(#fb3)">
<rect x="654.80" y="1594.22" width="59.20" height="60.27" fill="#0051ff"/>
<rect x="713.50" y="1594.22" width="59.20" height="60.27" fill="#0051ff"/>
<rect x="772.20" y="1594.22" width="59.20" height="60.27" fill="#2ca1ff"/>
<rect x="830.90" y="1594.22" width="59.20" height="60.27" fill="#72bfb1"/>
<rect x="889.60" y="1594.22" width="59.20" height="60.27" fill="#cccd43"/>
<rect x="948.30" y="1594.22" width="59.20" height="60.27" fill="#cccd43"/>
<rect x="654.80" y="1654.00" width="59.20" height="60.27" fill="#0051ff"/>
<rect x="713.50" y="1654.00" width="59.20" height="60.27" fill="#0051ff"/>
<rect x="772.20" y="1654.00" width="59.20" height="60.27" fill="#2ca1ff"/>
<rect x="830.90" y="1654.00" width="59.20" height="60.27" fill="#72bfb1"/>
<rect x="889.60" y="1654.00" width="59.20" height="60.27" fill="#cccd43"/>
<rect x="948.30" y="1654.00" width="59.20" height="60.27" fill="#cccd43"/>
<rect x="654.80" y="1713.78" width="59.20" height="60.27" fill="#2ca1ff"/>
<rect x="713.50" y="1713.78" width="59.20" height="60.27" fill="#2ca1ff"/>
<rect x="772.20" y="1713.78" width="59.20" height="60.27" fill="#4ab5e3"/>
<rect x="830.90" y="1713.78" width="59.20" height="60.27" fill="#72bfb1"/>
<rect x="889.60" y="1713.78" width="59.20" height="60.27" fill="#cccd43"/>
<rect x="948.30" y="1713.78" width="59.20" height="60.27" fill="#cccd43"/>
<rect x="654.80" y="1773.55" width="59.20" height="60.27" fill="#72bfb1"/>
<rect x="713.50" y="1773.55" width="59.20" height="60.27" fill="#72bfb1"/>
<rect x="772.20" y="1773.55" width="59.20" height="60.27" fill="#72bfb1"/>
<rect x="830.90" y="1773.55" width="59.20" height="60.27" fill="#4ab5e3"/>
<rect x="889.60" y="1773.55" width="59.20" height="60.27" fill="#4ab5e3"/>
<rect x="948.30" y="1773.55" width="59.20" height="60.27" fill="#4ab5e3"/>
<rect x="654.80" y="1833.32" width="59.20" height="60.27" fill="#cccd43"/>
<rect x="713.50" y="1833.32" width="59.20" height="60.27" fill="#cccd43"/>
<rect x="772.20" y="1833.32" width="59.20" height="60.27" fill="#72bfb1"/>
<rect x="830.90" y="1833.32" width="59.20" height="60.27" fill="#4ab5e3"/>
<rect x="889.60" y="1833.32" width="59.20" height="60.27" fill="#2ca1ff"/>
<rect x="948.30" y="1833.32" width="59.20" height="60.27" fill="#2ca1ff"/>
<rect x="654.80" y="1893.10" width="59.20" height="60.27" fill="#cccd43"/>
<rect x="713.50" y="1893.10" width="59.20" height="60.27" fill="#cccd43"/>
<rect x="772.20" y="1893.10" width="59.20" height="60.27" fill="#72bfb1"/>
<rect x="830.90" y="1893.10" width="59.20" height="60.27" fill="#4ab5e3"/>
<rect x="889.60" y="1893.10" width="59.20" height="60.27" fill="#2ca1ff"/>
<rect x="948.30" y="1893.10" width="59.20" height="60.27" fill="#2ca1ff"/>
<rect x="654.80" y="1952.88" width="59.20" height="60.27" fill="#9ac575"/>
<rect x="713.50" y="1952.88" width="59.20" height="60.27" fill="#9ac575"/>
<rect x="772.20" y="1952.88" width="59.20" height="60.27" fill="#72bfb1"/>
<rect x="830.90" y="1952.88" width="59.20" height="60.27" fill="#4ab5e3"/>
<rect x="889.60" y="1952.88" width="59.20" height="60.27" fill="#4ab5e3"/>
<rect x="948.30" y="1952.88" width="59.20" height="60.27" fill="#4ab5e3"/>
<rect x="654.80" y="2012.65" width="59.20" height="60.27" fill="#72bfb1"/>
<rect x="713.50" y="2012.65" width="59.20" height="60.27" fill="#72bfb1"/>
<rect x="772.20" y="2012.65" width="59.20" height="60.27" fill="#72bfb1"/>
<rect x="830.90" y="2012.65" width="59.20" height="60.27" fill="#4ab5e3"/>
<rect x="889.60" y="2012.65" width="59.20" height="60.27" fill="#4ab5e3"/>
<rect x="948.30" y="2012.65" width="59.20" height="60.27" fill="#4ab5e3"/>
<rect x="654.80" y="2072.42" width="59.20" height="60.27" fill="#4ab5e3"/>
<rect x="713.50" y="2072.42" width="59.20" height="60.27" fill="#4ab5e3"/>
<rect x="772.20" y="2072.42" width="59.20" height="60.27" fill="#72bfb1"/>
<rect x="830.90" y="2072.42" width="59.20" height="60.27" fill="#72bfb1"/>
<rect x="889.60" y="2072.42" width="59.20" height="60.27" fill="#4ab5e3"/>
<rect x="948.30" y="2072.42" width="59.20" height="60.27" fill="#4ab5e3"/>
<rect x="654.80" y="2132.20" width="59.20" height="60.27" fill="#4ab5e3"/>
<rect x="713.50" y="2132.20" width="59.20" height="60.27" fill="#4ab5e3"/>
<rect x="772.20" y="2132.20" width="59.20" height="60.27" fill="#72bfb1"/>
<rect x="830.90" y="2132.20" width="59.20" height="60.27" fill="#72bfb1"/>
<rect x="889.60" y="2132.20" width="59.20" height="60.27" fill="#4ab5e3"/>
<rect x="948.30" y="2132.20" width="59.20" height="60.27" fill="#4ab5e3"/>
</g></g>
<g clip-path="url(#fb4c)"><g filter="url(#fb4)">
<rect x="897.73" y="1594.22" width="51.07" height="60.27" fill="#0e79ff"/>
<rect x="948.30" y="1594.22" width="51.07" height="60.27" fill="#0e79ff"/>
<rect x="998.87" y="1594.22" width="51.07" height="60.27" fill="#2ca1ff"/>
<rect x="1049.43" y="1594.22" width="51.07" height="60.27" fill="#4ab5e3"/>
<rect x="1100.00" y="1594.22" width="51.07" height="60.27" fill="#4ab5e3"/>
<rect x="897.73" y="1654.00" width="51.07" height="60.27" fill="#0e79ff"/>
<rect x="948.30" y="1654.00" width="51.07" height="60.27" fill="#0e79ff"/>
<rect x="998.87" y="1654.00" width="51.07" height="60.27" fill="#2ca1ff"/>
<rect x="1049.43" y="1654.00" width="51.07" height="60.27" fill="#4ab5e3"/>
<rect x="1100.00" y="1654.00" width="51.07" height="60.27" fill="#4ab5e3"/>
<rect x="897.73" y="1713.78" width="51.07" height="60.27" fill="#2ca1ff"/>
<rect x="948.30" y="1713.78" width="51.07" height="60.27" fill="#2ca1ff"/>
<rect x="998.87" y="1713.78" width="51.07" height="60.27" fill="#72bfb1"/>
<rect x="1049.43" y="1713.78" width="51.07" height="60.27" fill="#4ab5e3"/>
<rect x="1100.00" y="1713.78" width="51.07" height="60.27" fill="#4ab5e3"/>
<rect x="897.73" y="1773.55" width="51.07" height="60.27" fill="#72bfb1"/>
<rect x="948.30" y="1773.55" width="51.07" height="60.27" fill="#72bfb1"/>
<rect x="998.87" y="1773.55" width="51.07" height="60.27" fill="#cccd43"/>
<rect x="1049.43" y="1773.55" width="51.07" height="60.27" fill="#2ca1ff"/>
<rect x="1100.00" y="1773.55" width="51.07" height="60.27" fill="#2ca1ff"/>
<rect x="897.73" y="1833.32" width="51.07" height="60.27" fill="#cccd43"/>
<rect x="948.30" y="1833.32" width="51.07" height="60.27" fill="#cccd43"/>
<rect x="998.87" y="1833.32" width="51.07" height="60.27" fill="#cccd43"/>
<rect x="1049.43" y="1833.32" width="51.07" height="60.27" fill="#2ca1ff"/>
<rect x="1100.00" y="1833.32" width="51.07" height="60.27" fill="#2ca1ff"/>
<rect x="897.73" y="1893.10" width="51.07" height="60.27" fill="#cccd43"/>
<rect x="948.30" y="1893.10" width="51.07" height="60.27" fill="#cccd43"/>
<rect x="998.87" y="1893.10" width="51.07" height="60.27" fill="#ffd307"/>
<rect x="1049.43" y="1893.10" width="51.07" height="60.27" fill="#2ca1ff"/>
<rect x="1100.00" y="1893.10" width="51.07" height="60.27" fill="#2ca1ff"/>
<rect x="897.73" y="1952.88" width="51.07" height="60.27" fill="#cccd43"/>
<rect x="948.30" y="1952.88" width="51.07" height="60.27" fill="#cccd43"/>
<rect x="998.87" y="1952.88" width="51.07" height="60.27" fill="#cccd43"/>
<rect x="1049.43" y="1952.88" width="51.07" height="60.27" fill="#4ab5e3"/>
<rect x="1100.00" y="1952.88" width="51.07" height="60.27" fill="#4ab5e3"/>
<rect x="897.73" y="2012.65" width="51.07" height="60.27" fill="#72bfb1"/>
<rect x="948.30" y="2012.65" width="51.07" height="60.27" fill="#72bfb1"/>
<rect x="998.87" y="2012.65" width="51.07" height="60.27" fill="#cccd43"/>
<rect x="1049.43" y="2012.65" width="51.07" height="60.27" fill="#4ab5e3"/>
<rect x="1100.00" y="2012.65" width="51.07" height="60.27" fill="#4ab5e3"/>
<rect x="897.73" y="2072.42" width="51.07" height="60.27" fill="#72bfb1"/>
<rect x="948.30" y="2072.42" width="51.07" height="60.27" fill="#72bfb1"/>
<rect x="998.87" y="2072.42" width="51.07" height="60.27" fill="#72bfb1"/>
<rect x="1049.43" y="2072.42" width="51.07" height="60.27" fill="#4ab5e3"/>
<rect x="1100.00" y="2072.42" width="51.07" height="60.27" fill="#4ab5e3"/>
<rect x="897.73" y="2132.20" width="51.07" height="60.27" fill="#72bfb1"/>
<rect x="948.30" y="2132.20" width="51.07" height="60.27" fill="#72bfb1"/>
<rect x="998.87" y="2132.20" width="51.07" height="60.27" fill="#72bfb1"/>
<rect x="1049.43" y="2132.20" width="51.07" height="60.27" fill="#4ab5e3"/>
<rect x="1100.00" y="2132.20" width="51.07" height="60.27" fill="#4ab5e3"/>
</g></g>
<rect x="128.3" y="1654" width="971.7" height="478.2" fill="#000" filter="url(#spkBot)" opacity="0.5"/>
<line x1="243.1" y1="1654.0" x2="243.1" y2="2132.2" stroke="#1b92d6" stroke-width="1.2"/>
<line x1="477.7" y1="1654.0" x2="477.7" y2="2132.2" stroke="#1b92d6" stroke-width="1.2"/>
<line x1="713.5" y1="1654.0" x2="713.5" y2="2132.2" stroke="#1b92d6" stroke-width="1.2"/>
<line x1="948.3" y1="1654.0" x2="948.3" y2="2132.2" stroke="#1b92d6" stroke-width="1.2"/>
<rect x="128.3" y="1654.0" width="971.7" height="478.1999999999998" fill="none" stroke="#454545" stroke-width="1.7"/>
<line x1="128.3" y1="1733.82" x2="138.3" y2="1733.82" stroke="#454545" stroke-width="1.5"/>
<line x1="1100.0" y1="1733.82" x2="1090.0" y2="1733.82" stroke="#454545" stroke-width="1.5"/>
<text x="77.40" y="1742.79" font-size="29.00" textLength="43.50" lengthAdjust="spacingAndGlyphs" fill="#000">200</text>
<line x1="128.3" y1="1813.44" x2="138.3" y2="1813.44" stroke="#454545" stroke-width="1.5"/>
<line x1="1100.0" y1="1813.44" x2="1090.0" y2="1813.44" stroke="#454545" stroke-width="1.5"/>
<text x="77.40" y="1822.16" font-size="29.00" textLength="43.50" lengthAdjust="spacingAndGlyphs" fill="#000">400</text>
<line x1="128.3" y1="1893.06" x2="138.3" y2="1893.06" stroke="#454545" stroke-width="1.5"/>
<line x1="1100.0" y1="1893.06" x2="1090.0" y2="1893.06" stroke="#454545" stroke-width="1.5"/>
<text x="77.40" y="1901.53" font-size="29.00" textLength="43.50" lengthAdjust="spacingAndGlyphs" fill="#000">600</text>
<line x1="128.3" y1="1972.68" x2="138.3" y2="1972.68" stroke="#454545" stroke-width="1.5"/>
<line x1="1100.0" y1="1972.68" x2="1090.0" y2="1972.68" stroke="#454545" stroke-width="1.5"/>
<text x="77.40" y="1980.90" font-size="29.00" textLength="43.50" lengthAdjust="spacingAndGlyphs" fill="#000">800</text>
<line x1="128.3" y1="2052.30" x2="138.3" y2="2052.30" stroke="#454545" stroke-width="1.5"/>
<line x1="1100.0" y1="2052.30" x2="1090.0" y2="2052.30" stroke="#454545" stroke-width="1.5"/>
<text x="62.90" y="2060.27" font-size="29.00" textLength="58.00" lengthAdjust="spacingAndGlyphs" fill="#000">1000</text>
<line x1="128.3" y1="2131.92" x2="138.3" y2="2131.92" stroke="#454545" stroke-width="1.5"/>
<line x1="1100.0" y1="2131.92" x2="1090.0" y2="2131.92" stroke="#454545" stroke-width="1.5"/>
<text x="62.90" y="2139.64" font-size="29.00" textLength="58.00" lengthAdjust="spacingAndGlyphs" fill="#000">1200</text>
<line x1="303.30" y1="2132.2" x2="303.30" y2="2122.2" stroke="#454545" stroke-width="1.5"/>
<line x1="303.30" y1="1654.0" x2="303.30" y2="1664.0" stroke="#454545" stroke-width="1.5"/>
<text x="281.26" y="2159.20" font-size="29.00" textLength="43.50" lengthAdjust="spacingAndGlyphs" fill="#000">500</text>
<line x1="477.30" y1="2132.2" x2="477.30" y2="2122.2" stroke="#454545" stroke-width="1.5"/>
<line x1="477.30" y1="1654.0" x2="477.30" y2="1664.0" stroke="#454545" stroke-width="1.5"/>
<text x="447.58" y="2159.20" font-size="29.00" textLength="58.00" lengthAdjust="spacingAndGlyphs" fill="#000">1000</text>
<line x1="651.30" y1="2132.2" x2="651.30" y2="2122.2" stroke="#454545" stroke-width="1.5"/>
<line x1="651.30" y1="1654.0" x2="651.30" y2="1664.0" stroke="#454545" stroke-width="1.5"/>
<text x="621.58" y="2159.20" font-size="29.00" textLength="58.00" lengthAdjust="spacingAndGlyphs" fill="#000">1500</text>
<line x1="825.30" y1="2132.2" x2="825.30" y2="2122.2" stroke="#454545" stroke-width="1.5"/>
<line x1="825.30" y1="1654.0" x2="825.30" y2="1664.0" stroke="#454545" stroke-width="1.5"/>
<text x="796.22" y="2159.20" font-size="29.00" textLength="58.00" lengthAdjust="spacingAndGlyphs" fill="#000">2000</text>
<line x1="999.30" y1="2132.2" x2="999.30" y2="2122.2" stroke="#454545" stroke-width="1.5"/>
<line x1="999.30" y1="1654.0" x2="999.30" y2="1664.0" stroke="#454545" stroke-width="1.5"/>
<text x="970.22" y="2159.20" font-size="29.00" textLength="58.00" lengthAdjust="spacingAndGlyphs" fill="#000">2500</text>
<text x="477.80" y="2194.20" font-size="27.50" textLength="318.17" lengthAdjust="spacingAndGlyphs" fill="#000">Azimuth [Multilook by 2]</text>
<g transform="rotate(-90)"><text x="-2058.47" y="40.90" font-size="30.50" textLength="302.32" lengthAdjust="spacingAndGlyphs" fill="#000">Range [Multilook by 10]</text></g>
<rect x="892.1" y="1663.4" width="199.3" height="25.5" fill="#fff" stroke="#262626" stroke-width="1"/>
<line x1="900" y1="1676.4" x2="961.2" y2="1676.4" stroke="#1b9be0" stroke-width="1.6"/>
<text x="971.18" y="1683.50" font-size="22.50" textLength="111.28" lengthAdjust="spacingAndGlyphs" fill="#000">Burst Edge</text>
<rect x="1123" y="1729.40" width="21" height="5.29" fill="#70151a"/>
<rect x="1123" y="1734.39" width="21" height="5.29" fill="#7d171c"/>
<rect x="1123" y="1739.38" width="21" height="5.29" fill="#8b191e"/>
<rect x="1123" y="1744.37" width="21" height="5.29" fill="#9d1920"/>
<rect x="1123" y="1749.36" width="21" height="5.29" fill="#af1922"/>
<rect x="1123" y="1754.35" width="21" height="5.29" fill="#c01821"/>
<rect x="1123" y="1759.33" width="21" height="5.29" fill="#d1161d"/>
<rect x="1123" y="1764.32" width="21" height="5.29" fill="#e2141a"/>
<rect x="1123" y="1769.31" width="21" height="5.29" fill="#e81b19"/>
<rect x="1123" y="1774.30" width="21" height="5.29" fill="#ea2419"/>
<rect x="1123" y="1779.29" width="21" height="5.29" fill="#ea2f19"/>
<rect x="1123" y="1784.28" width="21" height="5.29" fill="#e83c19"/>
<rect x="1123" y="1789.27" width="21" height="5.29" fill="#e74a19"/>
<rect x="1123" y="1794.26" width="21" height="5.29" fill="#e95819"/>
<rect x="1123" y="1799.25" width="21" height="5.29" fill="#eb6619"/>
<rect x="1123" y="1804.24" width="21" height="5.29" fill="#ee7319"/>
<rect x="1123" y="1809.22" width="21" height="5.29" fill="#f08019"/>
<rect x="1123" y="1814.21" width="21" height="5.29" fill="#f08e19"/>
<rect x="1123" y="1819.20" width="21" height="5.29" fill="#f09b19"/>
<rect x="1123" y="1824.19" width="21" height="5.29" fill="#f0a91a"/>
<rect x="1123" y="1829.18" width="21" height="5.29" fill="#f0b61d"/>
<rect x="1123" y="1834.17" width="21" height="5.29" fill="#f0c51f"/>
<rect x="1123" y="1839.16" width="21" height="5.29" fill="#f1d721"/>
<rect x="1123" y="1844.15" width="21" height="5.29" fill="#f0e625"/>
<rect x="1123" y="1849.14" width="21" height="5.29" fill="#e4e330"/>
<rect x="1123" y="1854.13" width="21" height="5.29" fill="#d8e13b"/>
<rect x="1123" y="1859.12" width="21" height="5.29" fill="#cfdd40"/>
<rect x="1123" y="1864.10" width="21" height="5.29" fill="#c6d845"/>
<rect x="1123" y="1869.09" width="21" height="5.29" fill="#bad44c"/>
<rect x="1123" y="1874.08" width="21" height="5.29" fill="#abcf56"/>
<rect x="1123" y="1879.07" width="21" height="5.29" fill="#a0cc5f"/>
<rect x="1123" y="1884.06" width="21" height="5.29" fill="#96ca69"/>
<rect x="1123" y="1889.05" width="21" height="5.29" fill="#8cc873"/>
<rect x="1123" y="1894.04" width="21" height="5.29" fill="#85c67c"/>
<rect x="1123" y="1899.03" width="21" height="5.29" fill="#7ec485"/>
<rect x="1123" y="1904.02" width="21" height="5.29" fill="#77c38f"/>
<rect x="1123" y="1909.01" width="21" height="5.29" fill="#73c29b"/>
<rect x="1123" y="1914.00" width="21" height="5.29" fill="#6fc1a7"/>
<rect x="1123" y="1918.98" width="21" height="5.29" fill="#6bc0b3"/>
<rect x="1123" y="1923.97" width="21" height="5.29" fill="#67c0bf"/>
<rect x="1123" y="1928.96" width="21" height="5.29" fill="#62bfca"/>
<rect x="1123" y="1933.95" width="21" height="5.29" fill="#5cbed6"/>
<rect x="1123" y="1938.94" width="21" height="5.29" fill="#50bbde"/>
<rect x="1123" y="1943.93" width="21" height="5.29" fill="#3eb6e1"/>
<rect x="1123" y="1948.92" width="21" height="5.29" fill="#2bb1e5"/>
<rect x="1123" y="1953.91" width="21" height="5.29" fill="#25a7e0"/>
<rect x="1123" y="1958.90" width="21" height="5.29" fill="#2898d7"/>
<rect x="1123" y="1963.89" width="21" height="5.29" fill="#2b89cd"/>
<rect x="1123" y="1968.88" width="21" height="5.29" fill="#2c7fc5"/>
<rect x="1123" y="1973.86" width="21" height="5.29" fill="#2b78bf"/>
<rect x="1123" y="1978.85" width="21" height="5.29" fill="#2a71ba"/>
<rect x="1123" y="1983.84" width="21" height="5.29" fill="#296ab4"/>
<rect x="1123" y="1988.83" width="21" height="5.29" fill="#2863af"/>
<rect x="1123" y="1993.82" width="21" height="5.29" fill="#275fab"/>
<rect x="1123" y="1998.81" width="21" height="5.29" fill="#265ba8"/>
<rect x="1123" y="2003.80" width="21" height="5.29" fill="#2556a5"/>
<rect x="1123" y="2008.79" width="21" height="5.29" fill="#2352a1"/>
<rect x="1123" y="2013.78" width="21" height="5.29" fill="#204b9c"/>
<rect x="1123" y="2018.77" width="21" height="5.29" fill="#1b4395"/>
<rect x="1123" y="2023.75" width="21" height="5.29" fill="#163a8f"/>
<rect x="1123" y="2028.74" width="21" height="5.29" fill="#153486"/>
<rect x="1123" y="2033.73" width="21" height="5.29" fill="#172f7c"/>
<rect x="1123" y="2038.72" width="21" height="5.29" fill="#182a72"/>
<rect x="1123" y="2043.71" width="21" height="5.29" fill="#1c2866"/>
<rect x="1123" y="1729.4" width="21" height="319.2999999999997" fill="none" stroke="#555" stroke-width="0.8"/>
<line x1="1140" y1="1731.50" x2="1144" y2="1731.50" stroke="#555" stroke-width="0.8"/>
<text x="1147.79" y="1739.50" font-size="24.00" textLength="42.00" lengthAdjust="spacingAndGlyphs" fill="#262626">0.05</text>
<line x1="1140" y1="1889.00" x2="1144" y2="1889.00" stroke="#555" stroke-width="0.8"/>
<text x="1147.79" y="1897.00" font-size="24.00" textLength="12.00" lengthAdjust="spacingAndGlyphs" fill="#262626">0</text>
<line x1="1140" y1="2046.50" x2="1144" y2="2046.50" stroke="#555" stroke-width="0.8"/>
<text x="1147.81" y="2054.50" font-size="24.00" textLength="49.99" lengthAdjust="spacingAndGlyphs" fill="#262626">-0.05</text>
<text x="1123.22" y="1714.00" font-size="22.00" textLength="75.76" lengthAdjust="spacingAndGlyphs" fill="#262626">[radians]</text>
</svg>
</body></html>
